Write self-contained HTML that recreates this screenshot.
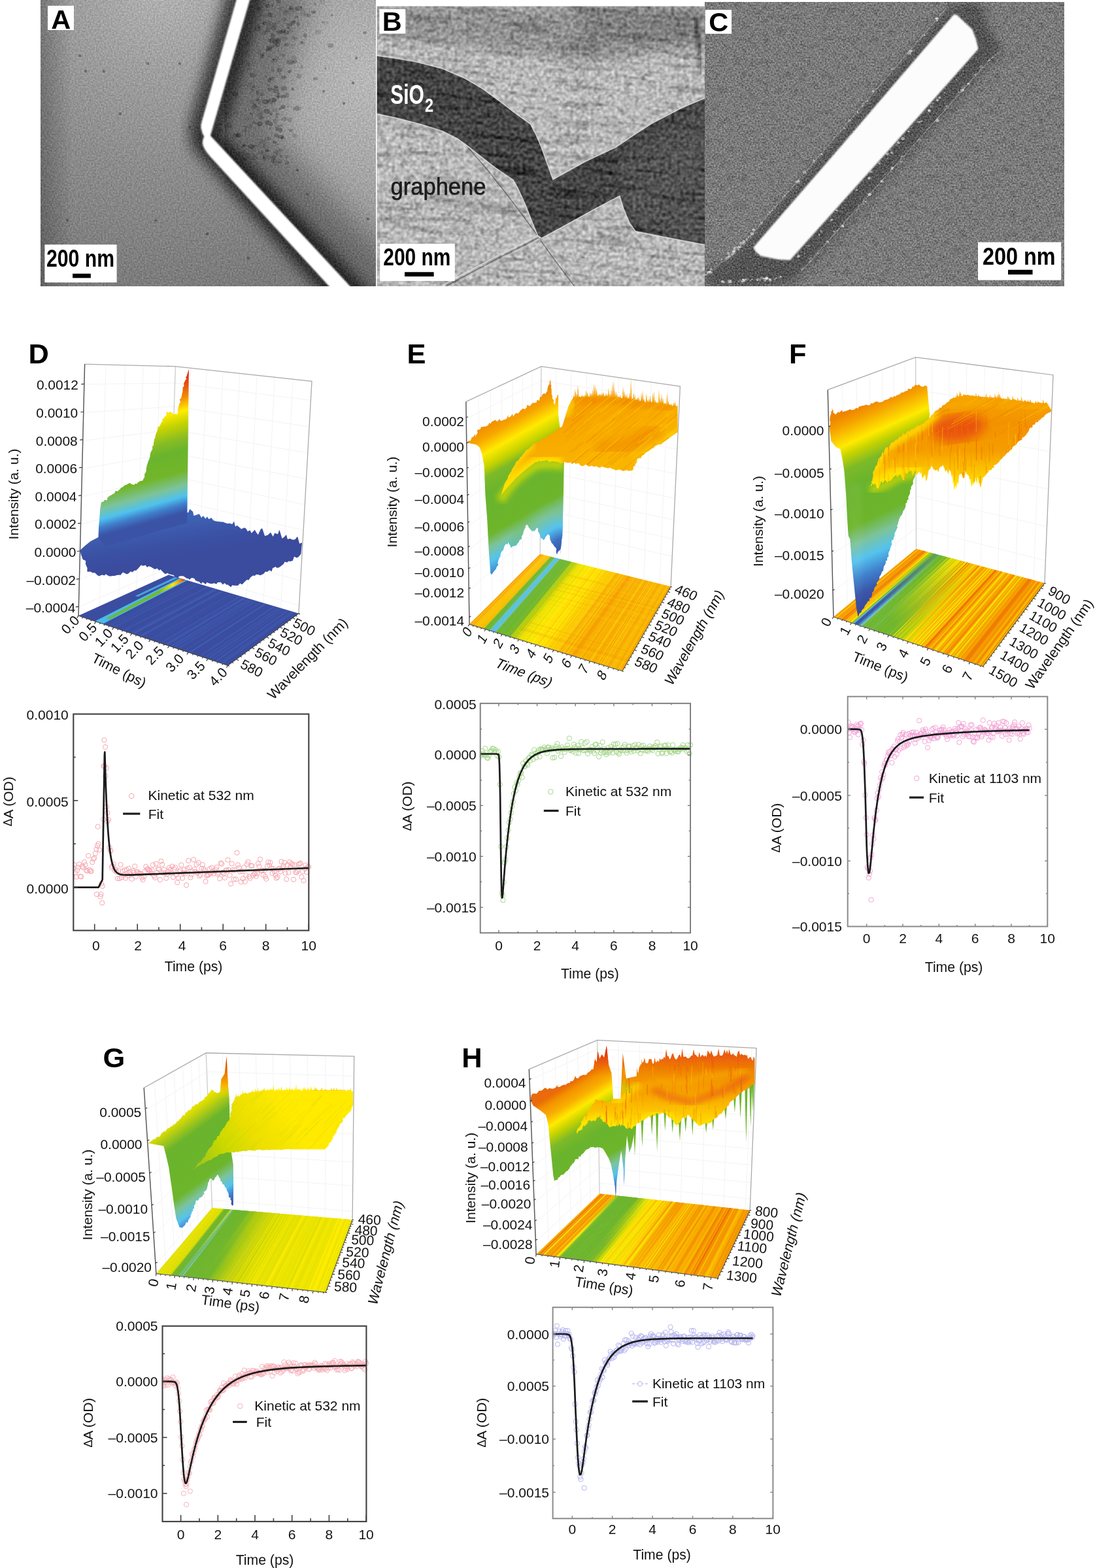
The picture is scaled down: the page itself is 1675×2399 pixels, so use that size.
<!DOCTYPE html>
<html><head><meta charset="utf-8"><title>Figure</title>
<style>
html,body{margin:0;padding:0;background:#fff;}
body{width:1675px;height:2399px;overflow:hidden;position:relative;}
svg{position:absolute;left:0;top:0;display:block;}
text{font-family:"Liberation Sans",sans-serif;}
</style></head><body>
<svg width="1675" height="2399" viewBox="0 0 1675 2399">
<defs>
<filter id="nzA" x="0" y="0" width="100%" height="100%" color-interpolation-filters="sRGB">
 <feTurbulence type="fractalNoise" baseFrequency="0.4" numOctaves="2" seed="3" result="n"/>
 <feColorMatrix in="n" type="matrix" values="1 0 0 0 0  1 0 0 0 0  1 0 0 0 0  0 0 0 0 1" result="g0"/><feGaussianBlur in="g0" stdDeviation="0.6" result="g"/>
 <feComposite in="SourceGraphic" in2="g" operator="arithmetic" k1="0" k2="1" k3="0.26" k4="-0.13"/>
</filter>
<filter id="nzB" x="0" y="0" width="100%" height="100%" color-interpolation-filters="sRGB">
 <feTurbulence type="fractalNoise" baseFrequency="0.22" numOctaves="3" seed="11" result="n"/>
 <feColorMatrix in="n" type="matrix" values="1 0 0 0 0  1 0 0 0 0  1 0 0 0 0  0 0 0 0 1" result="g0"/><feGaussianBlur in="g0" stdDeviation="0.9" result="g"/>
 <feComposite in="SourceGraphic" in2="g" operator="arithmetic" k1="0" k2="1" k3="0.62" k4="-0.31"/>
</filter>
<filter id="nzC" x="0" y="0" width="100%" height="100%" color-interpolation-filters="sRGB">
 <feTurbulence type="fractalNoise" baseFrequency="0.4" numOctaves="2" seed="7" result="n"/>
 <feColorMatrix in="n" type="matrix" values="1 0 0 0 0  1 0 0 0 0  1 0 0 0 0  0 0 0 0 1" result="g0"/><feGaussianBlur in="g0" stdDeviation="0.6" result="g"/>
 <feComposite in="SourceGraphic" in2="g" operator="arithmetic" k1="0" k2="1" k3="0.5" k4="-0.25"/>
</filter>
<filter id="b1"><feGaussianBlur stdDeviation="0.7"/></filter>
<filter id="b15"><feGaussianBlur stdDeviation="1.3"/></filter>
<filter id="b2"><feGaussianBlur stdDeviation="2"/></filter>
<filter id="b4"><feGaussianBlur stdDeviation="4"/></filter>
<filter id="b8"><feGaussianBlur stdDeviation="8"/></filter>
<filter id="b12"><feGaussianBlur stdDeviation="11"/></filter>
<filter id="b14"><feGaussianBlur stdDeviation="14"/></filter>
<filter id="b25"><feGaussianBlur stdDeviation="25"/></filter>
<clipPath id="cA"><rect x="62" y="0" width="513" height="437.6"/></clipPath>
<clipPath id="cB"><rect x="576.6" y="9.5" width="502" height="428.2"/></clipPath>
<clipPath id="cC"><rect x="1078.6" y="3" width="548.6" height="434.5"/></clipPath>
<radialGradient id="gA1" gradientUnits="userSpaceOnUse" cx="255" cy="-30" r="480">
 <stop offset="0" stop-color="#b4b4b4"/><stop offset="0.3" stop-color="#9e9e9e"/><stop offset="0.6" stop-color="#8c8c8c"/><stop offset="1" stop-color="#7a7a7a"/>
</radialGradient>
<radialGradient id="gA4" gradientUnits="userSpaceOnUse" cx="575" cy="120" r="260">
 <stop offset="0" stop-color="#fff" stop-opacity="0.33"/><stop offset="1" stop-color="#fff" stop-opacity="0"/>
</radialGradient>
<linearGradient id="gA2" gradientUnits="userSpaceOnUse" x1="62" y1="0" x2="110" y2="0">
 <stop offset="0" stop-color="#000" stop-opacity="0.22"/><stop offset="1" stop-color="#000" stop-opacity="0"/>
</linearGradient>
<linearGradient id="gA3" gradientUnits="userSpaceOnUse" x1="420" y1="0" x2="575" y2="0">
 <stop offset="0" stop-color="#fff" stop-opacity="0"/><stop offset="1" stop-color="#fff" stop-opacity="0.28"/>
</linearGradient>

<filter id="strk" x="0" y="0" width="100%" height="100%" color-interpolation-filters="sRGB">
 <feTurbulence type="fractalNoise" baseFrequency="0.012 0.11" numOctaves="2" seed="4" result="n"/>
 <feColorMatrix in="n" type="matrix" values="0 0 0 0 0  0 0 0 0 0  0 0 0 0 0  -5 0 0 0 2.35"/>
</filter>
<filter id="blot" x="0" y="0" width="100%" height="100%" color-interpolation-filters="sRGB">
 <feTurbulence type="fractalNoise" baseFrequency="0.09" numOctaves="2" seed="21" result="n"/>
 <feColorMatrix in="n" type="matrix" values="0 0 0 0 0  0 0 0 0 0  0 0 0 0 0  -4 0 0 0 2.0"/>
</filter>
<linearGradient id="gB1" gradientUnits="userSpaceOnUse" x1="0" y1="9" x2="0" y2="95">
 <stop offset="0" stop-color="#000" stop-opacity="0.30"/><stop offset="0.55" stop-color="#000" stop-opacity="0.20"/><stop offset="1" stop-color="#000" stop-opacity="0"/>
</linearGradient>
<clipPath id="cBand"><polygon points="576.0,85.0 607.4,89.5 634.9,94.1 677.0,105.0 712.5,120.5 738.4,135.8 766.5,156.3 785.2,170.8 811.7,190.0 819.8,205.6 828.1,225.0 837.0,250.0 845.9,274.6 894.4,247.5 942.2,225.0 968.0,207.5 996.5,189.0 1043.3,164.7 1080.0,149.2 1080.0,375.0 1015.2,362.6 972.2,354.1 962.8,341.0 953.5,318.6 947.9,299.9 912.3,318.6 874.9,339.2 828.5,364.6 822.5,360.5 813.3,338.0 803.5,313.0 792.0,288.0 785.2,275.5 757.2,256.5 734.7,239.0 716.0,224.0 699.7,212.3 677.0,200.8 644.9,190.5 607.4,180.9 576.0,174.0"/></clipPath>
<linearGradient id="gDs" gradientUnits="userSpaceOnUse" x1="149.9" y1="952.0" x2="284.3" y2="887.4"><stop offset="0.000" stop-color="#4fc1ee"/><stop offset="0.120" stop-color="#66b845"/><stop offset="0.700" stop-color="#74b92a"/><stop offset="0.860" stop-color="#ffe800"/><stop offset="0.940" stop-color="#f39200"/><stop offset="1.000" stop-color="#e2231a"/></linearGradient><linearGradient id="gDf" gradientUnits="userSpaceOnUse" x1="300.0" y1="790.0" x2="310.0" y2="850.0"><stop offset="0.000" stop-color="#3d62b4"/><stop offset="0.500" stop-color="#3b52a5"/><stop offset="1.000" stop-color="#3a4b9d"/></linearGradient><linearGradient id="gDw" gradientUnits="userSpaceOnUse" x1="286.8" y1="565.8" x2="343.8" y2="769.0"><stop offset="0.000" stop-color="#df2319"/><stop offset="0.100" stop-color="#e8500f"/><stop offset="0.190" stop-color="#f39200"/><stop offset="0.275" stop-color="#ffec00"/><stop offset="0.360" stop-color="#c8d400"/><stop offset="0.470" stop-color="#86bc25"/><stop offset="0.550" stop-color="#6ab42d"/><stop offset="0.700" stop-color="#72b62b"/><stop offset="0.800" stop-color="#7cc39a"/><stop offset="0.875" stop-color="#4fc1ee"/><stop offset="0.930" stop-color="#3f7fcb"/><stop offset="0.985" stop-color="#3b55a8"/><stop offset="1.000" stop-color="#3b52a5"/></linearGradient><linearGradient id="gEc" gradientUnits="userSpaceOnUse" x1="754.7" y1="641.8" x2="870.9" y2="846.9"><stop offset="0.000" stop-color="#f08c00"/><stop offset="0.074" stop-color="#f7a400"/><stop offset="0.167" stop-color="#ffea00"/><stop offset="0.247" stop-color="#c4d200"/><stop offset="0.304" stop-color="#7dba28"/><stop offset="0.400" stop-color="#6ab42d"/><stop offset="0.640" stop-color="#6db52c"/><stop offset="0.711" stop-color="#7cc39a"/><stop offset="0.790" stop-color="#55c3ee"/><stop offset="0.870" stop-color="#3f86cf"/><stop offset="0.940" stop-color="#3a55a8"/><stop offset="1.000" stop-color="#37479a"/></linearGradient><clipPath id="cEc"><polygon points="714.5,677.1 716.5,674.6 718.6,674.4 719.7,674.3 722.1,668.5 723.6,669.1 726.8,664.3 727.5,669.3 728.1,665.2 728.7,665.3 730.6,662.6 729.9,659.1 731.0,657.5 734.3,657.1 736.2,653.0 737.4,653.2 739.3,652.7 742.4,652.6 743.5,652.4 746.9,650.3 748.6,646.5 750.3,648.8 751.9,645.5 754.9,643.9 757.3,642.4 760.7,645.1 764.0,641.1 766.0,644.1 768.7,643.3 770.9,641.9 772.1,642.1 775.1,640.5 777.1,635.3 777.8,639.1 780.7,637.4 783.9,633.4 785.2,637.4 787.5,633.5 790.3,631.8 792.0,632.8 794.7,630.2 795.7,628.4 799.2,625.5 800.8,624.8 802.2,626.5 805.7,623.5 806.1,619.4 810.0,621.1 811.5,620.5 813.1,618.0 815.6,616.1 817.1,616.8 820.7,615.5 821.5,611.7 825.0,613.0 825.6,609.1 827.0,606.3 828.7,607.3 829.3,603.9 832.0,602.0 834.5,602.4 835.9,600.0 837.2,598.5 837.5,594.2 839.5,587.3 838.8,589.7 840.5,587.9 840.7,584.5 841.5,580.8 842.7,585.8 842.2,587.5 843.6,590.2 842.9,591.4 843.7,596.3 843.7,598.6 843.9,602.0 843.5,602.4 845.3,606.4 844.6,608.0 845.7,610.8 847.1,612.3 846.8,616.5 848.4,619.0 849.9,614.4 849.8,611.8 850.0,609.5 851.5,608.7 852.8,604.9 852.7,603.2 854.1,605.1 854.1,634.8 862.8,704.7 861.9,757.1 860.2,820.0 859.3,824.8 856.7,851.0 857.7,838.8 855.7,842.4 856.1,841.8 853.0,844.4 852.2,848.0 851.3,846.3 850.7,844.0 851.3,840.5 850.5,838.3 848.1,836.0 847.4,834.7 844.9,831.3 843.9,831.1 843.4,829.1 842.1,826.8 841.4,823.7 841.2,820.0 840.0,817.9 838.8,817.5 837.8,817.1 835.1,820.8 834.4,821.0 833.8,823.1 831.6,826.6 830.1,824.0 827.6,823.2 826.5,819.2 825.4,816.6 824.1,814.8 823.2,812.8 823.1,808.6 820.9,806.9 820.2,808.8 817.6,812.2 815.0,812.3 813.4,812.6 812.0,810.4 810.3,808.6 808.2,805.9 808.2,804.6 805.6,802.6 803.8,805.0 803.9,806.5 801.8,810.4 801.1,812.4 800.5,813.7 800.1,817.3 799.3,818.0 797.8,820.8 798.0,823.5 797.5,825.2 795.2,825.5 793.5,829.4 792.8,830.1 790.5,833.0 790.5,834.0 786.5,835.5 784.5,835.6 782.0,838.2 780.1,834.1 778.5,832.3 777.8,829.6 776.3,833.1 773.6,832.2 771.2,836.4 771.1,836.7 770.6,839.5 769.1,842.7 767.6,843.6 766.3,845.9 765.5,849.3 765.4,852.2 764.4,852.2 762.7,856.3 762.0,858.5 761.2,861.8 762.4,863.9 760.1,867.1 759.2,868.6 759.1,870.1 755.8,873.7 755.5,874.4 754.2,875.9 752.1,879.0 750.3,877.2 747.7,842.3 745.9,807.4 745.1,792.0 742.4,757.1 740.7,713.4 737.2,694.2 733.7,684.6 728.5,680.2 719.7,678.5"/></clipPath><radialGradient id="gEr" gradientUnits="userSpaceOnUse" cx="866" cy="850" r="92"><stop offset="0" stop-color="#37479a"/><stop offset="0.3" stop-color="#3d6fc0"/><stop offset="0.5" stop-color="#55c3ee"/><stop offset="0.72" stop-color="#7cc39a" stop-opacity="0.8"/><stop offset="1" stop-color="#6db52c" stop-opacity="0"/></radialGradient><clipPath id="cEf"><polygon points="865.4,634.8 870.0,620.8 876.9,607.9 877.6,603.9 879.0,609.0 879.7,594.6 881.1,608.6 881.8,600.5 883.2,608.1 883.9,588.5 885.3,608.0 886.0,605.5 887.4,607.3 888.1,608.0 889.5,606.4 890.2,604.2 891.6,607.3 892.3,605.8 893.7,607.2 894.4,604.3 895.7,606.4 896.4,596.7 897.8,607.3 898.5,598.9 899.8,607.2 900.5,605.6 901.8,607.4 902.5,600.4 903.8,606.8 904.5,600.8 905.9,606.0 906.6,595.1 907.9,606.0 908.6,586.2 909.9,606.3 910.6,588.1 911.9,605.5 912.6,594.3 914.0,607.1 914.7,604.2 916.0,605.3 916.7,602.2 918.0,606.1 918.7,602.2 920.1,606.3 920.8,601.0 922.1,606.1 922.8,599.3 924.1,605.1 924.8,605.7 926.1,606.1 926.8,601.0 928.1,606.6 928.8,602.5 930.1,607.0 930.8,593.0 932.1,606.2 932.8,602.5 934.1,606.9 934.8,595.3 936.1,607.5 936.8,583.9 938.1,608.3 938.8,580.7 940.1,607.8 940.8,597.5 942.1,608.0 942.8,599.0 944.1,608.2 944.8,604.4 946.1,608.8 946.8,606.4 948.1,608.2 948.8,603.9 950.2,609.7 950.9,608.8 952.2,609.5 952.9,590.1 954.2,609.6 954.9,596.6 956.2,609.4 956.9,603.3 958.3,609.8 959.0,602.8 960.3,611.0 961.0,607.5 962.3,611.2 963.0,599.3 964.3,610.6 965.0,578.6 966.4,612.2 967.1,609.2 968.4,611.1 969.1,600.9 970.4,612.0 971.1,603.5 972.5,612.8 973.2,610.6 974.5,611.8 975.2,606.9 976.5,613.2 977.2,606.4 978.4,614.0 979.1,613.2 980.3,613.2 981.0,600.2 982.3,614.4 983.0,596.6 984.2,614.6 984.9,609.1 986.1,615.0 986.8,615.1 988.0,614.2 988.7,601.5 990.0,614.3 990.7,612.3 991.9,615.9 992.6,609.2 993.8,615.5 994.5,605.0 995.7,615.6 996.4,614.7 997.6,615.5 998.3,599.5 999.6,615.5 1000.3,597.2 1001.5,617.2 1002.2,611.5 1003.4,616.2 1004.1,615.4 1005.3,617.0 1006.0,614.2 1007.2,618.1 1007.9,595.3 1009.3,617.8 1010.0,609.0 1011.3,617.6 1012.0,601.8 1013.4,617.4 1014.1,609.1 1015.4,618.7 1016.1,616.2 1017.5,618.0 1018.2,616.1 1019.5,620.0 1020.2,600.8 1021.6,620.3 1022.3,612.1 1023.6,619.4 1024.3,618.4 1025.7,620.5 1026.4,616.8 1027.7,621.2 1028.4,620.3 1029.8,620.7 1030.5,615.1 1031.8,620.8 1032.5,614.0 1033.8,620.9 1034.5,620.4 1035.9,622.2 1036.6,617.7 1036.6,622.6 1036.6,661.0 1012.1,678.5 1010.6,680.2 1008.8,679.6 1005.9,680.8 1003.9,681.5 1001.6,682.8 999.6,685.7 997.6,685.9 993.9,688.8 993.7,688.8 990.7,691.1 989.9,691.3 987.6,692.2 984.5,696.2 982.9,696.2 981.1,698.5 980.3,701.2 978.3,700.9 974.8,701.7 974.3,705.2 973.8,708.0 971.5,710.5 971.9,712.4 970.2,712.7 968.6,715.2 968.8,718.6 965.6,720.6 965.1,719.5 962.0,720.8 960.0,719.6 957.5,719.4 954.5,720.4 952.1,720.6 950.4,719.3 946.6,718.3 944.6,719.1 941.8,719.8 938.9,717.7 936.9,717.5 935.3,717.0 933.3,715.2 930.4,716.8 927.5,715.8 924.6,714.9 921.9,714.0 919.5,714.0 917.9,715.7 913.9,714.6 912.4,713.1 909.7,714.3 908.1,713.8 904.6,712.4 902.0,713.7 899.6,713.4 897.3,710.9 895.4,710.8 892.4,713.0 889.3,712.9 886.8,711.0 885.8,709.3 883.6,708.8 880.7,709.9 878.8,707.8 874.8,709.7 872.5,707.3 870.0,707.9 868.4,708.3 865.6,707.5 863.6,706.9 861.3,707.3 860.0,708.9 856.8,708.8 854.2,707.2 853.4,706.5 850.7,706.5 847.7,705.8 844.6,705.4 842.7,706.5 839.4,706.6 836.6,703.9 835.9,704.0 832.4,705.4 830.5,704.9 826.8,706.3 824.3,704.5 823.0,707.2 820.0,706.4 807.1,716.0 789.6,730.9 775.6,746.6 766.9,757.1 772.1,739.6 774.1,737.1 773.8,736.1 775.7,733.9 777.4,729.8 777.2,728.1 778.9,726.3 780.2,723.4 780.9,722.9 782.4,720.9 782.7,718.9 784.6,715.8 786.8,713.2 786.3,712.5 788.2,710.4 788.9,707.4 790.3,706.1 792.7,704.4 795.0,701.4 795.2,699.3 796.8,699.2 799.0,696.3 800.5,694.4 802.0,692.7 804.2,689.6 804.7,688.4 808.3,687.0 809.6,685.8 811.2,683.7 813.5,682.2 815.1,679.2 818.4,677.9 820.7,678.5 821.7,675.6 824.3,676.1 826.9,672.9 829.0,672.6 830.7,670.9 833.2,669.7 835.4,668.9 838.6,666.8 840.3,664.9 842.6,664.3 844.1,663.6 845.5,662.0 848.5,659.3 849.2,658.5 852.2,658.5 854.0,655.2 856.7,654.2 858.9,653.1 860.0,652.3"/></clipPath><linearGradient id="gEf" gradientUnits="userSpaceOnUse" x1="905.0" y1="600.0" x2="935.0" y2="700.0"><stop offset="0.000" stop-color="#f49a00"/><stop offset="0.500" stop-color="#f8aa00"/><stop offset="1.000" stop-color="#f9b400"/></linearGradient><linearGradient id="mFg" gradientUnits="userSpaceOnUse" x1="1383.3" y1="979.7" x2="1495.5" y2="864.9"><stop offset="0.05" stop-color="#000"/><stop offset="0.95" stop-color="#fff"/></linearGradient><mask id="mF" maskUnits="userSpaceOnUse" x="1270" y="835" width="333" height="190"><rect x="1270" y="835" width="333" height="190" fill="url(#mFg)"/></mask><linearGradient id="gFc" gradientUnits="userSpaceOnUse" x1="1287.2" y1="634.8" x2="1407.5" y2="899.2"><stop offset="0.000" stop-color="#ee8500"/><stop offset="0.055" stop-color="#f6a200"/><stop offset="0.154" stop-color="#ffea00"/><stop offset="0.206" stop-color="#c4d200"/><stop offset="0.274" stop-color="#7dba28"/><stop offset="0.360" stop-color="#6ab42d"/><stop offset="0.560" stop-color="#6db52c"/><stop offset="0.647" stop-color="#7cc39a"/><stop offset="0.733" stop-color="#55c3ee"/><stop offset="0.820" stop-color="#3f80cc"/><stop offset="0.900" stop-color="#3a55a8"/><stop offset="1.000" stop-color="#37479a"/></linearGradient><clipPath id="cFc"><polygon points="1268.9,655.8 1268.4,652.8 1269.7,651.8 1270.0,648.1 1270.1,645.5 1269.3,643.7 1269.5,639.0 1269.5,637.9 1271.3,632.9 1271.5,631.8 1270.7,629.3 1272.9,629.5 1272.6,624.7 1274.7,628.6 1274.7,631.5 1277.3,633.1 1277.5,634.8 1280.7,631.5 1282.0,630.2 1284.2,631.1 1287.9,627.2 1288.9,630.2 1293.0,629.0 1294.9,628.5 1298.1,627.3 1300.1,626.3 1302.1,627.1 1304.1,627.5 1308.0,625.9 1309.4,624.0 1312.6,625.0 1313.7,622.2 1316.3,621.4 1319.0,620.8 1322.5,620.3 1324.8,618.9 1327.1,620.0 1330.3,620.0 1333.0,616.4 1334.9,617.5 1337.7,615.4 1339.8,614.3 1342.9,614.6 1343.9,615.8 1347.8,615.2 1349.8,614.7 1352.5,612.5 1354.8,611.8 1357.0,611.3 1360.1,609.7 1361.9,608.2 1363.0,606.9 1365.5,608.6 1367.4,605.7 1369.5,606.7 1371.4,604.9 1373.6,604.3 1376.5,603.1 1379.1,600.2 1381.2,600.7 1382.6,599.7 1386.1,597.9 1388.1,597.9 1389.0,594.5 1392.3,595.6 1394.7,594.2 1395.9,590.9 1397.6,592.1 1400.0,588.5 1403.2,589.7 1405.9,588.2 1408.3,590.8 1409.6,591.5 1412.4,591.6 1415.4,589.8 1418.2,591.1 1418.9,599.9 1422.2,634.8 1413.0,687.2 1402.5,715.2 1399.0,730.9 1397.0,734.1 1396.6,736.2 1396.8,740.2 1394.5,743.5 1393.5,745.2 1393.8,747.7 1392.2,750.1 1392.1,754.5 1391.3,756.4 1389.1,760.7 1389.9,763.6 1387.7,765.4 1387.0,769.6 1385.2,770.2 1385.3,774.7 1384.4,777.3 1383.8,779.3 1381.7,781.6 1380.6,785.3 1379.4,788.1 1376.9,790.4 1376.5,792.2 1375.4,794.7 1374.4,797.7 1373.6,801.9 1372.2,804.2 1373.0,806.8 1371.2,810.6 1370.4,812.4 1368.6,815.3 1368.2,820.2 1367.3,822.1 1366.5,825.7 1363.9,827.1 1363.7,830.1 1364.5,832.7 1362.2,837.2 1361.6,839.5 1360.9,843.0 1359.6,844.3 1358.9,847.9 1359.6,850.8 1357.2,853.2 1357.1,857.5 1354.8,858.0 1355.1,860.8 1353.4,865.1 1352.1,866.1 1351.3,871.1 1351.0,873.7 1349.5,874.1 1347.8,878.5 1346.9,880.2 1345.2,882.5 1345.3,886.0 1342.4,889.7 1341.0,891.5 1341.4,895.2 1339.7,896.4 1337.3,899.8 1337.0,902.9 1335.8,905.6 1334.1,906.4 1334.3,909.1 1332.9,913.9 1329.8,915.2 1330.2,919.2 1327.3,919.9 1326.3,922.5 1323.0,926.8 1322.3,928.7 1321.3,930.8 1318.0,933.8 1317.5,936.7 1314.7,938.5 1313.4,941.9 1312.5,943.6 1309.9,929.7 1306.4,894.7 1302.9,859.8 1300.3,824.8 1297.7,820.0 1295.9,792.0 1294.2,757.1 1291.6,722.1 1289.0,704.7 1285.5,687.2 1278.5,683.7 1271.5,675.0"/></clipPath><clipPath id="cFf"><polygon points="1332.6,744.8 1332.3,740.9 1334.0,739.7 1332.8,737.1 1334.9,734.6 1334.4,732.4 1335.6,728.7 1335.3,724.7 1335.7,725.5 1335.2,722.4 1337.8,718.5 1338.1,716.9 1339.2,714.0 1339.2,714.1 1341.8,710.9 1342.3,707.7 1343.5,704.8 1343.6,702.2 1345.8,700.2 1346.2,699.4 1348.0,698.1 1349.1,694.0 1349.5,692.2 1352.3,692.0 1352.9,688.4 1355.3,683.4 1356.7,684.5 1356.7,684.9 1359.9,682.8 1361.7,681.2 1362.1,678.7 1364.6,676.6 1366.3,676.5 1368.4,674.7 1370.0,672.4 1373.5,672.3 1374.0,670.2 1376.5,667.5 1378.8,668.6 1381.3,662.3 1384.0,664.5 1385.0,664.5 1387.0,660.8 1389.1,659.1 1391.9,659.6 1393.9,656.5 1396.7,655.9 1397.8,655.9 1400.6,653.3 1402.5,650.7 1405.5,650.6 1408.1,650.5 1409.9,648.2 1412.1,648.3 1414.5,646.3 1415.5,643.6 1418.8,643.1 1421.0,639.0 1423.0,638.9 1424.3,635.7 1425.5,635.5 1427.5,633.0 1429.3,630.8 1431.4,628.5 1434.0,627.4 1436.2,625.9 1437.3,623.5 1439.8,624.1 1442.3,619.4 1442.9,619.9 1446.0,618.7 1447.6,616.8 1449.2,615.5 1452.0,614.1 1453.7,610.6 1456.3,610.3 1455.6,609.6 1456.3,609.1 1457.5,609.9 1458.2,607.4 1459.4,608.5 1460.1,608.9 1461.3,608.6 1462.0,606.5 1463.2,607.9 1463.9,599.5 1465.1,607.9 1465.8,604.2 1467.0,607.5 1467.7,597.2 1468.9,606.2 1469.6,598.4 1470.8,605.9 1471.5,606.0 1472.7,606.0 1473.4,602.3 1474.6,605.0 1475.3,603.4 1476.5,604.5 1477.2,604.1 1478.5,605.1 1479.2,603.5 1480.4,604.9 1481.1,604.1 1482.4,604.9 1483.1,604.7 1484.3,605.2 1485.0,605.6 1486.3,605.2 1487.0,604.1 1488.2,606.2 1488.9,604.5 1490.1,605.9 1490.8,605.4 1492.1,606.6 1492.8,601.1 1494.0,606.1 1494.7,606.3 1496.0,606.5 1496.7,603.5 1497.9,606.7 1498.6,605.5 1499.8,606.7 1500.5,606.9 1501.8,607.4 1502.5,606.8 1503.7,607.0 1504.4,607.6 1505.7,607.6 1506.4,606.2 1507.6,607.9 1508.3,601.3 1509.5,608.3 1510.2,606.8 1511.5,608.0 1512.2,607.8 1513.4,608.7 1514.1,603.4 1515.4,608.7 1516.1,606.3 1517.3,609.0 1518.0,607.6 1519.2,609.3 1519.9,607.3 1521.2,609.4 1521.9,601.6 1523.1,609.3 1523.8,606.3 1525.1,609.5 1525.8,603.6 1527.0,609.5 1527.7,599.4 1529.0,609.5 1529.7,603.0 1530.9,610.1 1531.6,608.3 1532.8,610.1 1533.5,610.1 1534.8,610.8 1535.5,608.2 1536.7,611.0 1537.4,609.9 1538.7,610.7 1539.4,610.1 1540.6,610.9 1541.3,605.6 1542.5,611.2 1543.2,606.9 1544.5,611.2 1545.2,610.9 1546.4,612.0 1547.1,612.0 1548.4,611.6 1549.1,605.0 1550.3,611.8 1551.0,609.2 1552.2,612.7 1552.9,610.3 1554.2,612.5 1554.9,612.1 1556.1,613.4 1556.8,607.5 1558.1,613.4 1558.8,612.5 1560.0,613.3 1560.7,611.8 1561.9,614.2 1562.6,606.0 1563.9,614.3 1564.6,614.1 1565.8,615.0 1566.5,611.2 1567.8,614.4 1568.5,611.5 1569.7,614.9 1570.4,613.6 1571.6,615.6 1572.3,611.1 1573.6,615.9 1574.3,614.0 1575.5,615.9 1576.2,610.5 1577.5,616.1 1578.2,615.9 1579.4,616.2 1580.1,616.0 1581.4,616.9 1582.1,616.8 1583.3,617.1 1584.0,612.7 1585.2,617.0 1585.9,614.7 1587.1,617.3 1587.8,612.9 1589.0,616.6 1589.7,615.0 1591.0,617.0 1591.7,615.8 1592.9,616.9 1593.6,616.6 1594.8,616.8 1595.5,610.8 1596.7,616.6 1597.4,617.0 1598.6,616.9 1599.3,615.4 1600.6,616.5 1601.3,614.6 1601.7,618.2 1602.4,617.3 1602.9,620.7 1603.6,617.9 1604.1,622.4 1604.8,621.0 1605.2,623.8 1605.9,622.7 1606.4,625.4 1607.1,625.8 1607.6,627.8 1608.3,620.5 1608.3,627.8 1608.3,629.6 1605.8,630.8 1603.1,632.1 1599.9,633.8 1597.8,636.0 1596.9,637.8 1594.3,638.9 1592.3,640.9 1588.5,644.1 1587.3,646.1 1584.2,646.0 1583.1,649.3 1579.5,650.3 1579.3,654.1 1575.2,654.8 1573.8,658.7 1573.3,660.2 1570.8,663.3 1569.0,666.0 1566.9,668.2 1563.5,670.0 1563.4,672.9 1560.5,673.7 1558.0,675.1 1555.4,678.8 1554.5,680.4 1551.4,682.0 1549.0,684.0 1547.4,688.1 1545.8,688.3 1542.8,692.0 1540.1,693.2 1538.7,695.2 1537.3,697.0 1534.3,699.4 1531.5,702.7 1529.5,704.1 1528.8,706.3 1525.7,709.0 1523.6,711.1 1520.5,711.8 1520.5,715.8 1517.9,715.7 1516.6,719.3 1512.8,719.6 1511.8,722.5 1510.0,723.8 1507.4,727.4 1505.2,729.7 1503.4,730.9 1500.0,747.3 1499.3,743.6 1498.6,739.6 1498.0,739.2 1497.3,739.8 1496.7,736.1 1496.0,730.4 1495.4,730.2 1494.7,740.8 1493.6,736.5 1492.4,729.8 1491.2,739.0 1490.1,736.1 1488.9,742.8 1487.7,738.0 1486.6,745.4 1485.4,741.5 1484.2,733.0 1483.1,733.4 1481.9,728.2 1480.7,726.5 1479.6,725.9 1478.4,724.9 1477.2,721.0 1475.1,731.2 1472.9,731.5 1470.7,723.7 1468.5,726.5 1467.7,725.8 1466.9,727.9 1466.1,737.8 1465.3,741.2 1464.5,737.9 1463.8,739.7 1463.0,747.7 1462.2,745.0 1461.4,742.5 1460.6,746.2 1459.8,749.6 1459.5,748.6 1459.2,748.4 1458.9,741.3 1458.6,738.8 1458.3,737.1 1458.0,737.9 1457.7,743.4 1457.5,733.5 1457.2,727.0 1456.9,726.0 1456.6,727.2 1456.3,732.6 1454.3,721.9 1452.3,717.7 1450.3,725.5 1448.3,718.8 1446.3,721.7 1444.3,715.7 1442.3,711.5 1440.6,713.5 1438.8,714.3 1437.1,715.8 1435.3,722.7 1433.6,718.1 1431.8,720.6 1430.1,718.9 1428.3,718.4 1426.6,714.8 1424.8,712.6 1423.6,715.6 1422.4,719.6 1421.2,717.5 1420.0,722.4 1418.7,730.8 1417.5,735.3 1416.3,735.8 1415.1,725.9 1413.8,727.8 1412.6,730.3 1411.6,730.0 1410.7,733.0 1409.7,725.1 1408.7,722.1 1407.8,725.9 1406.8,721.1 1405.8,723.3 1404.9,721.7 1403.9,724.0 1401.9,726.8 1399.9,718.8 1397.9,723.9 1395.9,728.5 1393.9,719.6 1391.9,720.9 1389.9,721.8 1387.7,725.7 1385.5,722.8 1383.3,734.3 1381.1,734.5 1378.9,728.3 1376.7,725.4 1374.5,727.3 1372.6,730.3 1370.7,726.1 1368.7,729.0 1366.8,729.6 1364.8,733.0 1362.9,734.8 1361.0,736.0 1359.0,736.1 1357.1,738.6 1354.8,734.6 1352.5,735.6 1350.3,739.3 1348.0,735.8 1345.7,742.6 1343.4,747.6 1341.2,746.4 1338.9,739.1 1336.6,742.0 1334.4,739.5"/></clipPath><linearGradient id="gFf" gradientUnits="userSpaceOnUse" x1="1480.0" y1="605.0" x2="1480.0" y2="745.0"><stop offset="0.000" stop-color="#f7a600"/><stop offset="0.300" stop-color="#f39200"/><stop offset="0.600" stop-color="#f59d00"/><stop offset="0.820" stop-color="#fcc400"/><stop offset="1.000" stop-color="#ffe600"/></linearGradient><linearGradient id="mGg" gradientUnits="userSpaceOnUse" x1="364.5" y1="1962.6" x2="429.1" y2="1856.9"><stop offset="0.05" stop-color="#000"/><stop offset="0.95" stop-color="#fff"/></linearGradient><mask id="mG" maskUnits="userSpaceOnUse" x="234" y="1843" width="310" height="139"><rect x="234" y="1843" width="310" height="139" fill="url(#mGg)"/></mask><linearGradient id="gGc" gradientUnits="userSpaceOnUse" x1="274.7" y1="1701.1" x2="369.5" y2="1832.8"><stop offset="0.000" stop-color="#f2e600"/><stop offset="0.065" stop-color="#dcdc00"/><stop offset="0.145" stop-color="#a6c81a"/><stop offset="0.237" stop-color="#6ab42d"/><stop offset="0.645" stop-color="#6db52c"/><stop offset="0.742" stop-color="#7cc39a"/><stop offset="0.839" stop-color="#55c3ee"/><stop offset="0.914" stop-color="#3f80cc"/><stop offset="1.000" stop-color="#37479a"/></linearGradient><linearGradient id="gGs" gradientUnits="userSpaceOnUse" x1="346.0" y1="1616.0" x2="346.0" y2="1680.0"><stop offset="0.000" stop-color="#e2231a"/><stop offset="0.350" stop-color="#ee6a05"/><stop offset="0.650" stop-color="#f7a600"/><stop offset="1.000" stop-color="#f2e600" stop-opacity="0"/></linearGradient><clipPath id="cGf"><polygon points="295.6,1789.1 297.0,1787.0 299.1,1786.2 301.4,1782.2 302.0,1780.2 304.6,1778.3 306.3,1778.2 308.6,1774.7 309.3,1774.3 311.3,1770.8 313.1,1770.5 314.1,1768.3 315.2,1764.7 316.6,1763.2 317.1,1761.3 318.1,1760.3 320.0,1756.9 320.9,1756.4 323.9,1753.4 325.2,1751.5 325.6,1749.0 326.8,1746.9 327.7,1744.8 330.5,1744.3 331.5,1741.5 332.3,1738.3 335.0,1738.1 336.3,1734.9 336.3,1734.0 338.5,1730.6 340.3,1728.5 340.9,1726.3 342.9,1725.7 343.8,1723.5 345.9,1720.2 347.2,1717.4 348.5,1715.7 350.7,1713.9 351.0,1712.3 351.8,1710.0 352.8,1706.7 351.6,1705.1 352.7,1702.6 354.2,1699.1 354.6,1697.9 353.8,1695.1 354.7,1691.9 354.0,1690.2 355.2,1688.6 357.4,1684.5 358.7,1683.0 359.2,1680.8 358.5,1680.5 359.2,1679.4 360.3,1679.3 361.0,1671.8 362.0,1678.5 362.7,1676.4 363.8,1677.9 364.5,1674.1 365.5,1677.7 366.2,1677.5 367.2,1676.9 367.9,1673.9 369.0,1675.5 369.7,1672.3 370.7,1674.7 371.4,1668.1 372.5,1674.2 373.2,1671.8 374.2,1673.4 374.9,1670.2 376.2,1672.8 376.9,1671.9 378.1,1673.0 378.8,1673.2 380.1,1672.7 380.8,1670.4 382.0,1672.5 382.7,1670.8 383.9,1671.5 384.6,1669.5 385.9,1671.3 386.6,1666.5 387.8,1671.5 388.5,1669.9 389.8,1670.7 390.5,1664.7 391.7,1670.5 392.4,1668.8 393.6,1670.3 394.3,1664.1 395.6,1670.6 396.3,1669.7 397.5,1669.7 398.2,1668.1 399.5,1669.2 400.2,1667.5 401.4,1669.7 402.1,1665.3 403.3,1669.4 404.0,1664.0 405.3,1668.3 406.0,1667.9 407.2,1668.7 407.9,1666.9 409.2,1668.0 409.9,1665.7 411.2,1668.5 411.9,1667.2 413.3,1668.0 414.0,1664.4 415.3,1667.7 416.0,1666.1 417.4,1668.1 418.1,1659.8 419.4,1668.1 420.1,1668.5 421.5,1668.2 422.2,1665.7 423.6,1667.9 424.3,1666.5 425.6,1668.6 426.3,1663.9 427.7,1667.9 428.4,1667.0 429.7,1668.3 430.4,1661.5 431.8,1668.2 432.5,1667.7 433.8,1668.4 434.5,1665.9 435.9,1668.2 436.6,1665.9 437.9,1668.4 438.6,1662.5 440.0,1668.4 440.7,1666.2 442.0,1668.6 442.7,1662.4 444.1,1668.0 444.8,1665.5 446.2,1667.7 446.9,1664.8 448.2,1667.7 448.9,1667.8 450.3,1668.3 451.0,1662.9 452.3,1668.4 453.0,1658.8 454.4,1667.9 455.1,1665.9 456.4,1668.1 457.1,1664.3 458.5,1668.2 459.2,1666.5 460.5,1668.6 461.2,1668.2 462.6,1668.6 463.3,1663.8 464.7,1667.7 465.4,1662.1 466.7,1667.8 467.4,1664.9 468.8,1668.4 469.5,1665.8 470.8,1668.0 471.5,1662.8 472.9,1668.5 473.6,1667.1 474.9,1668.5 475.6,1660.9 477.0,1668.4 477.7,1667.3 479.0,1668.3 479.7,1667.1 481.1,1668.0 481.8,1661.5 483.1,1667.9 483.8,1664.1 485.2,1668.5 485.9,1666.8 487.3,1668.4 488.0,1668.1 489.3,1668.2 490.0,1666.9 491.4,1667.9 492.1,1663.0 493.4,1667.7 494.1,1668.2 495.5,1668.2 496.2,1666.7 497.5,1667.8 498.2,1665.8 499.6,1668.3 500.3,1667.2 501.6,1668.2 502.3,1667.9 503.7,1667.9 504.4,1667.5 505.8,1668.2 506.5,1664.0 507.8,1668.2 508.5,1666.9 509.9,1668.2 510.6,1663.2 511.9,1668.3 512.6,1667.2 514.0,1668.6 514.7,1663.2 515.9,1668.5 516.6,1666.8 517.9,1668.0 518.6,1667.4 519.8,1668.6 520.5,1666.1 521.8,1668.7 522.5,1667.1 523.7,1669.1 524.4,1665.9 525.7,1669.3 526.4,1665.9 527.6,1668.7 528.3,1668.5 529.6,1669.4 530.3,1668.1 531.5,1669.1 532.2,1666.8 533.5,1669.2 534.2,1667.1 535.4,1669.6 536.1,1664.3 537.4,1669.5 538.1,1669.5 539.3,1669.9 540.0,1667.9 540.0,1670.3 540.0,1691.3 538.2,1694.6 537.2,1699.1 535.5,1700.7 533.6,1702.6 530.2,1706.2 528.7,1707.8 527.5,1710.3 524.2,1711.2 524.5,1714.8 522.9,1718.0 520.3,1718.9 518.8,1722.4 518.7,1724.1 515.9,1727.6 515.2,1729.7 514.1,1732.9 513.3,1734.3 510.4,1737.9 509.5,1738.9 509.3,1741.6 507.9,1743.5 506.7,1746.4 503.3,1749.3 502.3,1752.9 500.3,1755.2 499.1,1755.7 497.2,1758.6 444.8,1758.6 441.6,1757.9 438.5,1758.3 436.4,1758.3 433.1,1758.9 429.4,1759.5 425.4,1758.8 422.2,1759.4 419.3,1758.8 417.0,1759.4 414.0,1759.1 412.0,1759.7 408.7,1759.0 405.2,1759.6 400.9,1760.0 398.5,1759.0 395.0,1759.1 393.4,1759.0 390.4,1760.5 386.4,1760.5 383.4,1760.0 379.8,1759.8 377.6,1760.8 375.1,1761.4 372.9,1760.8 369.1,1761.6 365.9,1761.8 364.4,1763.0 361.4,1762.1 358.2,1763.4 355.5,1762.9 351.5,1763.6 348.8,1763.1 345.3,1763.6 342.5,1765.0 339.7,1765.2 337.2,1765.5 334.0,1766.9 332.7,1769.1 330.2,1769.8 326.1,1771.7 325.1,1772.3 322.9,1774.8 318.5,1775.6 316.0,1777.0 313.6,1778.3 312.1,1779.9 309.6,1780.4"/></clipPath><linearGradient id="gGf" gradientUnits="userSpaceOnUse" x1="300.0" y1="1780.0" x2="440.0" y2="1700.0"><stop offset="0.000" stop-color="#9cc41c"/><stop offset="0.300" stop-color="#c8d800"/><stop offset="0.600" stop-color="#ecdf00"/><stop offset="1.000" stop-color="#ffea00"/></linearGradient><linearGradient id="mHg" gradientUnits="userSpaceOnUse" x1="954.9" y1="1936.8" x2="1029.4" y2="1838.7"><stop offset="0.05" stop-color="#000"/><stop offset="0.95" stop-color="#fff"/></linearGradient><mask id="mH" maskUnits="userSpaceOnUse" x="815" y="1821" width="337" height="139"><rect x="815" y="1821" width="337" height="139" fill="url(#mHg)"/></mask><linearGradient id="gHc" gradientUnits="userSpaceOnUse" x1="838.5" y1="1677.8" x2="951.8" y2="1860.6"><stop offset="0.000" stop-color="#ea6a08"/><stop offset="0.050" stop-color="#f39200"/><stop offset="0.120" stop-color="#f9b000"/><stop offset="0.185" stop-color="#ffea00"/><stop offset="0.250" stop-color="#c4d200"/><stop offset="0.320" stop-color="#7dba28"/><stop offset="0.400" stop-color="#6ab42d"/><stop offset="0.580" stop-color="#6db52c"/><stop offset="0.650" stop-color="#7cc39a"/><stop offset="0.720" stop-color="#55c3ee"/><stop offset="0.790" stop-color="#3f80cc"/><stop offset="0.870" stop-color="#37479a"/><stop offset="1.000" stop-color="#37479a"/></linearGradient><linearGradient id="gHs" gradientUnits="userSpaceOnUse" x1="930.0" y1="1600.0" x2="930.0" y2="1650.0"><stop offset="0.000" stop-color="#e2231a"/><stop offset="0.500" stop-color="#ea5b0c"/><stop offset="1.000" stop-color="#f39200" stop-opacity="0"/></linearGradient><clipPath id="cHf"><polygon points="882.1,1732.0 882.1,1730.9 883.5,1727.0 885.2,1725.3 886.4,1724.6 887.5,1722.4 889.0,1720.6 889.1,1716.0 891.6,1713.7 892.3,1711.1 894.1,1708.3 893.9,1708.2 896.6,1706.6 897.8,1703.6 899.1,1700.5 899.9,1698.5 902.6,1697.0 902.4,1696.4 903.5,1694.5 906.1,1689.3 906.6,1690.3 908.5,1687.0 910.4,1685.2 910.0,1682.6 912.6,1682.6 913.4,1682.6 917.5,1684.1 919.7,1683.0 921.1,1683.6 924.8,1684.8 926.2,1684.4 928.4,1686.9 931.6,1685.5 933.8,1685.2 935.2,1686.6 935.2,1681.3 949.2,1681.3 949.2,1681.3 952.7,1611.4 957.9,1649.9 973.7,1646.4 974.3,1632.6 974.9,1638.2 975.5,1640.0 976.2,1641.8 976.8,1639.0 977.4,1635.0 978.0,1633.0 978.7,1630.5 979.3,1630.9 979.9,1628.3 980.5,1627.4 981.2,1629.5 981.8,1619.3 982.4,1626.1 984.1,1625.0 985.9,1618.5 987.6,1626.2 989.4,1626.7 991.1,1626.6 992.9,1620.1 994.6,1620.6 996.4,1620.2 998.1,1626.9 999.9,1627.5 1001.5,1617.7 1003.0,1625.5 1004.6,1624.8 1006.2,1622.2 1007.8,1624.9 1009.4,1619.0 1011.0,1622.0 1012.6,1619.9 1014.2,1620.5 1015.7,1616.7 1017.3,1619.0 1019.1,1605.0 1020.8,1615.7 1022.6,1615.7 1024.3,1621.1 1026.1,1618.5 1027.8,1613.1 1029.6,1611.4 1031.3,1616.8 1033.1,1620.5 1034.8,1620.7 1036.6,1618.6 1038.3,1614.2 1040.0,1613.4 1041.8,1618.0 1043.5,1604.2 1045.3,1616.5 1047.0,1616.9 1048.8,1616.2 1050.5,1618.1 1052.3,1619.6 1054.0,1618.8 1055.8,1617.6 1057.5,1614.9 1059.3,1615.1 1061.0,1605.2 1062.8,1613.5 1064.5,1613.9 1066.2,1616.2 1068.0,1617.5 1069.7,1609.5 1071.6,1617.8 1073.4,1614.2 1075.3,1614.2 1077.1,1616.8 1078.9,1614.5 1080.8,1617.3 1082.6,1607.1 1084.4,1610.1 1086.3,1612.8 1088.1,1606.9 1090.0,1613.2 1091.8,1616.4 1093.6,1616.1 1095.5,1615.6 1097.3,1613.7 1099.2,1603.9 1101.0,1614.7 1102.8,1614.9 1104.7,1615.3 1106.5,1611.5 1108.3,1605.2 1110.2,1612.0 1112.0,1606.2 1113.9,1613.0 1115.7,1605.0 1117.5,1612.9 1119.4,1613.9 1121.2,1611.6 1123.1,1614.2 1124.9,1615.2 1126.7,1617.0 1128.6,1609.7 1130.4,1607.2 1132.3,1614.5 1134.1,1612.1 1135.9,1613.7 1137.8,1614.5 1139.6,1613.6 1141.1,1615.3 1142.6,1613.8 1144.1,1619.7 1145.5,1619.5 1147.0,1617.3 1148.5,1617.6 1150.0,1621.1 1151.5,1623.0 1153.0,1616.6 1154.5,1620.2 1154.5,1658.6 1152.3,1659.2 1150.5,1660.3 1146.9,1662.0 1145.5,1665.2 1142.5,1666.1 1140.4,1667.4 1137.6,1668.5 1134.5,1671.6 1130.9,1673.1 1129.5,1675.5 1127.0,1677.7 1125.1,1680.6 1121.5,1681.7 1121.3,1683.4 1117.4,1685.5 1115.5,1687.9 1114.8,1691.6 1113.5,1692.1 1110.1,1695.2 1107.7,1698.8 1106.4,1699.2 1104.3,1703.4 1101.4,1704.4 1099.3,1705.5 1097.9,1708.9 1093.8,1711.1 1091.4,1712.1 1089.3,1715.0 1088.0,1717.7 1083.9,1718.6 1082.0,1719.9 1079.6,1718.6 1076.7,1719.8 1072.1,1721.5 1069.7,1723.2 1052.3,1705.2 1050.5,1708.7 1048.8,1710.8 1047.0,1710.4 1045.3,1710.0 1043.5,1710.8 1041.8,1714.1 1040.0,1718.0 1038.3,1717.9 1036.6,1720.9 1034.8,1721.8 1033.2,1719.9 1031.6,1718.4 1030.0,1713.3 1028.5,1713.8 1026.9,1711.7 1025.3,1709.5 1023.7,1710.8 1022.1,1707.4 1020.5,1706.9 1018.9,1705.0 1017.3,1701.6 1015.2,1703.2 1013.0,1703.1 1010.8,1703.5 1008.6,1705.0 1006.4,1704.1 1004.2,1703.0 1002.1,1706.9 999.9,1707.3 997.9,1705.0 996.0,1707.8 994.0,1709.7 992.1,1706.9 990.2,1710.6 988.2,1710.8 986.3,1712.9 984.3,1712.8 982.4,1713.9 980.7,1715.5 978.9,1717.7 977.2,1718.0 975.4,1718.2 973.7,1719.3 971.9,1723.1 970.2,1722.6 968.4,1724.3 966.7,1727.6 964.9,1726.6 963.0,1724.4 961.1,1726.2 959.1,1726.7 957.2,1725.7 955.2,1722.3 953.3,1722.0 951.3,1720.1 949.4,1723.3 947.5,1718.7 945.3,1722.8 943.2,1721.4 941.0,1723.2 938.9,1722.8 936.7,1723.0 934.5,1724.2 932.8,1724.5 931.0,1722.9 929.3,1719.0 927.6,1720.3 925.8,1715.9 924.1,1716.5 922.3,1716.3 920.6,1712.2 918.8,1712.2 917.1,1707.9 915.1,1710.0 913.2,1709.6 911.3,1714.5 909.3,1715.1 907.4,1713.6 905.4,1715.9 903.5,1714.2 901.5,1714.1 899.6,1714.6 898.0,1719.4 896.4,1720.0 894.8,1723.6 893.3,1721.2 891.7,1723.2 890.1,1728.5 888.5,1728.8 886.9,1729.9 885.3,1729.7 883.7,1732.7 882.1,1734.6"/></clipPath><linearGradient id="gHf" gradientUnits="userSpaceOnUse" x1="1000.0" y1="1615.0" x2="1000.0" y2="1725.0"><stop offset="0.000" stop-color="#ea5b0c"/><stop offset="0.250" stop-color="#f18a00"/><stop offset="0.550" stop-color="#f7a600"/><stop offset="0.800" stop-color="#fdc800"/><stop offset="1.000" stop-color="#ffe600"/></linearGradient><filter id="b05"><feGaussianBlur stdDeviation="0.45"/></filter><clipPath id="cpD"><rect x="111.3" y="1091.5" width="366.0" height="333.1"/></clipPath><clipPath id="cpE"><rect x="733.7" y="1075.2" width="327.4" height="353.1"/></clipPath><clipPath id="cpF"><rect x="1295.7" y="1064.7" width="311.6" height="353.8"/></clipPath><clipPath id="cpG"><rect x="247.5" y="2027.8" width="317.9" height="301.1"/></clipPath><clipPath id="cpH"><rect x="844.6" y="1999.2" width="342.8" height="325.1"/></clipPath></defs>
<g clip-path="url(#cA)"><g filter="url(#nzA)"><rect x="62" y="0" width="513" height="438" fill="url(#gA1)"/><rect x="62" y="0" width="60" height="438" fill="url(#gA2)"/><polygon points="383,0 575,0 575,438 535,438 322,208" fill="#979797"/><polygon points="383,0 575,0 575,438 535,438 322,208" fill="url(#gA4)"/><g filter="url(#b25)"><polyline points="391.3,-30.0 382.6,0.0 321.9,207.6 535.2,437.6 563.0,467.6" fill="none" stroke="#000" stroke-opacity="0.33" stroke-width="80" transform="translate(46,4)"/></g><g filter="url(#b12)"><polyline points="391.3,-30.0 382.6,0.0 321.9,207.6 535.2,437.6 563.0,467.6" fill="none" stroke="#000" stroke-opacity="0.85" stroke-width="22" transform="translate(6,2)"/><polyline points="370.5,-30.0 362.1,0.0 307.3,194.9 309.6,219.0 505.2,437.6 533.0,467.6" fill="none" stroke="#000" stroke-opacity="0.75" stroke-width="22" transform="translate(-5,0)"/></g><g filter="url(#b1)" fill="#000"><ellipse cx="406.1" cy="155.7" rx="5.4" ry="3.9" opacity="0.26"/><ellipse cx="457.4" cy="116.4" rx="3.4" ry="3.8" opacity="0.17"/><ellipse cx="412.5" cy="61.6" rx="3.7" ry="2.9" opacity="0.08"/><ellipse cx="416.9" cy="54.2" rx="3.2" ry="3.4" opacity="0.23"/><ellipse cx="498.7" cy="34.7" rx="2.8" ry="3.1" opacity="0.08"/><ellipse cx="401.7" cy="217.9" rx="5.9" ry="4.0" opacity="0.13"/><ellipse cx="412.2" cy="240.4" rx="3.9" ry="2.9" opacity="0.12"/><ellipse cx="364.5" cy="235.2" rx="3.9" ry="3.7" opacity="0.15"/><ellipse cx="456.0" cy="36.4" rx="2.4" ry="3.0" opacity="0.21"/><ellipse cx="433.2" cy="84.5" rx="3.4" ry="2.3" opacity="0.17"/><ellipse cx="377.7" cy="78.9" rx="2.7" ry="1.7" opacity="0.08"/><ellipse cx="408.0" cy="187.4" rx="3.0" ry="3.6" opacity="0.23"/><ellipse cx="418.1" cy="91.5" rx="1.6" ry="1.7" opacity="0.26"/><ellipse cx="428.3" cy="49.1" rx="5.3" ry="3.4" opacity="0.26"/><ellipse cx="400.4" cy="86.1" rx="3.1" ry="3.5" opacity="0.22"/><ellipse cx="429.1" cy="199.3" rx="3.0" ry="3.7" opacity="0.26"/><ellipse cx="413.2" cy="22.8" rx="4.1" ry="3.8" opacity="0.26"/><ellipse cx="447.4" cy="136.3" rx="2.5" ry="2.3" opacity="0.11"/><ellipse cx="463.3" cy="19.5" rx="3.7" ry="4.0" opacity="0.09"/><ellipse cx="427.6" cy="246.7" rx="3.2" ry="2.9" opacity="0.13"/><ellipse cx="425.6" cy="148.5" rx="2.2" ry="2.6" opacity="0.25"/><ellipse cx="409.0" cy="8.2" rx="4.1" ry="2.8" opacity="0.10"/><ellipse cx="443.7" cy="182.9" rx="3.1" ry="3.5" opacity="0.16"/><ellipse cx="419.4" cy="37.3" rx="3.8" ry="3.6" opacity="0.17"/><ellipse cx="439.1" cy="249.8" rx="3.2" ry="2.7" opacity="0.22"/><ellipse cx="411.6" cy="72.8" rx="4.0" ry="2.5" opacity="0.26"/><ellipse cx="418.2" cy="156.7" rx="3.0" ry="2.8" opacity="0.10"/><ellipse cx="438.4" cy="68.1" rx="3.5" ry="2.5" opacity="0.23"/><ellipse cx="346.2" cy="173.6" rx="4.5" ry="3.2" opacity="0.15"/><ellipse cx="398.1" cy="176.1" rx="4.7" ry="3.4" opacity="0.14"/><ellipse cx="426.7" cy="236.4" rx="4.0" ry="3.2" opacity="0.08"/><ellipse cx="412.5" cy="136.7" rx="3.9" ry="2.7" opacity="0.20"/><ellipse cx="444.9" cy="199.4" rx="3.2" ry="2.4" opacity="0.22"/><ellipse cx="364.7" cy="207.0" rx="5.0" ry="3.7" opacity="0.27"/><ellipse cx="438.9" cy="239.1" rx="3.5" ry="2.8" opacity="0.11"/><ellipse cx="429.7" cy="209.2" rx="4.5" ry="3.3" opacity="0.22"/><ellipse cx="418.3" cy="43.0" rx="4.4" ry="3.5" opacity="0.21"/><ellipse cx="382.0" cy="105.2" rx="4.3" ry="3.1" opacity="0.09"/><ellipse cx="395.7" cy="40.0" rx="3.5" ry="2.7" opacity="0.12"/><ellipse cx="399.7" cy="171.5" rx="2.7" ry="2.7" opacity="0.09"/><ellipse cx="426.9" cy="33.4" rx="2.2" ry="2.4" opacity="0.12"/><ellipse cx="409.6" cy="8.9" rx="3.9" ry="3.1" opacity="0.13"/><ellipse cx="401.2" cy="225.8" rx="1.8" ry="1.6" opacity="0.13"/><ellipse cx="461.9" cy="102.5" rx="2.1" ry="2.5" opacity="0.20"/><ellipse cx="472.7" cy="23.7" rx="3.1" ry="2.9" opacity="0.19"/><ellipse cx="405.1" cy="239.6" rx="4.7" ry="3.6" opacity="0.15"/><ellipse cx="404.5" cy="35.5" rx="3.8" ry="3.0" opacity="0.26"/><ellipse cx="369.9" cy="242.0" rx="3.0" ry="3.7" opacity="0.10"/><ellipse cx="394.1" cy="141.5" rx="2.8" ry="3.1" opacity="0.20"/><ellipse cx="372.8" cy="222.8" rx="2.2" ry="2.1" opacity="0.26"/><ellipse cx="443.4" cy="94.9" rx="6.0" ry="3.9" opacity="0.19"/><ellipse cx="461.9" cy="65.0" rx="2.7" ry="2.6" opacity="0.27"/><ellipse cx="411.2" cy="122.9" rx="2.7" ry="2.3" opacity="0.10"/><ellipse cx="385.5" cy="155.4" rx="5.1" ry="3.5" opacity="0.08"/><ellipse cx="422.1" cy="133.1" rx="3.5" ry="2.3" opacity="0.23"/><ellipse cx="425.8" cy="61.4" rx="4.1" ry="4.0" opacity="0.20"/><ellipse cx="433.6" cy="118.7" rx="4.0" ry="3.1" opacity="0.22"/><ellipse cx="435.7" cy="29.5" rx="3.1" ry="2.9" opacity="0.14"/><ellipse cx="388.2" cy="132.5" rx="3.0" ry="2.7" opacity="0.22"/><ellipse cx="432.7" cy="147.7" rx="4.1" ry="2.7" opacity="0.25"/><ellipse cx="417.9" cy="136.4" rx="2.3" ry="1.6" opacity="0.16"/><ellipse cx="400.2" cy="143.9" rx="4.2" ry="2.8" opacity="0.15"/><ellipse cx="379.4" cy="98.0" rx="3.5" ry="3.6" opacity="0.14"/><ellipse cx="450.7" cy="207.5" rx="3.7" ry="3.3" opacity="0.13"/><ellipse cx="424.0" cy="195.2" rx="3.5" ry="3.8" opacity="0.17"/><ellipse cx="385.7" cy="137.3" rx="2.5" ry="2.0" opacity="0.23"/><ellipse cx="437.0" cy="17.1" rx="3.1" ry="2.2" opacity="0.23"/><ellipse cx="454.2" cy="165.9" rx="6.3" ry="3.9" opacity="0.21"/><ellipse cx="445.2" cy="12.2" rx="3.5" ry="3.6" opacity="0.20"/><ellipse cx="388.6" cy="238.1" rx="3.5" ry="2.3" opacity="0.11"/><ellipse cx="393.8" cy="152.7" rx="2.4" ry="2.6" opacity="0.20"/><ellipse cx="460.6" cy="10.9" rx="1.5" ry="1.8" opacity="0.19"/><ellipse cx="421.3" cy="185.6" rx="3.4" ry="3.7" opacity="0.16"/><ellipse cx="396.2" cy="78.6" rx="4.2" ry="3.9" opacity="0.09"/><ellipse cx="384.6" cy="174.3" rx="2.6" ry="2.0" opacity="0.18"/><ellipse cx="355.2" cy="227.6" rx="2.8" ry="2.2" opacity="0.13"/><ellipse cx="388.3" cy="187.6" rx="2.6" ry="2.8" opacity="0.12"/><ellipse cx="419.9" cy="92.8" rx="4.4" ry="3.3" opacity="0.10"/><ellipse cx="387.8" cy="167.0" rx="1.6" ry="1.8" opacity="0.19"/><ellipse cx="452.6" cy="59.6" rx="3.4" ry="2.4" opacity="0.09"/><ellipse cx="379.8" cy="181.3" rx="1.6" ry="1.7" opacity="0.26"/><ellipse cx="408.5" cy="170.3" rx="5.2" ry="3.9" opacity="0.24"/><ellipse cx="447.7" cy="34.9" rx="3.4" ry="3.1" opacity="0.12"/><ellipse cx="402.4" cy="83.3" rx="2.3" ry="2.5" opacity="0.24"/><ellipse cx="389.4" cy="162.0" rx="4.0" ry="3.5" opacity="0.24"/><ellipse cx="381.4" cy="129.4" rx="3.8" ry="3.4" opacity="0.10"/><ellipse cx="416.8" cy="8.3" rx="1.7" ry="2.1" opacity="0.25"/><ellipse cx="416.0" cy="120.2" rx="4.1" ry="2.7" opacity="0.20"/><ellipse cx="417.7" cy="107.2" rx="2.4" ry="2.7" opacity="0.11"/><ellipse cx="411.2" cy="39.8" rx="3.4" ry="3.7" opacity="0.13"/><ellipse cx="447.1" cy="69.4" rx="2.0" ry="2.0" opacity="0.12"/><ellipse cx="482.7" cy="120.5" rx="3.9" ry="2.5" opacity="0.21"/><ellipse cx="420.0" cy="168.5" rx="4.3" ry="2.7" opacity="0.10"/><ellipse cx="395.1" cy="167.1" rx="3.1" ry="3.4" opacity="0.12"/><ellipse cx="482.2" cy="6.2" rx="1.9" ry="2.2" opacity="0.16"/><ellipse cx="374.3" cy="243.4" rx="2.8" ry="2.7" opacity="0.22"/><ellipse cx="423.6" cy="179.5" rx="2.0" ry="2.0" opacity="0.21"/><ellipse cx="373.6" cy="235.1" rx="3.2" ry="3.9" opacity="0.09"/><ellipse cx="375.8" cy="194.8" rx="2.2" ry="2.6" opacity="0.18"/><ellipse cx="362.9" cy="247.4" rx="1.6" ry="1.8" opacity="0.25"/><ellipse cx="412.1" cy="122.8" rx="3.2" ry="3.8" opacity="0.13"/><ellipse cx="429.0" cy="12.6" rx="2.5" ry="2.2" opacity="0.14"/><ellipse cx="443.8" cy="12.8" rx="2.7" ry="1.7" opacity="0.11"/><ellipse cx="384.4" cy="127.2" rx="1.9" ry="1.8" opacity="0.10"/><ellipse cx="434.2" cy="135.5" rx="4.9" ry="3.8" opacity="0.24"/><ellipse cx="466.4" cy="53.6" rx="3.5" ry="2.8" opacity="0.15"/><ellipse cx="412.8" cy="156.3" rx="5.1" ry="3.3" opacity="0.14"/><ellipse cx="427.4" cy="112.3" rx="2.0" ry="1.9" opacity="0.10"/><ellipse cx="382.4" cy="193.1" rx="3.7" ry="3.6" opacity="0.10"/><ellipse cx="436.3" cy="20.5" rx="3.3" ry="2.6" opacity="0.13"/><ellipse cx="449.5" cy="15.4" rx="2.8" ry="3.3" opacity="0.12"/><ellipse cx="416.1" cy="71.5" rx="2.7" ry="2.6" opacity="0.22"/><ellipse cx="421.9" cy="139.0" rx="5.0" ry="3.8" opacity="0.22"/><ellipse cx="359.6" cy="143.7" rx="5.0" ry="3.2" opacity="0.22"/><ellipse cx="424.6" cy="175.3" rx="3.3" ry="2.2" opacity="0.15"/><ellipse cx="450.2" cy="32.6" rx="3.0" ry="2.2" opacity="0.13"/><ellipse cx="444.2" cy="15.9" rx="4.3" ry="3.4" opacity="0.09"/><ellipse cx="456.8" cy="12.7" rx="5.7" ry="3.7" opacity="0.20"/><ellipse cx="449.0" cy="57.8" rx="2.9" ry="2.6" opacity="0.14"/><ellipse cx="375.2" cy="181.7" rx="2.2" ry="1.8" opacity="0.11"/><ellipse cx="423.8" cy="198.7" rx="2.0" ry="1.9" opacity="0.25"/><ellipse cx="387.3" cy="115.2" rx="5.3" ry="3.4" opacity="0.18"/><ellipse cx="404.5" cy="242.4" rx="2.7" ry="3.0" opacity="0.23"/><ellipse cx="497.5" cy="104.9" rx="2.1" ry="1.7" opacity="0.17"/><ellipse cx="422.7" cy="220.4" rx="2.5" ry="2.5" opacity="0.13"/><ellipse cx="403.9" cy="50.3" rx="3.4" ry="3.4" opacity="0.15"/><ellipse cx="416.8" cy="62.1" rx="5.8" ry="4.0" opacity="0.24"/><ellipse cx="395.6" cy="154.5" rx="4.3" ry="3.6" opacity="0.09"/><ellipse cx="441.2" cy="42.4" rx="2.5" ry="1.8" opacity="0.25"/><ellipse cx="437.8" cy="49.8" rx="4.8" ry="3.2" opacity="0.20"/><ellipse cx="374.6" cy="200.1" rx="2.0" ry="2.5" opacity="0.18"/><ellipse cx="422.5" cy="146.7" rx="1.9" ry="2.4" opacity="0.14"/><ellipse cx="448.2" cy="95.7" rx="3.7" ry="2.7" opacity="0.16"/><ellipse cx="418.1" cy="245.6" rx="4.4" ry="3.3" opacity="0.18"/><ellipse cx="337.7" cy="199.7" rx="3.1" ry="2.5" opacity="0.21"/><ellipse cx="411.3" cy="130.6" rx="2.0" ry="1.8" opacity="0.19"/><ellipse cx="413.8" cy="189.9" rx="3.5" ry="3.3" opacity="0.26"/><ellipse cx="423.8" cy="68.6" rx="4.6" ry="3.4" opacity="0.26"/><ellipse cx="383.8" cy="224.3" rx="4.8" ry="3.3" opacity="0.22"/><ellipse cx="418.7" cy="152.7" rx="3.7" ry="3.8" opacity="0.27"/><ellipse cx="447.8" cy="136.0" rx="2.0" ry="2.5" opacity="0.15"/><ellipse cx="394.3" cy="44.5" rx="4.9" ry="3.8" opacity="0.15"/><ellipse cx="360.7" cy="172.2" rx="3.8" ry="2.5" opacity="0.12"/><ellipse cx="409.1" cy="76.4" rx="2.9" ry="2.2" opacity="0.25"/><ellipse cx="397.3" cy="41.9" rx="1.8" ry="2.1" opacity="0.19"/><ellipse cx="360.6" cy="207.6" rx="5.1" ry="3.7" opacity="0.16"/><ellipse cx="413.2" cy="75.6" rx="2.9" ry="2.3" opacity="0.26"/><ellipse cx="445.2" cy="46.8" rx="3.8" ry="3.0" opacity="0.11"/><ellipse cx="433.3" cy="47.6" rx="4.0" ry="3.0" opacity="0.21"/><ellipse cx="435.6" cy="182.2" rx="5.6" ry="3.6" opacity="0.14"/><ellipse cx="410.5" cy="212.6" rx="4.9" ry="3.1" opacity="0.12"/><ellipse cx="423.6" cy="174.2" rx="1.8" ry="1.8" opacity="0.11"/><ellipse cx="406.6" cy="23.2" rx="2.5" ry="2.0" opacity="0.10"/><ellipse cx="397.3" cy="189.5" rx="4.8" ry="3.5" opacity="0.26"/><ellipse cx="337.1" cy="239.2" rx="4.9" ry="3.1" opacity="0.10"/><ellipse cx="453.6" cy="25.7" rx="2.9" ry="2.5" opacity="0.21"/><ellipse cx="410.9" cy="185.7" rx="2.0" ry="1.8" opacity="0.18"/><ellipse cx="451.2" cy="93.8" rx="3.4" ry="2.5" opacity="0.17"/><ellipse cx="419.1" cy="240.7" rx="3.3" ry="3.9" opacity="0.22"/><ellipse cx="399.7" cy="180.3" rx="3.0" ry="2.7" opacity="0.22"/><ellipse cx="408.4" cy="229.6" rx="2.6" ry="2.5" opacity="0.17"/><ellipse cx="414.7" cy="174.2" rx="2.5" ry="2.3" opacity="0.24"/><ellipse cx="375.9" cy="129.8" rx="2.0" ry="1.7" opacity="0.13"/><ellipse cx="428.1" cy="166.5" rx="2.2" ry="1.8" opacity="0.27"/><ellipse cx="423.5" cy="135.3" rx="3.9" ry="2.5" opacity="0.10"/><ellipse cx="423.3" cy="88.9" rx="3.7" ry="3.4" opacity="0.08"/><ellipse cx="424.6" cy="62.7" rx="3.0" ry="2.7" opacity="0.18"/><ellipse cx="453.3" cy="13.3" rx="3.1" ry="2.7" opacity="0.10"/><ellipse cx="505.6" cy="69.8" rx="5.3" ry="3.9" opacity="0.18"/><ellipse cx="396.7" cy="13.2" rx="3.4" ry="2.6" opacity="0.25"/><ellipse cx="440.3" cy="161.3" rx="2.6" ry="3.1" opacity="0.08"/><ellipse cx="349.3" cy="192.4" rx="5.5" ry="3.6" opacity="0.15"/><ellipse cx="421.7" cy="249.8" rx="5.2" ry="3.4" opacity="0.11"/><ellipse cx="428.0" cy="248.5" rx="2.4" ry="2.1" opacity="0.13"/><ellipse cx="406.4" cy="117.5" rx="1.8" ry="1.9" opacity="0.17"/><ellipse cx="479.6" cy="18.5" rx="3.8" ry="2.5" opacity="0.25"/><ellipse cx="486.1" cy="49.1" rx="5.0" ry="3.9" opacity="0.11"/><ellipse cx="434.7" cy="59.1" rx="5.9" ry="3.8" opacity="0.09"/><ellipse cx="409.4" cy="46.2" rx="3.7" ry="3.4" opacity="0.23"/><ellipse cx="442.6" cy="38.0" rx="4.5" ry="2.8" opacity="0.21"/><ellipse cx="468.5" cy="22.5" rx="2.7" ry="2.5" opacity="0.17"/><ellipse cx="438.6" cy="145.4" rx="3.9" ry="3.9" opacity="0.19"/><ellipse cx="380.2" cy="65.8" rx="2.3" ry="1.9" opacity="0.21"/><ellipse cx="425.9" cy="2.0" rx="3.9" ry="3.5" opacity="0.18"/><ellipse cx="412.2" cy="152.6" rx="2.3" ry="2.8" opacity="0.15"/><ellipse cx="412.9" cy="86.4" rx="1.7" ry="1.7" opacity="0.17"/><ellipse cx="433.0" cy="163.7" rx="3.9" ry="2.9" opacity="0.26"/><ellipse cx="379.4" cy="237.4" rx="4.1" ry="4.0" opacity="0.11"/><ellipse cx="422.4" cy="233.0" rx="4.1" ry="3.4" opacity="0.15"/><ellipse cx="409.1" cy="231.1" rx="2.9" ry="2.3" opacity="0.24"/><ellipse cx="412.3" cy="34.5" rx="2.9" ry="3.0" opacity="0.17"/><ellipse cx="465.2" cy="15.0" rx="1.9" ry="1.8" opacity="0.11"/><ellipse cx="389.6" cy="241.9" rx="4.8" ry="3.5" opacity="0.13"/><ellipse cx="422.6" cy="207.3" rx="3.4" ry="3.1" opacity="0.20"/><ellipse cx="422.6" cy="61.4" rx="4.0" ry="2.7" opacity="0.11"/><ellipse cx="494.3" cy="34.3" rx="2.4" ry="1.7" opacity="0.19"/><ellipse cx="493.4" cy="2.4" rx="4.2" ry="2.8" opacity="0.09"/><ellipse cx="425.6" cy="147.2" rx="2.6" ry="1.9" opacity="0.20"/><ellipse cx="422.4" cy="153.0" rx="1.6" ry="1.9" opacity="0.21"/><ellipse cx="507.4" cy="23.2" rx="2.1" ry="1.8" opacity="0.20"/><ellipse cx="393.3" cy="223.0" rx="4.6" ry="3.1" opacity="0.10"/><ellipse cx="391.1" cy="188.6" rx="2.3" ry="2.2" opacity="0.08"/><ellipse cx="337.7" cy="189.6" rx="2.5" ry="2.7" opacity="0.12"/><ellipse cx="420.4" cy="65.8" rx="3.7" ry="3.9" opacity="0.10"/><ellipse cx="450.1" cy="88.2" rx="4.1" ry="3.1" opacity="0.11"/><ellipse cx="448.1" cy="34.7" rx="3.8" ry="2.8" opacity="0.16"/><ellipse cx="425.6" cy="143.3" rx="2.7" ry="2.2" opacity="0.18"/><ellipse cx="386.2" cy="225.0" rx="3.9" ry="2.9" opacity="0.16"/><ellipse cx="413.6" cy="196.1" rx="1.9" ry="1.9" opacity="0.15"/><ellipse cx="374.1" cy="222.4" rx="2.9" ry="2.2" opacity="0.20"/><ellipse cx="430.4" cy="239.1" rx="2.1" ry="2.4" opacity="0.20"/><ellipse cx="432.1" cy="211.1" rx="2.5" ry="3.0" opacity="0.26"/><ellipse cx="389.3" cy="96.0" rx="2.5" ry="2.2" opacity="0.14"/><ellipse cx="398.8" cy="24.0" rx="2.4" ry="1.8" opacity="0.16"/><ellipse cx="420.0" cy="217.4" rx="3.2" ry="2.0" opacity="0.23"/><ellipse cx="404.9" cy="224.1" rx="2.5" ry="2.8" opacity="0.16"/><ellipse cx="466.8" cy="56.5" rx="2.0" ry="2.3" opacity="0.18"/><ellipse cx="399.8" cy="233.3" rx="4.5" ry="3.9" opacity="0.10"/><ellipse cx="429.5" cy="192.2" rx="2.9" ry="1.8" opacity="0.18"/><ellipse cx="442.7" cy="109.4" rx="2.8" ry="2.3" opacity="0.26"/><ellipse cx="427.7" cy="107.0" rx="4.2" ry="3.8" opacity="0.20"/><ellipse cx="429.0" cy="229.7" rx="3.5" ry="2.4" opacity="0.18"/><circle cx="122.0" cy="85.0" r="2.2" opacity="0.3"/><circle cx="131.0" cy="109.0" r="2.2" opacity="0.3"/><circle cx="159.0" cy="109.0" r="2.2" opacity="0.3"/><circle cx="226.0" cy="97.0" r="2.2" opacity="0.3"/><circle cx="275.0" cy="97.0" r="2.2" opacity="0.3"/><circle cx="184.0" cy="174.0" r="2.2" opacity="0.3"/><circle cx="290.0" cy="195.0" r="2.2" opacity="0.3"/><circle cx="545.0" cy="89.0" r="2.2" opacity="0.3"/><circle cx="558.0" cy="50.0" r="2.2" opacity="0.3"/><circle cx="495.0" cy="140.0" r="2.2" opacity="0.3"/><circle cx="540.0" cy="127.0" r="2.2" opacity="0.3"/><circle cx="526.0" cy="158.0" r="2.2" opacity="0.3"/><circle cx="380.0" cy="395.0" r="2.2" opacity="0.3"/><circle cx="317.0" cy="358.0" r="2.2" opacity="0.3"/><circle cx="103.0" cy="337.0" r="2.2" opacity="0.3"/><circle cx="455.0" cy="260.0" r="2.2" opacity="0.3"/><circle cx="470.0" cy="297.0" r="2.2" opacity="0.3"/><circle cx="563.0" cy="335.0" r="2.2" opacity="0.3"/><circle cx="238.0" cy="337.0" r="2.2" opacity="0.3"/></g></g><path d="M362.1,-2 L382.6,-2 L321.9,207.6 L535.2,437.6 L536,440 L505.2,440 L321.9,240 Q311,228 309.6,219 Q309.6,213 312.2,209.1 Q308.5,203 307.3,194.9 Q307,190 308.6,186 Z" fill="#fff" filter="url(#b15)"/></g><rect x="73.0" y="8.8" width="40.0" height="37.2" fill="#fff"/><text x="78.3" y="44.3" font-size="41.5" font-weight="bold" fill="#000">A</text><g filter="url(#b1)"><rect x="68.4" y="374.2" width="110.2" height="58.0" fill="#fff"/><text x="71.0" y="408.4" font-size="36.0" font-weight="bold" fill="#000" textLength="104.0" lengthAdjust="spacingAndGlyphs">200 nm</text><rect x="111.1" y="418.7" width="27.7" height="6.6" fill="#000"/></g><g clip-path="url(#cB)"><g filter="url(#nzB)"><rect x="576" y="9" width="504" height="430" fill="#bebebe"/><polygon points="576,9 1080,9 1080,75 900,95 700,70 576,55" fill="#000" opacity="0.2" filter="url(#b8)"/><polygon points="880,9 1080,9 1080,60 900,70" fill="#000" opacity="0.12" filter="url(#b8)"/><g transform="rotate(6 800 220)" opacity="0.17"><rect x="520" y="-60" width="640" height="560" fill="#000" filter="url(#strk)"/></g><rect x="576" y="9" width="504" height="430" fill="#000" opacity="0.16" filter="url(#blot)"/><polyline points="1062,25 1068,60 1072,115" fill="none" stroke="#000" stroke-opacity="0.3" stroke-width="9" filter="url(#b2)"/><polyline points="655,300 700,309 760,318 790,321" fill="none" stroke="#000" stroke-opacity="0.22" stroke-width="9" filter="url(#b4)"/><polyline points="735,352 760,360" fill="none" stroke="#000" stroke-opacity="0.18" stroke-width="8" filter="url(#b4)"/><polygon points="576.0,85.0 607.4,89.5 634.9,94.1 677.0,105.0 712.5,120.5 738.4,135.8 766.5,156.3 785.2,170.8 811.7,190.0 819.8,205.6 828.1,225.0 837.0,250.0 845.9,274.6 894.4,247.5 942.2,225.0 968.0,207.5 996.5,189.0 1043.3,164.7 1080.0,149.2 1080.0,375.0 1015.2,362.6 972.2,354.1 962.8,341.0 953.5,318.6 947.9,299.9 912.3,318.6 874.9,339.2 828.5,364.6 822.5,360.5 813.3,338.0 803.5,313.0 792.0,288.0 785.2,275.5 757.2,256.5 734.7,239.0 716.0,224.0 699.7,212.3 677.0,200.8 644.9,190.5 607.4,180.9 576.0,174.0" fill="#474747" filter="url(#b1)"/><g clip-path="url(#cBand)"><g transform="rotate(6 800 220)" opacity="0.35"><rect x="520" y="-60" width="640" height="560" fill="#000" filter="url(#strk)"/></g><polygon points="940,250 1080,160 1080,375 1000,360 955,320" fill="#fff" opacity="0.07" filter="url(#b8)"/></g></g><g fill="none" stroke="#e2e2e2" stroke-width="1.7" stroke-opacity="0.8" filter="url(#b1)"><polyline points="576.0,85.0 607.4,89.5 634.9,94.1 677.0,105.0 712.5,120.5 738.4,135.8 766.5,156.3 785.2,170.8 811.7,190.0 819.8,205.6 828.1,225.0 837.0,250.0 845.9,274.6 894.4,247.5 942.2,225.0 968.0,207.5 996.5,189.0 1043.3,164.7 1080.0,149.2"/><polyline points="1080.0,375.0 1015.2,362.6 972.2,354.1 962.8,341.0 953.5,318.6 947.9,299.9 912.3,318.6 874.9,339.2 828.5,364.6 822.5,360.5 813.3,338.0 803.5,313.0 792.0,288.0 785.2,275.5 757.2,256.5 734.7,239.0 716.0,224.0 699.7,212.3 677.0,200.8 644.9,190.5 607.4,180.9 576.0,174.0"/><polyline points="822,361 760,392 700,424 675,438" stroke-opacity="0.75"/><polyline points="826,366 764,398 704,430 688,438" stroke-opacity="0.55" stroke-width="1.3"/><polyline points="660,68 690,105" stroke-opacity="0.25" stroke-width="1"/></g><g fill="none" stroke="#3a3a3a" stroke-width="1.6" stroke-opacity="0.55" filter="url(#b1)"><polyline points="824,363.5 762,395 702,427 682,438"/><polyline points="716,226 745,259 775,297 800,330 821,359"/><polyline points="827,368 850,400 878.6,438"/></g></g><g filter="url(#b1)"><text x="597.2" y="159" font-size="42" font-weight="bold" fill="#fff" textLength="51.5" lengthAdjust="spacingAndGlyphs">SiO</text><text x="650" y="171.2" font-size="30" font-weight="bold" fill="#fff" textLength="13" lengthAdjust="spacingAndGlyphs">2</text><text x="597.5" y="298" font-size="37" fill="#1c1c1c" stroke="#1c1c1c" stroke-width="0.7" textLength="146" lengthAdjust="spacingAndGlyphs">graphene</text></g><rect x="580.3" y="14.0" width="40.0" height="37.5" fill="#fff"/><text x="584.8" y="47.4" font-size="41.5" font-weight="bold" fill="#000">B</text><g filter="url(#b1)"><rect x="581.2" y="372.9" width="114.6" height="57.0" fill="#fff"/><text x="586.3" y="406.2" font-size="36.0" font-weight="bold" fill="#000" textLength="103.0" lengthAdjust="spacingAndGlyphs">200 nm</text><rect x="619.0" y="416.3" width="44.6" height="6.7" fill="#000"/></g><g clip-path="url(#cC)"><g filter="url(#nzC)"><rect x="1078" y="3" width="550" height="436" fill="#7c7c7c"/><rect x="1078" y="3" width="550" height="436" fill="#000" opacity="0.10" filter="url(#blot)"/><polygon points="1447.7,12.2 1468.0,3.0 1496.0,3.0 1513.0,48.0 1532.0,77.0 1514.4,90.9 1226.4,414.1 1205.0,432.0 1160.0,438.0 1079.0,438.0 1079.0,412.0 1110.0,395.0 1141.0,368.7" fill="#3c3c3c" opacity="0.28" filter="url(#b8)" transform="translate(8,6)"/><polygon points="1447.7,12.2 1468.0,3.0 1496.0,3.0 1513.0,48.0 1532.0,77.0 1514.4,90.9 1226.4,414.1 1205.0,432.0 1160.0,438.0 1079.0,438.0 1079.0,412.0 1110.0,395.0 1141.0,368.7" fill="#3c3c3c" opacity="0.45" filter="url(#b4)"/><g fill="none" stroke="#bbb" stroke-width="1.5" stroke-opacity="0.45" filter="url(#b1)"><polyline points="1079,420 1110,397 1141,368.7 1447.7,12.2"/><polyline points="1226.4,414.1 1514.4,90.9 1532,77"/></g><g fill="#e0e0e0" filter="url(#b1)"><ellipse cx="1221.2" cy="277.1" rx="2.3" ry="1.9" opacity="0.67"/><ellipse cx="1196.8" cy="301.4" rx="1.3" ry="1.1" opacity="0.36"/><ellipse cx="1364.6" cy="105.5" rx="2.0" ry="1.7" opacity="0.36"/><ellipse cx="1231.1" cy="263.4" rx="2.6" ry="2.2" opacity="0.55"/><ellipse cx="1144.5" cy="362.6" rx="1.3" ry="1.1" opacity="0.69"/><ellipse cx="1390.6" cy="81.3" rx="2.6" ry="2.1" opacity="0.62"/><ellipse cx="1433.4" cy="31.5" rx="1.5" ry="1.3" opacity="0.67"/><ellipse cx="1291.4" cy="196.2" rx="2.1" ry="1.7" opacity="0.46"/><ellipse cx="1252.4" cy="238.6" rx="1.6" ry="1.4" opacity="0.31"/><ellipse cx="1393.6" cy="77.7" rx="2.9" ry="2.4" opacity="0.60"/><ellipse cx="1312.0" cy="172.2" rx="1.3" ry="1.1" opacity="0.59"/><ellipse cx="1275.6" cy="209.3" rx="1.4" ry="1.2" opacity="0.51"/><ellipse cx="1218.5" cy="278.2" rx="2.2" ry="1.8" opacity="0.45"/><ellipse cx="1181.1" cy="322.0" rx="1.5" ry="1.3" opacity="0.37"/><ellipse cx="1200.1" cy="298.8" rx="1.2" ry="1.0" opacity="0.58"/><ellipse cx="1433.0" cy="28.3" rx="2.4" ry="2.0" opacity="0.72"/><ellipse cx="1152.7" cy="351.8" rx="2.5" ry="2.1" opacity="0.67"/><ellipse cx="1335.6" cy="139.4" rx="1.8" ry="1.5" opacity="0.68"/><ellipse cx="1414.1" cy="54.0" rx="1.4" ry="1.2" opacity="0.68"/><ellipse cx="1256.8" cy="236.0" rx="1.3" ry="1.1" opacity="0.74"/><ellipse cx="1327.0" cy="154.5" rx="1.5" ry="1.2" opacity="0.56"/><ellipse cx="1319.5" cy="162.0" rx="1.7" ry="1.4" opacity="0.61"/><ellipse cx="1244.8" cy="246.2" rx="1.4" ry="1.1" opacity="0.59"/><ellipse cx="1174.3" cy="327.5" rx="1.2" ry="1.0" opacity="0.57"/><ellipse cx="1311.8" cy="170.6" rx="1.1" ry="1.0" opacity="0.47"/><ellipse cx="1244.5" cy="244.7" rx="1.1" ry="0.9" opacity="0.75"/><ellipse cx="1177.4" cy="324.5" rx="1.6" ry="1.3" opacity="0.55"/><ellipse cx="1164.6" cy="341.0" rx="1.7" ry="1.5" opacity="0.67"/><ellipse cx="1142.1" cy="366.0" rx="2.0" ry="1.6" opacity="0.73"/><ellipse cx="1299.4" cy="184.4" rx="2.3" ry="1.9" opacity="0.40"/><ellipse cx="1150.7" cy="357.4" rx="2.7" ry="2.3" opacity="0.62"/><ellipse cx="1221.0" cy="277.4" rx="2.6" ry="2.2" opacity="0.38"/><ellipse cx="1320.7" cy="158.5" rx="1.5" ry="1.3" opacity="0.39"/><ellipse cx="1202.9" cy="295.4" rx="1.1" ry="1.0" opacity="0.45"/><ellipse cx="1252.5" cy="387.1" rx="2.2" ry="1.8" opacity="0.25"/><ellipse cx="1448.0" cy="162.7" rx="1.9" ry="1.6" opacity="0.53"/><ellipse cx="1321.4" cy="305.6" rx="1.9" ry="1.6" opacity="0.32"/><ellipse cx="1473.5" cy="133.4" rx="2.6" ry="2.1" opacity="0.36"/><ellipse cx="1313.3" cy="315.6" rx="1.1" ry="1.0" opacity="0.31"/><ellipse cx="1330.1" cy="297.2" rx="2.7" ry="2.2" opacity="0.74"/><ellipse cx="1239.1" cy="400.2" rx="1.3" ry="1.1" opacity="0.65"/><ellipse cx="1321.0" cy="311.4" rx="2.1" ry="1.7" opacity="0.31"/><ellipse cx="1226.8" cy="411.4" rx="2.6" ry="2.2" opacity="0.32"/><ellipse cx="1363.8" cy="258.8" rx="1.7" ry="1.4" opacity="0.65"/><ellipse cx="1288.9" cy="345.9" rx="2.3" ry="1.9" opacity="0.72"/><ellipse cx="1377.9" cy="247.8" rx="1.9" ry="1.6" opacity="0.54"/><ellipse cx="1406.6" cy="214.9" rx="2.7" ry="2.2" opacity="0.31"/><ellipse cx="1266.0" cy="369.9" rx="2.5" ry="2.1" opacity="0.52"/><ellipse cx="1314.6" cy="319.2" rx="1.6" ry="1.3" opacity="0.29"/><ellipse cx="1239.4" cy="395.3" rx="2.4" ry="2.0" opacity="0.30"/><ellipse cx="1434.2" cy="184.2" rx="2.9" ry="2.4" opacity="0.65"/><ellipse cx="1349.1" cy="277.5" rx="2.6" ry="2.1" opacity="0.61"/><ellipse cx="1311.1" cy="321.3" rx="1.3" ry="1.1" opacity="0.40"/><ellipse cx="1513.2" cy="92.0" rx="1.6" ry="1.3" opacity="0.64"/><ellipse cx="1354.0" cy="266.5" rx="1.1" ry="0.9" opacity="0.38"/><ellipse cx="1323.8" cy="308.6" rx="1.5" ry="1.3" opacity="0.68"/><ellipse cx="1471.9" cy="137.9" rx="2.9" ry="2.4" opacity="0.63"/><ellipse cx="1364.8" cy="256.7" rx="1.9" ry="1.6" opacity="0.70"/><ellipse cx="1379.7" cy="239.4" rx="1.8" ry="1.5" opacity="0.49"/><ellipse cx="1281.6" cy="352.8" rx="1.1" ry="1.0" opacity="0.66"/><ellipse cx="1276.2" cy="354.7" rx="2.1" ry="1.8" opacity="0.40"/><ellipse cx="1481.3" cy="128.0" rx="2.0" ry="1.7" opacity="0.67"/><ellipse cx="1289.1" cy="345.9" rx="2.2" ry="1.9" opacity="0.46"/><ellipse cx="1500.7" cy="102.0" rx="2.6" ry="2.2" opacity="0.32"/><ellipse cx="1466.8" cy="141.2" rx="1.2" ry="1.0" opacity="0.50"/><ellipse cx="1492.0" cy="113.8" rx="2.0" ry="1.6" opacity="0.55"/><ellipse cx="1296.7" cy="335.5" rx="1.1" ry="0.9" opacity="0.47"/><ellipse cx="1444.5" cy="167.9" rx="1.5" ry="1.2" opacity="0.28"/><ellipse cx="1122.1" cy="383.8" rx="2.7" ry="2.3" opacity="0.62"/><ellipse cx="1087.0" cy="416.6" rx="2.8" ry="2.3" opacity="0.66"/><ellipse cx="1131.3" cy="378.1" rx="2.4" ry="2.0" opacity="0.58"/><ellipse cx="1114.6" cy="388.7" rx="1.3" ry="1.1" opacity="0.61"/><ellipse cx="1114.1" cy="387.5" rx="2.2" ry="1.9" opacity="0.56"/><ellipse cx="1111.9" cy="394.9" rx="2.7" ry="2.2" opacity="0.44"/><ellipse cx="1129.5" cy="378.2" rx="2.1" ry="1.8" opacity="0.46"/><ellipse cx="1136.6" cy="371.9" rx="2.8" ry="2.3" opacity="0.42"/><ellipse cx="1122.4" cy="387.2" rx="2.3" ry="1.9" opacity="0.44"/><ellipse cx="1083.7" cy="415.9" rx="1.8" ry="1.5" opacity="0.66"/><ellipse cx="1129.7" cy="381.8" rx="1.9" ry="1.6" opacity="0.46"/><ellipse cx="1115.0" cy="392.1" rx="1.2" ry="1.0" opacity="0.36"/><ellipse cx="1087.3" cy="411.8" rx="1.6" ry="1.3" opacity="0.73"/><ellipse cx="1093.7" cy="411.2" rx="1.6" ry="1.3" opacity="0.35"/><ellipse cx="1137.7" cy="368.3" rx="1.3" ry="1.1" opacity="0.31"/><ellipse cx="1082.7" cy="416.1" rx="1.5" ry="1.2" opacity="0.33"/><ellipse cx="1080.8" cy="420.0" rx="1.2" ry="1.0" opacity="0.37"/><ellipse cx="1115.7" cy="392.6" rx="2.3" ry="1.9" opacity="0.60"/><ellipse cx="1123.7" cy="385.3" rx="2.6" ry="2.2" opacity="0.33"/><ellipse cx="1082.9" cy="417.7" rx="2.0" ry="1.7" opacity="0.51"/><ellipse cx="1126.1" cy="378.5" rx="2.4" ry="2.0" opacity="0.46"/><ellipse cx="1104.1" cy="397.3" rx="1.6" ry="1.3" opacity="0.54"/><ellipse cx="1115.1" cy="393.3" rx="1.6" ry="1.3" opacity="0.61"/><ellipse cx="1085.7" cy="415.7" rx="1.4" ry="1.1" opacity="0.68"/><ellipse cx="1137.8" cy="369.5" rx="2.5" ry="2.1" opacity="0.36"/><ellipse cx="1096.3" cy="402.7" rx="1.9" ry="1.6" opacity="0.30"/><ellipse cx="1123.0" cy="384.2" rx="1.8" ry="1.5" opacity="0.60"/><ellipse cx="1092.8" cy="407.3" rx="1.7" ry="1.4" opacity="0.25"/><ellipse cx="1132.3" cy="372.8" rx="1.3" ry="1.1" opacity="0.65"/><ellipse cx="1129.5" cy="377.8" rx="1.8" ry="1.5" opacity="0.32"/><ellipse cx="1079.2" cy="420.0" rx="1.5" ry="1.3" opacity="0.33"/><ellipse cx="1133.1" cy="371.5" rx="1.7" ry="1.4" opacity="0.63"/><ellipse cx="1123.6" cy="380.0" rx="2.4" ry="2.0" opacity="0.53"/><ellipse cx="1119.9" cy="389.5" rx="2.5" ry="2.1" opacity="0.55"/><ellipse cx="1433.9" cy="153.6" rx="2.1" ry="1.7" opacity="0.66"/><ellipse cx="1390.3" cy="201.3" rx="1.1" ry="0.9" opacity="0.64"/><ellipse cx="1310.3" cy="290.8" rx="1.6" ry="1.3" opacity="0.53"/><ellipse cx="1329.5" cy="273.1" rx="2.1" ry="1.8" opacity="0.53"/><ellipse cx="1437.5" cy="149.2" rx="2.0" ry="1.7" opacity="0.63"/><ellipse cx="1421.4" cy="169.8" rx="2.7" ry="2.2" opacity="0.53"/><ellipse cx="1371.0" cy="221.0" rx="1.5" ry="1.3" opacity="0.47"/><ellipse cx="1357.8" cy="242.1" rx="1.2" ry="1.0" opacity="0.42"/><ellipse cx="1425.2" cy="163.0" rx="2.6" ry="2.2" opacity="0.33"/><ellipse cx="1434.0" cy="153.0" rx="2.1" ry="1.8" opacity="0.28"/><ellipse cx="1329.9" cy="272.4" rx="2.4" ry="2.0" opacity="0.53"/><ellipse cx="1332.4" cy="262.7" rx="2.3" ry="1.9" opacity="0.47"/><ellipse cx="1421.3" cy="168.8" rx="1.8" ry="1.5" opacity="0.69"/><ellipse cx="1252.9" cy="359.6" rx="1.2" ry="1.0" opacity="0.73"/><ellipse cx="1381.2" cy="212.0" rx="2.8" ry="2.3" opacity="0.51"/><ellipse cx="1357.1" cy="235.5" rx="2.5" ry="2.1" opacity="0.57"/><ellipse cx="1280.1" cy="321.7" rx="1.8" ry="1.5" opacity="0.72"/><ellipse cx="1462.7" cy="121.3" rx="1.1" ry="1.0" opacity="0.66"/><ellipse cx="1272.0" cy="336.3" rx="2.0" ry="1.6" opacity="0.73"/><ellipse cx="1256.6" cy="354.0" rx="2.4" ry="2.0" opacity="0.26"/><ellipse cx="1374.4" cy="218.2" rx="2.3" ry="1.9" opacity="0.73"/><ellipse cx="1404.2" cy="186.8" rx="2.2" ry="1.8" opacity="0.37"/><ellipse cx="1345.6" cy="248.7" rx="2.4" ry="2.0" opacity="0.28"/><ellipse cx="1362.9" cy="230.0" rx="2.1" ry="1.7" opacity="0.28"/><ellipse cx="1221.4" cy="391.7" rx="2.4" ry="2.0" opacity="0.69"/><ellipse cx="1409.5" cy="185.4" rx="1.3" ry="1.1" opacity="0.56"/><ellipse cx="1394.3" cy="195.0" rx="1.3" ry="1.1" opacity="0.37"/><ellipse cx="1364.4" cy="233.7" rx="2.4" ry="2.0" opacity="0.54"/><ellipse cx="1236.2" cy="376.1" rx="2.0" ry="1.7" opacity="0.33"/><ellipse cx="1389.4" cy="201.1" rx="1.6" ry="1.4" opacity="0.48"/><ellipse cx="1427.0" cy="157.9" rx="1.9" ry="1.6" opacity="0.37"/><ellipse cx="1406.9" cy="186.6" rx="1.6" ry="1.3" opacity="0.61"/><ellipse cx="1345.0" cy="250.3" rx="1.6" ry="1.3" opacity="0.52"/><ellipse cx="1445.0" cy="142.3" rx="1.1" ry="0.9" opacity="0.64"/><ellipse cx="1157.7" cy="427.6" rx="1.5" ry="1.3" opacity="0.47"/><ellipse cx="1168.2" cy="426.2" rx="1.3" ry="1.1" opacity="0.69"/><ellipse cx="1142.4" cy="427.1" rx="2.7" ry="2.2" opacity="0.30"/><ellipse cx="1137.0" cy="429.9" rx="2.3" ry="1.9" opacity="0.70"/><ellipse cx="1117.9" cy="431.1" rx="2.7" ry="2.2" opacity="0.48"/><ellipse cx="1171.3" cy="426.9" rx="2.4" ry="2.0" opacity="0.73"/><ellipse cx="1135.0" cy="430.6" rx="1.7" ry="1.4" opacity="0.69"/><ellipse cx="1177.9" cy="428.2" rx="2.7" ry="2.2" opacity="0.55"/><ellipse cx="1193.6" cy="423.9" rx="2.1" ry="1.8" opacity="0.29"/><ellipse cx="1159.1" cy="428.7" rx="1.6" ry="1.3" opacity="0.66"/><ellipse cx="1140.5" cy="427.8" rx="1.4" ry="1.2" opacity="0.54"/><ellipse cx="1136.5" cy="427.4" rx="1.6" ry="1.4" opacity="0.74"/><ellipse cx="1148.0" cy="429.5" rx="1.8" ry="1.5" opacity="0.29"/><ellipse cx="1160.0" cy="426.5" rx="1.3" ry="1.1" opacity="0.56"/><ellipse cx="1165.5" cy="425.2" rx="2.8" ry="2.3" opacity="0.26"/><ellipse cx="1115.9" cy="430.1" rx="2.5" ry="2.1" opacity="0.62"/><ellipse cx="1174.0" cy="426.5" rx="2.7" ry="2.3" opacity="0.32"/><ellipse cx="1194.2" cy="423.4" rx="1.4" ry="1.1" opacity="0.63"/><ellipse cx="1177.7" cy="427.3" rx="1.5" ry="1.3" opacity="0.68"/><ellipse cx="1150.3" cy="427.2" rx="1.3" ry="1.0" opacity="0.74"/><ellipse cx="1104.4" cy="430.4" rx="1.7" ry="1.4" opacity="0.70"/><ellipse cx="1184.5" cy="427.6" rx="2.2" ry="1.8" opacity="0.26"/><ellipse cx="1172.5" cy="425.5" rx="2.8" ry="2.3" opacity="0.74"/><ellipse cx="1107.6" cy="432.5" rx="1.5" ry="1.3" opacity="0.30"/><ellipse cx="1187.2" cy="425.6" rx="1.6" ry="1.3" opacity="0.53"/><ellipse cx="1106.1" cy="431.2" rx="2.2" ry="1.9" opacity="0.68"/><ellipse cx="1113.9" cy="432.8" rx="1.3" ry="1.1" opacity="0.35"/><ellipse cx="1132.0" cy="428.3" rx="1.2" ry="1.0" opacity="0.58"/><ellipse cx="1138.6" cy="427.9" rx="2.0" ry="1.7" opacity="0.31"/><ellipse cx="1170.1" cy="429.2" rx="1.9" ry="1.6" opacity="0.46"/><ellipse cx="1139.3" cy="428.6" rx="1.8" ry="1.5" opacity="0.34"/><ellipse cx="1130.4" cy="430.7" rx="1.9" ry="1.6" opacity="0.28"/><ellipse cx="1116.0" cy="432.4" rx="1.7" ry="1.4" opacity="0.67"/><ellipse cx="1162.2" cy="428.2" rx="1.7" ry="1.4" opacity="0.54"/></g></g><polygon points="1459.1,22.0 1464.0,23.0 1487.2,44.9 1493.0,60.0 1496.5,74.9 1363.7,225.0 1208.5,398.1 1190.0,397.0 1163.6,391.6 1156.0,385.0 1152.4,378.5 1285.2,225.0" fill="#fcfcfc" filter="url(#b15)"/></g><rect x="1078.7" y="15.0" width="40.4" height="36.7" fill="#fff"/><text x="1084.2" y="47.6" font-size="41.5" font-weight="bold" fill="#000">C</text><g filter="url(#b1)"><rect x="1496.0" y="370.5" width="127.3" height="58.1" fill="#fff"/><text x="1503.0" y="405.0" font-size="37.0" font-weight="bold" fill="#000" textLength="111.5" lengthAdjust="spacingAndGlyphs">200 nm</text><rect x="1542.0" y="412.8" width="37.5" height="7.2" fill="#000"/></g><g fill="none" stroke="#f3f3f3" stroke-width="1"><polyline points="128.8,588.0 267.6,586.1 475.4,612.4"/><polyline points="127.7,631.3 266.4,621.9 473.1,652.9"/><polyline points="126.7,674.3 265.2,657.5 470.8,693.0"/><polyline points="125.6,717.2 264.1,693.0 468.5,732.8"/><polyline points="124.5,759.9 262.9,728.3 466.3,772.2"/><polyline points="123.5,802.3 261.8,763.6 464.1,811.2"/><polyline points="122.4,844.6 260.6,798.6 461.9,849.9"/><polyline points="121.4,886.6 259.5,833.6 459.7,888.3"/><polyline points="120.3,928.5 258.4,868.4 457.6,926.3"/><polyline points="152.0,927.5 161.9,557.9"/><polyline points="181.5,914.2 191.6,558.7"/><polyline points="208.9,901.8 219.1,559.4"/><polyline points="234.3,890.3 244.6,560.0"/><polyline points="280.6,886.3 292.0,563.2"/><polyline points="303.7,893.1 316.2,565.8"/><polyline points="327.5,900.2 341.1,568.5"/><polyline points="352.0,907.4 366.7,571.3"/><polyline points="377.1,914.9 393.1,574.2"/><polyline points="403.0,922.5 420.2,577.1"/><polyline points="429.5,930.4 448.2,580.2"/></g><g fill="none" stroke="#aaaaaa" stroke-width="1.3"><polyline points="129.6,557.1 268.4,560.6 477.0,583.3 456.9,938.5"/><polyline points="268.4,560.6 258.0,879.6" stroke-opacity="0.6"/></g><polyline points="129.6,557.1 120.0,942.0" fill="none" stroke="#5a5a5a" stroke-width="1.5"/><g filter="url(#b1)"><polygon points="120.0,942.0 348.6,1018.0 456.9,938.5 258.0,879.6" fill="#3a4ea1"/><line x1="204.0" y1="969.9" x2="331.7" y2="901.4" stroke="#4a6fc0" stroke-width="1.5" stroke-opacity="0.21"/><line x1="269.5" y1="991.7" x2="388.6" y2="918.3" stroke="#4a6fc0" stroke-width="1.6" stroke-opacity="0.12"/><line x1="165.2" y1="957.0" x2="297.7" y2="891.4" stroke="#4a6fc0" stroke-width="1.8" stroke-opacity="0.18"/><line x1="203.4" y1="969.7" x2="331.1" y2="901.3" stroke="#4a6fc0" stroke-width="2.0" stroke-opacity="0.24"/><line x1="312.6" y1="1006.0" x2="425.9" y2="929.3" stroke="#4a6fc0" stroke-width="1.4" stroke-opacity="0.29"/><line x1="188.8" y1="964.9" x2="318.4" y2="897.5" stroke="#4a6fc0" stroke-width="1.6" stroke-opacity="0.36"/><line x1="254.8" y1="986.8" x2="375.9" y2="914.5" stroke="#4a6fc0" stroke-width="1.7" stroke-opacity="0.30"/><line x1="173.9" y1="959.9" x2="305.3" y2="893.6" stroke="#4a6fc0" stroke-width="1.7" stroke-opacity="0.28"/><line x1="215.1" y1="973.6" x2="341.4" y2="904.3" stroke="#4a6fc0" stroke-width="0.8" stroke-opacity="0.36"/><line x1="245.7" y1="983.8" x2="368.0" y2="912.2" stroke="#4a6fc0" stroke-width="1.7" stroke-opacity="0.36"/><line x1="289.7" y1="998.4" x2="406.2" y2="923.5" stroke="#4a6fc0" stroke-width="1.9" stroke-opacity="0.22"/><line x1="305.9" y1="1003.8" x2="420.1" y2="927.6" stroke="#4a6fc0" stroke-width="1.3" stroke-opacity="0.38"/><line x1="320.6" y1="1008.7" x2="432.8" y2="931.4" stroke="#4a6fc0" stroke-width="0.9" stroke-opacity="0.14"/><line x1="200.3" y1="968.7" x2="328.5" y2="900.5" stroke="#4a6fc0" stroke-width="2.0" stroke-opacity="0.23"/><line x1="273.6" y1="993.1" x2="392.2" y2="919.3" stroke="#4a6fc0" stroke-width="1.2" stroke-opacity="0.25"/><line x1="230.1" y1="978.6" x2="354.4" y2="908.2" stroke="#4a6fc0" stroke-width="1.2" stroke-opacity="0.28"/><line x1="265.9" y1="990.5" x2="385.5" y2="917.4" stroke="#4a6fc0" stroke-width="1.9" stroke-opacity="0.30"/><line x1="330.1" y1="1011.8" x2="441.0" y2="933.8" stroke="#4a6fc0" stroke-width="1.8" stroke-opacity="0.40"/><line x1="281.8" y1="995.8" x2="399.3" y2="921.4" stroke="#4a6fc0" stroke-width="1.0" stroke-opacity="0.36"/><line x1="336.9" y1="1014.1" x2="446.8" y2="935.5" stroke="#4a6fc0" stroke-width="1.9" stroke-opacity="0.27"/><line x1="289.7" y1="998.4" x2="406.1" y2="923.5" stroke="#4a6fc0" stroke-width="1.1" stroke-opacity="0.35"/><line x1="263.9" y1="989.8" x2="383.8" y2="916.9" stroke="#4a6fc0" stroke-width="1.1" stroke-opacity="0.12"/><line x1="315.9" y1="1007.1" x2="428.7" y2="930.2" stroke="#4a6fc0" stroke-width="2.0" stroke-opacity="0.13"/><line x1="305.8" y1="1003.8" x2="420.1" y2="927.6" stroke="#4a6fc0" stroke-width="1.3" stroke-opacity="0.15"/><line x1="213.8" y1="973.2" x2="340.2" y2="904.0" stroke="#4a6fc0" stroke-width="1.7" stroke-opacity="0.36"/><line x1="170.5" y1="958.8" x2="302.4" y2="892.7" stroke="#4a6fc0" stroke-width="1.5" stroke-opacity="0.11"/><line x1="290.5" y1="998.7" x2="406.9" y2="923.7" stroke="#4a6fc0" stroke-width="1.2" stroke-opacity="0.36"/><line x1="340.0" y1="1015.1" x2="449.5" y2="936.3" stroke="#4a6fc0" stroke-width="1.4" stroke-opacity="0.40"/><line x1="216.6" y1="974.1" x2="342.7" y2="904.7" stroke="#4a6fc0" stroke-width="0.9" stroke-opacity="0.28"/><line x1="168.3" y1="958.1" x2="300.5" y2="892.2" stroke="#4a6fc0" stroke-width="1.0" stroke-opacity="0.22"/><line x1="270.6" y1="992.1" x2="389.6" y2="918.6" stroke="#4a6fc0" stroke-width="1.0" stroke-opacity="0.11"/><line x1="318.5" y1="1008.0" x2="431.0" y2="930.8" stroke="#4a6fc0" stroke-width="1.2" stroke-opacity="0.39"/><line x1="324.0" y1="1009.8" x2="435.7" y2="932.2" stroke="#4a6fc0" stroke-width="1.3" stroke-opacity="0.24"/><line x1="254.2" y1="986.6" x2="375.4" y2="914.4" stroke="#4a6fc0" stroke-width="1.6" stroke-opacity="0.28"/><line x1="261.3" y1="989.0" x2="381.5" y2="916.2" stroke="#4a6fc0" stroke-width="1.5" stroke-opacity="0.38"/><line x1="251.8" y1="985.8" x2="373.3" y2="913.8" stroke="#4a6fc0" stroke-width="1.3" stroke-opacity="0.32"/><line x1="203.9" y1="969.9" x2="331.6" y2="901.4" stroke="#4a6fc0" stroke-width="1.2" stroke-opacity="0.39"/><line x1="254.4" y1="986.7" x2="375.5" y2="914.4" stroke="#4a6fc0" stroke-width="1.5" stroke-opacity="0.10"/><line x1="235.3" y1="980.3" x2="359.0" y2="909.5" stroke="#4a6fc0" stroke-width="1.5" stroke-opacity="0.11"/><line x1="271.6" y1="992.4" x2="390.5" y2="918.8" stroke="#4a6fc0" stroke-width="1.6" stroke-opacity="0.12"/><polygon points="145.2,950.4 157.5,954.5 286.2,888.0 274.9,884.6" fill="#4bb9ea"/><polygon points="162.6,945.9 167.9,947.7 284.0,887.3 276.8,885.2" fill="url(#gDs)"/><polygon points="206.9,911.8 210.9,913.1 273.0,884.0 268.3,882.6" fill="#4bb9ea" opacity="0.8"/></g><polygon points="122.3,842.0 130.0,835.0 138.0,828.4 150.2,822.0 200.0,800.0 288.2,784.0 290.3,778.7 295.2,783.0 296.3,789.1 299.2,788.3 304.8,786.2 308.2,792.3 310.7,788.9 314.4,793.7 316.8,790.2 319.3,794.2 323.3,792.3 326.6,796.3 329.6,797.3 332.2,797.7 334.6,797.9 338.6,798.4 341.4,798.5 343.8,799.7 348.1,801.0 351.6,800.8 355.2,801.9 358.0,797.4 360.0,805.8 362.5,803.7 368.0,808.2 368.8,809.5 373.9,807.3 376.7,809.1 378.8,812.9 382.5,811.2 384.7,815.8 389.8,810.4 391.3,813.5 394.7,818.3 399.1,808.9 401.2,808.6 405.1,819.9 409.4,818.8 411.1,817.2 413.9,814.6 417.7,821.0 420.2,815.5 425.0,817.2 427.4,810.5 431.5,823.8 434.4,822.1 438.0,817.9 439.9,825.1 443.9,824.0 447.2,825.8 451.2,825.6 454.6,821.2 455.3,821.3 458.1,831.7 462.1,830.2 460.4,847.6 458.5,849.8 456.4,852.2 453.8,853.5 450.0,851.5 447.9,857.7 444.0,859.0 441.4,858.5 439.3,860.5 435.4,859.5 434.2,862.5 429.3,866.6 426.3,868.4 423.1,868.8 421.8,867.0 417.0,869.3 415.5,874.5 412.5,872.3 408.6,874.9 406.1,874.5 403.1,878.1 398.3,880.3 394.9,878.9 391.6,879.0 389.9,880.9 387.0,880.6 383.0,883.5 380.6,887.6 377.8,886.9 373.9,890.6 370.9,893.7 370.2,894.3 367.2,892.4 363.8,895.9 359.6,895.8 359.0,896.0 355.5,895.3 353.0,898.2 348.5,894.6 346.6,894.7 343.5,891.9 340.8,894.6 337.8,890.8 332.9,891.1 331.1,893.7 327.9,892.3 323.0,893.3 319.4,892.2 316.1,891.0 315.0,894.0 309.6,890.4 308.0,893.6 304.3,889.7 302.9,889.7 298.9,888.0 297.3,885.0 293.3,883.9 289.5,887.0 288.7,885.5 285.0,884.5 280.8,881.5 278.6,881.3 274.4,881.6 272.2,884.2 268.0,883.2 265.5,879.9 261.2,879.0 257.6,877.7 256.6,876.7 252.5,878.2 248.6,874.5 245.3,871.0 243.7,873.1 240.3,869.6 237.1,870.9 234.3,869.6 231.1,867.4 227.6,866.2 225.1,867.9 222.7,864.8 218.8,865.8 215.9,864.4 213.5,867.3 211.1,870.1 208.2,872.8 205.1,873.0 202.6,875.6 199.7,874.2 196.4,877.4 194.2,878.5 190.2,876.8 188.1,875.6 184.2,880.1 181.9,879.4 177.6,880.2 175.7,881.0 172.4,881.0 170.4,881.4 166.8,881.5 161.9,878.4 159.6,880.5 156.3,879.4 151.1,881.5 148.4,879.5 145.0,876.2 141.9,876.4 138.3,874.6 136.0,874.8 133.3,874.4 133.5,869.0 131.5,864.4 130.8,862.3 131.2,858.0 127.7,856.6 126.3,855.2 125.4,852.3 124.3,849.4" fill="url(#gDf)" filter="url(#b1)"/><polygon points="288.9,566.0 288.5,565.8 285.4,575.8 284.0,577.3 285.2,579.7 283.3,582.1 281.9,585.3 280.8,587.3 281.8,589.5 281.4,590.4 279.5,593.2 279.5,597.8 279.3,599.9 278.7,601.4 278.1,605.1 277.4,607.8 276.9,609.3 274.8,611.3 276.0,615.5 273.9,618.4 274.0,618.8 273.4,621.2 272.3,625.8 271.7,626.3 272.3,630.2 270.8,634.3 269.4,632.9 265.4,633.8 263.7,631.8 261.8,630.8 260.4,630.1 257.1,632.0 255.0,629.6 254.0,636.4 251.1,638.0 250.6,639.7 248.0,641.8 248.7,645.5 247.4,645.1 245.1,650.3 243.4,652.6 242.8,653.8 241.3,652.4 241.1,657.0 239.7,661.3 238.6,662.7 239.0,662.9 237.7,666.5 237.5,669.3 235.5,673.2 235.7,675.0 235.2,676.6 234.7,681.7 233.1,682.5 233.2,687.3 231.8,689.4 230.4,692.2 230.0,694.1 229.3,696.8 229.8,697.0 229.0,700.6 227.7,703.4 227.4,704.4 225.8,708.2 225.8,710.3 224.8,710.8 224.6,713.8 223.7,716.2 223.8,718.9 223.1,722.6 221.5,724.5 220.9,727.6 221.4,729.6 219.2,733.1 218.7,734.7 217.7,735.4 215.0,735.8 210.7,738.3 209.6,740.4 207.7,739.8 204.3,742.1 201.4,740.7 198.5,738.9 195.7,740.3 192.9,742.0 190.9,742.2 189.5,743.5 187.3,745.6 185.5,746.0 183.7,748.3 179.9,751.7 177.8,751.3 176.5,751.2 175.0,754.8 172.8,756.0 169.7,757.7 168.0,758.4 166.2,760.0 164.5,761.1 163.7,765.6 160.2,764.8 157.8,767.8 154.9,768.4 153.1,779.8 152.3,792.0 151.0,806.0 150.5,820.0 150.5,822.0 160.0,836.0 286.6,800.0 286.4,787.0" fill="url(#gDw)" filter="url(#b1)"/><g stroke="#333" stroke-width="1.2"><line x1="124.3" y1="587.9" x2="128.8" y2="587.4"/><line x1="123.3" y1="630.5" x2="127.8" y2="630.0"/><line x1="122.2" y1="673.1" x2="126.7" y2="672.6"/><line x1="121.2" y1="715.7" x2="125.7" y2="715.2"/><line x1="120.1" y1="758.3" x2="124.6" y2="757.8"/><line x1="119.0" y1="800.9" x2="123.5" y2="800.4"/><line x1="118.0" y1="843.5" x2="122.5" y2="843.0"/><line x1="116.9" y1="886.1" x2="121.4" y2="885.6"/><line x1="115.8" y1="928.7" x2="120.3" y2="928.2"/><line x1="120.0" y1="942.0" x2="117.8" y2="945.4"/><line x1="126.6" y1="944.2" x2="125.4" y2="946.1"/><line x1="133.3" y1="946.4" x2="132.1" y2="948.3"/><line x1="140.0" y1="948.6" x2="138.8" y2="950.5"/><line x1="146.7" y1="950.9" x2="144.5" y2="954.3"/><line x1="153.4" y1="953.1" x2="152.2" y2="955.0"/><line x1="160.2" y1="955.4" x2="159.0" y2="957.2"/><line x1="167.1" y1="957.6" x2="165.8" y2="959.5"/><line x1="173.9" y1="959.9" x2="171.7" y2="963.3"/><line x1="180.8" y1="962.2" x2="179.6" y2="964.1"/><line x1="187.7" y1="964.5" x2="186.5" y2="966.4"/><line x1="194.6" y1="966.8" x2="193.4" y2="968.7"/><line x1="201.6" y1="969.1" x2="199.4" y2="972.5"/><line x1="208.6" y1="971.5" x2="207.4" y2="973.3"/><line x1="215.7" y1="973.8" x2="214.5" y2="975.7"/><line x1="222.8" y1="976.2" x2="221.6" y2="978.0"/><line x1="229.9" y1="978.5" x2="227.7" y2="981.9"/><line x1="237.0" y1="980.9" x2="235.8" y2="982.8"/><line x1="244.2" y1="983.3" x2="243.0" y2="985.2"/><line x1="251.4" y1="985.7" x2="250.2" y2="987.6"/><line x1="258.7" y1="988.1" x2="256.5" y2="991.5"/><line x1="266.0" y1="990.5" x2="264.8" y2="992.4"/><line x1="273.3" y1="993.0" x2="272.1" y2="994.8"/><line x1="280.7" y1="995.4" x2="279.5" y2="997.3"/><line x1="288.1" y1="997.9" x2="285.9" y2="1001.3"/><line x1="295.5" y1="1000.3" x2="294.3" y2="1002.2"/><line x1="303.0" y1="1002.8" x2="301.8" y2="1004.7"/><line x1="310.5" y1="1005.3" x2="309.3" y2="1007.2"/><line x1="318.0" y1="1007.8" x2="315.8" y2="1011.2"/><line x1="325.6" y1="1010.4" x2="324.4" y2="1012.2"/><line x1="333.2" y1="1012.9" x2="332.0" y2="1014.8"/><line x1="340.9" y1="1015.4" x2="339.7" y2="1017.3"/><line x1="348.6" y1="1018.0" x2="346.4" y2="1021.4"/><line x1="348.6" y1="1018.0" x2="350.6" y2="1019.1"/><line x1="355.1" y1="1013.3" x2="357.0" y2="1014.4"/><line x1="361.4" y1="1008.6" x2="365.0" y2="1010.6"/><line x1="367.6" y1="1004.1" x2="369.6" y2="1005.2"/><line x1="373.7" y1="999.6" x2="375.7" y2="1000.7"/><line x1="379.6" y1="995.2" x2="381.6" y2="996.3"/><line x1="385.5" y1="990.9" x2="389.1" y2="992.9"/><line x1="391.2" y1="986.7" x2="393.2" y2="987.8"/><line x1="396.8" y1="982.6" x2="398.8" y2="983.7"/><line x1="402.4" y1="978.5" x2="404.3" y2="979.6"/><line x1="407.8" y1="974.6" x2="411.4" y2="976.6"/><line x1="413.1" y1="970.6" x2="415.1" y2="971.7"/><line x1="418.3" y1="966.8" x2="420.3" y2="967.9"/><line x1="423.5" y1="963.1" x2="425.4" y2="964.2"/><line x1="428.5" y1="959.4" x2="432.1" y2="961.4"/><line x1="433.4" y1="955.7" x2="435.4" y2="956.8"/><line x1="438.3" y1="952.2" x2="440.3" y2="953.3"/><line x1="443.1" y1="948.7" x2="445.0" y2="949.8"/><line x1="447.8" y1="945.2" x2="451.4" y2="947.2"/><line x1="452.4" y1="941.8" x2="454.3" y2="942.9"/><line x1="456.9" y1="938.5" x2="458.9" y2="939.6"/></g><polyline points="120.0,942.0 348.6,1018.0 456.9,938.5" fill="none" stroke="#444" stroke-width="1.3"/><text x="119.8" y="588.8" font-size="20.9" text-anchor="end" dominant-baseline="central" fill="#111">0.0012</text><text x="119.2" y="631.4" font-size="20.9" text-anchor="end" dominant-baseline="central" fill="#111">0.0010</text><text x="118.7" y="674.0" font-size="20.9" text-anchor="end" dominant-baseline="central" fill="#111">0.0008</text><text x="118.1" y="716.6" font-size="20.9" text-anchor="end" dominant-baseline="central" fill="#111">0.0006</text><text x="117.5" y="759.2" font-size="20.9" text-anchor="end" dominant-baseline="central" fill="#111">0.0004</text><text x="117.0" y="801.8" font-size="20.9" text-anchor="end" dominant-baseline="central" fill="#111">0.0002</text><text x="116.4" y="844.4" font-size="20.9" text-anchor="end" dominant-baseline="central" fill="#111">0.0000</text><text x="115.9" y="887.0" font-size="20.9" text-anchor="end" dominant-baseline="central" fill="#111">–0.0002</text><text x="115.3" y="929.6" font-size="20.9" text-anchor="end" dominant-baseline="central" fill="#111">–0.0004</text><text transform="translate(20.5 756.0) rotate(-90.0)" font-size="21.0" text-anchor="middle" dominant-baseline="central" fill="#111" >Intensity (a. u.)</text><text transform="translate(107.3 955.7) rotate(-46.0)" font-size="21.0" text-anchor="middle" dominant-baseline="central" fill="#111" >0.0</text><text transform="translate(134.1 967.0) rotate(-46.0)" font-size="21.0" text-anchor="middle" dominant-baseline="central" fill="#111" >0.5</text><text transform="translate(158.4 975.2) rotate(-46.0)" font-size="21.0" text-anchor="middle" dominant-baseline="central" fill="#111" >1.0</text><text transform="translate(182.7 984.1) rotate(-46.0)" font-size="21.0" text-anchor="middle" dominant-baseline="central" fill="#111" >1.5</text><text transform="translate(205.4 993.8) rotate(-46.0)" font-size="21.0" text-anchor="middle" dominant-baseline="central" fill="#111" >2.0</text><text transform="translate(236.3 1002.7) rotate(-46.0)" font-size="21.0" text-anchor="middle" dominant-baseline="central" fill="#111" >2.5</text><text transform="translate(267.1 1014.1) rotate(-46.0)" font-size="21.0" text-anchor="middle" dominant-baseline="central" fill="#111" >3.0</text><text transform="translate(299.5 1025.4) rotate(-46.0)" font-size="21.0" text-anchor="middle" dominant-baseline="central" fill="#111" >3.5</text><text transform="translate(333.6 1035.2) rotate(-46.0)" font-size="21.0" text-anchor="middle" dominant-baseline="central" fill="#111" >4.0</text><text transform="translate(182.0 1026.0) rotate(27.0)" font-size="21.5" text-anchor="middle" dominant-baseline="central" fill="#111" >Time (ps)</text><text transform="translate(385.2 1022.2) rotate(27.0)" font-size="21.0" text-anchor="middle" dominant-baseline="central" fill="#111" >580</text><text transform="translate(407.0 1004.3) rotate(27.0)" font-size="21.0" text-anchor="middle" dominant-baseline="central" fill="#111" >560</text><text transform="translate(427.3 989.7) rotate(27.0)" font-size="21.0" text-anchor="middle" dominant-baseline="central" fill="#111" >540</text><text transform="translate(446.0 973.5) rotate(27.0)" font-size="21.0" text-anchor="middle" dominant-baseline="central" fill="#111" >520</text><text transform="translate(465.4 958.9) rotate(27.0)" font-size="21.0" text-anchor="middle" dominant-baseline="central" fill="#111" >500</text><text transform="translate(470.3 1007.6) rotate(-45.5)" font-size="21.7" text-anchor="middle" dominant-baseline="central" fill="#111" >Wavelength (nm)</text><text x="43.5" y="556.1" font-size="43.4" font-weight="bold" fill="#000">D</text><g fill="none" stroke="#f3f3f3" stroke-width="1"><polyline points="713.2,640.9 827.8,582.5 1039.3,614.6"/><polyline points="713.8,682.1 827.6,617.0 1037.6,651.6"/><polyline points="714.4,721.8 827.4,650.2 1035.9,687.2"/><polyline points="715.1,763.6 827.2,685.4 1034.2,724.8"/><polyline points="715.7,805.5 827.0,720.7 1032.4,762.4"/><polyline points="716.3,842.3 826.8,751.8 1030.9,795.6"/><polyline points="716.8,874.7 826.6,779.2 1029.5,824.8"/><polyline points="717.2,904.1 826.5,804.2 1028.3,851.3"/><polyline points="736.0,937.2 732.1,605.6"/><polyline points="753.1,920.3 750.4,597.0"/><polyline points="769.2,904.2 767.6,588.9"/><polyline points="784.5,889.0 783.9,581.3"/><polyline points="799.1,874.5 799.3,574.0"/><polyline points="813.0,860.7 814.0,567.1"/><polyline points="847.8,853.0 850.7,563.9"/><polyline points="869.7,858.4 874.0,567.2"/><polyline points="892.0,864.0 897.6,570.6"/><polyline points="914.6,869.6 921.6,574.1"/><polyline points="937.6,875.4 946.1,577.6"/><polyline points="961.0,881.2 971.0,581.1"/><polyline points="984.8,887.1 996.3,584.8"/><polyline points="1008.9,893.1 1022.1,588.5"/></g><g fill="none" stroke="#aaaaaa" stroke-width="1.3"><polyline points="712.8,614.7 827.9,560.6 1040.4,591.1 1026.1,897.4"/><polyline points="827.9,560.6 826.2,847.6" stroke-opacity="0.6"/></g><polyline points="712.8,614.7 718.0,955.1" fill="none" stroke="#5a5a5a" stroke-width="1.5"/><g filter="url(#b1)"><polygon points="718.0,955.1 719.8,955.7 827.6,847.9 826.2,847.6" fill="#f49202"/><polygon points="719.4,955.5 721.3,956.1 828.6,848.2 827.2,847.9" fill="#f9bb00"/><polygon points="720.8,956.0 722.7,956.5 829.7,848.5 828.3,848.1" fill="#f8ad00"/><polygon points="722.3,956.4 724.1,957.0 830.7,848.7 829.3,848.4" fill="#f8b100"/><polygon points="723.7,956.8 725.5,957.4 831.8,849.0 830.4,848.6" fill="#f7a800"/><polygon points="725.1,957.3 727.0,957.8 832.8,849.2 831.4,848.9" fill="#fbc800"/><polygon points="726.5,957.7 728.4,958.3 833.9,849.5 832.5,849.2" fill="#f9bb00"/><polygon points="728.0,958.2 729.8,958.7 834.9,849.8 833.6,849.4" fill="#fac000"/><polygon points="729.4,958.6 731.3,959.2 836.0,850.0 834.6,849.7" fill="#fac500"/><polygon points="730.8,959.0 732.7,959.6 837.1,850.3 835.7,850.0" fill="#fac200"/><polygon points="732.3,959.5 734.1,960.0 838.1,850.6 836.7,850.2" fill="#fabe00"/><polygon points="733.7,959.9 735.6,960.5 839.2,850.8 837.8,850.5" fill="#f9bc00"/><polygon points="735.1,960.3 737.0,960.9 840.3,851.1 838.9,850.8" fill="#fac500"/><polygon points="736.6,960.8 738.5,961.4 841.4,851.4 840.0,851.0" fill="#f8b300"/><polygon points="738.0,961.2 739.9,961.8 842.4,851.6 841.0,851.3" fill="#fac100"/><polygon points="739.5,961.7 741.4,962.2 843.5,851.9 842.1,851.6" fill="#9ac419"/><polygon points="740.9,962.1 742.8,962.7 844.6,852.2 843.2,851.8" fill="#6fb62b"/><polygon points="742.4,962.6 744.3,963.1 845.7,852.5 844.3,852.1" fill="#6ab42e"/><polygon points="743.8,963.0 745.7,963.6 846.8,852.7 845.4,852.4" fill="#6bb536"/><polygon points="745.3,963.4 747.2,964.0 847.9,853.0 846.5,852.7" fill="#6ab430"/><polygon points="746.7,963.9 748.6,964.5 849.0,853.3 847.6,852.9" fill="#6cb63e"/><polygon points="748.2,964.3 750.1,964.9 850.2,853.6 848.7,853.2" fill="#74bf84"/><polygon points="749.6,964.8 751.5,965.4 851.3,853.8 849.8,853.5" fill="#57c2e0"/><polygon points="751.1,965.2 753.0,965.8 852.4,854.1 850.9,853.8" fill="#5ac2dc"/><polygon points="752.5,965.7 754.4,966.3 853.5,854.4 852.1,854.0" fill="#4dbdee"/><polygon points="754.0,966.1 755.9,966.7 854.7,854.7 853.2,854.3" fill="#65c3ca"/><polygon points="755.5,966.6 757.4,967.2 855.8,855.0 854.3,854.6" fill="#4ec1f0"/><polygon points="756.9,967.0 758.8,967.6 857.0,855.3 855.5,854.9" fill="#77c3a3"/><polygon points="758.4,967.5 760.3,968.1 858.1,855.6 856.6,855.2" fill="#6ab42e"/><polygon points="759.9,967.9 761.8,968.5 859.3,855.8 857.8,855.5" fill="#6bb42e"/><polygon points="761.3,968.4 763.3,969.0 860.4,856.1 858.9,855.8" fill="#6bb42d"/><polygon points="762.8,968.8 764.7,969.4 861.6,856.4 860.1,856.0" fill="#6cb52d"/><polygon points="764.3,969.3 766.2,969.9 862.8,856.7 861.3,856.3" fill="#6cb743"/><polygon points="765.8,969.7 767.7,970.3 864.0,857.0 862.4,856.6" fill="#6cb52d"/><polygon points="767.2,970.2 769.2,970.8 865.2,857.3 863.6,856.9" fill="#6cb52c"/><polygon points="768.7,970.6 770.6,971.2 866.4,857.6 864.8,857.2" fill="#6db52c"/><polygon points="770.2,971.1 772.1,971.7 867.6,857.9 866.0,857.5" fill="#6eb52b"/><polygon points="771.7,971.5 773.6,972.1 868.8,858.2 867.2,857.8" fill="#6db52c"/><polygon points="773.2,972.0 775.1,972.6 870.0,858.5 868.5,858.1" fill="#6fb62b"/><polygon points="774.7,972.4 776.6,973.0 871.3,858.8 869.7,858.4" fill="#6eb52b"/><polygon points="776.1,972.9 778.1,973.5 872.5,859.1 870.9,858.7" fill="#75b828"/><polygon points="777.6,973.4 779.6,973.9 873.8,859.4 872.1,859.0" fill="#70b62a"/><polygon points="779.1,973.8 781.1,974.4 875.0,859.8 873.4,859.4" fill="#79b926"/><polygon points="780.6,974.3 782.6,974.9 876.3,860.1 874.6,859.7" fill="#b8ce0c"/><polygon points="782.1,974.7 784.1,975.3 877.6,860.4 875.9,860.0" fill="#b1cc0f"/><polygon points="783.6,975.2 785.6,975.8 878.8,860.7 877.2,860.3" fill="#b2cc0f"/><polygon points="785.1,975.6 787.1,976.2 880.1,861.0 878.4,860.6" fill="#bdd00b"/><polygon points="786.6,976.1 788.6,976.7 881.4,861.4 879.7,860.9" fill="#b1cc0f"/><polygon points="788.1,976.6 790.1,977.2 882.7,861.7 881.0,861.3" fill="#bed00a"/><polygon points="789.6,977.0 791.6,977.6 884.0,862.0 882.3,861.6" fill="#dede05"/><polygon points="791.1,977.5 793.1,978.1 885.3,862.3 883.6,861.9" fill="#c2d209"/><polygon points="792.6,977.9 794.6,978.6 886.7,862.7 884.9,862.2" fill="#efe602"/><polygon points="794.2,978.4 796.1,979.0 888.0,863.0 886.3,862.6" fill="#dadc06"/><polygon points="795.7,978.9 797.6,979.5 889.3,863.3 887.6,862.9" fill="#f7e901"/><polygon points="797.2,979.3 799.2,979.9 890.7,863.7 888.9,863.2" fill="#e6e204"/><polygon points="798.7,979.8 800.7,980.4 892.0,864.0 890.3,863.6" fill="#fddb00"/><polygon points="800.2,980.3 802.2,980.9 893.4,864.3 891.6,863.9" fill="#fee500"/><polygon points="801.7,980.7 803.7,981.3 894.8,864.7 893.0,864.2" fill="#f2e702"/><polygon points="803.3,981.2 805.2,981.8 896.2,865.0 894.4,864.6" fill="#dfdf05"/><polygon points="804.8,981.7 806.8,982.3 897.5,865.4 895.7,864.9" fill="#f1e702"/><polygon points="806.3,982.1 808.3,982.7 898.9,865.7 897.1,865.3" fill="#fdec00"/><polygon points="807.8,982.6 809.8,983.2 900.3,866.1 898.5,865.6" fill="#f0e602"/><polygon points="809.4,983.1 811.4,983.7 901.8,866.4 899.9,866.0" fill="#fee800"/><polygon points="810.9,983.5 812.9,984.1 903.2,866.8 901.3,866.3" fill="#fddd00"/><polygon points="812.4,984.0 814.4,984.6 904.6,867.1 902.7,866.7" fill="#ffea00"/><polygon points="814.0,984.5 816.0,985.1 906.0,867.5 904.2,867.0" fill="#fdec00"/><polygon points="815.5,984.9 817.5,985.6 907.5,867.8 905.6,867.4" fill="#fddc00"/><polygon points="817.0,985.4 819.0,986.0 908.9,868.2 907.0,867.7" fill="#ffea00"/><polygon points="818.6,985.9 820.6,986.5 910.4,868.6 908.5,868.1" fill="#fdd800"/><polygon points="820.1,986.4 822.1,987.0 911.8,868.9 909.9,868.5" fill="#fee700"/><polygon points="821.7,986.8 823.7,987.5 913.3,869.3 911.4,868.8" fill="#fbca00"/><polygon points="823.2,987.3 825.2,987.9 914.7,869.7 912.8,869.2" fill="#fee300"/><polygon points="824.8,987.8 826.8,988.4 916.2,870.0 914.3,869.5" fill="#ffec00"/><polygon points="826.3,988.3 828.3,988.9 917.7,870.4 915.8,869.9" fill="#fdda00"/><polygon points="827.9,988.7 829.9,989.4 919.2,870.8 917.3,870.3" fill="#fee300"/><polygon points="829.4,989.2 831.5,989.8 920.7,871.1 918.7,870.7" fill="#fee500"/><polygon points="831.0,989.7 833.0,990.3 922.2,871.5 920.2,871.0" fill="#fdd800"/><polygon points="832.5,990.2 834.6,990.8 923.7,871.9 921.7,871.4" fill="#fbca00"/><polygon points="834.1,990.6 836.1,991.3 925.2,872.3 923.2,871.8" fill="#faeb01"/><polygon points="835.7,991.1 837.7,991.7 926.7,872.6 924.7,872.1" fill="#fcd200"/><polygon points="837.2,991.6 839.3,992.2 928.2,873.0 926.3,872.5" fill="#fcd200"/><polygon points="838.8,992.1 840.8,992.7 929.8,873.4 927.8,872.9" fill="#fcd000"/><polygon points="840.4,992.6 842.4,993.2 931.3,873.8 929.3,873.3" fill="#fac100"/><polygon points="841.9,993.0 844.0,993.7 932.8,874.2 930.8,873.7" fill="#fdde00"/><polygon points="843.5,993.5 845.6,994.1 934.3,874.5 932.4,874.0" fill="#fac100"/><polygon points="845.1,994.0 847.1,994.6 935.9,874.9 933.9,874.4" fill="#fbcd00"/><polygon points="846.7,994.5 848.7,995.1 937.4,875.3 935.4,874.8" fill="#fbc700"/><polygon points="848.2,995.0 850.3,995.6 939.0,875.7 937.0,875.2" fill="#fbcb00"/><polygon points="849.8,995.5 851.9,996.1 940.5,876.1 938.5,875.6" fill="#fbcb00"/><polygon points="851.4,995.9 853.5,996.6 942.1,876.5 940.1,876.0" fill="#fbcd00"/><polygon points="853.0,996.4 855.1,997.1 943.6,876.9 941.6,876.4" fill="#fabf00"/><polygon points="854.6,996.9 856.6,997.5 945.2,877.2 943.2,876.7" fill="#f7a600"/><polygon points="856.2,997.4 858.2,998.0 946.8,877.6 944.7,877.1" fill="#f8b400"/><polygon points="857.8,997.9 859.8,998.5 948.2,878.0 946.3,877.5" fill="#f9b600"/><polygon points="859.3,998.4 861.4,999.0 949.6,878.3 947.8,877.9" fill="#f9b900"/><polygon points="860.9,998.9 863.0,999.5 950.9,878.7 949.2,878.2" fill="#fac600"/><polygon points="862.5,999.3 864.6,1000.0 952.3,879.0 950.5,878.6" fill="#f9b600"/><polygon points="864.1,999.8 866.2,1000.5 953.6,879.3 951.9,878.9" fill="#f6a100"/><polygon points="865.7,1000.3 867.8,1001.0 955.0,879.7 953.2,879.2" fill="#fbcf00"/><polygon points="867.3,1000.8 869.4,1001.5 956.4,880.0 954.6,879.6" fill="#f8b000"/><polygon points="868.9,1001.3 871.0,1001.9 957.7,880.4 956.0,879.9" fill="#f7ad00"/><polygon points="870.6,1001.8 872.6,1002.4 959.1,880.7 957.3,880.3" fill="#f9b600"/><polygon points="872.2,1002.3 874.3,1002.9 960.5,881.1 958.7,880.6" fill="#f8ae00"/><polygon points="873.8,1002.8 875.9,1003.4 961.8,881.4 960.1,880.9" fill="#f7a500"/><polygon points="875.4,1003.3 877.5,1003.9 963.2,881.7 961.4,881.3" fill="#f59801"/><polygon points="877.0,1003.8 879.1,1004.4 964.6,882.1 962.8,881.6" fill="#f7a400"/><polygon points="878.6,1004.3 880.7,1004.9 966.0,882.4 964.2,882.0" fill="#f69f00"/><polygon points="880.2,1004.8 882.3,1005.4 967.3,882.8 965.6,882.3" fill="#f8b200"/><polygon points="881.9,1005.3 884.0,1005.9 968.7,883.1 966.9,882.7" fill="#f7ab00"/><polygon points="883.5,1005.8 885.6,1006.4 970.1,883.5 968.3,883.0" fill="#f8b400"/><polygon points="885.1,1006.3 887.2,1006.9 971.5,883.8 969.7,883.3" fill="#f8b200"/><polygon points="886.7,1006.8 888.9,1007.4 972.9,884.1 971.1,883.7" fill="#f9bc00"/><polygon points="888.4,1007.3 890.5,1007.9 974.3,884.5 972.5,884.0" fill="#f7ac00"/><polygon points="890.0,1007.8 892.1,1008.4 975.6,884.8 973.8,884.4" fill="#f6a100"/><polygon points="891.6,1008.3 893.8,1008.9 977.0,885.2 975.2,884.7" fill="#f9b800"/><polygon points="893.3,1008.8 895.4,1009.4 978.4,885.5 976.6,885.1" fill="#f8b200"/><polygon points="894.9,1009.3 897.0,1009.9 979.8,885.9 978.0,885.4" fill="#f7ac00"/><polygon points="896.5,1009.8 898.7,1010.4 981.2,886.2 979.4,885.8" fill="#f8b500"/><polygon points="898.2,1010.3 900.3,1010.9 982.6,886.6 980.8,886.1" fill="#f7a800"/><polygon points="899.8,1010.8 902.0,1011.4 984.0,886.9 982.2,886.5" fill="#f8b100"/><polygon points="901.5,1011.3 903.6,1011.9 985.4,887.3 983.6,886.8" fill="#fac500"/><polygon points="903.1,1011.8 905.3,1012.4 986.8,887.6 985.0,887.2" fill="#fac300"/><polygon points="904.8,1012.3 906.9,1012.9 988.2,888.0 986.4,887.5" fill="#f7aa00"/><polygon points="906.4,1012.8 908.6,1013.4 989.6,888.3 987.8,887.8" fill="#f7ac00"/><polygon points="908.1,1013.3 910.2,1013.9 991.0,888.7 989.2,888.2" fill="#f7a500"/><polygon points="909.7,1013.8 911.9,1014.5 992.4,889.0 990.6,888.5" fill="#f8b100"/><polygon points="911.4,1014.3 913.6,1015.0 993.8,889.4 992.0,888.9" fill="#f8b100"/><polygon points="913.1,1014.8 915.2,1015.5 995.2,889.7 993.4,889.2" fill="#fbca00"/><polygon points="914.7,1015.3 916.9,1016.0 996.6,890.1 994.8,889.6" fill="#f6a000"/><polygon points="916.4,1015.8 918.6,1016.5 998.0,890.4 996.2,889.9" fill="#fac000"/><polygon points="918.1,1016.3 920.2,1017.0 999.4,890.8 997.6,890.3" fill="#f7a500"/><polygon points="919.7,1016.9 921.9,1017.5 1000.8,891.1 999.0,890.7" fill="#fac300"/><polygon points="921.4,1017.4 923.6,1018.0 1002.3,891.5 1000.4,891.0" fill="#f9bc00"/><polygon points="923.1,1017.9 925.3,1018.5 1003.7,891.8 1001.8,891.4" fill="#f8b100"/><polygon points="924.8,1018.4 926.9,1019.1 1005.1,892.2 1003.2,891.7" fill="#f9b900"/><polygon points="926.4,1018.9 928.6,1019.6 1006.5,892.5 1004.7,892.1" fill="#f9bd00"/><polygon points="928.1,1019.4 930.3,1020.1 1007.9,892.9 1006.1,892.4" fill="#f7a600"/><polygon points="929.8,1019.9 932.0,1020.6 1009.4,893.2 1007.5,892.8" fill="#f7a900"/><polygon points="931.5,1020.5 933.7,1021.1 1010.8,893.6 1008.9,893.1" fill="#f8ad00"/><polygon points="933.2,1021.0 935.4,1021.6 1012.2,893.9 1010.3,893.5" fill="#f9b700"/><polygon points="934.9,1021.5 937.1,1022.2 1013.6,894.3 1011.8,893.8" fill="#f9be00"/><polygon points="936.6,1022.0 938.8,1022.7 1015.1,894.6 1013.2,894.2" fill="#f9b900"/><polygon points="938.3,1022.5 940.5,1023.2 1016.5,895.0 1014.6,894.5" fill="#f9b900"/><polygon points="940.0,1023.0 942.2,1023.7 1017.9,895.4 1016.1,894.9" fill="#f8b200"/><polygon points="941.7,1023.6 943.9,1024.2 1019.3,895.7 1017.5,895.3" fill="#f7a700"/><polygon points="943.4,1024.1 945.6,1024.8 1020.8,896.1 1018.9,895.6" fill="#f8b400"/><polygon points="945.1,1024.6 947.3,1025.3 1022.2,896.4 1020.3,896.0" fill="#f9bd00"/><polygon points="946.8,1025.1 949.0,1025.8 1023.7,896.8 1021.8,896.3" fill="#f9ba00"/><polygon points="948.5,1025.7 950.7,1026.3 1025.1,897.1 1023.2,896.7" fill="#f6a000"/><polygon points="950.2,1026.2 952.4,1026.9 1026.5,897.5 1024.7,897.0" fill="#f8af00"/><line x1="864.8" y1="882.5" x2="1012.7" y2="920.8" stroke="#ffcf00" stroke-width="1.4" stroke-opacity="0.10"/><line x1="876.5" y1="869.1" x2="1021.3" y2="905.8" stroke="#ffcf00" stroke-width="2.0" stroke-opacity="0.15"/><line x1="848.3" y1="901.3" x2="1000.4" y2="942.2" stroke="#f08a00" stroke-width="2.1" stroke-opacity="0.16"/><line x1="786.3" y1="972.1" x2="953.9" y2="1023.2" stroke="#ffcf00" stroke-width="1.1" stroke-opacity="0.19"/><line x1="805.1" y1="950.7" x2="968.1" y2="998.5" stroke="#f08a00" stroke-width="2.0" stroke-opacity="0.18"/><line x1="806.2" y1="949.4" x2="968.9" y2="997.1" stroke="#ffcf00" stroke-width="1.2" stroke-opacity="0.15"/><line x1="814.3" y1="940.1" x2="975.0" y2="986.4" stroke="#f29400" stroke-width="1.4" stroke-opacity="0.10"/><line x1="795.1" y1="962.1" x2="960.6" y2="1011.6" stroke="#f08a00" stroke-width="2.4" stroke-opacity="0.19"/><line x1="846.8" y1="903.0" x2="999.3" y2="944.0" stroke="#ffd800" stroke-width="1.2" stroke-opacity="0.18"/><line x1="856.9" y1="891.5" x2="1006.8" y2="931.0" stroke="#f08a00" stroke-width="2.5" stroke-opacity="0.18"/><line x1="796.7" y1="960.3" x2="961.7" y2="1009.5" stroke="#f29400" stroke-width="2.7" stroke-opacity="0.19"/><line x1="863.5" y1="883.9" x2="1011.7" y2="922.4" stroke="#ffd800" stroke-width="1.5" stroke-opacity="0.16"/><line x1="874.8" y1="871.0" x2="1020.1" y2="907.8" stroke="#ffd800" stroke-width="1.7" stroke-opacity="0.14"/><line x1="867.3" y1="879.7" x2="1014.5" y2="917.6" stroke="#f29400" stroke-width="2.5" stroke-opacity="0.19"/><line x1="840.9" y1="909.8" x2="994.9" y2="951.8" stroke="#f08a00" stroke-width="2.1" stroke-opacity="0.13"/><line x1="801.4" y1="954.9" x2="965.3" y2="1003.3" stroke="#f29400" stroke-width="1.0" stroke-opacity="0.20"/><line x1="791.9" y1="965.7" x2="958.2" y2="1015.8" stroke="#ffd800" stroke-width="2.5" stroke-opacity="0.17"/><line x1="831.6" y1="920.4" x2="987.9" y2="963.9" stroke="#ffcf00" stroke-width="3.0" stroke-opacity="0.19"/><line x1="855.2" y1="893.4" x2="1005.5" y2="933.2" stroke="#ffd800" stroke-width="2.3" stroke-opacity="0.18"/><line x1="852.2" y1="896.9" x2="1003.3" y2="937.1" stroke="#f08a00" stroke-width="1.6" stroke-opacity="0.09"/><line x1="868.5" y1="878.2" x2="1015.4" y2="916.0" stroke="#ffcf00" stroke-width="2.8" stroke-opacity="0.17"/><line x1="845.0" y1="905.0" x2="998.0" y2="946.4" stroke="#ffd800" stroke-width="2.6" stroke-opacity="0.10"/><line x1="867.3" y1="879.6" x2="1014.5" y2="917.6" stroke="#ffd800" stroke-width="2.4" stroke-opacity="0.11"/><line x1="853.3" y1="895.6" x2="1004.1" y2="935.7" stroke="#f29400" stroke-width="1.2" stroke-opacity="0.13"/><line x1="835.7" y1="915.7" x2="991.0" y2="958.5" stroke="#f08a00" stroke-width="1.5" stroke-opacity="0.11"/><line x1="868.0" y1="878.8" x2="1015.1" y2="916.6" stroke="#f08a00" stroke-width="1.3" stroke-opacity="0.08"/></g><polygon points="714.5,677.1 716.5,674.6 718.6,674.4 719.7,674.3 722.1,668.5 723.6,669.1 726.8,664.3 727.5,669.3 728.1,665.2 728.7,665.3 730.6,662.6 729.9,659.1 731.0,657.5 734.3,657.1 736.2,653.0 737.4,653.2 739.3,652.7 742.4,652.6 743.5,652.4 746.9,650.3 748.6,646.5 750.3,648.8 751.9,645.5 754.9,643.9 757.3,642.4 760.7,645.1 764.0,641.1 766.0,644.1 768.7,643.3 770.9,641.9 772.1,642.1 775.1,640.5 777.1,635.3 777.8,639.1 780.7,637.4 783.9,633.4 785.2,637.4 787.5,633.5 790.3,631.8 792.0,632.8 794.7,630.2 795.7,628.4 799.2,625.5 800.8,624.8 802.2,626.5 805.7,623.5 806.1,619.4 810.0,621.1 811.5,620.5 813.1,618.0 815.6,616.1 817.1,616.8 820.7,615.5 821.5,611.7 825.0,613.0 825.6,609.1 827.0,606.3 828.7,607.3 829.3,603.9 832.0,602.0 834.5,602.4 835.9,600.0 837.2,598.5 837.5,594.2 839.5,587.3 838.8,589.7 840.5,587.9 840.7,584.5 841.5,580.8 842.7,585.8 842.2,587.5 843.6,590.2 842.9,591.4 843.7,596.3 843.7,598.6 843.9,602.0 843.5,602.4 845.3,606.4 844.6,608.0 845.7,610.8 847.1,612.3 846.8,616.5 848.4,619.0 849.9,614.4 849.8,611.8 850.0,609.5 851.5,608.7 852.8,604.9 852.7,603.2 854.1,605.1 854.1,634.8 862.8,704.7 861.9,757.1 860.2,820.0 859.3,824.8 856.7,851.0 857.7,838.8 855.7,842.4 856.1,841.8 853.0,844.4 852.2,848.0 851.3,846.3 850.7,844.0 851.3,840.5 850.5,838.3 848.1,836.0 847.4,834.7 844.9,831.3 843.9,831.1 843.4,829.1 842.1,826.8 841.4,823.7 841.2,820.0 840.0,817.9 838.8,817.5 837.8,817.1 835.1,820.8 834.4,821.0 833.8,823.1 831.6,826.6 830.1,824.0 827.6,823.2 826.5,819.2 825.4,816.6 824.1,814.8 823.2,812.8 823.1,808.6 820.9,806.9 820.2,808.8 817.6,812.2 815.0,812.3 813.4,812.6 812.0,810.4 810.3,808.6 808.2,805.9 808.2,804.6 805.6,802.6 803.8,805.0 803.9,806.5 801.8,810.4 801.1,812.4 800.5,813.7 800.1,817.3 799.3,818.0 797.8,820.8 798.0,823.5 797.5,825.2 795.2,825.5 793.5,829.4 792.8,830.1 790.5,833.0 790.5,834.0 786.5,835.5 784.5,835.6 782.0,838.2 780.1,834.1 778.5,832.3 777.8,829.6 776.3,833.1 773.6,832.2 771.2,836.4 771.1,836.7 770.6,839.5 769.1,842.7 767.6,843.6 766.3,845.9 765.5,849.3 765.4,852.2 764.4,852.2 762.7,856.3 762.0,858.5 761.2,861.8 762.4,863.9 760.1,867.1 759.2,868.6 759.1,870.1 755.8,873.7 755.5,874.4 754.2,875.9 752.1,879.0 750.3,877.2 747.7,842.3 745.9,807.4 745.1,792.0 742.4,757.1 740.7,713.4 737.2,694.2 733.7,684.6 728.5,680.2 719.7,678.5" fill="url(#gEc)" filter="url(#b1)"/><g clip-path="url(#cEc)"><rect x="760" y="740" width="110" height="120" fill="url(#gEr)"/><polyline points="765.2,765.8 775.6,750.1 789.6,734.4 807.1,720.4 820.0,711.7 837.5,709.9 863.0,711.7" fill="none" stroke="#d8dc00" stroke-width="14" stroke-opacity="0.75" filter="url(#b4)"/></g><g filter="url(#b1)"><polygon points="865.4,634.8 870.0,620.8 876.9,607.9 877.6,603.9 879.0,609.0 879.7,594.6 881.1,608.6 881.8,600.5 883.2,608.1 883.9,588.5 885.3,608.0 886.0,605.5 887.4,607.3 888.1,608.0 889.5,606.4 890.2,604.2 891.6,607.3 892.3,605.8 893.7,607.2 894.4,604.3 895.7,606.4 896.4,596.7 897.8,607.3 898.5,598.9 899.8,607.2 900.5,605.6 901.8,607.4 902.5,600.4 903.8,606.8 904.5,600.8 905.9,606.0 906.6,595.1 907.9,606.0 908.6,586.2 909.9,606.3 910.6,588.1 911.9,605.5 912.6,594.3 914.0,607.1 914.7,604.2 916.0,605.3 916.7,602.2 918.0,606.1 918.7,602.2 920.1,606.3 920.8,601.0 922.1,606.1 922.8,599.3 924.1,605.1 924.8,605.7 926.1,606.1 926.8,601.0 928.1,606.6 928.8,602.5 930.1,607.0 930.8,593.0 932.1,606.2 932.8,602.5 934.1,606.9 934.8,595.3 936.1,607.5 936.8,583.9 938.1,608.3 938.8,580.7 940.1,607.8 940.8,597.5 942.1,608.0 942.8,599.0 944.1,608.2 944.8,604.4 946.1,608.8 946.8,606.4 948.1,608.2 948.8,603.9 950.2,609.7 950.9,608.8 952.2,609.5 952.9,590.1 954.2,609.6 954.9,596.6 956.2,609.4 956.9,603.3 958.3,609.8 959.0,602.8 960.3,611.0 961.0,607.5 962.3,611.2 963.0,599.3 964.3,610.6 965.0,578.6 966.4,612.2 967.1,609.2 968.4,611.1 969.1,600.9 970.4,612.0 971.1,603.5 972.5,612.8 973.2,610.6 974.5,611.8 975.2,606.9 976.5,613.2 977.2,606.4 978.4,614.0 979.1,613.2 980.3,613.2 981.0,600.2 982.3,614.4 983.0,596.6 984.2,614.6 984.9,609.1 986.1,615.0 986.8,615.1 988.0,614.2 988.7,601.5 990.0,614.3 990.7,612.3 991.9,615.9 992.6,609.2 993.8,615.5 994.5,605.0 995.7,615.6 996.4,614.7 997.6,615.5 998.3,599.5 999.6,615.5 1000.3,597.2 1001.5,617.2 1002.2,611.5 1003.4,616.2 1004.1,615.4 1005.3,617.0 1006.0,614.2 1007.2,618.1 1007.9,595.3 1009.3,617.8 1010.0,609.0 1011.3,617.6 1012.0,601.8 1013.4,617.4 1014.1,609.1 1015.4,618.7 1016.1,616.2 1017.5,618.0 1018.2,616.1 1019.5,620.0 1020.2,600.8 1021.6,620.3 1022.3,612.1 1023.6,619.4 1024.3,618.4 1025.7,620.5 1026.4,616.8 1027.7,621.2 1028.4,620.3 1029.8,620.7 1030.5,615.1 1031.8,620.8 1032.5,614.0 1033.8,620.9 1034.5,620.4 1035.9,622.2 1036.6,617.7 1036.6,622.6 1036.6,661.0 1012.1,678.5 1010.6,680.2 1008.8,679.6 1005.9,680.8 1003.9,681.5 1001.6,682.8 999.6,685.7 997.6,685.9 993.9,688.8 993.7,688.8 990.7,691.1 989.9,691.3 987.6,692.2 984.5,696.2 982.9,696.2 981.1,698.5 980.3,701.2 978.3,700.9 974.8,701.7 974.3,705.2 973.8,708.0 971.5,710.5 971.9,712.4 970.2,712.7 968.6,715.2 968.8,718.6 965.6,720.6 965.1,719.5 962.0,720.8 960.0,719.6 957.5,719.4 954.5,720.4 952.1,720.6 950.4,719.3 946.6,718.3 944.6,719.1 941.8,719.8 938.9,717.7 936.9,717.5 935.3,717.0 933.3,715.2 930.4,716.8 927.5,715.8 924.6,714.9 921.9,714.0 919.5,714.0 917.9,715.7 913.9,714.6 912.4,713.1 909.7,714.3 908.1,713.8 904.6,712.4 902.0,713.7 899.6,713.4 897.3,710.9 895.4,710.8 892.4,713.0 889.3,712.9 886.8,711.0 885.8,709.3 883.6,708.8 880.7,709.9 878.8,707.8 874.8,709.7 872.5,707.3 870.0,707.9 868.4,708.3 865.6,707.5 863.6,706.9 861.3,707.3 860.0,708.9 856.8,708.8 854.2,707.2 853.4,706.5 850.7,706.5 847.7,705.8 844.6,705.4 842.7,706.5 839.4,706.6 836.6,703.9 835.9,704.0 832.4,705.4 830.5,704.9 826.8,706.3 824.3,704.5 823.0,707.2 820.0,706.4 807.1,716.0 789.6,730.9 775.6,746.6 766.9,757.1 772.1,739.6 774.1,737.1 773.8,736.1 775.7,733.9 777.4,729.8 777.2,728.1 778.9,726.3 780.2,723.4 780.9,722.9 782.4,720.9 782.7,718.9 784.6,715.8 786.8,713.2 786.3,712.5 788.2,710.4 788.9,707.4 790.3,706.1 792.7,704.4 795.0,701.4 795.2,699.3 796.8,699.2 799.0,696.3 800.5,694.4 802.0,692.7 804.2,689.6 804.7,688.4 808.3,687.0 809.6,685.8 811.2,683.7 813.5,682.2 815.1,679.2 818.4,677.9 820.7,678.5 821.7,675.6 824.3,676.1 826.9,672.9 829.0,672.6 830.7,670.9 833.2,669.7 835.4,668.9 838.6,666.8 840.3,664.9 842.6,664.3 844.1,663.6 845.5,662.0 848.5,659.3 849.2,658.5 852.2,658.5 854.0,655.2 856.7,654.2 858.9,653.1 860.0,652.3" fill="url(#gEf)"/><g clip-path="url(#cEf)"><polyline points="761.7,762.3 775.6,746.6 789.6,730.9 807.1,716.0 820.0,707.3 837.5,705.5 859.5,707.3" fill="none" stroke="#ffe600" stroke-width="16" stroke-opacity="0.9" filter="url(#b4)"/><polyline points="766.9,755.3 780.9,721.3 789.6,707.3 803.6,689.8 815.8,679.3" fill="none" stroke="#ffe600" stroke-width="9" stroke-opacity="0.85" filter="url(#b4)"/><polyline points="865.4,636.6 870.0,620.8 877.6,613.8" fill="none" stroke="#ffe000" stroke-width="10" stroke-opacity="0.8" filter="url(#b4)"/><polyline points="1036.6,662.8 1012.1,680.2 994.7,689.0 973.7,706.4" fill="none" stroke="#ffe000" stroke-width="8" stroke-opacity="0.7" filter="url(#b4)"/><polyline points="911.9,687.2 946.8,683.7 981.7,669.7 1007.9,655.8" fill="none" stroke="#ee7d00" stroke-width="22" stroke-opacity="0.5" filter="url(#b8)"/><polyline points="885.7,612.1 929.3,610.3 981.7,617.3 1034.1,626.1" fill="none" stroke="#ee7d00" stroke-width="14" stroke-opacity="0.4" filter="url(#b4)"/></g><g clip-path="url(#cEf)"><line x1="983.3" y1="636.0" x2="1010.8" y2="612.6" stroke="#ffd000" stroke-width="1.6" stroke-opacity="0.19"/><line x1="1014.7" y1="671.7" x2="1048.7" y2="642.8" stroke="#ffd000" stroke-width="2.1" stroke-opacity="0.50"/><line x1="922.0" y1="716.2" x2="957.1" y2="686.4" stroke="#ee7d00" stroke-width="2.0" stroke-opacity="0.20"/><line x1="894.1" y1="668.8" x2="919.5" y2="647.2" stroke="#ffc400" stroke-width="2.0" stroke-opacity="0.16"/><line x1="1019.6" y1="648.0" x2="1049.7" y2="622.5" stroke="#ee7d00" stroke-width="1.7" stroke-opacity="0.31"/><line x1="961.3" y1="655.0" x2="1002.2" y2="620.2" stroke="#f29100" stroke-width="1.4" stroke-opacity="0.45"/><line x1="894.1" y1="714.2" x2="914.1" y2="697.2" stroke="#f29100" stroke-width="1.7" stroke-opacity="0.45"/><line x1="965.2" y1="625.6" x2="981.3" y2="611.9" stroke="#ee7d00" stroke-width="1.6" stroke-opacity="0.40"/><line x1="861.2" y1="662.7" x2="894.0" y2="634.9" stroke="#f29100" stroke-width="2.2" stroke-opacity="0.47"/><line x1="995.8" y1="655.7" x2="1034.6" y2="622.7" stroke="#ffc400" stroke-width="2.1" stroke-opacity="0.40"/><line x1="951.2" y1="619.9" x2="986.5" y2="589.8" stroke="#ee7d00" stroke-width="1.9" stroke-opacity="0.49"/><line x1="973.0" y1="643.7" x2="997.8" y2="622.6" stroke="#ffc400" stroke-width="1.5" stroke-opacity="0.29"/><line x1="860.3" y1="618.2" x2="890.7" y2="592.4" stroke="#ee7d00" stroke-width="2.2" stroke-opacity="0.37"/><line x1="989.3" y1="674.1" x2="1029.1" y2="640.3" stroke="#ffd000" stroke-width="0.8" stroke-opacity="0.16"/><line x1="933.6" y1="643.1" x2="952.5" y2="627.0" stroke="#ffc400" stroke-width="1.2" stroke-opacity="0.46"/><line x1="861.0" y1="721.5" x2="901.7" y2="686.9" stroke="#ee7d00" stroke-width="2.1" stroke-opacity="0.34"/><line x1="989.7" y1="647.9" x2="1024.2" y2="618.6" stroke="#f29100" stroke-width="1.6" stroke-opacity="0.29"/><line x1="876.4" y1="725.0" x2="897.8" y2="706.8" stroke="#ffc400" stroke-width="1.1" stroke-opacity="0.44"/><line x1="937.0" y1="661.7" x2="973.1" y2="631.0" stroke="#f29100" stroke-width="1.5" stroke-opacity="0.38"/><line x1="987.3" y1="717.6" x2="1001.7" y2="705.2" stroke="#ee7d00" stroke-width="1.4" stroke-opacity="0.26"/><line x1="893.7" y1="647.7" x2="914.4" y2="630.1" stroke="#ffc400" stroke-width="1.5" stroke-opacity="0.15"/><line x1="1018.1" y1="691.9" x2="1032.6" y2="679.6" stroke="#ee7d00" stroke-width="1.1" stroke-opacity="0.18"/><line x1="944.8" y1="632.8" x2="984.0" y2="599.5" stroke="#ffd000" stroke-width="2.1" stroke-opacity="0.49"/><line x1="865.5" y1="669.6" x2="892.6" y2="646.6" stroke="#ee7d00" stroke-width="1.8" stroke-opacity="0.27"/><line x1="898.2" y1="675.1" x2="920.3" y2="656.3" stroke="#f29100" stroke-width="1.1" stroke-opacity="0.33"/><line x1="987.0" y1="705.5" x2="1031.6" y2="667.5" stroke="#f29100" stroke-width="1.9" stroke-opacity="0.43"/><line x1="1004.0" y1="651.6" x2="1043.0" y2="618.5" stroke="#ffc400" stroke-width="2.0" stroke-opacity="0.29"/><line x1="1010.5" y1="702.0" x2="1030.2" y2="685.3" stroke="#f29100" stroke-width="1.2" stroke-opacity="0.49"/><line x1="948.6" y1="675.8" x2="984.6" y2="645.2" stroke="#ffc400" stroke-width="0.8" stroke-opacity="0.40"/><line x1="979.5" y1="673.3" x2="1019.8" y2="639.0" stroke="#ee7d00" stroke-width="1.9" stroke-opacity="0.33"/><line x1="1003.5" y1="711.6" x2="1021.5" y2="696.3" stroke="#ee7d00" stroke-width="1.8" stroke-opacity="0.48"/><line x1="875.5" y1="691.5" x2="893.0" y2="676.6" stroke="#f29100" stroke-width="1.4" stroke-opacity="0.48"/><line x1="968.6" y1="632.1" x2="990.4" y2="613.6" stroke="#ffc400" stroke-width="1.6" stroke-opacity="0.41"/><line x1="965.2" y1="669.9" x2="990.7" y2="648.2" stroke="#ee7d00" stroke-width="1.5" stroke-opacity="0.24"/><line x1="965.8" y1="654.5" x2="1009.1" y2="617.7" stroke="#ffd000" stroke-width="1.7" stroke-opacity="0.27"/><line x1="876.9" y1="673.5" x2="909.4" y2="645.9" stroke="#ee7d00" stroke-width="1.7" stroke-opacity="0.19"/><line x1="933.2" y1="642.7" x2="970.8" y2="610.8" stroke="#ffc400" stroke-width="1.5" stroke-opacity="0.21"/><line x1="897.8" y1="688.2" x2="936.2" y2="655.6" stroke="#ffd000" stroke-width="0.9" stroke-opacity="0.42"/><line x1="970.0" y1="676.7" x2="989.4" y2="660.2" stroke="#ee7d00" stroke-width="1.3" stroke-opacity="0.29"/><line x1="1009.9" y1="660.3" x2="1032.4" y2="641.2" stroke="#ffd000" stroke-width="1.8" stroke-opacity="0.48"/><line x1="964.6" y1="720.6" x2="987.8" y2="700.8" stroke="#ffc400" stroke-width="1.7" stroke-opacity="0.17"/><line x1="1015.6" y1="679.1" x2="1059.6" y2="641.7" stroke="#ee7d00" stroke-width="1.0" stroke-opacity="0.38"/><line x1="1016.2" y1="688.0" x2="1046.2" y2="662.5" stroke="#ffc400" stroke-width="1.6" stroke-opacity="0.45"/><line x1="974.2" y1="682.9" x2="1009.5" y2="652.9" stroke="#ee7d00" stroke-width="2.2" stroke-opacity="0.42"/><line x1="978.1" y1="700.0" x2="1003.4" y2="678.5" stroke="#ee7d00" stroke-width="1.8" stroke-opacity="0.27"/><line x1="910.7" y1="689.3" x2="954.0" y2="652.5" stroke="#ee7d00" stroke-width="1.6" stroke-opacity="0.27"/><line x1="953.9" y1="699.4" x2="975.1" y2="681.4" stroke="#ee7d00" stroke-width="1.8" stroke-opacity="0.36"/><line x1="934.0" y1="710.8" x2="973.7" y2="677.1" stroke="#ee7d00" stroke-width="1.9" stroke-opacity="0.29"/><line x1="864.3" y1="649.6" x2="893.8" y2="624.5" stroke="#f29100" stroke-width="1.4" stroke-opacity="0.22"/><line x1="937.6" y1="627.1" x2="956.0" y2="611.4" stroke="#ffd000" stroke-width="1.0" stroke-opacity="0.48"/><line x1="857.2" y1="656.8" x2="890.8" y2="628.2" stroke="#ffc400" stroke-width="1.0" stroke-opacity="0.27"/><line x1="988.8" y1="713.8" x2="1018.1" y2="688.9" stroke="#ffc400" stroke-width="1.2" stroke-opacity="0.30"/><line x1="929.0" y1="722.5" x2="951.9" y2="703.1" stroke="#ffc400" stroke-width="1.7" stroke-opacity="0.43"/><line x1="939.7" y1="729.8" x2="982.9" y2="693.1" stroke="#f29100" stroke-width="1.5" stroke-opacity="0.39"/><line x1="971.5" y1="682.1" x2="998.0" y2="659.6" stroke="#f29100" stroke-width="1.6" stroke-opacity="0.43"/><line x1="886.6" y1="691.3" x2="915.6" y2="666.6" stroke="#ffd000" stroke-width="1.1" stroke-opacity="0.18"/><line x1="917.5" y1="630.9" x2="946.7" y2="606.2" stroke="#ffd000" stroke-width="1.9" stroke-opacity="0.49"/><line x1="974.2" y1="643.4" x2="1004.3" y2="617.7" stroke="#ffd000" stroke-width="1.4" stroke-opacity="0.21"/><line x1="997.1" y1="691.1" x2="1022.9" y2="669.1" stroke="#ee7d00" stroke-width="2.1" stroke-opacity="0.44"/><line x1="870.0" y1="693.5" x2="889.7" y2="676.7" stroke="#f29100" stroke-width="1.3" stroke-opacity="0.36"/><line x1="856.9" y1="627.8" x2="899.6" y2="591.5" stroke="#f29100" stroke-width="1.6" stroke-opacity="0.18"/><line x1="948.1" y1="639.3" x2="965.7" y2="624.4" stroke="#f29100" stroke-width="1.9" stroke-opacity="0.31"/><line x1="900.8" y1="654.0" x2="942.8" y2="618.3" stroke="#ffc400" stroke-width="1.2" stroke-opacity="0.38"/><line x1="905.6" y1="646.6" x2="938.3" y2="618.8" stroke="#ffc400" stroke-width="1.7" stroke-opacity="0.19"/><line x1="873.0" y1="651.2" x2="889.6" y2="637.0" stroke="#ee7d00" stroke-width="0.9" stroke-opacity="0.47"/><line x1="981.5" y1="641.8" x2="1013.6" y2="614.6" stroke="#ee7d00" stroke-width="0.9" stroke-opacity="0.29"/><line x1="983.5" y1="674.2" x2="1012.9" y2="649.1" stroke="#ffd000" stroke-width="1.5" stroke-opacity="0.43"/><line x1="897.5" y1="687.5" x2="940.0" y2="651.4" stroke="#ffd000" stroke-width="0.8" stroke-opacity="0.19"/><line x1="903.4" y1="631.6" x2="936.4" y2="603.6" stroke="#ffd000" stroke-width="1.3" stroke-opacity="0.50"/><line x1="850.5" y1="644.3" x2="894.9" y2="606.6" stroke="#ffd000" stroke-width="1.5" stroke-opacity="0.39"/><line x1="934.3" y1="726.0" x2="954.4" y2="708.9" stroke="#ffd000" stroke-width="1.1" stroke-opacity="0.25"/><line x1="864.4" y1="675.6" x2="899.7" y2="645.6" stroke="#ee7d00" stroke-width="1.0" stroke-opacity="0.35"/><line x1="1024.6" y1="695.0" x2="1044.2" y2="678.3" stroke="#f29100" stroke-width="1.6" stroke-opacity="0.44"/><line x1="856.1" y1="730.8" x2="888.4" y2="703.3" stroke="#ffc400" stroke-width="1.0" stroke-opacity="0.36"/><line x1="948.9" y1="611.5" x2="972.9" y2="591.1" stroke="#ee7d00" stroke-width="1.4" stroke-opacity="0.26"/><line x1="885.4" y1="631.4" x2="927.3" y2="595.8" stroke="#f29100" stroke-width="1.5" stroke-opacity="0.35"/><line x1="903.2" y1="607.7" x2="918.5" y2="594.7" stroke="#ffd000" stroke-width="1.8" stroke-opacity="0.33"/><line x1="923.0" y1="659.5" x2="941.0" y2="644.2" stroke="#ffd000" stroke-width="1.6" stroke-opacity="0.39"/><line x1="954.2" y1="702.9" x2="987.6" y2="674.4" stroke="#f29100" stroke-width="0.9" stroke-opacity="0.20"/><line x1="1006.1" y1="735.5" x2="1049.3" y2="698.7" stroke="#ffc400" stroke-width="1.3" stroke-opacity="0.22"/><line x1="880.4" y1="657.8" x2="919.5" y2="624.5" stroke="#ffd000" stroke-width="1.5" stroke-opacity="0.33"/><line x1="921.0" y1="692.0" x2="943.6" y2="672.9" stroke="#ffc400" stroke-width="2.0" stroke-opacity="0.18"/><line x1="856.6" y1="647.3" x2="887.7" y2="620.9" stroke="#ffd000" stroke-width="1.9" stroke-opacity="0.17"/><line x1="911.9" y1="663.7" x2="935.9" y2="643.3" stroke="#ffd000" stroke-width="1.9" stroke-opacity="0.36"/><line x1="896.6" y1="677.6" x2="940.9" y2="639.9" stroke="#ee7d00" stroke-width="1.3" stroke-opacity="0.47"/><line x1="913.5" y1="703.1" x2="954.0" y2="668.7" stroke="#ee7d00" stroke-width="1.2" stroke-opacity="0.35"/><line x1="916.8" y1="652.6" x2="954.3" y2="620.7" stroke="#ffc400" stroke-width="1.1" stroke-opacity="0.50"/><line x1="943.7" y1="613.0" x2="972.9" y2="588.1" stroke="#ffd000" stroke-width="1.8" stroke-opacity="0.38"/><line x1="958.7" y1="692.1" x2="974.5" y2="678.7" stroke="#f29100" stroke-width="2.1" stroke-opacity="0.37"/><line x1="875.3" y1="613.6" x2="900.2" y2="592.5" stroke="#ee7d00" stroke-width="1.3" stroke-opacity="0.35"/><line x1="951.7" y1="690.0" x2="978.7" y2="667.1" stroke="#ee7d00" stroke-width="2.0" stroke-opacity="0.32"/><line x1="906.0" y1="676.5" x2="950.6" y2="638.6" stroke="#f29100" stroke-width="1.4" stroke-opacity="0.20"/><line x1="1020.8" y1="669.7" x2="1056.3" y2="639.5" stroke="#ffd000" stroke-width="1.6" stroke-opacity="0.41"/><line x1="982.9" y1="666.3" x2="1002.9" y2="649.2" stroke="#ee7d00" stroke-width="2.1" stroke-opacity="0.18"/><line x1="878.5" y1="639.2" x2="905.4" y2="616.4" stroke="#ffc400" stroke-width="1.5" stroke-opacity="0.27"/><line x1="991.9" y1="669.8" x2="1013.2" y2="651.7" stroke="#ffc400" stroke-width="1.8" stroke-opacity="0.34"/><line x1="950.4" y1="625.0" x2="969.2" y2="609.1" stroke="#ee7d00" stroke-width="1.6" stroke-opacity="0.17"/><line x1="976.7" y1="678.0" x2="996.2" y2="661.4" stroke="#ffc400" stroke-width="1.4" stroke-opacity="0.49"/><line x1="881.4" y1="635.5" x2="905.6" y2="614.9" stroke="#ffc400" stroke-width="2.2" stroke-opacity="0.37"/><line x1="990.7" y1="640.1" x2="1008.1" y2="625.3" stroke="#f29100" stroke-width="1.8" stroke-opacity="0.34"/><line x1="898.7" y1="662.6" x2="919.0" y2="645.3" stroke="#ffc400" stroke-width="2.1" stroke-opacity="0.33"/><line x1="875.2" y1="644.1" x2="911.7" y2="613.1" stroke="#ee7d00" stroke-width="1.9" stroke-opacity="0.44"/><line x1="930.3" y1="701.8" x2="946.7" y2="687.9" stroke="#ee7d00" stroke-width="1.3" stroke-opacity="0.36"/><line x1="914.2" y1="609.5" x2="933.1" y2="593.4" stroke="#ffc400" stroke-width="2.2" stroke-opacity="0.27"/><line x1="858.2" y1="688.9" x2="885.7" y2="665.5" stroke="#ffc400" stroke-width="1.2" stroke-opacity="0.25"/><line x1="997.9" y1="642.1" x2="1026.3" y2="618.0" stroke="#f29100" stroke-width="2.2" stroke-opacity="0.26"/><line x1="998.1" y1="673.8" x2="1018.4" y2="656.5" stroke="#f29100" stroke-width="1.4" stroke-opacity="0.31"/><line x1="958.1" y1="640.2" x2="978.2" y2="623.1" stroke="#ffc400" stroke-width="1.3" stroke-opacity="0.44"/><line x1="979.3" y1="726.5" x2="1007.7" y2="702.3" stroke="#ee7d00" stroke-width="1.7" stroke-opacity="0.35"/><line x1="924.7" y1="689.6" x2="949.4" y2="668.6" stroke="#ffc400" stroke-width="1.9" stroke-opacity="0.45"/><line x1="907.0" y1="663.2" x2="947.3" y2="629.0" stroke="#ffc400" stroke-width="1.7" stroke-opacity="0.47"/><line x1="892.0" y1="713.4" x2="918.6" y2="690.7" stroke="#ffd000" stroke-width="0.9" stroke-opacity="0.48"/><line x1="960.9" y1="634.9" x2="988.8" y2="611.2" stroke="#f29100" stroke-width="1.7" stroke-opacity="0.31"/><line x1="899.1" y1="614.6" x2="931.9" y2="586.8" stroke="#ffc400" stroke-width="2.0" stroke-opacity="0.16"/><line x1="957.3" y1="658.6" x2="985.7" y2="634.5" stroke="#ee7d00" stroke-width="0.9" stroke-opacity="0.44"/><line x1="871.8" y1="724.4" x2="909.1" y2="692.8" stroke="#ffc400" stroke-width="2.0" stroke-opacity="0.30"/><line x1="871.6" y1="708.9" x2="899.6" y2="685.0" stroke="#ffd000" stroke-width="1.7" stroke-opacity="0.28"/><line x1="926.4" y1="630.0" x2="942.3" y2="616.4" stroke="#f29100" stroke-width="1.0" stroke-opacity="0.50"/><line x1="1008.7" y1="694.7" x2="1024.3" y2="681.5" stroke="#f29100" stroke-width="1.6" stroke-opacity="0.47"/><line x1="963.5" y1="697.6" x2="998.4" y2="667.9" stroke="#ffd000" stroke-width="1.9" stroke-opacity="0.43"/><line x1="1009.9" y1="679.7" x2="1042.1" y2="652.3" stroke="#ffd000" stroke-width="1.2" stroke-opacity="0.43"/><line x1="891.0" y1="716.6" x2="924.4" y2="688.3" stroke="#ee7d00" stroke-width="1.9" stroke-opacity="0.42"/><line x1="870.6" y1="617.5" x2="901.6" y2="591.1" stroke="#ffd000" stroke-width="1.4" stroke-opacity="0.44"/><line x1="1016.8" y1="633.8" x2="1037.2" y2="616.4" stroke="#ffd000" stroke-width="1.9" stroke-opacity="0.16"/><line x1="964.3" y1="653.4" x2="1006.9" y2="617.2" stroke="#ffc400" stroke-width="2.0" stroke-opacity="0.16"/><line x1="892.0" y1="649.7" x2="930.7" y2="616.8" stroke="#ffd000" stroke-width="1.7" stroke-opacity="0.15"/><line x1="915.2" y1="651.2" x2="934.1" y2="635.2" stroke="#ffc400" stroke-width="1.0" stroke-opacity="0.26"/><line x1="953.5" y1="654.7" x2="976.6" y2="635.1" stroke="#f29100" stroke-width="0.9" stroke-opacity="0.16"/><line x1="882.7" y1="728.5" x2="911.6" y2="703.9" stroke="#ffc400" stroke-width="1.1" stroke-opacity="0.19"/><line x1="987.9" y1="644.2" x2="1018.3" y2="618.4" stroke="#ffc400" stroke-width="1.9" stroke-opacity="0.19"/></g></g><g stroke="#333" stroke-width="1.1"><line x1="712.8" y1="638.9" x2="715.8" y2="637.4"/><line x1="713.4" y1="678.2" x2="716.4" y2="676.7"/><line x1="713.9" y1="716.6" x2="716.9" y2="715.1"/><line x1="714.6" y1="757.7" x2="717.6" y2="756.2"/><line x1="715.2" y1="799.5" x2="718.2" y2="798.0"/><line x1="715.8" y1="836.9" x2="718.8" y2="835.4"/><line x1="716.3" y1="870.1" x2="719.3" y2="868.6"/><line x1="716.8" y1="900.7" x2="719.8" y2="899.2"/><line x1="717.4" y1="944.3" x2="720.4" y2="942.8"/><line x1="718.0" y1="955.1" x2="716.2" y2="958.2"/><line x1="724.1" y1="957.0" x2="723.1" y2="958.7"/><line x1="730.3" y1="958.9" x2="729.3" y2="960.6"/><line x1="736.5" y1="960.8" x2="735.5" y2="962.5"/><line x1="742.7" y1="962.7" x2="740.9" y2="965.7"/><line x1="749.0" y1="964.6" x2="748.0" y2="966.3"/><line x1="755.3" y1="966.5" x2="754.3" y2="968.2"/><line x1="761.6" y1="968.4" x2="760.6" y2="970.1"/><line x1="768.0" y1="970.4" x2="766.2" y2="973.5"/><line x1="774.3" y1="972.3" x2="773.3" y2="974.0"/><line x1="780.8" y1="974.3" x2="779.8" y2="976.0"/><line x1="787.2" y1="976.3" x2="786.2" y2="978.0"/><line x1="793.7" y1="978.3" x2="791.9" y2="981.3"/><line x1="800.3" y1="980.3" x2="799.3" y2="982.0"/><line x1="806.8" y1="982.3" x2="805.8" y2="984.0"/><line x1="813.4" y1="984.3" x2="812.4" y2="986.0"/><line x1="820.1" y1="986.3" x2="818.3" y2="989.4"/><line x1="826.7" y1="988.4" x2="825.7" y2="990.1"/><line x1="833.5" y1="990.4" x2="832.5" y2="992.1"/><line x1="840.2" y1="992.5" x2="839.2" y2="994.2"/><line x1="847.0" y1="994.6" x2="845.2" y2="997.6"/><line x1="853.8" y1="996.7" x2="852.8" y2="998.4"/><line x1="860.7" y1="998.8" x2="859.7" y2="1000.5"/><line x1="867.6" y1="1000.9" x2="866.6" y2="1002.6"/><line x1="874.5" y1="1003.0" x2="872.7" y2="1006.1"/><line x1="881.5" y1="1005.1" x2="880.5" y2="1006.8"/><line x1="888.5" y1="1007.3" x2="887.5" y2="1009.0"/><line x1="895.5" y1="1009.4" x2="894.5" y2="1011.1"/><line x1="902.6" y1="1011.6" x2="900.8" y2="1014.7"/><line x1="909.7" y1="1013.8" x2="908.7" y2="1015.5"/><line x1="916.9" y1="1016.0" x2="915.9" y2="1017.7"/><line x1="924.1" y1="1018.2" x2="923.1" y2="1019.9"/><line x1="931.4" y1="1020.4" x2="929.6" y2="1023.5"/><line x1="938.7" y1="1022.7" x2="937.7" y2="1024.4"/><line x1="946.0" y1="1024.9" x2="945.0" y2="1026.6"/><line x1="951.9" y1="1026.7" x2="953.7" y2="1027.5"/><line x1="955.1" y1="1021.1" x2="956.9" y2="1021.9"/><line x1="958.3" y1="1015.6" x2="961.5" y2="1017.0"/><line x1="961.4" y1="1010.1" x2="963.2" y2="1010.9"/><line x1="964.5" y1="1004.8" x2="966.3" y2="1005.6"/><line x1="967.5" y1="999.5" x2="969.3" y2="1000.3"/><line x1="970.5" y1="994.3" x2="973.7" y2="995.8"/><line x1="973.4" y1="989.2" x2="975.2" y2="990.0"/><line x1="976.3" y1="984.2" x2="978.1" y2="985.0"/><line x1="979.1" y1="979.3" x2="980.9" y2="980.1"/><line x1="981.9" y1="974.4" x2="985.2" y2="975.8"/><line x1="984.7" y1="969.6" x2="986.5" y2="970.4"/><line x1="987.4" y1="964.8" x2="989.2" y2="965.6"/><line x1="990.1" y1="960.1" x2="991.9" y2="960.9"/><line x1="992.7" y1="955.5" x2="996.0" y2="957.0"/><line x1="995.3" y1="951.0" x2="997.1" y2="951.8"/><line x1="997.9" y1="946.5" x2="999.7" y2="947.3"/><line x1="1000.4" y1="942.1" x2="1002.2" y2="942.9"/><line x1="1002.9" y1="937.8" x2="1006.2" y2="939.2"/><line x1="1005.4" y1="933.5" x2="1007.2" y2="934.3"/><line x1="1007.8" y1="929.3" x2="1009.6" y2="930.1"/><line x1="1010.2" y1="925.1" x2="1012.0" y2="925.9"/><line x1="1012.6" y1="921.0" x2="1015.8" y2="922.4"/><line x1="1014.9" y1="916.9" x2="1016.7" y2="917.7"/><line x1="1017.2" y1="912.9" x2="1019.0" y2="913.7"/><line x1="1019.5" y1="908.9" x2="1021.3" y2="909.7"/><line x1="1021.7" y1="905.0" x2="1025.0" y2="906.5"/><line x1="1023.9" y1="901.2" x2="1025.7" y2="902.0"/><line x1="1026.1" y1="897.4" x2="1027.9" y2="898.2"/></g><polyline points="718.0,955.1 951.9,1026.7 1026.1,897.4" fill="none" stroke="#555" stroke-width="1.1"/><text x="710.0" y="644.4" font-size="20.9" text-anchor="end" dominant-baseline="central" fill="#111">0.0002</text><text x="710.0" y="683.7" font-size="20.9" text-anchor="end" dominant-baseline="central" fill="#111">0.0000</text><text x="710.0" y="722.1" font-size="20.9" text-anchor="end" dominant-baseline="central" fill="#111">–0.0002</text><text x="710.0" y="763.2" font-size="20.9" text-anchor="end" dominant-baseline="central" fill="#111">–0.0004</text><text x="710.0" y="805.0" font-size="20.9" text-anchor="end" dominant-baseline="central" fill="#111">–0.0006</text><text x="710.0" y="842.4" font-size="20.9" text-anchor="end" dominant-baseline="central" fill="#111">–0.0008</text><text x="710.0" y="875.6" font-size="20.9" text-anchor="end" dominant-baseline="central" fill="#111">–0.0010</text><text x="710.0" y="906.2" font-size="20.9" text-anchor="end" dominant-baseline="central" fill="#111">–0.0012</text><text x="710.0" y="949.8" font-size="20.9" text-anchor="end" dominant-baseline="central" fill="#111">–0.0014</text><text transform="translate(599.5 768.0) rotate(-90.0)" font-size="21.0" text-anchor="middle" dominant-baseline="central" fill="#111" >Intensity (a. u.)</text><text transform="translate(714.5 966.4) rotate(-62.0) skewX(-12.0)" font-size="21.0" text-anchor="middle" dominant-baseline="central" fill="#111" >0</text><text transform="translate(737.2 976.9) rotate(-62.0) skewX(-12.0)" font-size="21.0" text-anchor="middle" dominant-baseline="central" fill="#111" >1</text><text transform="translate(761.7 983.9) rotate(-62.0) skewX(-12.0)" font-size="21.0" text-anchor="middle" dominant-baseline="central" fill="#111" >2</text><text transform="translate(787.0 992.6) rotate(-62.0) skewX(-12.0)" font-size="21.0" text-anchor="middle" dominant-baseline="central" fill="#111" >3</text><text transform="translate(812.3 999.6) rotate(-62.0) skewX(-12.0)" font-size="21.0" text-anchor="middle" dominant-baseline="central" fill="#111" >4</text><text transform="translate(838.4 1007.0) rotate(-62.0) skewX(-12.0)" font-size="21.0" text-anchor="middle" dominant-baseline="central" fill="#111" >5</text><text transform="translate(866.3 1014.5) rotate(-62.0) skewX(-12.0)" font-size="21.0" text-anchor="middle" dominant-baseline="central" fill="#111" >6</text><text transform="translate(892.5 1023.2) rotate(-62.0) skewX(-12.0)" font-size="21.0" text-anchor="middle" dominant-baseline="central" fill="#111" >7</text><text transform="translate(920.4 1032.8) rotate(-62.0) skewX(-12.0)" font-size="21.0" text-anchor="middle" dominant-baseline="central" fill="#111" >8</text><text transform="translate(801.8 1029.3) rotate(20.5) skewX(-14.0)" font-size="21.5" text-anchor="middle" dominant-baseline="central" fill="#111" >Time (ps)</text><text transform="translate(988.6 1017.1) rotate(22.0) skewX(-4.0)" font-size="21.0" text-anchor="middle" dominant-baseline="central" fill="#111" >580</text><text transform="translate(998.2 997.9) rotate(22.0) skewX(-4.0)" font-size="21.0" text-anchor="middle" dominant-baseline="central" fill="#111" >560</text><text transform="translate(1009.5 978.6) rotate(22.0) skewX(-4.0)" font-size="21.0" text-anchor="middle" dominant-baseline="central" fill="#111" >540</text><text transform="translate(1019.1 961.2) rotate(22.0) skewX(-4.0)" font-size="21.0" text-anchor="middle" dominant-baseline="central" fill="#111" >520</text><text transform="translate(1029.6 943.7) rotate(22.0) skewX(-4.0)" font-size="21.0" text-anchor="middle" dominant-baseline="central" fill="#111" >500</text><text transform="translate(1038.3 926.2) rotate(22.0) skewX(-4.0)" font-size="21.0" text-anchor="middle" dominant-baseline="central" fill="#111" >480</text><text transform="translate(1049.7 906.2) rotate(22.0) skewX(-4.0)" font-size="21.0" text-anchor="middle" dominant-baseline="central" fill="#111" >460</text><text transform="translate(1061.9 975.2) rotate(-60.5) skewX(-10.0)" font-size="21.5" text-anchor="middle" dominant-baseline="central" fill="#111" >Wavelength (nm)</text><text x="622.5" y="556.3" font-size="43.4" font-weight="bold" fill="#000">E</text><g fill="none" stroke="#f3f3f3" stroke-width="1"><polyline points="1267.7,656.3 1400.8,596.7 1608.7,629.1"/><polyline points="1269.4,723.6 1400.9,653.3 1606.2,691.1"/><polyline points="1271.0,786.0 1401.1,706.0 1603.8,748.4"/><polyline points="1272.6,848.5 1401.3,758.9 1601.5,805.6"/><polyline points="1274.0,905.8 1401.4,807.6 1599.3,857.8"/><polyline points="1296.0,926.5 1288.7,588.1"/><polyline points="1315.9,910.1 1309.9,580.2"/><polyline points="1334.8,894.6 1330.0,572.7"/><polyline points="1352.7,879.9 1349.1,565.7"/><polyline points="1369.8,865.9 1367.1,559.0"/><polyline points="1386.0,852.5 1384.3,552.6"/><polyline points="1425.4,846.2 1426.1,549.9"/><polyline points="1449.9,852.7 1452.2,553.2"/><polyline points="1474.9,859.4 1479.0,556.7"/><polyline points="1500.5,866.2 1506.4,560.2"/><polyline points="1526.7,873.2 1534.5,563.8"/><polyline points="1553.6,880.4 1563.3,567.6"/><polyline points="1581.1,887.7 1592.9,571.4"/></g><g fill="none" stroke="#aaaaaa" stroke-width="1.3"><polyline points="1266.2,596.4 1400.6,546.6 1611.0,573.7 1597.9,892.2"/><polyline points="1400.6,546.6 1401.5,839.8" stroke-opacity="0.6"/></g><polyline points="1266.2,596.4 1275.0,943.7" fill="none" stroke="#5a5a5a" stroke-width="1.5"/><g filter="url(#b1)"><polygon points="1275.0,943.7 1277.1,944.4 1403.4,840.3 1401.5,839.8" fill="#f59a01"/><polygon points="1276.7,944.3 1278.9,945.0 1404.9,840.7 1403.0,840.2" fill="#f7a700"/><polygon points="1278.4,944.8 1280.6,945.6 1406.4,841.1 1404.5,840.6" fill="#fbcc00"/><polygon points="1280.2,945.4 1282.3,946.1 1407.9,841.5 1406.0,841.0" fill="#f38d03"/><polygon points="1281.9,946.0 1284.0,946.7 1409.4,841.9 1407.5,841.4" fill="#f69f00"/><polygon points="1283.6,946.6 1285.8,947.3 1410.9,842.3 1409.0,841.8" fill="#f69d00"/><polygon points="1285.4,947.1 1287.5,947.9 1412.4,842.7 1410.6,842.2" fill="#f6a300"/><polygon points="1287.1,947.7 1289.2,948.4 1414.0,843.1 1412.1,842.6" fill="#ef7806"/><polygon points="1288.8,948.3 1291.0,949.0 1415.5,843.5 1413.6,843.0" fill="#f28c03"/><polygon points="1290.6,948.9 1292.7,949.6 1417.0,843.9 1415.1,843.4" fill="#f18204"/><polygon points="1292.3,949.5 1294.5,950.2 1418.5,844.3 1416.6,843.8" fill="#f8b100"/><polygon points="1294.1,950.0 1296.2,950.8 1420.1,844.8 1418.2,844.2" fill="#f9b600"/><polygon points="1295.8,950.6 1298.0,951.3 1421.6,845.2 1419.7,844.7" fill="#fbc800"/><polygon points="1297.6,951.2 1299.7,951.9 1423.1,845.6 1421.2,845.1" fill="#f8b000"/><polygon points="1299.3,951.8 1301.5,952.5 1424.7,846.0 1422.8,845.5" fill="#ece503"/><polygon points="1301.1,952.4 1303.3,953.1 1426.2,846.4 1424.3,845.9" fill="#fccf00"/><polygon points="1302.8,953.0 1305.0,953.7 1427.7,846.8 1425.8,846.3" fill="#6fb62b"/><polygon points="1304.6,953.5 1306.8,954.3 1429.3,847.2 1427.4,846.7" fill="#63c3cd"/><polygon points="1306.4,954.1 1308.6,954.9 1430.8,847.6 1428.9,847.1" fill="#3c64b6"/><polygon points="1308.1,954.7 1310.3,955.5 1432.4,848.0 1430.4,847.5" fill="#3a51a3"/><polygon points="1309.9,955.3 1312.1,956.0 1433.9,848.4 1432.0,847.9" fill="#3a52a5"/><polygon points="1311.7,955.9 1313.9,956.6 1435.5,848.9 1433.5,848.3" fill="#3e75c6"/><polygon points="1313.5,956.5 1315.7,957.2 1437.0,849.3 1435.1,848.8" fill="#4390d5"/><polygon points="1315.2,957.1 1317.5,957.8 1438.6,849.7 1436.6,849.2" fill="#78c4a9"/><polygon points="1317.0,957.7 1319.2,958.4 1440.1,850.1 1438.2,849.6" fill="#75c08d"/><polygon points="1318.8,958.3 1321.0,959.0 1441.7,850.5 1439.7,850.0" fill="#6cb52d"/><polygon points="1320.6,958.9 1322.8,959.6 1443.2,850.9 1441.3,850.4" fill="#6cb63e"/><polygon points="1322.4,959.5 1324.6,960.2 1444.8,851.3 1442.9,850.8" fill="#6ab42e"/><polygon points="1324.2,960.1 1326.4,960.8 1446.4,851.8 1444.4,851.2" fill="#6eb52b"/><polygon points="1326.0,960.7 1328.2,961.4 1447.9,852.2 1446.0,851.7" fill="#6bb42e"/><polygon points="1327.8,961.3 1330.0,962.0 1449.5,852.6 1447.5,852.1" fill="#6bb42d"/><polygon points="1329.6,961.9 1331.8,962.6 1451.1,853.0 1449.1,852.5" fill="#6db52c"/><polygon points="1331.4,962.5 1333.7,963.2 1452.6,853.4 1450.7,852.9" fill="#6eb52b"/><polygon points="1333.2,963.1 1335.5,963.8 1454.2,853.9 1452.3,853.3" fill="#6fba5d"/><polygon points="1335.0,963.7 1337.3,964.4 1455.8,854.3 1453.8,853.8" fill="#6fb62b"/><polygon points="1336.9,964.3 1339.1,965.0 1457.4,854.7 1455.4,854.2" fill="#6db52c"/><polygon points="1338.7,964.9 1340.9,965.6 1458.9,855.1 1457.0,854.6" fill="#6eb52b"/><polygon points="1340.5,965.5 1342.8,966.2 1460.5,855.5 1458.6,855.0" fill="#6bb42d"/><polygon points="1342.3,966.1 1344.6,966.9 1462.1,856.0 1460.1,855.4" fill="#6eb52c"/><polygon points="1344.2,966.7 1346.4,967.5 1463.7,856.4 1461.7,855.9" fill="#70b62a"/><polygon points="1346.0,967.3 1348.3,968.1 1465.3,856.8 1463.3,856.3" fill="#6db52c"/><polygon points="1347.8,967.9 1350.1,968.7 1466.9,857.2 1464.9,856.7" fill="#6db52c"/><polygon points="1349.7,968.5 1352.0,969.3 1468.5,857.7 1466.5,857.1" fill="#6db52c"/><polygon points="1351.5,969.1 1353.8,969.9 1470.1,858.1 1468.1,857.6" fill="#6db52c"/><polygon points="1353.4,969.8 1355.7,970.5 1471.7,858.5 1469.7,858.0" fill="#70b62a"/><polygon points="1355.2,970.4 1357.5,971.1 1473.3,858.9 1471.3,858.4" fill="#6fb62a"/><polygon points="1357.1,971.0 1359.4,971.8 1474.9,859.4 1472.9,858.8" fill="#6fb62b"/><polygon points="1358.9,971.6 1361.2,972.4 1476.5,859.8 1474.5,859.3" fill="#88be20"/><polygon points="1360.8,972.2 1363.1,973.0 1478.1,860.2 1476.1,859.7" fill="#6fb62b"/><polygon points="1362.6,972.8 1365.0,973.6 1479.7,860.7 1477.7,860.1" fill="#6fb62b"/><polygon points="1364.5,973.5 1366.8,974.2 1481.3,861.1 1479.3,860.6" fill="#d7db06"/><polygon points="1366.4,974.1 1368.7,974.9 1482.9,861.5 1480.9,861.0" fill="#82bc23"/><polygon points="1368.2,974.7 1370.6,975.5 1484.5,862.0 1482.5,861.4" fill="#cfd807"/><polygon points="1370.1,975.3 1372.4,976.1 1486.2,862.4 1484.2,861.9" fill="#a3c715"/><polygon points="1372.0,976.0 1374.3,976.7 1487.8,862.8 1485.8,862.3" fill="#a8c913"/><polygon points="1373.9,976.6 1376.2,977.4 1489.4,863.3 1487.4,862.7" fill="#c9d508"/><polygon points="1375.8,977.2 1378.1,978.0 1491.0,863.7 1489.0,863.2" fill="#a7c813"/><polygon points="1377.7,977.8 1380.0,978.6 1492.7,864.1 1490.6,863.6" fill="#aecb11"/><polygon points="1379.5,978.5 1381.9,979.3 1494.3,864.6 1492.3,864.0" fill="#c9d508"/><polygon points="1381.4,979.1 1383.8,979.9 1495.9,865.0 1493.9,864.5" fill="#cad508"/><polygon points="1383.3,979.7 1385.7,980.5 1497.6,865.4 1495.5,864.9" fill="#f8ea01"/><polygon points="1385.2,980.4 1387.6,981.1 1499.2,865.9 1497.2,865.3" fill="#fac500"/><polygon points="1387.1,981.0 1389.5,981.8 1500.8,866.3 1498.8,865.8" fill="#c6d409"/><polygon points="1389.0,981.6 1391.4,982.4 1502.5,866.7 1500.4,866.2" fill="#d8dc06"/><polygon points="1391.0,982.3 1393.3,983.1 1504.1,867.2 1502.1,866.6" fill="#fcd500"/><polygon points="1392.9,982.9 1395.2,983.7 1505.8,867.6 1503.7,867.1" fill="#fcd600"/><polygon points="1394.8,983.5 1397.2,984.3 1507.4,868.1 1505.4,867.5" fill="#f9bc00"/><polygon points="1396.7,984.2 1399.1,985.0 1509.1,868.5 1507.0,868.0" fill="#faeb01"/><polygon points="1398.6,984.8 1401.0,985.6 1510.7,868.9 1508.7,868.4" fill="#fac100"/><polygon points="1400.6,985.5 1403.0,986.3 1512.4,869.4 1510.3,868.8" fill="#fccf00"/><polygon points="1402.5,986.1 1404.9,986.9 1514.0,869.8 1512.0,869.3" fill="#efe602"/><polygon points="1404.4,986.7 1406.8,987.5 1515.7,870.3 1513.6,869.7" fill="#f8b300"/><polygon points="1406.4,987.4 1408.8,988.2 1517.4,870.7 1515.3,870.2" fill="#feed00"/><polygon points="1408.3,988.0 1410.7,988.8 1519.0,871.2 1517.0,870.6" fill="#f6a400"/><polygon points="1410.2,988.7 1412.7,989.5 1520.7,871.6 1518.6,871.1" fill="#fabf00"/><polygon points="1412.2,989.3 1414.6,990.1 1522.4,872.1 1520.3,871.5" fill="#f9b600"/><polygon points="1414.1,990.0 1416.6,990.8 1524.1,872.5 1522.0,871.9" fill="#ed6c07"/><polygon points="1416.1,990.6 1418.5,991.4 1525.7,872.9 1523.6,872.4" fill="#f07f05"/><polygon points="1418.1,991.3 1420.5,992.1 1527.4,873.4 1525.3,872.8" fill="#f6a100"/><polygon points="1420.0,991.9 1422.5,992.7 1529.1,873.8 1527.0,873.3" fill="#f6a200"/><polygon points="1422.0,992.6 1424.4,993.4 1530.8,874.3 1528.7,873.7" fill="#fbc700"/><polygon points="1423.9,993.2 1426.4,994.1 1532.5,874.7 1530.4,874.2" fill="#f28704"/><polygon points="1425.9,993.9 1428.4,994.7 1534.1,875.2 1532.0,874.6" fill="#f59a01"/><polygon points="1427.9,994.6 1430.4,995.4 1535.8,875.6 1533.7,875.1" fill="#fbc900"/><polygon points="1429.9,995.2 1432.3,996.0 1537.5,876.1 1535.4,875.5" fill="#fee200"/><polygon points="1431.9,995.9 1434.3,996.7 1539.2,876.5 1537.1,876.0" fill="#f7ac00"/><polygon points="1433.8,996.5 1436.3,997.4 1540.9,877.0 1538.8,876.4" fill="#f8b200"/><polygon points="1435.8,997.2 1438.3,998.0 1542.6,877.4 1540.5,876.9" fill="#f39002"/><polygon points="1437.8,997.9 1440.3,998.7 1544.3,877.9 1542.2,877.3" fill="#fbcc00"/><polygon points="1439.8,998.5 1442.3,999.3 1546.0,878.4 1543.9,877.8" fill="#fbc700"/><polygon points="1441.8,999.2 1444.3,1000.0 1547.7,878.8 1545.6,878.2" fill="#f59d00"/><polygon points="1443.8,999.9 1446.3,1000.7 1549.4,879.3 1547.3,878.7" fill="#f7a700"/><polygon points="1445.8,1000.5 1448.3,1001.3 1551.1,879.7 1549.0,879.2" fill="#f38c03"/><polygon points="1447.8,1001.2 1450.3,1002.0 1552.9,880.2 1550.7,879.6" fill="#f28604"/><polygon points="1449.9,1001.9 1452.4,1002.7 1554.6,880.6 1552.5,880.1" fill="#fac600"/><polygon points="1451.9,1002.5 1454.4,1003.4 1556.3,881.1 1554.2,880.5" fill="#f7e901"/><polygon points="1453.9,1003.2 1456.4,1004.0 1558.0,881.6 1555.9,881.0" fill="#f7a600"/><polygon points="1455.9,1003.9 1458.4,1004.7 1559.7,882.0 1557.6,881.4" fill="#fabf00"/><polygon points="1457.9,1004.5 1460.5,1005.4 1561.5,882.5 1559.3,881.9" fill="#f6a000"/><polygon points="1460.0,1005.2 1462.5,1006.1 1563.2,882.9 1561.1,882.4" fill="#ede503"/><polygon points="1462.0,1005.9 1464.5,1006.7 1564.9,883.4 1562.8,882.8" fill="#f7aa00"/><polygon points="1464.1,1006.6 1466.6,1007.4 1566.7,883.9 1564.5,883.3" fill="#f6a300"/><polygon points="1466.1,1007.3 1468.6,1008.1 1568.4,884.3 1566.3,883.8" fill="#f9b800"/><polygon points="1468.1,1007.9 1470.7,1008.8 1570.1,884.8 1568.0,884.2" fill="#f49501"/><polygon points="1470.2,1008.6 1472.7,1009.5 1571.9,885.3 1569.7,884.7" fill="#f6a200"/><polygon points="1472.2,1009.3 1474.8,1010.2 1573.6,885.7 1571.5,885.1" fill="#f69d00"/><polygon points="1474.3,1010.0 1476.9,1010.8 1575.4,886.2 1573.2,885.6" fill="#f07c05"/><polygon points="1476.4,1010.7 1478.9,1011.5 1577.1,886.7 1575.0,886.1" fill="#f07b05"/><polygon points="1478.4,1011.4 1481.0,1012.2 1578.9,887.1 1576.7,886.5" fill="#f07e05"/><polygon points="1480.5,1012.0 1483.1,1012.9 1580.6,887.6 1578.5,887.0" fill="#f59701"/><polygon points="1482.6,1012.7 1485.1,1013.6 1582.4,888.1 1580.2,887.5" fill="#f69e00"/><polygon points="1484.6,1013.4 1487.2,1014.3 1584.2,888.5 1582.0,888.0" fill="#f39102"/><polygon points="1486.7,1014.1 1489.3,1015.0 1585.9,889.0 1583.7,888.4" fill="#f59801"/><polygon points="1488.8,1014.8 1491.4,1015.7 1587.7,889.5 1585.5,888.9" fill="#f9b900"/><polygon points="1490.9,1015.5 1493.5,1016.4 1589.4,889.9 1587.3,889.4" fill="#f49502"/><polygon points="1493.0,1016.2 1495.6,1017.1 1591.2,890.4 1589.0,889.8" fill="#f18404"/><polygon points="1495.1,1016.9 1497.7,1017.8 1593.0,890.9 1590.8,890.3" fill="#f8ae00"/><polygon points="1497.2,1017.6 1499.8,1018.5 1594.8,891.4 1592.6,890.8" fill="#fac300"/><polygon points="1499.3,1018.3 1501.9,1019.2 1596.5,891.8 1594.3,891.3" fill="#f38e03"/><polygon points="1501.4,1019.0 1504.0,1019.9 1598.3,892.3 1596.1,891.7" fill="#f9b800"/><g mask="url(#mF)"><polygon points="1275.0,943.7 1277.1,944.4 1403.4,840.3 1401.5,839.8" fill="#f49202"/><polygon points="1276.7,944.3 1278.9,945.0 1404.9,840.7 1403.0,840.2" fill="#f6a000"/><polygon points="1278.4,944.8 1280.6,945.6 1406.4,841.1 1404.5,840.6" fill="#fac500"/><polygon points="1280.2,945.4 1282.3,946.1 1407.9,841.5 1406.0,841.0" fill="#f28703"/><polygon points="1281.9,946.0 1284.0,946.7 1409.4,841.9 1407.5,841.4" fill="#f59a01"/><polygon points="1283.6,946.6 1285.8,947.3 1410.9,842.3 1409.0,841.8" fill="#f59901"/><polygon points="1285.4,947.1 1287.5,947.9 1412.4,842.7 1410.6,842.2" fill="#f69f00"/><polygon points="1287.1,947.7 1289.2,948.4 1414.0,843.1 1412.1,842.6" fill="#ef7506"/><polygon points="1288.8,948.3 1291.0,949.0 1415.5,843.5 1413.6,843.0" fill="#f28903"/><polygon points="1290.6,948.9 1292.7,949.6 1417.0,843.9 1415.1,843.4" fill="#f18104"/><polygon points="1292.3,949.5 1294.5,950.2 1418.5,844.3 1416.6,843.8" fill="#f8b000"/><polygon points="1294.1,950.0 1296.2,950.8 1420.1,844.8 1418.2,844.2" fill="#f9b600"/><polygon points="1295.8,950.6 1298.0,951.3 1421.6,845.2 1419.7,844.7" fill="#ffed00"/><polygon points="1297.6,951.2 1299.7,951.9 1423.1,845.6 1421.2,845.1" fill="#d9dc06"/><polygon points="1299.3,951.8 1301.5,952.5 1424.7,846.0 1422.8,845.5" fill="#6fb62b"/><polygon points="1301.1,952.4 1303.3,953.1 1426.2,846.4 1424.3,845.9" fill="#9fc617"/><polygon points="1302.8,953.0 1305.0,953.7 1427.7,846.8 1425.8,846.3" fill="#6fb62b"/><polygon points="1304.6,953.5 1306.8,954.3 1429.3,847.2 1427.4,846.7" fill="#6eb52b"/><polygon points="1306.4,954.1 1308.6,954.9 1430.8,847.6 1428.9,847.1" fill="#6eb52b"/><polygon points="1308.1,954.7 1310.3,955.5 1432.4,848.0 1430.4,847.5" fill="#6bb42d"/><polygon points="1309.9,955.3 1312.1,956.0 1433.9,848.4 1432.0,847.9" fill="#6db52c"/><polygon points="1311.7,955.9 1313.9,956.6 1435.5,848.9 1433.5,848.3" fill="#6eb52c"/><polygon points="1313.5,956.5 1315.7,957.2 1437.0,849.3 1435.1,848.8" fill="#6ab42e"/><polygon points="1315.2,957.1 1317.5,957.8 1438.6,849.7 1436.6,849.2" fill="#70b62a"/><polygon points="1317.0,957.7 1319.2,958.4 1440.1,850.1 1438.2,849.6" fill="#6eb52c"/><polygon points="1318.8,958.3 1321.0,959.0 1441.7,850.5 1439.7,850.0" fill="#6fb62b"/><polygon points="1320.6,958.9 1322.8,959.6 1443.2,850.9 1441.3,850.4" fill="#6cb52c"/><polygon points="1322.4,959.5 1324.6,960.2 1444.8,851.3 1442.9,850.8" fill="#6eb52b"/><polygon points="1324.2,960.1 1326.4,960.8 1446.4,851.8 1444.4,851.2" fill="#9fc617"/><polygon points="1326.0,960.7 1328.2,961.4 1447.9,852.2 1446.0,851.7" fill="#70b62a"/><polygon points="1327.8,961.3 1330.0,962.0 1449.5,852.6 1447.5,852.1" fill="#82bc23"/><polygon points="1329.6,961.9 1331.8,962.6 1451.1,853.0 1449.1,852.5" fill="#acca11"/><polygon points="1331.4,962.5 1333.7,963.2 1452.6,853.4 1450.7,852.9" fill="#ddde05"/><polygon points="1333.2,963.1 1335.5,963.8 1454.2,853.9 1452.3,853.3" fill="#78b927"/><polygon points="1335.0,963.7 1337.3,964.4 1455.8,854.3 1453.8,853.8" fill="#fee700"/><polygon points="1336.9,964.3 1339.1,965.0 1457.4,854.7 1455.4,854.2" fill="#efe602"/><polygon points="1338.7,964.9 1340.9,965.6 1458.9,855.1 1457.0,854.6" fill="#fddd00"/><polygon points="1340.5,965.5 1342.8,966.2 1460.5,855.5 1458.6,855.0" fill="#d4da07"/><polygon points="1342.3,966.1 1344.6,966.9 1462.1,856.0 1460.1,855.4" fill="#fee500"/><polygon points="1344.2,966.7 1346.4,967.5 1463.7,856.4 1461.7,855.9" fill="#f8b500"/><polygon points="1346.0,967.3 1348.3,968.1 1465.3,856.8 1463.3,856.3" fill="#fee600"/><polygon points="1347.8,967.9 1350.1,968.7 1466.9,857.2 1464.9,856.7" fill="#faeb01"/><polygon points="1349.7,968.5 1352.0,969.3 1468.5,857.7 1466.5,857.1" fill="#fee600"/><polygon points="1351.5,969.1 1353.8,969.9 1470.1,858.1 1468.1,857.6" fill="#fee300"/><polygon points="1353.4,969.8 1355.7,970.5 1471.7,858.5 1469.7,858.0" fill="#f8b300"/><polygon points="1355.2,970.4 1357.5,971.1 1473.3,858.9 1471.3,858.4" fill="#fac000"/><polygon points="1357.1,971.0 1359.4,971.8 1474.9,859.4 1472.9,858.8" fill="#fcd100"/><polygon points="1358.9,971.6 1361.2,972.4 1476.5,859.8 1474.5,859.3" fill="#f6a200"/><polygon points="1360.8,972.2 1363.1,973.0 1478.1,860.2 1476.1,859.7" fill="#fddc00"/><polygon points="1362.6,972.8 1365.0,973.6 1479.7,860.7 1477.7,860.1" fill="#fee600"/><polygon points="1364.5,973.5 1366.8,974.2 1481.3,861.1 1479.3,860.6" fill="#ed6b07"/><polygon points="1366.4,974.1 1368.7,974.9 1482.9,861.5 1480.9,861.0" fill="#fbcc00"/><polygon points="1368.2,974.7 1370.6,975.5 1484.5,862.0 1482.5,861.4" fill="#f18404"/><polygon points="1370.1,975.3 1372.4,976.1 1486.2,862.4 1484.2,861.9" fill="#f9ba00"/><polygon points="1372.0,976.0 1374.3,976.7 1487.8,862.8 1485.8,862.3" fill="#f9be00"/><polygon points="1373.9,976.6 1376.2,977.4 1489.4,863.3 1487.4,862.7" fill="#f7a500"/><polygon points="1375.8,977.2 1378.1,978.0 1491.0,863.7 1489.0,863.2" fill="#fcd100"/><polygon points="1377.7,977.8 1380.0,978.6 1492.7,864.1 1490.6,863.6" fill="#fcd100"/><polygon points="1379.5,978.5 1381.9,979.3 1494.3,864.6 1492.3,864.0" fill="#f9bc00"/><polygon points="1381.4,979.1 1383.8,979.9 1495.9,865.0 1493.9,864.5" fill="#fac100"/><polygon points="1383.3,979.7 1385.7,980.5 1497.6,865.4 1495.5,864.9" fill="#f69e00"/><polygon points="1385.2,980.4 1387.6,981.1 1499.2,865.9 1497.2,865.3" fill="#ef7706"/><polygon points="1387.1,981.0 1389.5,981.8 1500.8,866.3 1498.8,865.8" fill="#fdda00"/><polygon points="1389.0,981.6 1391.4,982.4 1502.5,866.7 1500.4,866.2" fill="#fcd000"/><polygon points="1391.0,982.3 1393.3,983.1 1504.1,867.2 1502.1,866.6" fill="#f59b01"/><polygon points="1392.9,982.9 1395.2,983.7 1505.8,867.6 1503.7,867.1" fill="#f6a200"/><polygon points="1394.8,983.5 1397.2,984.3 1507.4,868.1 1505.4,867.5" fill="#f38f02"/><polygon points="1396.7,984.2 1399.1,985.0 1509.1,868.5 1507.0,868.0" fill="#fbca00"/><polygon points="1398.6,984.8 1401.0,985.6 1510.7,868.9 1508.7,868.4" fill="#f69f00"/><polygon points="1400.6,985.5 1403.0,986.3 1512.4,869.4 1510.3,868.8" fill="#f8b300"/><polygon points="1402.5,986.1 1404.9,986.9 1514.0,869.8 1512.0,869.3" fill="#fee500"/><polygon points="1404.4,986.7 1406.8,987.5 1515.7,870.3 1513.6,869.7" fill="#f6a200"/><polygon points="1406.4,987.4 1408.8,988.2 1517.4,870.7 1515.3,870.2" fill="#fee300"/><polygon points="1408.3,988.0 1410.7,988.8 1519.0,871.2 1517.0,870.6" fill="#f69f00"/><polygon points="1410.2,988.7 1412.7,989.5 1520.7,871.6 1518.6,871.1" fill="#fabe00"/><polygon points="1412.2,989.3 1414.6,990.1 1522.4,872.1 1520.3,871.5" fill="#f9b500"/><polygon points="1414.1,990.0 1416.6,990.8 1524.1,872.5 1522.0,871.9" fill="#ed6c07"/><polygon points="1416.1,990.6 1418.5,991.4 1525.7,872.9 1523.6,872.4" fill="#f07e05"/><polygon points="1418.1,991.3 1420.5,992.1 1527.4,873.4 1525.3,872.8" fill="#f6a000"/><polygon points="1420.0,991.9 1422.5,992.7 1529.1,873.8 1527.0,873.3" fill="#f6a100"/><polygon points="1422.0,992.6 1424.4,993.4 1530.8,874.3 1528.7,873.7" fill="#fac600"/><polygon points="1423.9,993.2 1426.4,994.1 1532.5,874.7 1530.4,874.2" fill="#f18604"/><polygon points="1425.9,993.9 1428.4,994.7 1534.1,875.2 1532.0,874.6" fill="#f59901"/><polygon points="1427.9,994.6 1430.4,995.4 1535.8,875.6 1533.7,875.1" fill="#fbc800"/><polygon points="1429.9,995.2 1432.3,996.0 1537.5,876.1 1535.4,875.5" fill="#fee100"/><polygon points="1431.9,995.9 1434.3,996.7 1539.2,876.5 1537.1,876.0" fill="#f7ac00"/><polygon points="1433.8,996.5 1436.3,997.4 1540.9,877.0 1538.8,876.4" fill="#f8b100"/><polygon points="1435.8,997.2 1438.3,998.0 1542.6,877.4 1540.5,876.9" fill="#f39002"/><polygon points="1437.8,997.9 1440.3,998.7 1544.3,877.9 1542.2,877.3" fill="#fbcc00"/><polygon points="1439.8,998.5 1442.3,999.3 1546.0,878.4 1543.9,877.8" fill="#fbc700"/><polygon points="1441.8,999.2 1444.3,1000.0 1547.7,878.8 1545.6,878.2" fill="#f59c00"/><polygon points="1443.8,999.9 1446.3,1000.7 1549.4,879.3 1547.3,878.7" fill="#f7a700"/><polygon points="1445.8,1000.5 1448.3,1001.3 1551.1,879.7 1549.0,879.2" fill="#f28b03"/><polygon points="1447.8,1001.2 1450.3,1002.0 1552.9,880.2 1550.7,879.6" fill="#f18604"/><polygon points="1449.9,1001.9 1452.4,1002.7 1554.6,880.6 1552.5,880.1" fill="#fac500"/><polygon points="1451.9,1002.5 1454.4,1003.4 1556.3,881.1 1554.2,880.5" fill="#f7ea01"/><polygon points="1453.9,1003.2 1456.4,1004.0 1558.0,881.6 1555.9,881.0" fill="#f7a600"/><polygon points="1455.9,1003.9 1458.4,1004.7 1559.7,882.0 1557.6,881.4" fill="#fabf00"/><polygon points="1457.9,1004.5 1460.5,1005.4 1561.5,882.5 1559.3,881.9" fill="#f69f00"/><polygon points="1460.0,1005.2 1462.5,1006.1 1563.2,882.9 1561.1,882.4" fill="#ede503"/><polygon points="1462.0,1005.9 1464.5,1006.7 1564.9,883.4 1562.8,882.8" fill="#f7aa00"/><polygon points="1464.1,1006.6 1466.6,1007.4 1566.7,883.9 1564.5,883.3" fill="#f6a300"/><polygon points="1466.1,1007.3 1468.6,1008.1 1568.4,884.3 1566.3,883.8" fill="#f9b700"/><polygon points="1468.1,1007.9 1470.7,1008.8 1570.1,884.8 1568.0,884.2" fill="#f49502"/><polygon points="1470.2,1008.6 1472.7,1009.5 1571.9,885.3 1569.7,884.7" fill="#f6a100"/><polygon points="1472.2,1009.3 1474.8,1010.2 1573.6,885.7 1571.5,885.1" fill="#f59d00"/><polygon points="1474.3,1010.0 1476.9,1010.8 1575.4,886.2 1573.2,885.6" fill="#f07c05"/><polygon points="1476.4,1010.7 1478.9,1011.5 1577.1,886.7 1575.0,886.1" fill="#f07b05"/><polygon points="1478.4,1011.4 1481.0,1012.2 1578.9,887.1 1576.7,886.5" fill="#f07e05"/><polygon points="1480.5,1012.0 1483.1,1012.9 1580.6,887.6 1578.5,887.0" fill="#f49701"/><polygon points="1482.6,1012.7 1485.1,1013.6 1582.4,888.1 1580.2,887.5" fill="#f69e00"/><polygon points="1484.6,1013.4 1487.2,1014.3 1584.2,888.5 1582.0,888.0" fill="#f39102"/><polygon points="1486.7,1014.1 1489.3,1015.0 1585.9,889.0 1583.7,888.4" fill="#f59801"/><polygon points="1488.8,1014.8 1491.4,1015.7 1587.7,889.5 1585.5,888.9" fill="#f9b900"/><polygon points="1490.9,1015.5 1493.5,1016.4 1589.4,889.9 1587.3,889.4" fill="#f49502"/><polygon points="1493.0,1016.2 1495.6,1017.1 1591.2,890.4 1589.0,889.8" fill="#f18404"/><polygon points="1495.1,1016.9 1497.7,1017.8 1593.0,890.9 1590.8,890.3" fill="#f8ae00"/><polygon points="1497.2,1017.6 1499.8,1018.5 1594.8,891.4 1592.6,890.8" fill="#fac300"/><polygon points="1499.3,1018.3 1501.9,1019.2 1596.5,891.8 1594.3,891.3" fill="#f38e03"/><polygon points="1501.4,1019.0 1504.0,1019.9 1598.3,892.3 1596.1,891.7" fill="#f9b800"/></g></g><polygon points="1268.9,655.8 1268.4,652.8 1269.7,651.8 1270.0,648.1 1270.1,645.5 1269.3,643.7 1269.5,639.0 1269.5,637.9 1271.3,632.9 1271.5,631.8 1270.7,629.3 1272.9,629.5 1272.6,624.7 1274.7,628.6 1274.7,631.5 1277.3,633.1 1277.5,634.8 1280.7,631.5 1282.0,630.2 1284.2,631.1 1287.9,627.2 1288.9,630.2 1293.0,629.0 1294.9,628.5 1298.1,627.3 1300.1,626.3 1302.1,627.1 1304.1,627.5 1308.0,625.9 1309.4,624.0 1312.6,625.0 1313.7,622.2 1316.3,621.4 1319.0,620.8 1322.5,620.3 1324.8,618.9 1327.1,620.0 1330.3,620.0 1333.0,616.4 1334.9,617.5 1337.7,615.4 1339.8,614.3 1342.9,614.6 1343.9,615.8 1347.8,615.2 1349.8,614.7 1352.5,612.5 1354.8,611.8 1357.0,611.3 1360.1,609.7 1361.9,608.2 1363.0,606.9 1365.5,608.6 1367.4,605.7 1369.5,606.7 1371.4,604.9 1373.6,604.3 1376.5,603.1 1379.1,600.2 1381.2,600.7 1382.6,599.7 1386.1,597.9 1388.1,597.9 1389.0,594.5 1392.3,595.6 1394.7,594.2 1395.9,590.9 1397.6,592.1 1400.0,588.5 1403.2,589.7 1405.9,588.2 1408.3,590.8 1409.6,591.5 1412.4,591.6 1415.4,589.8 1418.2,591.1 1418.9,599.9 1422.2,634.8 1413.0,687.2 1402.5,715.2 1399.0,730.9 1397.0,734.1 1396.6,736.2 1396.8,740.2 1394.5,743.5 1393.5,745.2 1393.8,747.7 1392.2,750.1 1392.1,754.5 1391.3,756.4 1389.1,760.7 1389.9,763.6 1387.7,765.4 1387.0,769.6 1385.2,770.2 1385.3,774.7 1384.4,777.3 1383.8,779.3 1381.7,781.6 1380.6,785.3 1379.4,788.1 1376.9,790.4 1376.5,792.2 1375.4,794.7 1374.4,797.7 1373.6,801.9 1372.2,804.2 1373.0,806.8 1371.2,810.6 1370.4,812.4 1368.6,815.3 1368.2,820.2 1367.3,822.1 1366.5,825.7 1363.9,827.1 1363.7,830.1 1364.5,832.7 1362.2,837.2 1361.6,839.5 1360.9,843.0 1359.6,844.3 1358.9,847.9 1359.6,850.8 1357.2,853.2 1357.1,857.5 1354.8,858.0 1355.1,860.8 1353.4,865.1 1352.1,866.1 1351.3,871.1 1351.0,873.7 1349.5,874.1 1347.8,878.5 1346.9,880.2 1345.2,882.5 1345.3,886.0 1342.4,889.7 1341.0,891.5 1341.4,895.2 1339.7,896.4 1337.3,899.8 1337.0,902.9 1335.8,905.6 1334.1,906.4 1334.3,909.1 1332.9,913.9 1329.8,915.2 1330.2,919.2 1327.3,919.9 1326.3,922.5 1323.0,926.8 1322.3,928.7 1321.3,930.8 1318.0,933.8 1317.5,936.7 1314.7,938.5 1313.4,941.9 1312.5,943.6 1309.9,929.7 1306.4,894.7 1302.9,859.8 1300.3,824.8 1297.7,820.0 1295.9,792.0 1294.2,757.1 1291.6,722.1 1289.0,704.7 1285.5,687.2 1278.5,683.7 1271.5,675.0" fill="url(#gFc)" filter="url(#b1)"/><g clip-path="url(#cFc)"><polygon points="1294.2,739.6 1317.8,739.6 1319.5,861.9 1313.4,942.2 1304.7,879.3" fill="#fff" opacity="0.05" filter="url(#b4)"/><polyline points="1330.9,750.1 1357.1,741.4 1374.5,730.9 1392.0,727.4 1402.5,718.6" fill="none" stroke="#d8dc00" stroke-width="12" stroke-opacity="0.7" filter="url(#b4)"/></g><g filter="url(#b1)"><polygon points="1332.6,744.8 1332.3,740.9 1334.0,739.7 1332.8,737.1 1334.9,734.6 1334.4,732.4 1335.6,728.7 1335.3,724.7 1335.7,725.5 1335.2,722.4 1337.8,718.5 1338.1,716.9 1339.2,714.0 1339.2,714.1 1341.8,710.9 1342.3,707.7 1343.5,704.8 1343.6,702.2 1345.8,700.2 1346.2,699.4 1348.0,698.1 1349.1,694.0 1349.5,692.2 1352.3,692.0 1352.9,688.4 1355.3,683.4 1356.7,684.5 1356.7,684.9 1359.9,682.8 1361.7,681.2 1362.1,678.7 1364.6,676.6 1366.3,676.5 1368.4,674.7 1370.0,672.4 1373.5,672.3 1374.0,670.2 1376.5,667.5 1378.8,668.6 1381.3,662.3 1384.0,664.5 1385.0,664.5 1387.0,660.8 1389.1,659.1 1391.9,659.6 1393.9,656.5 1396.7,655.9 1397.8,655.9 1400.6,653.3 1402.5,650.7 1405.5,650.6 1408.1,650.5 1409.9,648.2 1412.1,648.3 1414.5,646.3 1415.5,643.6 1418.8,643.1 1421.0,639.0 1423.0,638.9 1424.3,635.7 1425.5,635.5 1427.5,633.0 1429.3,630.8 1431.4,628.5 1434.0,627.4 1436.2,625.9 1437.3,623.5 1439.8,624.1 1442.3,619.4 1442.9,619.9 1446.0,618.7 1447.6,616.8 1449.2,615.5 1452.0,614.1 1453.7,610.6 1456.3,610.3 1455.6,609.6 1456.3,609.1 1457.5,609.9 1458.2,607.4 1459.4,608.5 1460.1,608.9 1461.3,608.6 1462.0,606.5 1463.2,607.9 1463.9,599.5 1465.1,607.9 1465.8,604.2 1467.0,607.5 1467.7,597.2 1468.9,606.2 1469.6,598.4 1470.8,605.9 1471.5,606.0 1472.7,606.0 1473.4,602.3 1474.6,605.0 1475.3,603.4 1476.5,604.5 1477.2,604.1 1478.5,605.1 1479.2,603.5 1480.4,604.9 1481.1,604.1 1482.4,604.9 1483.1,604.7 1484.3,605.2 1485.0,605.6 1486.3,605.2 1487.0,604.1 1488.2,606.2 1488.9,604.5 1490.1,605.9 1490.8,605.4 1492.1,606.6 1492.8,601.1 1494.0,606.1 1494.7,606.3 1496.0,606.5 1496.7,603.5 1497.9,606.7 1498.6,605.5 1499.8,606.7 1500.5,606.9 1501.8,607.4 1502.5,606.8 1503.7,607.0 1504.4,607.6 1505.7,607.6 1506.4,606.2 1507.6,607.9 1508.3,601.3 1509.5,608.3 1510.2,606.8 1511.5,608.0 1512.2,607.8 1513.4,608.7 1514.1,603.4 1515.4,608.7 1516.1,606.3 1517.3,609.0 1518.0,607.6 1519.2,609.3 1519.9,607.3 1521.2,609.4 1521.9,601.6 1523.1,609.3 1523.8,606.3 1525.1,609.5 1525.8,603.6 1527.0,609.5 1527.7,599.4 1529.0,609.5 1529.7,603.0 1530.9,610.1 1531.6,608.3 1532.8,610.1 1533.5,610.1 1534.8,610.8 1535.5,608.2 1536.7,611.0 1537.4,609.9 1538.7,610.7 1539.4,610.1 1540.6,610.9 1541.3,605.6 1542.5,611.2 1543.2,606.9 1544.5,611.2 1545.2,610.9 1546.4,612.0 1547.1,612.0 1548.4,611.6 1549.1,605.0 1550.3,611.8 1551.0,609.2 1552.2,612.7 1552.9,610.3 1554.2,612.5 1554.9,612.1 1556.1,613.4 1556.8,607.5 1558.1,613.4 1558.8,612.5 1560.0,613.3 1560.7,611.8 1561.9,614.2 1562.6,606.0 1563.9,614.3 1564.6,614.1 1565.8,615.0 1566.5,611.2 1567.8,614.4 1568.5,611.5 1569.7,614.9 1570.4,613.6 1571.6,615.6 1572.3,611.1 1573.6,615.9 1574.3,614.0 1575.5,615.9 1576.2,610.5 1577.5,616.1 1578.2,615.9 1579.4,616.2 1580.1,616.0 1581.4,616.9 1582.1,616.8 1583.3,617.1 1584.0,612.7 1585.2,617.0 1585.9,614.7 1587.1,617.3 1587.8,612.9 1589.0,616.6 1589.7,615.0 1591.0,617.0 1591.7,615.8 1592.9,616.9 1593.6,616.6 1594.8,616.8 1595.5,610.8 1596.7,616.6 1597.4,617.0 1598.6,616.9 1599.3,615.4 1600.6,616.5 1601.3,614.6 1601.7,618.2 1602.4,617.3 1602.9,620.7 1603.6,617.9 1604.1,622.4 1604.8,621.0 1605.2,623.8 1605.9,622.7 1606.4,625.4 1607.1,625.8 1607.6,627.8 1608.3,620.5 1608.3,627.8 1608.3,629.6 1605.8,630.8 1603.1,632.1 1599.9,633.8 1597.8,636.0 1596.9,637.8 1594.3,638.9 1592.3,640.9 1588.5,644.1 1587.3,646.1 1584.2,646.0 1583.1,649.3 1579.5,650.3 1579.3,654.1 1575.2,654.8 1573.8,658.7 1573.3,660.2 1570.8,663.3 1569.0,666.0 1566.9,668.2 1563.5,670.0 1563.4,672.9 1560.5,673.7 1558.0,675.1 1555.4,678.8 1554.5,680.4 1551.4,682.0 1549.0,684.0 1547.4,688.1 1545.8,688.3 1542.8,692.0 1540.1,693.2 1538.7,695.2 1537.3,697.0 1534.3,699.4 1531.5,702.7 1529.5,704.1 1528.8,706.3 1525.7,709.0 1523.6,711.1 1520.5,711.8 1520.5,715.8 1517.9,715.7 1516.6,719.3 1512.8,719.6 1511.8,722.5 1510.0,723.8 1507.4,727.4 1505.2,729.7 1503.4,730.9 1500.0,747.3 1499.3,743.6 1498.6,739.6 1498.0,739.2 1497.3,739.8 1496.7,736.1 1496.0,730.4 1495.4,730.2 1494.7,740.8 1493.6,736.5 1492.4,729.8 1491.2,739.0 1490.1,736.1 1488.9,742.8 1487.7,738.0 1486.6,745.4 1485.4,741.5 1484.2,733.0 1483.1,733.4 1481.9,728.2 1480.7,726.5 1479.6,725.9 1478.4,724.9 1477.2,721.0 1475.1,731.2 1472.9,731.5 1470.7,723.7 1468.5,726.5 1467.7,725.8 1466.9,727.9 1466.1,737.8 1465.3,741.2 1464.5,737.9 1463.8,739.7 1463.0,747.7 1462.2,745.0 1461.4,742.5 1460.6,746.2 1459.8,749.6 1459.5,748.6 1459.2,748.4 1458.9,741.3 1458.6,738.8 1458.3,737.1 1458.0,737.9 1457.7,743.4 1457.5,733.5 1457.2,727.0 1456.9,726.0 1456.6,727.2 1456.3,732.6 1454.3,721.9 1452.3,717.7 1450.3,725.5 1448.3,718.8 1446.3,721.7 1444.3,715.7 1442.3,711.5 1440.6,713.5 1438.8,714.3 1437.1,715.8 1435.3,722.7 1433.6,718.1 1431.8,720.6 1430.1,718.9 1428.3,718.4 1426.6,714.8 1424.8,712.6 1423.6,715.6 1422.4,719.6 1421.2,717.5 1420.0,722.4 1418.7,730.8 1417.5,735.3 1416.3,735.8 1415.1,725.9 1413.8,727.8 1412.6,730.3 1411.6,730.0 1410.7,733.0 1409.7,725.1 1408.7,722.1 1407.8,725.9 1406.8,721.1 1405.8,723.3 1404.9,721.7 1403.9,724.0 1401.9,726.8 1399.9,718.8 1397.9,723.9 1395.9,728.5 1393.9,719.6 1391.9,720.9 1389.9,721.8 1387.7,725.7 1385.5,722.8 1383.3,734.3 1381.1,734.5 1378.9,728.3 1376.7,725.4 1374.5,727.3 1372.6,730.3 1370.7,726.1 1368.7,729.0 1366.8,729.6 1364.8,733.0 1362.9,734.8 1361.0,736.0 1359.0,736.1 1357.1,738.6 1354.8,734.6 1352.5,735.6 1350.3,739.3 1348.0,735.8 1345.7,742.6 1343.4,747.6 1341.2,746.4 1338.9,739.1 1336.6,742.0 1334.4,739.5" fill="url(#gFf)"/><g clip-path="url(#cFf)"><ellipse cx="1465.0" cy="655.0" rx="42" ry="20" fill="#e8470e" opacity="0.85" filter="url(#b8)" transform="rotate(-8 1465 655)"/><polyline points="1330.9,746.6 1357.1,730.9 1374.5,722.1 1392.0,718.6 1409.5,718.6" fill="none" stroke="#ffe600" stroke-width="14" stroke-opacity="0.9" filter="url(#b4)"/><polyline points="1336.1,720.4 1344.8,702.1 1357.1,685.5 1374.5,672.4 1392.0,662.8 1410.0,652.3 1422.2,641.8 1433.9,631.3" fill="none" stroke="#ffe600" stroke-width="12" stroke-opacity="0.85" filter="url(#b4)"/><polyline points="1444.4,622.6 1477.2,613.8 1512.2,615.6 1547.1,619.1 1582.1,624.3 1605.1,624.3" fill="none" stroke="#f7a600" stroke-width="16" stroke-opacity="0.9" filter="url(#b4)"/></g><g clip-path="url(#cFf)"><line x1="1424.7" y1="671.2" x2="1424.4" y2="694.8" stroke="#ee7203" stroke-width="1.1" stroke-opacity="0.21"/><line x1="1441.7" y1="635.8" x2="1441.3" y2="648.9" stroke="#ee7203" stroke-width="1.5" stroke-opacity="0.20"/><line x1="1543.0" y1="660.1" x2="1542.5" y2="683.0" stroke="#ffd500" stroke-width="1.2" stroke-opacity="0.28"/><line x1="1478.0" y1="701.4" x2="1477.7" y2="722.0" stroke="#f39200" stroke-width="1.0" stroke-opacity="0.49"/><line x1="1568.3" y1="633.5" x2="1568.0" y2="653.5" stroke="#ee7203" stroke-width="1.3" stroke-opacity="0.48"/><line x1="1359.8" y1="718.8" x2="1360.2" y2="735.6" stroke="#ffd500" stroke-width="0.9" stroke-opacity="0.46"/><line x1="1532.1" y1="685.3" x2="1531.7" y2="715.6" stroke="#f39200" stroke-width="1.6" stroke-opacity="0.52"/><line x1="1426.0" y1="684.3" x2="1426.1" y2="708.8" stroke="#ee7203" stroke-width="1.0" stroke-opacity="0.46"/><line x1="1538.9" y1="686.2" x2="1538.3" y2="715.0" stroke="#ee7203" stroke-width="1.0" stroke-opacity="0.41"/><line x1="1571.1" y1="649.7" x2="1570.4" y2="660.1" stroke="#ea5b0c" stroke-width="0.8" stroke-opacity="0.38"/><line x1="1493.7" y1="670.6" x2="1493.5" y2="704.7" stroke="#ea5b0c" stroke-width="1.4" stroke-opacity="0.51"/><line x1="1490.2" y1="715.7" x2="1491.0" y2="753.0" stroke="#ffd500" stroke-width="1.6" stroke-opacity="0.40"/><line x1="1388.9" y1="663.4" x2="1389.6" y2="702.9" stroke="#f39200" stroke-width="0.9" stroke-opacity="0.52"/><line x1="1367.6" y1="636.9" x2="1367.3" y2="670.4" stroke="#ee7203" stroke-width="0.8" stroke-opacity="0.36"/><line x1="1501.4" y1="670.9" x2="1500.9" y2="691.9" stroke="#f39200" stroke-width="0.9" stroke-opacity="0.38"/><line x1="1460.2" y1="701.1" x2="1460.3" y2="735.5" stroke="#ea5b0c" stroke-width="1.5" stroke-opacity="0.26"/><line x1="1373.4" y1="679.8" x2="1372.5" y2="708.9" stroke="#f39200" stroke-width="1.5" stroke-opacity="0.33"/><line x1="1340.7" y1="652.1" x2="1340.3" y2="688.5" stroke="#f39200" stroke-width="1.3" stroke-opacity="0.47"/><line x1="1492.8" y1="732.8" x2="1492.8" y2="745.2" stroke="#ea5b0c" stroke-width="1.7" stroke-opacity="0.34"/><line x1="1425.2" y1="652.6" x2="1425.2" y2="687.9" stroke="#f39200" stroke-width="0.8" stroke-opacity="0.38"/><line x1="1565.3" y1="693.5" x2="1564.4" y2="717.1" stroke="#ea5b0c" stroke-width="1.6" stroke-opacity="0.30"/><line x1="1514.7" y1="673.9" x2="1514.4" y2="706.6" stroke="#ffd500" stroke-width="0.9" stroke-opacity="0.21"/><line x1="1360.0" y1="674.0" x2="1359.6" y2="697.9" stroke="#ea5b0c" stroke-width="1.8" stroke-opacity="0.27"/><line x1="1508.3" y1="635.1" x2="1508.3" y2="653.0" stroke="#ea5b0c" stroke-width="1.5" stroke-opacity="0.24"/><line x1="1467.8" y1="686.8" x2="1468.3" y2="711.2" stroke="#ffd500" stroke-width="1.3" stroke-opacity="0.34"/><line x1="1509.1" y1="713.8" x2="1508.3" y2="745.8" stroke="#ea5b0c" stroke-width="1.3" stroke-opacity="0.31"/><line x1="1578.1" y1="683.5" x2="1577.3" y2="704.3" stroke="#ea5b0c" stroke-width="1.6" stroke-opacity="0.46"/><line x1="1426.9" y1="657.0" x2="1427.8" y2="693.0" stroke="#ffd500" stroke-width="1.0" stroke-opacity="0.30"/><line x1="1453.6" y1="688.9" x2="1453.2" y2="723.4" stroke="#ee7203" stroke-width="1.0" stroke-opacity="0.44"/><line x1="1374.6" y1="682.6" x2="1375.3" y2="693.4" stroke="#ee7203" stroke-width="1.4" stroke-opacity="0.50"/><line x1="1410.0" y1="651.3" x2="1409.8" y2="689.3" stroke="#ee7203" stroke-width="1.2" stroke-opacity="0.28"/><line x1="1480.4" y1="653.0" x2="1481.3" y2="679.6" stroke="#ee7203" stroke-width="1.6" stroke-opacity="0.52"/><line x1="1485.3" y1="685.1" x2="1485.2" y2="713.8" stroke="#f39200" stroke-width="1.5" stroke-opacity="0.33"/><line x1="1345.9" y1="693.6" x2="1345.1" y2="709.0" stroke="#ee7203" stroke-width="0.8" stroke-opacity="0.36"/><line x1="1572.3" y1="665.4" x2="1572.8" y2="694.2" stroke="#ee7203" stroke-width="0.7" stroke-opacity="0.37"/><line x1="1451.1" y1="670.5" x2="1450.9" y2="684.2" stroke="#ea5b0c" stroke-width="1.6" stroke-opacity="0.34"/><line x1="1562.0" y1="636.2" x2="1562.8" y2="664.7" stroke="#ee7203" stroke-width="1.2" stroke-opacity="0.41"/><line x1="1358.9" y1="682.5" x2="1359.4" y2="702.4" stroke="#f39200" stroke-width="1.0" stroke-opacity="0.50"/><line x1="1368.8" y1="699.0" x2="1369.1" y2="723.6" stroke="#ea5b0c" stroke-width="1.0" stroke-opacity="0.48"/><line x1="1358.6" y1="726.1" x2="1359.6" y2="747.9" stroke="#f39200" stroke-width="1.3" stroke-opacity="0.27"/><line x1="1400.7" y1="706.3" x2="1400.7" y2="745.3" stroke="#ea5b0c" stroke-width="1.7" stroke-opacity="0.22"/><line x1="1518.5" y1="680.2" x2="1518.7" y2="697.4" stroke="#ea5b0c" stroke-width="1.3" stroke-opacity="0.34"/><line x1="1395.0" y1="725.4" x2="1395.6" y2="746.6" stroke="#ffd500" stroke-width="0.8" stroke-opacity="0.41"/><line x1="1395.9" y1="720.3" x2="1396.0" y2="732.7" stroke="#f39200" stroke-width="0.8" stroke-opacity="0.24"/><line x1="1435.4" y1="655.4" x2="1435.0" y2="694.3" stroke="#f39200" stroke-width="1.4" stroke-opacity="0.32"/><line x1="1358.0" y1="665.9" x2="1358.6" y2="677.0" stroke="#f39200" stroke-width="1.8" stroke-opacity="0.53"/><line x1="1358.2" y1="656.2" x2="1359.1" y2="687.7" stroke="#ee7203" stroke-width="1.3" stroke-opacity="0.40"/><line x1="1531.3" y1="713.1" x2="1531.3" y2="747.0" stroke="#ee7203" stroke-width="1.2" stroke-opacity="0.34"/><line x1="1460.1" y1="649.6" x2="1460.3" y2="669.4" stroke="#ee7203" stroke-width="1.7" stroke-opacity="0.35"/><line x1="1483.6" y1="639.6" x2="1484.1" y2="659.6" stroke="#ea5b0c" stroke-width="1.1" stroke-opacity="0.48"/><line x1="1382.8" y1="710.2" x2="1383.3" y2="732.5" stroke="#ee7203" stroke-width="1.5" stroke-opacity="0.24"/><line x1="1570.2" y1="654.5" x2="1570.2" y2="665.3" stroke="#f39200" stroke-width="1.4" stroke-opacity="0.47"/><line x1="1353.5" y1="696.1" x2="1353.1" y2="733.2" stroke="#ea5b0c" stroke-width="1.0" stroke-opacity="0.52"/><line x1="1476.7" y1="666.4" x2="1476.1" y2="687.5" stroke="#ee7203" stroke-width="1.4" stroke-opacity="0.48"/><line x1="1542.5" y1="655.1" x2="1542.4" y2="685.2" stroke="#ee7203" stroke-width="1.6" stroke-opacity="0.32"/><line x1="1461.9" y1="649.8" x2="1462.4" y2="681.5" stroke="#ee7203" stroke-width="1.0" stroke-opacity="0.34"/><line x1="1557.5" y1="662.8" x2="1557.3" y2="695.8" stroke="#ea5b0c" stroke-width="1.1" stroke-opacity="0.54"/><line x1="1556.2" y1="725.5" x2="1556.1" y2="754.3" stroke="#ea5b0c" stroke-width="1.8" stroke-opacity="0.22"/><line x1="1455.7" y1="639.0" x2="1455.1" y2="653.9" stroke="#ee7203" stroke-width="1.2" stroke-opacity="0.27"/><line x1="1336.5" y1="683.2" x2="1336.0" y2="717.7" stroke="#f39200" stroke-width="1.3" stroke-opacity="0.36"/><line x1="1580.6" y1="654.6" x2="1581.0" y2="691.9" stroke="#ee7203" stroke-width="1.1" stroke-opacity="0.48"/><line x1="1472.1" y1="722.9" x2="1471.7" y2="736.2" stroke="#ea5b0c" stroke-width="1.4" stroke-opacity="0.49"/><line x1="1550.3" y1="721.4" x2="1551.1" y2="731.5" stroke="#ea5b0c" stroke-width="1.1" stroke-opacity="0.47"/><line x1="1383.7" y1="717.5" x2="1384.6" y2="755.8" stroke="#ee7203" stroke-width="1.3" stroke-opacity="0.21"/><line x1="1351.6" y1="690.5" x2="1351.9" y2="709.8" stroke="#ee7203" stroke-width="1.2" stroke-opacity="0.45"/><line x1="1419.8" y1="631.2" x2="1420.7" y2="666.8" stroke="#ffd500" stroke-width="1.7" stroke-opacity="0.45"/><line x1="1431.3" y1="664.1" x2="1432.2" y2="675.0" stroke="#f39200" stroke-width="0.8" stroke-opacity="0.28"/><line x1="1336.9" y1="667.2" x2="1337.1" y2="698.4" stroke="#f39200" stroke-width="0.9" stroke-opacity="0.45"/><line x1="1577.4" y1="712.1" x2="1578.2" y2="738.3" stroke="#ee7203" stroke-width="1.0" stroke-opacity="0.49"/><line x1="1372.6" y1="635.3" x2="1373.1" y2="652.6" stroke="#f39200" stroke-width="0.8" stroke-opacity="0.21"/><line x1="1366.3" y1="703.8" x2="1367.1" y2="732.2" stroke="#ffd500" stroke-width="1.3" stroke-opacity="0.51"/><line x1="1474.6" y1="722.2" x2="1474.7" y2="750.6" stroke="#ea5b0c" stroke-width="0.9" stroke-opacity="0.48"/><line x1="1473.2" y1="706.5" x2="1474.1" y2="738.2" stroke="#ea5b0c" stroke-width="0.9" stroke-opacity="0.52"/><line x1="1492.3" y1="715.0" x2="1492.2" y2="744.5" stroke="#ffd500" stroke-width="1.2" stroke-opacity="0.52"/><line x1="1449.7" y1="646.9" x2="1450.3" y2="669.8" stroke="#ee7203" stroke-width="1.2" stroke-opacity="0.34"/><line x1="1430.6" y1="651.7" x2="1430.4" y2="688.6" stroke="#ee7203" stroke-width="0.7" stroke-opacity="0.47"/><line x1="1403.5" y1="680.2" x2="1404.3" y2="693.3" stroke="#ea5b0c" stroke-width="1.4" stroke-opacity="0.33"/><line x1="1497.8" y1="714.1" x2="1498.0" y2="744.0" stroke="#f39200" stroke-width="0.7" stroke-opacity="0.32"/><line x1="1493.3" y1="626.9" x2="1493.3" y2="661.1" stroke="#ffd500" stroke-width="0.9" stroke-opacity="0.53"/><line x1="1419.3" y1="697.6" x2="1420.3" y2="713.8" stroke="#f39200" stroke-width="1.4" stroke-opacity="0.28"/><line x1="1406.9" y1="727.6" x2="1407.5" y2="751.5" stroke="#ffd500" stroke-width="1.7" stroke-opacity="0.53"/><line x1="1427.0" y1="710.9" x2="1427.2" y2="748.5" stroke="#f39200" stroke-width="1.3" stroke-opacity="0.40"/><line x1="1469.5" y1="703.0" x2="1469.8" y2="732.2" stroke="#f39200" stroke-width="1.6" stroke-opacity="0.29"/><line x1="1345.4" y1="715.3" x2="1344.7" y2="752.2" stroke="#f39200" stroke-width="1.7" stroke-opacity="0.27"/><line x1="1540.2" y1="694.9" x2="1540.3" y2="719.0" stroke="#ea5b0c" stroke-width="1.0" stroke-opacity="0.25"/><line x1="1505.6" y1="675.3" x2="1505.9" y2="707.8" stroke="#f39200" stroke-width="1.0" stroke-opacity="0.34"/><line x1="1363.3" y1="688.5" x2="1363.0" y2="702.1" stroke="#f39200" stroke-width="1.0" stroke-opacity="0.54"/><line x1="1507.6" y1="691.5" x2="1508.1" y2="718.6" stroke="#f39200" stroke-width="1.0" stroke-opacity="0.47"/><line x1="1557.5" y1="708.2" x2="1556.9" y2="722.6" stroke="#ffd500" stroke-width="1.1" stroke-opacity="0.23"/><line x1="1388.0" y1="707.5" x2="1389.0" y2="725.6" stroke="#f39200" stroke-width="0.9" stroke-opacity="0.37"/><line x1="1354.7" y1="690.1" x2="1355.6" y2="719.7" stroke="#f39200" stroke-width="0.8" stroke-opacity="0.35"/><line x1="1570.8" y1="709.0" x2="1569.9" y2="741.6" stroke="#f39200" stroke-width="1.3" stroke-opacity="0.39"/><line x1="1441.9" y1="652.9" x2="1441.1" y2="690.2" stroke="#ffd500" stroke-width="1.2" stroke-opacity="0.47"/><line x1="1501.6" y1="683.5" x2="1501.7" y2="703.7" stroke="#ee7203" stroke-width="1.6" stroke-opacity="0.54"/><line x1="1416.3" y1="703.1" x2="1416.9" y2="735.2" stroke="#ffd500" stroke-width="1.5" stroke-opacity="0.22"/><line x1="1400.3" y1="677.7" x2="1400.3" y2="703.1" stroke="#ffd500" stroke-width="1.2" stroke-opacity="0.55"/><line x1="1490.5" y1="710.6" x2="1490.2" y2="739.8" stroke="#f39200" stroke-width="1.7" stroke-opacity="0.49"/><line x1="1383.3" y1="709.9" x2="1383.5" y2="720.8" stroke="#ffd500" stroke-width="1.5" stroke-opacity="0.30"/><line x1="1385.6" y1="656.4" x2="1385.9" y2="692.3" stroke="#ffd500" stroke-width="1.3" stroke-opacity="0.46"/><line x1="1551.3" y1="669.9" x2="1551.8" y2="684.6" stroke="#ea5b0c" stroke-width="0.7" stroke-opacity="0.54"/><line x1="1572.1" y1="670.7" x2="1572.7" y2="699.3" stroke="#ee7203" stroke-width="1.6" stroke-opacity="0.50"/><line x1="1404.0" y1="660.0" x2="1404.6" y2="676.5" stroke="#ee7203" stroke-width="0.8" stroke-opacity="0.41"/><line x1="1417.5" y1="660.6" x2="1417.2" y2="677.8" stroke="#ffd500" stroke-width="0.7" stroke-opacity="0.44"/><line x1="1455.8" y1="661.1" x2="1455.3" y2="690.0" stroke="#ee7203" stroke-width="1.5" stroke-opacity="0.52"/><line x1="1450.8" y1="626.6" x2="1451.2" y2="664.0" stroke="#ee7203" stroke-width="1.2" stroke-opacity="0.29"/><line x1="1437.4" y1="672.4" x2="1437.6" y2="698.1" stroke="#ee7203" stroke-width="1.3" stroke-opacity="0.49"/><line x1="1376.1" y1="639.0" x2="1377.0" y2="672.7" stroke="#ffd500" stroke-width="1.4" stroke-opacity="0.27"/><line x1="1580.8" y1="712.6" x2="1581.3" y2="737.8" stroke="#ee7203" stroke-width="1.0" stroke-opacity="0.38"/><line x1="1579.7" y1="707.3" x2="1580.6" y2="724.9" stroke="#ea5b0c" stroke-width="1.6" stroke-opacity="0.29"/><line x1="1522.9" y1="713.5" x2="1523.4" y2="751.6" stroke="#ea5b0c" stroke-width="1.1" stroke-opacity="0.39"/><line x1="1499.8" y1="728.1" x2="1499.4" y2="744.6" stroke="#ea5b0c" stroke-width="1.6" stroke-opacity="0.38"/><line x1="1405.9" y1="723.6" x2="1405.0" y2="756.0" stroke="#f39200" stroke-width="1.6" stroke-opacity="0.50"/><line x1="1464.8" y1="681.6" x2="1465.5" y2="719.1" stroke="#ea5b0c" stroke-width="1.0" stroke-opacity="0.48"/><line x1="1382.3" y1="678.5" x2="1381.7" y2="691.4" stroke="#ee7203" stroke-width="1.4" stroke-opacity="0.45"/><line x1="1531.7" y1="717.8" x2="1531.8" y2="735.1" stroke="#f39200" stroke-width="1.4" stroke-opacity="0.29"/><line x1="1523.5" y1="719.4" x2="1523.2" y2="753.7" stroke="#f39200" stroke-width="1.5" stroke-opacity="0.21"/><line x1="1379.4" y1="715.7" x2="1379.3" y2="740.3" stroke="#ffd500" stroke-width="1.4" stroke-opacity="0.34"/><line x1="1380.7" y1="711.0" x2="1380.9" y2="726.3" stroke="#f39200" stroke-width="1.0" stroke-opacity="0.34"/><line x1="1411.5" y1="660.4" x2="1410.9" y2="673.2" stroke="#ea5b0c" stroke-width="1.3" stroke-opacity="0.53"/><line x1="1542.9" y1="646.1" x2="1542.2" y2="681.1" stroke="#ffd500" stroke-width="1.6" stroke-opacity="0.30"/><line x1="1491.0" y1="635.6" x2="1490.1" y2="654.8" stroke="#ea5b0c" stroke-width="1.4" stroke-opacity="0.34"/><line x1="1464.1" y1="643.9" x2="1464.2" y2="665.4" stroke="#ee7203" stroke-width="1.5" stroke-opacity="0.39"/><line x1="1560.9" y1="655.4" x2="1560.6" y2="675.1" stroke="#ea5b0c" stroke-width="1.1" stroke-opacity="0.25"/><line x1="1522.3" y1="659.9" x2="1522.4" y2="670.0" stroke="#ea5b0c" stroke-width="1.6" stroke-opacity="0.34"/><line x1="1470.5" y1="730.1" x2="1471.5" y2="746.1" stroke="#ea5b0c" stroke-width="1.0" stroke-opacity="0.41"/><line x1="1423.3" y1="699.5" x2="1423.8" y2="717.4" stroke="#ffd500" stroke-width="0.9" stroke-opacity="0.22"/><line x1="1545.2" y1="673.8" x2="1545.3" y2="703.7" stroke="#ffd500" stroke-width="0.9" stroke-opacity="0.30"/><line x1="1485.9" y1="698.4" x2="1486.4" y2="724.2" stroke="#f39200" stroke-width="1.1" stroke-opacity="0.30"/><line x1="1360.2" y1="702.1" x2="1360.5" y2="716.7" stroke="#f39200" stroke-width="1.6" stroke-opacity="0.48"/><line x1="1357.0" y1="661.8" x2="1357.6" y2="676.2" stroke="#ffd500" stroke-width="0.7" stroke-opacity="0.24"/><line x1="1508.3" y1="728.1" x2="1507.7" y2="744.3" stroke="#ee7203" stroke-width="1.0" stroke-opacity="0.29"/><line x1="1553.4" y1="664.7" x2="1552.6" y2="687.3" stroke="#ffd500" stroke-width="1.7" stroke-opacity="0.54"/><line x1="1547.8" y1="682.3" x2="1548.6" y2="713.9" stroke="#f39200" stroke-width="1.4" stroke-opacity="0.48"/><line x1="1475.5" y1="686.6" x2="1476.0" y2="719.8" stroke="#ea5b0c" stroke-width="1.3" stroke-opacity="0.50"/><line x1="1393.0" y1="668.2" x2="1393.0" y2="685.1" stroke="#f39200" stroke-width="1.6" stroke-opacity="0.55"/><line x1="1382.5" y1="679.9" x2="1381.6" y2="719.2" stroke="#ee7203" stroke-width="1.2" stroke-opacity="0.28"/><line x1="1568.0" y1="627.5" x2="1568.9" y2="656.1" stroke="#ee7203" stroke-width="0.9" stroke-opacity="0.27"/><line x1="1335.5" y1="684.0" x2="1335.6" y2="694.4" stroke="#ffd500" stroke-width="1.2" stroke-opacity="0.31"/><line x1="1513.5" y1="676.5" x2="1513.7" y2="707.3" stroke="#ee7203" stroke-width="1.4" stroke-opacity="0.44"/><line x1="1390.5" y1="702.4" x2="1390.5" y2="730.0" stroke="#ee7203" stroke-width="1.3" stroke-opacity="0.25"/><line x1="1426.1" y1="699.5" x2="1426.6" y2="719.7" stroke="#ffd500" stroke-width="1.6" stroke-opacity="0.50"/><line x1="1401.8" y1="637.0" x2="1401.2" y2="673.6" stroke="#ffd500" stroke-width="1.5" stroke-opacity="0.26"/><line x1="1560.6" y1="663.8" x2="1561.5" y2="690.9" stroke="#f39200" stroke-width="1.0" stroke-opacity="0.51"/><line x1="1426.7" y1="629.1" x2="1426.0" y2="661.1" stroke="#ffd500" stroke-width="1.3" stroke-opacity="0.42"/><line x1="1470.7" y1="636.9" x2="1471.7" y2="673.9" stroke="#ee7203" stroke-width="1.6" stroke-opacity="0.46"/><line x1="1402.0" y1="666.2" x2="1402.2" y2="683.9" stroke="#ffd500" stroke-width="1.3" stroke-opacity="0.36"/><line x1="1491.4" y1="717.5" x2="1491.7" y2="738.4" stroke="#f39200" stroke-width="0.7" stroke-opacity="0.22"/><line x1="1460.9" y1="692.8" x2="1461.1" y2="718.6" stroke="#ffd500" stroke-width="0.8" stroke-opacity="0.46"/><line x1="1559.1" y1="644.2" x2="1559.1" y2="683.4" stroke="#ea5b0c" stroke-width="1.5" stroke-opacity="0.44"/><line x1="1557.2" y1="709.0" x2="1557.4" y2="726.0" stroke="#f39200" stroke-width="1.1" stroke-opacity="0.36"/></g><g clip-path="url(#cFf)"><line x1="1518.0" y1="618.0" x2="1559.3" y2="595.2" stroke="#f29100" stroke-width="1.8" stroke-opacity="0.30"/><line x1="1538.6" y1="638.3" x2="1598.4" y2="605.3" stroke="#ee7d00" stroke-width="1.8" stroke-opacity="0.18"/><line x1="1535.7" y1="622.5" x2="1578.0" y2="599.3" stroke="#f29100" stroke-width="1.4" stroke-opacity="0.29"/><line x1="1425.1" y1="632.1" x2="1464.9" y2="610.2" stroke="#ee7d00" stroke-width="1.0" stroke-opacity="0.19"/><line x1="1541.5" y1="627.9" x2="1589.9" y2="601.3" stroke="#ffc400" stroke-width="0.9" stroke-opacity="0.22"/><line x1="1459.2" y1="616.4" x2="1516.2" y2="585.1" stroke="#f29100" stroke-width="1.6" stroke-opacity="0.26"/><line x1="1503.6" y1="618.3" x2="1533.9" y2="601.7" stroke="#f29100" stroke-width="1.2" stroke-opacity="0.24"/><line x1="1466.5" y1="639.1" x2="1518.4" y2="610.6" stroke="#ee7d00" stroke-width="1.1" stroke-opacity="0.45"/><line x1="1513.3" y1="639.5" x2="1536.5" y2="626.8" stroke="#ffc400" stroke-width="0.8" stroke-opacity="0.26"/><line x1="1486.7" y1="631.7" x2="1544.4" y2="600.0" stroke="#f29100" stroke-width="1.6" stroke-opacity="0.29"/><line x1="1535.5" y1="615.1" x2="1562.2" y2="600.4" stroke="#ffc400" stroke-width="1.5" stroke-opacity="0.36"/><line x1="1575.2" y1="654.1" x2="1603.2" y2="638.7" stroke="#ee7d00" stroke-width="1.0" stroke-opacity="0.43"/><line x1="1539.0" y1="650.7" x2="1576.1" y2="630.4" stroke="#f29100" stroke-width="1.4" stroke-opacity="0.44"/><line x1="1485.9" y1="635.0" x2="1535.1" y2="608.0" stroke="#f29100" stroke-width="0.8" stroke-opacity="0.29"/><line x1="1483.0" y1="637.2" x2="1502.5" y2="626.4" stroke="#ee7d00" stroke-width="0.8" stroke-opacity="0.34"/><line x1="1487.4" y1="614.9" x2="1525.0" y2="594.2" stroke="#f29100" stroke-width="1.8" stroke-opacity="0.28"/><line x1="1587.4" y1="656.4" x2="1626.5" y2="634.9" stroke="#ee7d00" stroke-width="1.1" stroke-opacity="0.38"/><line x1="1569.9" y1="663.2" x2="1618.7" y2="636.3" stroke="#f29100" stroke-width="1.8" stroke-opacity="0.26"/><line x1="1496.0" y1="635.2" x2="1526.1" y2="618.6" stroke="#ee7d00" stroke-width="0.8" stroke-opacity="0.24"/><line x1="1591.1" y1="646.5" x2="1639.3" y2="620.1" stroke="#ee7d00" stroke-width="1.9" stroke-opacity="0.29"/><line x1="1584.8" y1="612.1" x2="1606.2" y2="600.3" stroke="#ee7d00" stroke-width="1.8" stroke-opacity="0.40"/><line x1="1592.2" y1="613.5" x2="1621.9" y2="597.1" stroke="#ee7d00" stroke-width="1.0" stroke-opacity="0.19"/><line x1="1544.0" y1="627.0" x2="1565.6" y2="615.2" stroke="#ee7d00" stroke-width="1.5" stroke-opacity="0.18"/><line x1="1565.1" y1="613.0" x2="1610.5" y2="588.1" stroke="#ffc400" stroke-width="1.0" stroke-opacity="0.43"/><line x1="1442.1" y1="616.0" x2="1483.6" y2="593.2" stroke="#ffc400" stroke-width="1.4" stroke-opacity="0.32"/><line x1="1473.2" y1="634.4" x2="1525.5" y2="605.6" stroke="#ffc400" stroke-width="1.4" stroke-opacity="0.21"/><line x1="1421.0" y1="634.8" x2="1464.4" y2="610.9" stroke="#ee7d00" stroke-width="0.9" stroke-opacity="0.16"/><line x1="1502.5" y1="610.3" x2="1522.5" y2="599.2" stroke="#ffc400" stroke-width="1.4" stroke-opacity="0.42"/><line x1="1534.4" y1="619.9" x2="1567.4" y2="601.7" stroke="#f29100" stroke-width="1.0" stroke-opacity="0.38"/><line x1="1464.4" y1="651.9" x2="1484.8" y2="640.7" stroke="#ee7d00" stroke-width="2.0" stroke-opacity="0.34"/><line x1="1497.7" y1="610.6" x2="1516.9" y2="600.0" stroke="#ee7d00" stroke-width="0.9" stroke-opacity="0.19"/><line x1="1485.0" y1="615.6" x2="1534.2" y2="588.5" stroke="#ffc400" stroke-width="1.0" stroke-opacity="0.40"/><line x1="1590.7" y1="646.5" x2="1637.2" y2="620.9" stroke="#ee7d00" stroke-width="1.5" stroke-opacity="0.22"/><line x1="1475.0" y1="651.7" x2="1496.5" y2="639.8" stroke="#f29100" stroke-width="1.8" stroke-opacity="0.23"/><line x1="1581.8" y1="645.5" x2="1617.5" y2="625.8" stroke="#ffc400" stroke-width="1.5" stroke-opacity="0.37"/><line x1="1476.6" y1="632.5" x2="1532.1" y2="602.0" stroke="#ee7d00" stroke-width="1.0" stroke-opacity="0.30"/><line x1="1433.3" y1="623.5" x2="1477.5" y2="599.2" stroke="#f29100" stroke-width="1.8" stroke-opacity="0.36"/><line x1="1547.1" y1="629.2" x2="1575.9" y2="613.4" stroke="#ee7d00" stroke-width="1.1" stroke-opacity="0.45"/><line x1="1499.7" y1="646.4" x2="1552.6" y2="617.3" stroke="#f29100" stroke-width="1.1" stroke-opacity="0.17"/><line x1="1502.5" y1="620.9" x2="1523.6" y2="609.3" stroke="#ffc400" stroke-width="1.8" stroke-opacity="0.37"/><line x1="1556.6" y1="624.5" x2="1613.6" y2="593.2" stroke="#f29100" stroke-width="1.8" stroke-opacity="0.35"/><line x1="1530.5" y1="654.5" x2="1585.2" y2="624.4" stroke="#ffc400" stroke-width="0.9" stroke-opacity="0.17"/><line x1="1508.9" y1="616.3" x2="1567.9" y2="583.9" stroke="#f29100" stroke-width="1.2" stroke-opacity="0.41"/><line x1="1449.7" y1="656.8" x2="1485.9" y2="636.9" stroke="#ffc400" stroke-width="1.1" stroke-opacity="0.38"/><line x1="1486.2" y1="629.3" x2="1506.5" y2="618.2" stroke="#ffc400" stroke-width="1.1" stroke-opacity="0.35"/><line x1="1502.2" y1="629.3" x2="1546.4" y2="605.0" stroke="#f29100" stroke-width="1.9" stroke-opacity="0.34"/><line x1="1553.6" y1="643.6" x2="1578.9" y2="629.6" stroke="#ffc400" stroke-width="0.9" stroke-opacity="0.28"/><line x1="1534.4" y1="617.8" x2="1556.8" y2="605.5" stroke="#ffc400" stroke-width="1.4" stroke-opacity="0.19"/><line x1="1566.6" y1="620.7" x2="1601.4" y2="601.6" stroke="#ee7d00" stroke-width="1.8" stroke-opacity="0.17"/><line x1="1501.9" y1="652.3" x2="1557.6" y2="621.7" stroke="#ee7d00" stroke-width="1.2" stroke-opacity="0.17"/><line x1="1440.2" y1="654.4" x2="1500.6" y2="621.2" stroke="#ee7d00" stroke-width="0.8" stroke-opacity="0.26"/><line x1="1530.2" y1="635.2" x2="1568.9" y2="613.9" stroke="#ee7d00" stroke-width="0.9" stroke-opacity="0.39"/><line x1="1506.0" y1="660.0" x2="1556.6" y2="632.2" stroke="#f29100" stroke-width="1.2" stroke-opacity="0.30"/><line x1="1538.0" y1="660.7" x2="1597.7" y2="627.8" stroke="#ffc400" stroke-width="1.0" stroke-opacity="0.37"/><line x1="1458.5" y1="644.3" x2="1477.2" y2="634.0" stroke="#ffc400" stroke-width="1.3" stroke-opacity="0.38"/><line x1="1527.9" y1="664.8" x2="1586.8" y2="632.5" stroke="#ee7d00" stroke-width="1.1" stroke-opacity="0.33"/><line x1="1573.2" y1="652.7" x2="1629.4" y2="621.8" stroke="#ee7d00" stroke-width="1.1" stroke-opacity="0.23"/><line x1="1590.9" y1="657.0" x2="1624.5" y2="638.5" stroke="#f29100" stroke-width="1.9" stroke-opacity="0.44"/><line x1="1429.5" y1="637.4" x2="1452.9" y2="624.5" stroke="#ee7d00" stroke-width="1.9" stroke-opacity="0.41"/><line x1="1561.3" y1="644.2" x2="1609.0" y2="618.0" stroke="#ffc400" stroke-width="1.9" stroke-opacity="0.43"/><line x1="1424.0" y1="617.1" x2="1473.6" y2="589.8" stroke="#ffc400" stroke-width="2.0" stroke-opacity="0.43"/><line x1="1492.2" y1="656.7" x2="1542.5" y2="629.0" stroke="#ee7d00" stroke-width="0.9" stroke-opacity="0.32"/><line x1="1589.9" y1="641.9" x2="1609.6" y2="631.0" stroke="#ee7d00" stroke-width="1.9" stroke-opacity="0.18"/><line x1="1551.9" y1="644.1" x2="1604.6" y2="615.2" stroke="#f29100" stroke-width="1.3" stroke-opacity="0.38"/><line x1="1481.7" y1="648.5" x2="1529.9" y2="621.9" stroke="#f29100" stroke-width="1.0" stroke-opacity="0.27"/><line x1="1482.4" y1="643.6" x2="1527.6" y2="618.7" stroke="#ee7d00" stroke-width="1.5" stroke-opacity="0.43"/><line x1="1430.1" y1="664.3" x2="1482.7" y2="635.4" stroke="#f29100" stroke-width="1.2" stroke-opacity="0.34"/><line x1="1536.2" y1="636.6" x2="1567.7" y2="619.3" stroke="#ffc400" stroke-width="1.6" stroke-opacity="0.41"/><line x1="1474.9" y1="620.4" x2="1493.9" y2="610.0" stroke="#ffc400" stroke-width="1.3" stroke-opacity="0.44"/><line x1="1455.4" y1="649.1" x2="1490.4" y2="629.9" stroke="#ffc400" stroke-width="1.7" stroke-opacity="0.36"/></g></g><g stroke="#333" stroke-width="1.1"><line x1="1267.3" y1="652.9" x2="1270.3" y2="651.4"/><line x1="1268.9" y1="718.4" x2="1271.9" y2="716.9"/><line x1="1270.5" y1="780.4" x2="1273.5" y2="778.9"/><line x1="1272.1" y1="843.9" x2="1275.1" y2="842.4"/><line x1="1273.6" y1="903.3" x2="1276.6" y2="901.8"/><line x1="1275.0" y1="943.7" x2="1273.2" y2="946.8"/><line x1="1281.8" y1="946.0" x2="1280.8" y2="947.7"/><line x1="1288.6" y1="948.2" x2="1287.6" y2="949.9"/><line x1="1295.5" y1="950.5" x2="1294.5" y2="952.2"/><line x1="1302.5" y1="952.8" x2="1300.7" y2="955.9"/><line x1="1309.4" y1="955.2" x2="1308.4" y2="956.9"/><line x1="1316.5" y1="957.5" x2="1315.5" y2="959.2"/><line x1="1323.5" y1="959.8" x2="1322.5" y2="961.5"/><line x1="1330.7" y1="962.2" x2="1328.9" y2="965.3"/><line x1="1337.8" y1="964.6" x2="1336.8" y2="966.3"/><line x1="1345.0" y1="967.0" x2="1344.0" y2="968.7"/><line x1="1352.3" y1="969.4" x2="1351.3" y2="971.1"/><line x1="1359.6" y1="971.8" x2="1357.8" y2="974.9"/><line x1="1367.0" y1="974.3" x2="1366.0" y2="976.0"/><line x1="1374.4" y1="976.8" x2="1373.4" y2="978.5"/><line x1="1381.8" y1="979.2" x2="1380.8" y2="980.9"/><line x1="1389.3" y1="981.7" x2="1387.5" y2="984.8"/><line x1="1396.9" y1="984.2" x2="1395.9" y2="985.9"/><line x1="1404.5" y1="986.8" x2="1403.5" y2="988.5"/><line x1="1412.2" y1="989.3" x2="1411.2" y2="991.0"/><line x1="1419.9" y1="991.9" x2="1418.1" y2="995.0"/><line x1="1427.7" y1="994.5" x2="1426.7" y2="996.2"/><line x1="1435.5" y1="997.1" x2="1434.5" y2="998.8"/><line x1="1443.4" y1="999.7" x2="1442.4" y2="1001.4"/><line x1="1451.3" y1="1002.4" x2="1449.5" y2="1005.4"/><line x1="1459.3" y1="1005.0" x2="1458.3" y2="1006.7"/><line x1="1467.4" y1="1007.7" x2="1466.4" y2="1009.4"/><line x1="1475.5" y1="1010.4" x2="1474.5" y2="1012.1"/><line x1="1483.7" y1="1013.1" x2="1481.9" y2="1016.2"/><line x1="1491.9" y1="1015.8" x2="1490.9" y2="1017.5"/><line x1="1500.2" y1="1018.6" x2="1499.2" y2="1020.3"/><line x1="1503.5" y1="1019.7" x2="1505.3" y2="1020.5"/><line x1="1507.6" y1="1014.1" x2="1509.4" y2="1014.9"/><line x1="1511.7" y1="1008.6" x2="1514.9" y2="1010.1"/><line x1="1515.7" y1="1003.3" x2="1517.5" y2="1004.1"/><line x1="1519.6" y1="998.0" x2="1521.4" y2="998.8"/><line x1="1523.5" y1="992.7" x2="1525.3" y2="993.5"/><line x1="1527.3" y1="987.6" x2="1530.5" y2="989.0"/><line x1="1531.0" y1="982.5" x2="1532.8" y2="983.3"/><line x1="1534.7" y1="977.6" x2="1536.5" y2="978.4"/><line x1="1538.3" y1="972.7" x2="1540.1" y2="973.5"/><line x1="1541.9" y1="967.8" x2="1545.1" y2="969.3"/><line x1="1545.4" y1="963.1" x2="1547.2" y2="963.9"/><line x1="1548.9" y1="958.4" x2="1550.7" y2="959.2"/><line x1="1552.3" y1="953.8" x2="1554.1" y2="954.6"/><line x1="1555.6" y1="949.3" x2="1558.9" y2="950.7"/><line x1="1558.9" y1="944.8" x2="1560.7" y2="945.6"/><line x1="1562.2" y1="940.4" x2="1564.0" y2="941.2"/><line x1="1565.4" y1="936.1" x2="1567.2" y2="936.9"/><line x1="1568.6" y1="931.8" x2="1571.8" y2="933.2"/><line x1="1571.7" y1="927.6" x2="1573.5" y2="928.4"/><line x1="1574.8" y1="923.4" x2="1576.6" y2="924.2"/><line x1="1577.8" y1="919.3" x2="1579.6" y2="920.1"/><line x1="1580.8" y1="915.3" x2="1584.1" y2="916.7"/><line x1="1583.8" y1="911.3" x2="1585.6" y2="912.1"/><line x1="1586.7" y1="907.4" x2="1588.5" y2="908.2"/><line x1="1589.5" y1="903.5" x2="1591.3" y2="904.3"/><line x1="1592.4" y1="899.7" x2="1595.6" y2="901.1"/><line x1="1595.1" y1="895.9" x2="1596.9" y2="896.7"/><line x1="1597.9" y1="892.2" x2="1599.7" y2="893.0"/></g><polyline points="1275.0,943.7 1503.5,1019.7 1597.9,892.2" fill="none" stroke="#555" stroke-width="1.1"/><text x="1260.5" y="658.4" font-size="20.9" text-anchor="end" dominant-baseline="central" fill="#111">0.0000</text><text x="1260.5" y="723.9" font-size="20.9" text-anchor="end" dominant-baseline="central" fill="#111">–0.0005</text><text x="1260.5" y="785.9" font-size="20.9" text-anchor="end" dominant-baseline="central" fill="#111">–0.0010</text><text x="1260.5" y="849.4" font-size="20.9" text-anchor="end" dominant-baseline="central" fill="#111">–0.0015</text><text x="1260.5" y="908.8" font-size="20.9" text-anchor="end" dominant-baseline="central" fill="#111">–0.0020</text><text transform="translate(1159.5 797.5) rotate(-90.0)" font-size="21.0" text-anchor="middle" dominant-baseline="central" fill="#111" >Intensity (a. u.)</text><text transform="translate(1263.6 951.6) rotate(-62.0)" font-size="21.0" text-anchor="middle" dominant-baseline="central" fill="#111" >0</text><text transform="translate(1292.4 964.7) rotate(-62.0)" font-size="21.0" text-anchor="middle" dominant-baseline="central" fill="#111" >1</text><text transform="translate(1318.6 977.8) rotate(-62.0)" font-size="21.0" text-anchor="middle" dominant-baseline="central" fill="#111" >2</text><text transform="translate(1348.3 989.1) rotate(-62.0)" font-size="21.0" text-anchor="middle" dominant-baseline="central" fill="#111" >3</text><text transform="translate(1381.5 999.6) rotate(-62.0)" font-size="21.0" text-anchor="middle" dominant-baseline="central" fill="#111" >4</text><text transform="translate(1415.3 1011.8) rotate(-62.0)" font-size="21.0" text-anchor="middle" dominant-baseline="central" fill="#111" >5</text><text transform="translate(1448.5 1023.2) rotate(-62.0)" font-size="21.0" text-anchor="middle" dominant-baseline="central" fill="#111" >6</text><text transform="translate(1480.0 1034.5) rotate(-62.0)" font-size="21.0" text-anchor="middle" dominant-baseline="central" fill="#111" >7</text><text transform="translate(1346.6 1020.6) rotate(22.0)" font-size="21.5" text-anchor="middle" dominant-baseline="central" fill="#111" >Time (ps)</text><text transform="translate(1535.0 1034.5) rotate(30.0)" font-size="21.0" text-anchor="middle" dominant-baseline="central" fill="#111" >1500</text><text transform="translate(1552.4 1011.8) rotate(30.0)" font-size="21.0" text-anchor="middle" dominant-baseline="central" fill="#111" >1400</text><text transform="translate(1566.4 990.9) rotate(30.0)" font-size="21.0" text-anchor="middle" dominant-baseline="central" fill="#111" >1300</text><text transform="translate(1582.1 969.9) rotate(30.0)" font-size="21.0" text-anchor="middle" dominant-baseline="central" fill="#111" >1200</text><text transform="translate(1596.1 950.7) rotate(30.0)" font-size="21.0" text-anchor="middle" dominant-baseline="central" fill="#111" >1100</text><text transform="translate(1609.2 931.5) rotate(30.0)" font-size="21.0" text-anchor="middle" dominant-baseline="central" fill="#111" >1000</text><text transform="translate(1620.6 910.5) rotate(30.0)" font-size="21.0" text-anchor="middle" dominant-baseline="central" fill="#111" >900</text><text transform="translate(1620.6 985.6) rotate(-55.0)" font-size="21.5" text-anchor="middle" dominant-baseline="central" fill="#111" >Wavelength (nm)</text><text x="1207" y="555.9" font-size="43.4" font-weight="bold" fill="#000">F</text><g fill="none" stroke="#f3f3f3" stroke-width="1"><polyline points="222.5,1699.2 316.3,1639.8 541.4,1646.3"/><polyline points="225.9,1750.5 318.0,1682.2 540.9,1690.8"/><polyline points="229.2,1801.0 319.6,1724.2 540.5,1735.0"/><polyline points="232.4,1849.9 321.2,1765.0 540.0,1778.0"/><polyline points="235.1,1890.6 322.6,1799.2 539.6,1814.2"/><polyline points="238.0,1934.2 324.0,1836.0 539.2,1853.3"/><polyline points="253.3,1931.7 236.4,1655.1"/><polyline points="266.9,1915.7 251.6,1646.6"/><polyline points="279.7,1900.6 265.9,1638.6"/><polyline points="291.9,1886.4 279.3,1631.1"/><polyline points="303.3,1873.0 292.0,1624.0"/><polyline points="314.2,1860.2 303.9,1617.3"/><polyline points="348.3,1850.1 340.2,1611.6"/><polyline points="372.4,1852.1 365.6,1612.2"/><polyline points="396.7,1854.2 391.3,1612.7"/><polyline points="421.4,1856.3 417.3,1613.3"/><polyline points="446.4,1858.4 443.7,1614.0"/><polyline points="471.7,1860.5 470.5,1614.6"/><polyline points="497.4,1862.7 497.6,1615.2"/><polyline points="523.4,1864.9 525.0,1615.8"/></g><g fill="none" stroke="#aaaaaa" stroke-width="1.3"><polyline points="220.2,1664.2 315.2,1611.0 541.7,1616.2 539.1,1866.2"/><polyline points="315.2,1611.0 324.5,1848.1" stroke-opacity="0.6"/></g><polyline points="220.2,1664.2 238.9,1948.6" fill="none" stroke="#5a5a5a" stroke-width="1.5"/><g filter="url(#b1)"><polygon points="238.9,1948.6 241.4,1948.9 326.6,1848.3 324.5,1848.1" fill="#dfdf05"/><polygon points="240.9,1948.8 243.5,1949.1 328.3,1848.4 326.2,1848.2" fill="#e7e204"/><polygon points="243.0,1949.1 245.5,1949.3 330.0,1848.6 327.9,1848.4" fill="#e5e104"/><polygon points="245.0,1949.3 247.5,1949.6 331.7,1848.7 329.6,1848.5" fill="#e9e303"/><polygon points="247.0,1949.5 249.6,1949.8 333.4,1848.9 331.3,1848.7" fill="#dede05"/><polygon points="249.1,1949.7 251.6,1950.0 335.1,1849.0 333.0,1848.8" fill="#e5e204"/><polygon points="251.1,1950.0 253.6,1950.2 336.8,1849.1 334.7,1849.0" fill="#e2e004"/><polygon points="253.2,1950.2 255.7,1950.5 338.6,1849.3 336.4,1849.1" fill="#d8dc06"/><polygon points="255.2,1950.4 257.7,1950.7 340.3,1849.4 338.1,1849.3" fill="#e7e204"/><polygon points="257.2,1950.6 259.8,1950.9 342.0,1849.6 339.9,1849.4" fill="#d8dc06"/><polygon points="259.3,1950.9 261.8,1951.1 343.7,1849.7 341.6,1849.5" fill="#d0d807"/><polygon points="261.3,1951.1 263.9,1951.4 345.4,1849.9 343.3,1849.7" fill="#83bc22"/><polygon points="263.4,1951.3 265.9,1951.6 347.1,1850.0 345.0,1849.8" fill="#6eb52b"/><polygon points="265.5,1951.6 268.0,1951.8 348.8,1850.2 346.7,1850.0" fill="#6eb52c"/><polygon points="267.5,1951.8 270.1,1952.1 350.6,1850.3 348.4,1850.1" fill="#6db52c"/><polygon points="269.6,1952.0 272.1,1952.3 352.3,1850.4 350.2,1850.3" fill="#6cb52d"/><polygon points="271.6,1952.2 274.2,1952.5 354.0,1850.6 351.9,1850.4" fill="#6fba59"/><polygon points="273.7,1952.5 276.3,1952.8 355.7,1850.7 353.6,1850.6" fill="#72bd72"/><polygon points="275.8,1952.7 278.3,1953.0 357.5,1850.9 355.3,1850.7" fill="#6fb957"/><polygon points="277.8,1952.9 280.4,1953.2 359.2,1851.0 357.0,1850.8" fill="#78c4aa"/><polygon points="279.9,1953.2 282.5,1953.4 360.9,1851.2 358.8,1851.0" fill="#6bb42d"/><polygon points="282.0,1953.4 284.5,1953.7 362.6,1851.3 360.5,1851.1" fill="#6cb52d"/><polygon points="284.0,1953.6 286.6,1953.9 364.4,1851.5 362.2,1851.3" fill="#6cb52d"/><polygon points="286.1,1953.8 288.7,1954.1 366.1,1851.6 364.0,1851.4" fill="#6cb52c"/><polygon points="288.2,1954.1 290.8,1954.4 367.9,1851.8 365.7,1851.6" fill="#6cb52d"/><polygon points="290.3,1954.3 292.9,1954.6 369.6,1851.9 367.4,1851.7" fill="#6db52c"/><polygon points="292.4,1954.5 294.9,1954.8 371.3,1852.0 369.2,1851.9" fill="#6db52c"/><polygon points="294.4,1954.8 297.0,1955.1 373.1,1852.2 370.9,1852.0" fill="#6cb52d"/><polygon points="296.5,1955.0 299.1,1955.3 374.8,1852.3 372.6,1852.2" fill="#6db52c"/><polygon points="298.6,1955.2 301.2,1955.5 376.5,1852.5 374.4,1852.3" fill="#6db52c"/><polygon points="300.7,1955.5 303.3,1955.8 378.3,1852.6 376.1,1852.5" fill="#6db52c"/><polygon points="302.8,1955.7 305.4,1956.0 380.0,1852.8 377.9,1852.6" fill="#6eb52b"/><polygon points="304.9,1955.9 307.5,1956.2 381.8,1852.9 379.6,1852.7" fill="#6db52c"/><polygon points="307.0,1956.2 309.6,1956.5 383.5,1853.1 381.4,1852.9" fill="#6fb62b"/><polygon points="309.1,1956.4 311.7,1956.7 385.3,1853.2 383.1,1853.0" fill="#70b62a"/><polygon points="311.2,1956.6 313.8,1956.9 387.0,1853.4 384.9,1853.2" fill="#6fb62b"/><polygon points="313.3,1956.9 315.9,1957.2 388.8,1853.5 386.6,1853.3" fill="#70b62a"/><polygon points="315.4,1957.1 318.0,1957.4 390.5,1853.7 388.4,1853.5" fill="#70b62a"/><polygon points="317.5,1957.3 320.1,1957.6 392.3,1853.8 390.1,1853.6" fill="#75b828"/><polygon points="319.6,1957.6 322.3,1957.9 394.0,1854.0 391.9,1853.8" fill="#7ebb24"/><polygon points="321.7,1957.8 324.4,1958.1 395.8,1854.1 393.6,1853.9" fill="#8cbf1e"/><polygon points="323.9,1958.0 326.5,1958.3 397.6,1854.3 395.4,1854.1" fill="#8bbf1f"/><polygon points="326.0,1958.3 328.6,1958.6 399.3,1854.4 397.1,1854.2" fill="#98c31a"/><polygon points="328.1,1958.5 330.7,1958.8 401.1,1854.6 398.9,1854.4" fill="#98c31a"/><polygon points="330.2,1958.7 332.8,1959.0 402.9,1854.7 400.7,1854.5" fill="#99c419"/><polygon points="332.3,1959.0 335.0,1959.3 404.6,1854.9 402.4,1854.7" fill="#a5c814"/><polygon points="334.5,1959.2 337.1,1959.5 406.4,1855.0 404.2,1854.8" fill="#abca12"/><polygon points="336.6,1959.5 339.2,1959.7 408.2,1855.2 406.0,1855.0" fill="#adca11"/><polygon points="338.7,1959.7 341.4,1960.0 409.9,1855.3 407.7,1855.1" fill="#bacf0c"/><polygon points="340.9,1959.9 343.5,1960.2 411.7,1855.5 409.5,1855.3" fill="#b5cd0e"/><polygon points="343.0,1960.2 345.6,1960.5 413.5,1855.6 411.3,1855.4" fill="#c2d209"/><polygon points="345.1,1960.4 347.8,1960.7 415.2,1855.8 413.0,1855.6" fill="#c8d409"/><polygon points="347.3,1960.6 349.9,1960.9 417.0,1855.9 414.8,1855.7" fill="#c0d10a"/><polygon points="349.4,1960.9 352.1,1961.2 418.8,1856.1 416.6,1855.9" fill="#c8d408"/><polygon points="351.5,1961.1 354.2,1961.4 420.6,1856.2 418.4,1856.0" fill="#cad508"/><polygon points="353.7,1961.4 356.4,1961.7 422.4,1856.4 420.2,1856.2" fill="#c1d10a"/><polygon points="355.8,1961.6 358.5,1961.9 424.1,1856.5 421.9,1856.3" fill="#ddde05"/><polygon points="358.0,1961.8 360.7,1962.1 425.9,1856.7 423.7,1856.5" fill="#d0d807"/><polygon points="360.1,1962.1 362.8,1962.4 427.7,1856.8 425.5,1856.6" fill="#dadc06"/><polygon points="362.3,1962.3 365.0,1962.6 429.5,1857.0 427.3,1856.8" fill="#bed00a"/><polygon points="364.5,1962.6 367.1,1962.8 431.3,1857.1 429.1,1856.9" fill="#e3e104"/><polygon points="366.6,1962.8 369.3,1963.1 433.1,1857.3 430.9,1857.1" fill="#d8db06"/><polygon points="368.8,1963.0 371.5,1963.3 434.9,1857.4 432.6,1857.2" fill="#d6db06"/><polygon points="370.9,1963.3 373.6,1963.6 436.7,1857.6 434.4,1857.4" fill="#dfdf05"/><polygon points="373.1,1963.5 375.8,1963.8 438.5,1857.7 436.2,1857.5" fill="#ebe403"/><polygon points="375.3,1963.8 378.0,1964.1 440.3,1857.9 438.0,1857.7" fill="#d7db06"/><polygon points="377.4,1964.0 380.1,1964.3 442.0,1858.0 439.8,1857.8" fill="#efe602"/><polygon points="379.6,1964.2 382.3,1964.5 443.8,1858.2 441.6,1858.0" fill="#dcdd05"/><polygon points="381.8,1964.5 384.5,1964.8 445.6,1858.3 443.4,1858.1" fill="#f0e602"/><polygon points="384.0,1964.7 386.7,1965.0 447.5,1858.5 445.2,1858.3" fill="#eae403"/><polygon points="386.1,1965.0 388.9,1965.3 449.3,1858.6 447.0,1858.4" fill="#f1e702"/><polygon points="388.3,1965.2 391.0,1965.5 451.1,1858.8 448.8,1858.6" fill="#eee503"/><polygon points="390.5,1965.4 393.2,1965.7 452.9,1858.9 450.6,1858.7" fill="#e1e005"/><polygon points="392.7,1965.7 395.4,1966.0 454.7,1859.1 452.4,1858.9" fill="#e5e104"/><polygon points="394.9,1965.9 397.6,1966.2 456.5,1859.2 454.2,1859.0" fill="#ede503"/><polygon points="397.1,1966.2 399.8,1966.5 458.3,1859.4 456.0,1859.2" fill="#e6e204"/><polygon points="399.3,1966.4 402.0,1966.7 460.1,1859.5 457.9,1859.3" fill="#e9e303"/><polygon points="401.5,1966.7 404.2,1967.0 461.9,1859.7 459.7,1859.5" fill="#e1df05"/><polygon points="403.7,1966.9 406.4,1967.2 463.7,1859.8 461.5,1859.7" fill="#efe602"/><polygon points="405.9,1967.2 408.6,1967.5 465.6,1860.0 463.3,1859.8" fill="#ffed00"/><polygon points="408.1,1967.4 410.8,1967.7 467.4,1860.2 465.1,1860.0" fill="#f3e802"/><polygon points="410.3,1967.6 413.0,1967.9 469.2,1860.3 466.9,1860.1" fill="#eee503"/><polygon points="412.5,1967.9 415.2,1968.2 471.0,1860.5 468.8,1860.3" fill="#e2e004"/><polygon points="414.7,1968.1 417.4,1968.4 472.8,1860.6 470.6,1860.4" fill="#eae303"/><polygon points="416.9,1968.4 419.6,1968.7 474.7,1860.8 472.4,1860.6" fill="#f5e901"/><polygon points="419.1,1968.6 421.9,1968.9 476.5,1860.9 474.2,1860.7" fill="#ebe403"/><polygon points="421.3,1968.9 424.1,1969.2 478.3,1861.1 476.1,1860.9" fill="#f1e702"/><polygon points="423.5,1969.1 426.3,1969.4 480.2,1861.2 477.9,1861.0" fill="#e9e303"/><polygon points="425.8,1969.4 428.5,1969.7 482.0,1861.4 479.7,1861.2" fill="#e9e303"/><polygon points="428.0,1969.6 430.8,1969.9 483.8,1861.5 481.5,1861.3" fill="#eee503"/><polygon points="430.2,1969.9 433.0,1970.2 485.7,1861.7 483.4,1861.5" fill="#e8e303"/><polygon points="432.4,1970.1 435.2,1970.4 487.5,1861.8 485.2,1861.7" fill="#e8e304"/><polygon points="434.7,1970.4 437.4,1970.7 489.3,1862.0 487.0,1861.8" fill="#efe603"/><polygon points="436.9,1970.6 439.7,1970.9 491.2,1862.2 488.9,1862.0" fill="#eae403"/><polygon points="439.1,1970.8 441.9,1971.2 493.0,1862.3 490.7,1862.1" fill="#dcdd05"/><polygon points="441.4,1971.1 444.2,1971.4 494.8,1862.5 492.6,1862.3" fill="#f3e702"/><polygon points="443.6,1971.3 446.4,1971.7 496.7,1862.6 494.4,1862.4" fill="#faeb01"/><polygon points="445.9,1971.6 448.6,1971.9 498.5,1862.8 496.2,1862.6" fill="#f0e602"/><polygon points="448.1,1971.8 450.9,1972.2 500.4,1862.9 498.1,1862.7" fill="#eae403"/><polygon points="450.4,1972.1 453.1,1972.4 502.2,1863.1 499.9,1862.9" fill="#e5e104"/><polygon points="452.6,1972.3 455.4,1972.7 504.1,1863.2 501.8,1863.1" fill="#e7e204"/><polygon points="454.9,1972.6 457.7,1972.9 505.9,1863.4 503.6,1863.2" fill="#ede503"/><polygon points="457.1,1972.8 459.9,1973.2 507.8,1863.6 505.5,1863.4" fill="#f6e901"/><polygon points="459.4,1973.1 462.2,1973.4 509.6,1863.7 507.3,1863.5" fill="#efe603"/><polygon points="461.6,1973.3 464.4,1973.7 511.5,1863.9 509.2,1863.7" fill="#ede503"/><polygon points="463.9,1973.6 466.7,1973.9 513.4,1864.0 511.1,1863.8" fill="#e6e204"/><polygon points="466.2,1973.9 469.0,1974.2 515.2,1864.2 512.9,1864.0" fill="#f0e602"/><polygon points="468.4,1974.1 471.2,1974.4 517.1,1864.3 514.8,1864.1" fill="#e9e303"/><polygon points="470.7,1974.4 473.5,1974.7 518.9,1864.5 516.6,1864.3" fill="#feed00"/><polygon points="473.0,1974.6 475.8,1974.9 520.8,1864.7 518.5,1864.5" fill="#f3e802"/><polygon points="475.2,1974.9 478.1,1975.2 522.7,1864.8 520.4,1864.6" fill="#efe602"/><polygon points="477.5,1975.1 480.3,1975.4 524.5,1865.0 522.2,1864.8" fill="#ffed00"/><polygon points="479.8,1975.4 482.6,1975.7 526.4,1865.1 524.1,1864.9" fill="#ffed00"/><polygon points="482.1,1975.6 484.9,1975.9 528.3,1865.3 526.0,1865.1" fill="#f1e702"/><polygon points="484.3,1975.9 487.2,1976.2 530.2,1865.4 527.8,1865.3" fill="#e7e204"/><polygon points="486.6,1976.1 489.5,1976.4 532.0,1865.6 529.7,1865.4" fill="#fbeb01"/><polygon points="488.9,1976.4 491.8,1976.7 533.9,1865.8 531.6,1865.6" fill="#eee503"/><polygon points="491.2,1976.6 494.1,1977.0 535.8,1865.9 533.5,1865.7" fill="#f8ea01"/><polygon points="493.5,1976.9 496.4,1977.2 537.7,1866.1 535.3,1865.9" fill="#eae403"/><polygon points="495.8,1977.1 498.7,1977.5 539.6,1866.2 537.2,1866.0" fill="#efe602"/><g mask="url(#mG)"><polygon points="238.9,1948.6 241.4,1948.9 326.6,1848.3 324.5,1848.1" fill="#e3e004"/><polygon points="240.9,1948.8 243.5,1949.1 328.3,1848.4 326.2,1848.2" fill="#eae403"/><polygon points="243.0,1949.1 245.5,1949.3 330.0,1848.6 327.9,1848.4" fill="#e8e304"/><polygon points="245.0,1949.3 247.5,1949.6 331.7,1848.7 329.6,1848.5" fill="#ebe403"/><polygon points="247.0,1949.5 249.6,1949.8 333.4,1848.9 331.3,1848.7" fill="#e0df05"/><polygon points="249.1,1949.7 251.6,1950.0 335.1,1849.0 333.0,1848.8" fill="#e7e204"/><polygon points="251.1,1950.0 253.6,1950.2 336.8,1849.1 334.7,1849.0" fill="#e3e104"/><polygon points="253.2,1950.2 255.7,1950.5 338.6,1849.3 336.4,1849.1" fill="#d8dc06"/><polygon points="255.2,1950.4 257.7,1950.7 340.3,1849.4 338.1,1849.3" fill="#e7e204"/><polygon points="257.2,1950.6 259.8,1950.9 342.0,1849.6 339.9,1849.4" fill="#d6db06"/><polygon points="259.3,1950.9 261.8,1951.1 343.7,1849.7 341.6,1849.5" fill="#91c11c"/><polygon points="261.3,1951.1 263.9,1951.4 345.4,1849.9 343.3,1849.7" fill="#6fb62b"/><polygon points="263.4,1951.3 265.9,1951.6 347.1,1850.0 345.0,1849.8" fill="#6db52c"/><polygon points="265.5,1951.6 268.0,1951.8 348.8,1850.2 346.7,1850.0" fill="#6db52c"/><polygon points="267.5,1951.8 270.1,1952.1 350.6,1850.3 348.4,1850.1" fill="#6db52c"/><polygon points="269.6,1952.0 272.1,1952.3 352.3,1850.4 350.2,1850.3" fill="#6cb52d"/><polygon points="271.6,1952.2 274.2,1952.5 354.0,1850.6 351.9,1850.4" fill="#cbd608"/><polygon points="273.7,1952.5 276.3,1952.8 355.7,1850.7 353.6,1850.6" fill="#eae403"/><polygon points="275.8,1952.7 278.3,1953.0 357.5,1850.9 355.3,1850.7" fill="#5dc2d6"/><polygon points="277.8,1952.9 280.4,1953.2 359.2,1851.0 357.0,1850.8" fill="#6ab42e"/><polygon points="279.9,1953.2 282.5,1953.4 360.9,1851.2 358.8,1851.0" fill="#6bb42d"/><polygon points="282.0,1953.4 284.5,1953.7 362.6,1851.3 360.5,1851.1" fill="#6cb52c"/><polygon points="284.0,1953.6 286.6,1953.9 364.4,1851.5 362.2,1851.3" fill="#6db52c"/><polygon points="286.1,1953.8 288.7,1954.1 366.1,1851.6 364.0,1851.4" fill="#6eb52c"/><polygon points="288.2,1954.1 290.8,1954.4 367.9,1851.8 365.7,1851.6" fill="#6db52c"/><polygon points="290.3,1954.3 292.9,1954.6 369.6,1851.9 367.4,1851.7" fill="#6eb52b"/><polygon points="292.4,1954.5 294.9,1954.8 371.3,1852.0 369.2,1851.9" fill="#6fb62b"/><polygon points="294.4,1954.8 297.0,1955.1 373.1,1852.2 370.9,1852.0" fill="#6eb52b"/><polygon points="296.5,1955.0 299.1,1955.3 374.8,1852.3 372.6,1852.2" fill="#6fb62a"/><polygon points="298.6,1955.2 301.2,1955.5 376.5,1852.5 374.4,1852.3" fill="#70b62a"/><polygon points="300.7,1955.5 303.3,1955.8 378.3,1852.6 376.1,1852.5" fill="#6fb62a"/><polygon points="302.8,1955.7 305.4,1956.0 380.0,1852.8 377.9,1852.6" fill="#79b926"/><polygon points="304.9,1955.9 307.5,1956.2 381.8,1852.9 379.6,1852.7" fill="#70b62a"/><polygon points="307.0,1956.2 309.6,1956.5 383.5,1853.1 381.4,1852.9" fill="#86bd21"/><polygon points="309.1,1956.4 311.7,1956.7 385.3,1853.2 383.1,1853.0" fill="#96c31a"/><polygon points="311.2,1956.6 313.8,1956.9 387.0,1853.4 384.9,1853.2" fill="#91c11d"/><polygon points="313.3,1956.9 315.9,1957.2 388.8,1853.5 386.6,1853.3" fill="#9ec517"/><polygon points="315.4,1957.1 318.0,1957.4 390.5,1853.7 388.4,1853.5" fill="#96c31a"/><polygon points="317.5,1957.3 320.1,1957.6 392.3,1853.8 390.1,1853.6" fill="#a4c715"/><polygon points="319.6,1957.6 322.3,1957.9 394.0,1854.0 391.9,1853.8" fill="#acca11"/><polygon points="321.7,1957.8 324.4,1958.1 395.8,1854.1 393.6,1853.9" fill="#b8ce0d"/><polygon points="323.9,1958.0 326.5,1958.3 397.6,1854.3 395.4,1854.1" fill="#b2cc0f"/><polygon points="326.0,1958.3 328.6,1958.6 399.3,1854.4 397.1,1854.2" fill="#bccf0b"/><polygon points="328.1,1958.5 330.7,1958.8 401.1,1854.6 398.9,1854.4" fill="#b8ce0c"/><polygon points="330.2,1958.7 332.8,1959.0 402.9,1854.7 400.7,1854.5" fill="#b6cd0d"/><polygon points="332.3,1959.0 335.0,1959.3 404.6,1854.9 402.4,1854.7" fill="#bed00a"/><polygon points="334.5,1959.2 337.1,1959.5 406.4,1855.0 404.2,1854.8" fill="#c2d209"/><polygon points="336.6,1959.5 339.2,1959.7 408.2,1855.2 406.0,1855.0" fill="#c0d10a"/><polygon points="338.7,1959.7 341.4,1960.0 409.9,1855.3 407.7,1855.1" fill="#ccd608"/><polygon points="340.9,1959.9 343.5,1960.2 411.7,1855.5 409.5,1855.3" fill="#c1d209"/><polygon points="343.0,1960.2 345.6,1960.5 413.5,1855.6 411.3,1855.4" fill="#cdd608"/><polygon points="345.1,1960.4 347.8,1960.7 415.2,1855.8 413.0,1855.6" fill="#d3d907"/><polygon points="347.3,1960.6 349.9,1960.9 417.0,1855.9 414.8,1855.7" fill="#cbd608"/><polygon points="349.4,1960.9 352.1,1961.2 418.8,1856.1 416.6,1855.9" fill="#d3d907"/><polygon points="351.5,1961.1 354.2,1961.4 420.6,1856.2 418.4,1856.0" fill="#d5da06"/><polygon points="353.7,1961.4 356.4,1961.7 422.4,1856.4 420.2,1856.2" fill="#ccd608"/><polygon points="355.8,1961.6 358.5,1961.9 424.1,1856.5 421.9,1856.3" fill="#e8e304"/><polygon points="358.0,1961.8 360.7,1962.1 425.9,1856.7 423.7,1856.5" fill="#dbdd06"/><polygon points="360.1,1962.1 362.8,1962.4 427.7,1856.8 425.5,1856.6" fill="#e5e104"/><polygon points="362.3,1962.3 365.0,1962.6 429.5,1857.0 427.3,1856.8" fill="#c9d508"/><polygon points="364.5,1962.6 367.1,1962.8 431.3,1857.1 429.1,1856.9" fill="#ede503"/><polygon points="366.6,1962.8 369.3,1963.1 433.1,1857.3 430.9,1857.1" fill="#dfdf05"/><polygon points="368.8,1963.0 371.5,1963.3 434.9,1857.4 432.6,1857.2" fill="#dbdd06"/><polygon points="370.9,1963.3 373.6,1963.6 436.7,1857.6 434.4,1857.4" fill="#e2e004"/><polygon points="373.1,1963.5 375.8,1963.8 438.5,1857.7 436.2,1857.5" fill="#ebe403"/><polygon points="375.3,1963.8 378.0,1964.1 440.3,1857.9 438.0,1857.7" fill="#d5da06"/><polygon points="377.4,1964.0 380.1,1964.3 442.0,1858.0 439.8,1857.8" fill="#ece503"/><polygon points="379.6,1964.2 382.3,1964.5 443.8,1858.2 441.6,1858.0" fill="#d9dc06"/><polygon points="381.8,1964.5 384.5,1964.8 445.6,1858.3 443.4,1858.1" fill="#ede503"/><polygon points="384.0,1964.7 386.7,1965.0 447.5,1858.5 445.2,1858.3" fill="#e7e204"/><polygon points="386.1,1965.0 388.9,1965.3 449.3,1858.6 447.0,1858.4" fill="#efe602"/><polygon points="388.3,1965.2 391.0,1965.5 451.1,1858.8 448.8,1858.6" fill="#ece403"/><polygon points="390.5,1965.4 393.2,1965.7 452.9,1858.9 450.6,1858.7" fill="#dfdf05"/><polygon points="392.7,1965.7 395.4,1966.0 454.7,1859.1 452.4,1858.9" fill="#e3e004"/><polygon points="394.9,1965.9 397.6,1966.2 456.5,1859.2 454.2,1859.0" fill="#ebe403"/><polygon points="397.1,1966.2 399.8,1966.5 458.3,1859.4 456.0,1859.2" fill="#e4e104"/><polygon points="399.3,1966.4 402.0,1966.7 460.1,1859.5 457.9,1859.3" fill="#e7e204"/><polygon points="401.5,1966.7 404.2,1967.0 461.9,1859.7 459.7,1859.5" fill="#dfdf05"/><polygon points="403.7,1966.9 406.4,1967.2 463.7,1859.8 461.5,1859.7" fill="#eee503"/><polygon points="405.9,1967.2 408.6,1967.5 465.6,1860.0 463.3,1859.8" fill="#fdec00"/><polygon points="408.1,1967.4 410.8,1967.7 467.4,1860.2 465.1,1860.0" fill="#f1e702"/><polygon points="410.3,1967.6 413.0,1967.9 469.2,1860.3 466.9,1860.1" fill="#ede503"/><polygon points="412.5,1967.9 415.2,1968.2 471.0,1860.5 468.8,1860.3" fill="#e0df05"/><polygon points="414.7,1968.1 417.4,1968.4 472.8,1860.6 470.6,1860.4" fill="#e8e304"/><polygon points="416.9,1968.4 419.6,1968.7 474.7,1860.8 472.4,1860.6" fill="#f4e802"/><polygon points="419.1,1968.6 421.9,1968.9 476.5,1860.9 474.2,1860.7" fill="#eae403"/><polygon points="421.3,1968.9 424.1,1969.2 478.3,1861.1 476.1,1860.9" fill="#f0e602"/><polygon points="423.5,1969.1 426.3,1969.4 480.2,1861.2 477.9,1861.0" fill="#e8e304"/><polygon points="425.8,1969.4 428.5,1969.7 482.0,1861.4 479.7,1861.2" fill="#e8e304"/><polygon points="428.0,1969.6 430.8,1969.9 483.8,1861.5 481.5,1861.3" fill="#ede503"/><polygon points="430.2,1969.9 433.0,1970.2 485.7,1861.7 483.4,1861.5" fill="#e8e304"/><polygon points="432.4,1970.1 435.2,1970.4 487.5,1861.8 485.2,1861.7" fill="#e7e204"/><polygon points="434.7,1970.4 437.4,1970.7 489.3,1862.0 487.0,1861.8" fill="#eee503"/><polygon points="436.9,1970.6 439.7,1970.9 491.2,1862.2 488.9,1862.0" fill="#eae403"/><polygon points="439.1,1970.8 441.9,1971.2 493.0,1862.3 490.7,1862.1" fill="#dcdd05"/><polygon points="441.4,1971.1 444.2,1971.4 494.8,1862.5 492.6,1862.3" fill="#f2e702"/><polygon points="443.6,1971.3 446.4,1971.7 496.7,1862.6 494.4,1862.4" fill="#f9ea01"/><polygon points="445.9,1971.6 448.6,1971.9 498.5,1862.8 496.2,1862.6" fill="#f0e602"/><polygon points="448.1,1971.8 450.9,1972.2 500.4,1862.9 498.1,1862.7" fill="#eae403"/><polygon points="450.4,1972.1 453.1,1972.4 502.2,1863.1 499.9,1862.9" fill="#e5e104"/><polygon points="452.6,1972.3 455.4,1972.7 504.1,1863.2 501.8,1863.1" fill="#e8e304"/><polygon points="454.9,1972.6 457.7,1972.9 505.9,1863.4 503.6,1863.2" fill="#ede503"/><polygon points="457.1,1972.8 459.9,1973.2 507.8,1863.6 505.5,1863.4" fill="#f6e901"/><polygon points="459.4,1973.1 462.2,1973.4 509.6,1863.7 507.3,1863.5" fill="#efe602"/><polygon points="461.6,1973.3 464.4,1973.7 511.5,1863.9 509.2,1863.7" fill="#eee503"/><polygon points="463.9,1973.6 466.7,1973.9 513.4,1864.0 511.1,1863.8" fill="#e7e204"/><polygon points="466.2,1973.9 469.0,1974.2 515.2,1864.2 512.9,1864.0" fill="#f0e602"/><polygon points="468.4,1974.1 471.2,1974.4 517.1,1864.3 514.8,1864.1" fill="#e9e303"/><polygon points="470.7,1974.4 473.5,1974.7 518.9,1864.5 516.6,1864.3" fill="#ffed00"/><polygon points="473.0,1974.6 475.8,1974.9 520.8,1864.7 518.5,1864.5" fill="#f4e802"/><polygon points="475.2,1974.9 478.1,1975.2 522.7,1864.8 520.4,1864.6" fill="#f0e702"/><polygon points="477.5,1975.1 480.3,1975.4 524.5,1865.0 522.2,1864.8" fill="#ffec00"/><polygon points="479.8,1975.4 482.6,1975.7 526.4,1865.1 524.1,1864.9" fill="#ffec00"/><polygon points="482.1,1975.6 484.9,1975.9 528.3,1865.3 526.0,1865.1" fill="#f3e802"/><polygon points="484.3,1975.9 487.2,1976.2 530.2,1865.4 527.8,1865.3" fill="#e8e304"/><polygon points="486.6,1976.1 489.5,1976.4 532.0,1865.6 529.7,1865.4" fill="#fdec00"/><polygon points="488.9,1976.4 491.8,1976.7 533.9,1865.8 531.6,1865.6" fill="#f0e602"/><polygon points="491.2,1976.6 494.1,1977.0 535.8,1865.9 533.5,1865.7" fill="#f9ea01"/><polygon points="493.5,1976.9 496.4,1977.2 537.7,1866.1 535.3,1865.9" fill="#ece403"/><polygon points="495.8,1977.1 498.7,1977.5 539.6,1866.2 537.2,1866.0" fill="#f1e702"/></g></g><polygon points="226.6,1749.0 229.4,1747.5 231.4,1745.5 233.0,1744.5 235.6,1742.6 237.8,1742.9 239.0,1739.7 241.3,1739.5 244.6,1738.9 245.8,1736.5 247.0,1733.8 248.6,1733.1 252.1,1729.8 252.5,1732.2 255.5,1727.3 257.1,1726.3 258.9,1725.9 261.4,1723.3 263.9,1723.1 264.7,1720.6 267.4,1720.5 268.8,1718.8 271.2,1715.6 272.9,1714.9 274.1,1713.0 276.4,1711.5 278.0,1708.7 279.8,1705.9 282.6,1706.5 283.7,1702.3 286.3,1701.4 287.7,1698.8 290.4,1698.2 292.2,1697.4 294.1,1692.3 295.4,1693.0 298.2,1690.8 299.8,1689.0 302.6,1689.8 303.7,1687.3 306.4,1685.0 308.6,1684.6 310.0,1683.0 312.2,1682.1 313.1,1678.8 314.4,1678.2 316.9,1676.4 318.4,1673.4 320.7,1671.4 322.0,1670.2 322.9,1667.4 325.9,1667.6 327.5,1670.4 329.8,1671.1 332.0,1672.4 335.0,1671.6 336.7,1670.3 338.4,1651.1 343.7,1642.4 346.6,1616.2 348.9,1659.9 350.7,1680.8 351.5,1712.3 354.1,1764.7 356.8,1782.1 357.1,1817.1 356.8,1843.3 355.9,1844.7 354.4,1843.6 353.6,1841.4 354.1,1837.6 352.4,1834.9 352.5,1832.0 350.0,1832.2 349.7,1827.2 349.5,1826.1 348.2,1823.2 346.6,1820.5 346.4,1818.1 345.6,1817.3 344.2,1816.3 342.7,1812.3 340.7,1811.9 339.2,1807.8 337.1,1806.8 337.0,1803.2 335.6,1802.3 333.9,1798.5 333.1,1796.7 333.3,1797.0 331.0,1798.9 331.0,1800.2 329.0,1801.6 327.8,1804.8 326.8,1806.2 325.4,1806.0 322.6,1802.7 321.1,1803.2 320.2,1805.7 319.4,1807.7 318.0,1810.6 318.0,1812.3 317.6,1814.3 316.5,1818.7 315.5,1820.8 314.3,1821.9 311.7,1823.7 312.4,1827.5 310.4,1827.7 310.0,1829.9 308.1,1831.5 305.0,1832.8 303.0,1836.8 299.9,1836.6 299.0,1840.7 299.0,1841.9 296.8,1844.4 297.1,1848.4 294.8,1850.2 295.7,1852.1 293.4,1854.3 292.7,1857.8 291.5,1858.7 291.6,1861.9 290.4,1863.1 289.4,1864.7 287.7,1867.4 287.4,1870.2 284.4,1870.3 283.1,1874.6 282.1,1875.0 278.7,1878.4 276.4,1877.9 274.7,1877.9 269.4,1863.9 265.9,1841.2 262.4,1815.0 258.1,1785.6 253.7,1766.4 250.2,1753.3 239.7,1751.6" fill="url(#gGc)" filter="url(#b1)"/><polygon points="336.7,1673.8 338.4,1651.1 341.0,1647.6 343.7,1642.4 346.6,1616.2 348.9,1659.9 350.7,1687.8 344.5,1694.8 337.6,1687.8" fill="url(#gGs)" filter="url(#b1)"/><g filter="url(#b1)"><polygon points="295.6,1789.1 297.0,1787.0 299.1,1786.2 301.4,1782.2 302.0,1780.2 304.6,1778.3 306.3,1778.2 308.6,1774.7 309.3,1774.3 311.3,1770.8 313.1,1770.5 314.1,1768.3 315.2,1764.7 316.6,1763.2 317.1,1761.3 318.1,1760.3 320.0,1756.9 320.9,1756.4 323.9,1753.4 325.2,1751.5 325.6,1749.0 326.8,1746.9 327.7,1744.8 330.5,1744.3 331.5,1741.5 332.3,1738.3 335.0,1738.1 336.3,1734.9 336.3,1734.0 338.5,1730.6 340.3,1728.5 340.9,1726.3 342.9,1725.7 343.8,1723.5 345.9,1720.2 347.2,1717.4 348.5,1715.7 350.7,1713.9 351.0,1712.3 351.8,1710.0 352.8,1706.7 351.6,1705.1 352.7,1702.6 354.2,1699.1 354.6,1697.9 353.8,1695.1 354.7,1691.9 354.0,1690.2 355.2,1688.6 357.4,1684.5 358.7,1683.0 359.2,1680.8 358.5,1680.5 359.2,1679.4 360.3,1679.3 361.0,1671.8 362.0,1678.5 362.7,1676.4 363.8,1677.9 364.5,1674.1 365.5,1677.7 366.2,1677.5 367.2,1676.9 367.9,1673.9 369.0,1675.5 369.7,1672.3 370.7,1674.7 371.4,1668.1 372.5,1674.2 373.2,1671.8 374.2,1673.4 374.9,1670.2 376.2,1672.8 376.9,1671.9 378.1,1673.0 378.8,1673.2 380.1,1672.7 380.8,1670.4 382.0,1672.5 382.7,1670.8 383.9,1671.5 384.6,1669.5 385.9,1671.3 386.6,1666.5 387.8,1671.5 388.5,1669.9 389.8,1670.7 390.5,1664.7 391.7,1670.5 392.4,1668.8 393.6,1670.3 394.3,1664.1 395.6,1670.6 396.3,1669.7 397.5,1669.7 398.2,1668.1 399.5,1669.2 400.2,1667.5 401.4,1669.7 402.1,1665.3 403.3,1669.4 404.0,1664.0 405.3,1668.3 406.0,1667.9 407.2,1668.7 407.9,1666.9 409.2,1668.0 409.9,1665.7 411.2,1668.5 411.9,1667.2 413.3,1668.0 414.0,1664.4 415.3,1667.7 416.0,1666.1 417.4,1668.1 418.1,1659.8 419.4,1668.1 420.1,1668.5 421.5,1668.2 422.2,1665.7 423.6,1667.9 424.3,1666.5 425.6,1668.6 426.3,1663.9 427.7,1667.9 428.4,1667.0 429.7,1668.3 430.4,1661.5 431.8,1668.2 432.5,1667.7 433.8,1668.4 434.5,1665.9 435.9,1668.2 436.6,1665.9 437.9,1668.4 438.6,1662.5 440.0,1668.4 440.7,1666.2 442.0,1668.6 442.7,1662.4 444.1,1668.0 444.8,1665.5 446.2,1667.7 446.9,1664.8 448.2,1667.7 448.9,1667.8 450.3,1668.3 451.0,1662.9 452.3,1668.4 453.0,1658.8 454.4,1667.9 455.1,1665.9 456.4,1668.1 457.1,1664.3 458.5,1668.2 459.2,1666.5 460.5,1668.6 461.2,1668.2 462.6,1668.6 463.3,1663.8 464.7,1667.7 465.4,1662.1 466.7,1667.8 467.4,1664.9 468.8,1668.4 469.5,1665.8 470.8,1668.0 471.5,1662.8 472.9,1668.5 473.6,1667.1 474.9,1668.5 475.6,1660.9 477.0,1668.4 477.7,1667.3 479.0,1668.3 479.7,1667.1 481.1,1668.0 481.8,1661.5 483.1,1667.9 483.8,1664.1 485.2,1668.5 485.9,1666.8 487.3,1668.4 488.0,1668.1 489.3,1668.2 490.0,1666.9 491.4,1667.9 492.1,1663.0 493.4,1667.7 494.1,1668.2 495.5,1668.2 496.2,1666.7 497.5,1667.8 498.2,1665.8 499.6,1668.3 500.3,1667.2 501.6,1668.2 502.3,1667.9 503.7,1667.9 504.4,1667.5 505.8,1668.2 506.5,1664.0 507.8,1668.2 508.5,1666.9 509.9,1668.2 510.6,1663.2 511.9,1668.3 512.6,1667.2 514.0,1668.6 514.7,1663.2 515.9,1668.5 516.6,1666.8 517.9,1668.0 518.6,1667.4 519.8,1668.6 520.5,1666.1 521.8,1668.7 522.5,1667.1 523.7,1669.1 524.4,1665.9 525.7,1669.3 526.4,1665.9 527.6,1668.7 528.3,1668.5 529.6,1669.4 530.3,1668.1 531.5,1669.1 532.2,1666.8 533.5,1669.2 534.2,1667.1 535.4,1669.6 536.1,1664.3 537.4,1669.5 538.1,1669.5 539.3,1669.9 540.0,1667.9 540.0,1670.3 540.0,1691.3 538.2,1694.6 537.2,1699.1 535.5,1700.7 533.6,1702.6 530.2,1706.2 528.7,1707.8 527.5,1710.3 524.2,1711.2 524.5,1714.8 522.9,1718.0 520.3,1718.9 518.8,1722.4 518.7,1724.1 515.9,1727.6 515.2,1729.7 514.1,1732.9 513.3,1734.3 510.4,1737.9 509.5,1738.9 509.3,1741.6 507.9,1743.5 506.7,1746.4 503.3,1749.3 502.3,1752.9 500.3,1755.2 499.1,1755.7 497.2,1758.6 444.8,1758.6 441.6,1757.9 438.5,1758.3 436.4,1758.3 433.1,1758.9 429.4,1759.5 425.4,1758.8 422.2,1759.4 419.3,1758.8 417.0,1759.4 414.0,1759.1 412.0,1759.7 408.7,1759.0 405.2,1759.6 400.9,1760.0 398.5,1759.0 395.0,1759.1 393.4,1759.0 390.4,1760.5 386.4,1760.5 383.4,1760.0 379.8,1759.8 377.6,1760.8 375.1,1761.4 372.9,1760.8 369.1,1761.6 365.9,1761.8 364.4,1763.0 361.4,1762.1 358.2,1763.4 355.5,1762.9 351.5,1763.6 348.8,1763.1 345.3,1763.6 342.5,1765.0 339.7,1765.2 337.2,1765.5 334.0,1766.9 332.7,1769.1 330.2,1769.8 326.1,1771.7 325.1,1772.3 322.9,1774.8 318.5,1775.6 316.0,1777.0 313.6,1778.3 312.1,1779.9 309.6,1780.4" fill="url(#gGf)"/><g clip-path="url(#cGf)"><polyline points="475.5,1666.9 501.7,1666.0 540.0,1668.6" fill="none" stroke="#f9b000" stroke-width="5" stroke-opacity="0.6" filter="url(#b2)"/></g><g clip-path="url(#cGf)"><line x1="342.4" y1="1751.5" x2="367.5" y2="1726.4" stroke="#c8d400" stroke-width="1.9" stroke-opacity="0.26"/><line x1="448.4" y1="1768.7" x2="480.2" y2="1736.8" stroke="#fff000" stroke-width="1.6" stroke-opacity="0.22"/><line x1="357.9" y1="1700.0" x2="385.3" y2="1672.6" stroke="#d5db00" stroke-width="1.1" stroke-opacity="0.34"/><line x1="437.5" y1="1726.6" x2="479.1" y2="1685.0" stroke="#fff000" stroke-width="2.0" stroke-opacity="0.28"/><line x1="464.3" y1="1726.0" x2="496.4" y2="1694.0" stroke="#fff000" stroke-width="2.0" stroke-opacity="0.25"/><line x1="333.5" y1="1716.9" x2="362.9" y2="1687.5" stroke="#c8d400" stroke-width="1.9" stroke-opacity="0.30"/><line x1="413.1" y1="1706.6" x2="443.8" y2="1675.9" stroke="#fff000" stroke-width="1.8" stroke-opacity="0.30"/><line x1="467.0" y1="1729.6" x2="507.1" y2="1689.5" stroke="#c8d400" stroke-width="1.1" stroke-opacity="0.35"/><line x1="423.1" y1="1753.1" x2="456.4" y2="1719.8" stroke="#d5db00" stroke-width="1.9" stroke-opacity="0.26"/><line x1="438.8" y1="1743.5" x2="460.2" y2="1722.1" stroke="#d5db00" stroke-width="1.3" stroke-opacity="0.34"/><line x1="373.4" y1="1684.5" x2="401.0" y2="1656.9" stroke="#fff000" stroke-width="1.8" stroke-opacity="0.21"/><line x1="344.2" y1="1757.7" x2="374.4" y2="1727.6" stroke="#e6e000" stroke-width="1.7" stroke-opacity="0.32"/><line x1="494.4" y1="1748.3" x2="508.3" y2="1734.5" stroke="#e6e000" stroke-width="0.9" stroke-opacity="0.22"/><line x1="432.3" y1="1700.6" x2="449.1" y2="1683.8" stroke="#d5db00" stroke-width="1.1" stroke-opacity="0.34"/><line x1="457.8" y1="1733.7" x2="488.4" y2="1703.2" stroke="#c8d400" stroke-width="0.8" stroke-opacity="0.31"/><line x1="435.0" y1="1748.0" x2="449.5" y2="1733.6" stroke="#e6e000" stroke-width="1.6" stroke-opacity="0.21"/><line x1="349.7" y1="1758.8" x2="390.9" y2="1717.6" stroke="#c8d400" stroke-width="1.2" stroke-opacity="0.39"/><line x1="451.8" y1="1752.3" x2="492.8" y2="1711.2" stroke="#d5db00" stroke-width="1.2" stroke-opacity="0.32"/><line x1="332.8" y1="1744.4" x2="371.2" y2="1705.9" stroke="#fff000" stroke-width="0.9" stroke-opacity="0.27"/><line x1="496.7" y1="1769.9" x2="523.7" y2="1742.8" stroke="#d5db00" stroke-width="1.2" stroke-opacity="0.30"/><line x1="332.9" y1="1737.6" x2="359.0" y2="1711.5" stroke="#d5db00" stroke-width="1.6" stroke-opacity="0.36"/><line x1="462.3" y1="1768.6" x2="491.4" y2="1739.6" stroke="#e6e000" stroke-width="1.5" stroke-opacity="0.25"/><line x1="369.1" y1="1751.1" x2="381.9" y2="1738.4" stroke="#d5db00" stroke-width="1.0" stroke-opacity="0.28"/><line x1="394.6" y1="1732.6" x2="424.7" y2="1702.5" stroke="#d5db00" stroke-width="0.9" stroke-opacity="0.34"/><line x1="376.7" y1="1718.5" x2="401.9" y2="1693.3" stroke="#d5db00" stroke-width="1.3" stroke-opacity="0.23"/><line x1="415.0" y1="1738.7" x2="455.4" y2="1698.3" stroke="#e6e000" stroke-width="1.1" stroke-opacity="0.31"/><line x1="433.4" y1="1711.7" x2="456.2" y2="1688.9" stroke="#c8d400" stroke-width="1.0" stroke-opacity="0.23"/><line x1="490.2" y1="1765.8" x2="509.5" y2="1746.6" stroke="#fff000" stroke-width="2.0" stroke-opacity="0.19"/><line x1="428.0" y1="1736.9" x2="466.9" y2="1698.0" stroke="#c8d400" stroke-width="1.4" stroke-opacity="0.21"/><line x1="516.8" y1="1737.3" x2="546.4" y2="1707.7" stroke="#e6e000" stroke-width="1.8" stroke-opacity="0.22"/><line x1="494.1" y1="1712.0" x2="523.3" y2="1682.9" stroke="#e6e000" stroke-width="1.4" stroke-opacity="0.16"/><line x1="365.5" y1="1754.8" x2="396.4" y2="1723.9" stroke="#c8d400" stroke-width="0.9" stroke-opacity="0.24"/><line x1="383.5" y1="1688.0" x2="413.5" y2="1658.0" stroke="#c8d400" stroke-width="1.8" stroke-opacity="0.33"/><line x1="455.4" y1="1715.3" x2="484.0" y2="1686.7" stroke="#e6e000" stroke-width="1.5" stroke-opacity="0.25"/><line x1="458.6" y1="1770.7" x2="499.0" y2="1730.3" stroke="#c8d400" stroke-width="0.9" stroke-opacity="0.29"/><line x1="400.1" y1="1702.3" x2="426.7" y2="1675.8" stroke="#d5db00" stroke-width="1.3" stroke-opacity="0.16"/><line x1="474.3" y1="1709.3" x2="487.1" y2="1696.5" stroke="#fff000" stroke-width="1.8" stroke-opacity="0.22"/><line x1="350.3" y1="1682.0" x2="371.1" y2="1661.2" stroke="#e6e000" stroke-width="1.9" stroke-opacity="0.22"/><line x1="452.4" y1="1742.8" x2="468.7" y2="1726.5" stroke="#c8d400" stroke-width="1.2" stroke-opacity="0.39"/><line x1="427.4" y1="1712.5" x2="456.8" y2="1683.1" stroke="#fff000" stroke-width="1.0" stroke-opacity="0.27"/><line x1="341.6" y1="1740.5" x2="358.6" y2="1723.5" stroke="#e6e000" stroke-width="1.1" stroke-opacity="0.34"/><line x1="476.5" y1="1692.1" x2="492.4" y2="1676.2" stroke="#c8d400" stroke-width="2.0" stroke-opacity="0.35"/><line x1="524.7" y1="1721.2" x2="549.4" y2="1696.5" stroke="#fff000" stroke-width="1.9" stroke-opacity="0.15"/><line x1="422.0" y1="1740.2" x2="440.8" y2="1721.4" stroke="#d5db00" stroke-width="1.2" stroke-opacity="0.15"/><line x1="428.7" y1="1752.5" x2="461.6" y2="1719.6" stroke="#d5db00" stroke-width="1.9" stroke-opacity="0.30"/><line x1="350.8" y1="1749.7" x2="375.6" y2="1724.9" stroke="#d5db00" stroke-width="1.0" stroke-opacity="0.24"/><line x1="516.2" y1="1773.7" x2="545.6" y2="1744.4" stroke="#c8d400" stroke-width="1.4" stroke-opacity="0.20"/><line x1="401.4" y1="1712.3" x2="420.7" y2="1692.9" stroke="#c8d400" stroke-width="1.7" stroke-opacity="0.30"/><line x1="524.6" y1="1739.6" x2="545.7" y2="1718.6" stroke="#e6e000" stroke-width="1.1" stroke-opacity="0.26"/><line x1="494.7" y1="1706.5" x2="515.3" y2="1686.0" stroke="#e6e000" stroke-width="1.4" stroke-opacity="0.29"/><line x1="507.0" y1="1732.7" x2="539.6" y2="1700.1" stroke="#c8d400" stroke-width="1.6" stroke-opacity="0.16"/><line x1="446.6" y1="1727.5" x2="486.5" y2="1687.6" stroke="#e6e000" stroke-width="1.5" stroke-opacity="0.26"/><line x1="495.3" y1="1719.1" x2="529.7" y2="1684.8" stroke="#d5db00" stroke-width="1.8" stroke-opacity="0.25"/><line x1="380.9" y1="1687.1" x2="394.0" y2="1674.0" stroke="#c8d400" stroke-width="1.5" stroke-opacity="0.20"/><line x1="347.6" y1="1754.4" x2="384.9" y2="1717.1" stroke="#e6e000" stroke-width="1.0" stroke-opacity="0.32"/><line x1="371.8" y1="1711.2" x2="403.5" y2="1679.5" stroke="#fff000" stroke-width="1.0" stroke-opacity="0.15"/><line x1="371.4" y1="1767.5" x2="393.7" y2="1745.2" stroke="#d5db00" stroke-width="1.3" stroke-opacity="0.20"/><line x1="476.0" y1="1755.2" x2="492.3" y2="1738.9" stroke="#e6e000" stroke-width="1.9" stroke-opacity="0.16"/><line x1="354.5" y1="1710.6" x2="377.5" y2="1687.6" stroke="#e6e000" stroke-width="1.5" stroke-opacity="0.35"/><line x1="513.3" y1="1723.7" x2="531.0" y2="1706.1" stroke="#e6e000" stroke-width="1.3" stroke-opacity="0.31"/><line x1="377.3" y1="1762.4" x2="392.2" y2="1747.5" stroke="#c8d400" stroke-width="1.6" stroke-opacity="0.19"/><line x1="528.5" y1="1699.4" x2="541.7" y2="1686.2" stroke="#d5db00" stroke-width="1.9" stroke-opacity="0.26"/><line x1="345.3" y1="1769.0" x2="365.0" y2="1749.3" stroke="#e6e000" stroke-width="1.1" stroke-opacity="0.20"/><line x1="464.8" y1="1738.7" x2="486.9" y2="1716.6" stroke="#c8d400" stroke-width="1.3" stroke-opacity="0.30"/><line x1="414.0" y1="1710.4" x2="436.4" y2="1688.0" stroke="#e6e000" stroke-width="0.9" stroke-opacity="0.38"/><line x1="410.5" y1="1749.8" x2="438.1" y2="1722.2" stroke="#e6e000" stroke-width="1.2" stroke-opacity="0.17"/><line x1="327.7" y1="1726.6" x2="353.6" y2="1700.7" stroke="#d5db00" stroke-width="1.2" stroke-opacity="0.38"/><line x1="343.4" y1="1695.7" x2="370.5" y2="1668.7" stroke="#d5db00" stroke-width="1.2" stroke-opacity="0.23"/><line x1="379.6" y1="1735.3" x2="401.8" y2="1713.1" stroke="#e6e000" stroke-width="1.8" stroke-opacity="0.16"/><line x1="392.2" y1="1730.2" x2="420.9" y2="1701.5" stroke="#d5db00" stroke-width="1.8" stroke-opacity="0.29"/><line x1="406.6" y1="1762.2" x2="431.5" y2="1737.2" stroke="#fff000" stroke-width="1.9" stroke-opacity="0.22"/><line x1="399.8" y1="1703.8" x2="417.6" y2="1686.0" stroke="#c8d400" stroke-width="1.9" stroke-opacity="0.15"/><line x1="361.9" y1="1705.7" x2="398.7" y2="1668.8" stroke="#e6e000" stroke-width="1.6" stroke-opacity="0.33"/><line x1="495.3" y1="1726.1" x2="523.5" y2="1697.9" stroke="#e6e000" stroke-width="1.9" stroke-opacity="0.32"/><line x1="479.9" y1="1747.4" x2="520.0" y2="1707.3" stroke="#e6e000" stroke-width="1.2" stroke-opacity="0.34"/><line x1="332.1" y1="1701.0" x2="357.2" y2="1675.8" stroke="#e6e000" stroke-width="1.9" stroke-opacity="0.18"/><line x1="448.1" y1="1714.2" x2="470.9" y2="1691.4" stroke="#fff000" stroke-width="2.0" stroke-opacity="0.34"/><line x1="435.5" y1="1704.5" x2="463.2" y2="1676.7" stroke="#e6e000" stroke-width="0.9" stroke-opacity="0.40"/><line x1="444.9" y1="1765.0" x2="487.0" y2="1723.0" stroke="#fff000" stroke-width="1.5" stroke-opacity="0.27"/><line x1="450.8" y1="1767.6" x2="474.8" y2="1743.6" stroke="#c8d400" stroke-width="0.9" stroke-opacity="0.16"/><line x1="367.6" y1="1774.9" x2="402.5" y2="1740.1" stroke="#c8d400" stroke-width="1.8" stroke-opacity="0.29"/><line x1="479.4" y1="1751.7" x2="515.8" y2="1715.3" stroke="#fff000" stroke-width="1.2" stroke-opacity="0.36"/><line x1="423.5" y1="1692.1" x2="446.0" y2="1669.6" stroke="#d5db00" stroke-width="1.5" stroke-opacity="0.20"/><line x1="374.8" y1="1695.0" x2="407.6" y2="1662.1" stroke="#fff000" stroke-width="1.4" stroke-opacity="0.37"/><line x1="403.0" y1="1765.7" x2="441.6" y2="1727.1" stroke="#e6e000" stroke-width="2.0" stroke-opacity="0.38"/><line x1="448.2" y1="1729.0" x2="465.1" y2="1712.1" stroke="#e6e000" stroke-width="2.0" stroke-opacity="0.36"/><line x1="451.5" y1="1744.8" x2="478.8" y2="1717.6" stroke="#fff000" stroke-width="1.3" stroke-opacity="0.28"/><line x1="332.3" y1="1756.7" x2="351.2" y2="1737.8" stroke="#c8d400" stroke-width="0.9" stroke-opacity="0.22"/><line x1="517.3" y1="1772.1" x2="543.3" y2="1746.2" stroke="#d5db00" stroke-width="1.1" stroke-opacity="0.37"/><line x1="517.5" y1="1737.0" x2="537.4" y2="1717.1" stroke="#c8d400" stroke-width="1.4" stroke-opacity="0.33"/></g></g><g stroke="#333" stroke-width="1.1"><line x1="222.2" y1="1696.3" x2="225.2" y2="1694.8"/><line x1="225.4" y1="1745.2" x2="228.4" y2="1743.7"/><line x1="228.6" y1="1794.8" x2="231.6" y2="1793.3"/><line x1="231.9" y1="1844.1" x2="234.9" y2="1842.6"/><line x1="234.7" y1="1886.3" x2="237.7" y2="1884.8"/><line x1="237.7" y1="1932.6" x2="240.7" y2="1931.1"/><line x1="238.9" y1="1948.6" x2="238.4" y2="1952.2"/><line x1="246.0" y1="1949.4" x2="245.7" y2="1951.4"/><line x1="253.1" y1="1950.2" x2="252.8" y2="1952.2"/><line x1="260.2" y1="1951.0" x2="259.9" y2="1953.0"/><line x1="267.4" y1="1951.8" x2="266.9" y2="1955.4"/><line x1="274.6" y1="1952.6" x2="274.3" y2="1954.6"/><line x1="281.8" y1="1953.4" x2="281.5" y2="1955.4"/><line x1="289.1" y1="1954.2" x2="288.8" y2="1956.2"/><line x1="296.3" y1="1955.0" x2="295.8" y2="1958.6"/><line x1="303.6" y1="1955.8" x2="303.3" y2="1957.8"/><line x1="311.0" y1="1956.6" x2="310.7" y2="1958.6"/><line x1="318.3" y1="1957.4" x2="318.0" y2="1959.4"/><line x1="325.7" y1="1958.2" x2="325.1" y2="1961.8"/><line x1="333.1" y1="1959.1" x2="332.8" y2="1961.1"/><line x1="340.5" y1="1959.9" x2="340.2" y2="1961.9"/><line x1="348.0" y1="1960.7" x2="347.7" y2="1962.7"/><line x1="355.4" y1="1961.5" x2="354.9" y2="1965.1"/><line x1="363.0" y1="1962.4" x2="362.7" y2="1964.4"/><line x1="370.5" y1="1963.2" x2="370.2" y2="1965.2"/><line x1="378.1" y1="1964.1" x2="377.8" y2="1966.1"/><line x1="385.6" y1="1964.9" x2="385.1" y2="1968.5"/><line x1="393.3" y1="1965.8" x2="393.0" y2="1967.8"/><line x1="400.9" y1="1966.6" x2="400.6" y2="1968.6"/><line x1="408.6" y1="1967.5" x2="408.3" y2="1969.5"/><line x1="416.3" y1="1968.3" x2="415.7" y2="1971.9"/><line x1="424.0" y1="1969.2" x2="423.7" y2="1971.2"/><line x1="431.8" y1="1970.0" x2="431.5" y2="1972.0"/><line x1="439.6" y1="1970.9" x2="439.3" y2="1972.9"/><line x1="447.4" y1="1971.8" x2="446.8" y2="1975.4"/><line x1="455.2" y1="1972.6" x2="454.9" y2="1974.6"/><line x1="463.1" y1="1973.5" x2="462.8" y2="1975.5"/><line x1="471.0" y1="1974.4" x2="470.7" y2="1976.4"/><line x1="478.9" y1="1975.3" x2="478.4" y2="1978.9"/><line x1="486.9" y1="1976.2" x2="486.6" y2="1978.2"/><line x1="494.9" y1="1977.0" x2="494.6" y2="1979.0"/><line x1="498.1" y1="1977.4" x2="500.1" y2="1977.7"/><line x1="499.9" y1="1972.5" x2="501.9" y2="1972.8"/><line x1="501.7" y1="1967.8" x2="505.3" y2="1968.3"/><line x1="503.4" y1="1963.1" x2="505.4" y2="1963.4"/><line x1="505.1" y1="1958.4" x2="507.1" y2="1958.7"/><line x1="506.8" y1="1953.9" x2="508.8" y2="1954.2"/><line x1="508.4" y1="1949.4" x2="512.0" y2="1949.9"/><line x1="510.0" y1="1945.0" x2="512.0" y2="1945.3"/><line x1="511.6" y1="1940.7" x2="513.6" y2="1941.0"/><line x1="513.2" y1="1936.4" x2="515.2" y2="1936.7"/><line x1="514.8" y1="1932.2" x2="518.4" y2="1932.7"/><line x1="516.3" y1="1928.0" x2="518.3" y2="1928.3"/><line x1="517.8" y1="1924.0" x2="519.8" y2="1924.3"/><line x1="519.3" y1="1919.9" x2="521.3" y2="1920.2"/><line x1="520.7" y1="1916.0" x2="524.3" y2="1916.5"/><line x1="522.2" y1="1912.1" x2="524.2" y2="1912.4"/><line x1="523.6" y1="1908.2" x2="525.6" y2="1908.5"/><line x1="525.0" y1="1904.5" x2="527.0" y2="1904.8"/><line x1="526.4" y1="1900.7" x2="530.0" y2="1901.3"/><line x1="527.7" y1="1897.1" x2="529.7" y2="1897.4"/><line x1="529.1" y1="1893.4" x2="531.1" y2="1893.7"/><line x1="530.4" y1="1889.9" x2="532.4" y2="1890.2"/><line x1="531.7" y1="1886.3" x2="535.3" y2="1886.9"/><line x1="533.0" y1="1882.9" x2="535.0" y2="1883.2"/><line x1="534.2" y1="1879.4" x2="536.2" y2="1879.7"/><line x1="535.5" y1="1876.1" x2="537.5" y2="1876.4"/><line x1="536.7" y1="1872.7" x2="540.3" y2="1873.3"/><line x1="537.9" y1="1869.4" x2="539.9" y2="1869.7"/><line x1="539.1" y1="1866.2" x2="541.1" y2="1866.5"/></g><polyline points="238.9,1948.6 498.1,1977.4 539.1,1866.2" fill="none" stroke="#555" stroke-width="1.1"/><text x="216.2" y="1701.8" font-size="20.9" text-anchor="end" dominant-baseline="central" fill="#111">0.0005</text><text x="217.4" y="1750.7" font-size="20.9" text-anchor="end" dominant-baseline="central" fill="#111">0.0000</text><text x="222.8" y="1800.3" font-size="20.9" text-anchor="end" dominant-baseline="central" fill="#111">–0.0005</text><text x="226.0" y="1849.6" font-size="20.9" text-anchor="end" dominant-baseline="central" fill="#111">–0.0010</text><text x="229.6" y="1891.8" font-size="20.9" text-anchor="end" dominant-baseline="central" fill="#111">–0.0015</text><text x="231.9" y="1938.1" font-size="20.9" text-anchor="end" dominant-baseline="central" fill="#111">–0.0020</text><text transform="translate(133.0 1828.0) rotate(-90.0)" font-size="21.0" text-anchor="middle" dominant-baseline="central" fill="#111" >Intensity (a. u.)</text><text transform="translate(234.5 1962.5) rotate(-80.0)" font-size="21.0" text-anchor="middle" dominant-baseline="central" fill="#111" >0</text><text transform="translate(261.6 1967.8) rotate(-80.0)" font-size="21.0" text-anchor="middle" dominant-baseline="central" fill="#111" >1</text><text transform="translate(292.1 1970.4) rotate(-80.0)" font-size="21.0" text-anchor="middle" dominant-baseline="central" fill="#111" >2</text><text transform="translate(320.1 1973.9) rotate(-80.0)" font-size="21.0" text-anchor="middle" dominant-baseline="central" fill="#111" >3</text><text transform="translate(348.0 1975.6) rotate(-80.0)" font-size="21.0" text-anchor="middle" dominant-baseline="central" fill="#111" >4</text><text transform="translate(374.6 1978.7) rotate(-80.0)" font-size="21.0" text-anchor="middle" dominant-baseline="central" fill="#111" >5</text><text transform="translate(403.8 1981.7) rotate(-80.0)" font-size="21.0" text-anchor="middle" dominant-baseline="central" fill="#111" >6</text><text transform="translate(434.3 1984.4) rotate(-80.0)" font-size="21.0" text-anchor="middle" dominant-baseline="central" fill="#111" >7</text><text transform="translate(464.9 1987.9) rotate(-80.0)" font-size="21.0" text-anchor="middle" dominant-baseline="central" fill="#111" >8</text><text transform="translate(352.5 1994.5) rotate(7.5)" font-size="21.5" text-anchor="middle" dominant-baseline="central" fill="#111" >Time (ps)</text><text transform="translate(528.6 1968.6) rotate(3.0)" font-size="21.0" text-anchor="middle" dominant-baseline="central" fill="#111" >580</text><text transform="translate(533.9 1950.3) rotate(3.0)" font-size="21.0" text-anchor="middle" dominant-baseline="central" fill="#111" >560</text><text transform="translate(540.9 1932.0) rotate(3.0)" font-size="21.0" text-anchor="middle" dominant-baseline="central" fill="#111" >540</text><text transform="translate(547.0 1915.4) rotate(3.0)" font-size="21.0" text-anchor="middle" dominant-baseline="central" fill="#111" >520</text><text transform="translate(554.8 1897.0) rotate(3.0)" font-size="21.0" text-anchor="middle" dominant-baseline="central" fill="#111" >500</text><text transform="translate(560.1 1882.2) rotate(3.0)" font-size="21.0" text-anchor="middle" dominant-baseline="central" fill="#111" >480</text><text transform="translate(565.3 1865.6) rotate(3.0)" font-size="21.0" text-anchor="middle" dominant-baseline="central" fill="#111" >460</text><text transform="translate(589.8 1916.2) rotate(-75.5) skewX(-12.0)" font-size="21.5" text-anchor="middle" dominant-baseline="central" fill="#111" >Wavelength (nm)</text><text x="157.5" y="1633.3" font-size="43.4" font-weight="bold" fill="#000">G</text><g fill="none" stroke="#f3f3f3" stroke-width="1"><polyline points="809.9,1652.9 913.8,1605.4 1156.5,1618.4"/><polyline points="811.3,1687.7 914.2,1634.0 1155.3,1648.7"/><polyline points="812.6,1721.2 914.6,1661.6 1154.1,1678.0"/><polyline points="813.8,1754.1 915.1,1688.9 1153.0,1706.8"/><polyline points="815.0,1784.0 915.4,1713.6 1151.9,1733.0"/><polyline points="816.0,1812.1 915.8,1737.0 1151.0,1757.7"/><polyline points="817.1,1840.2 916.1,1760.4 1150.0,1782.4"/><polyline points="818.3,1871.0 916.5,1786.2 1148.9,1809.5"/><polyline points="819.4,1899.3 916.9,1809.9 1147.9,1834.4"/><polyline points="839.1,1900.8 829.9,1627.1"/><polyline points="856.8,1883.9 849.0,1618.9"/><polyline points="873.3,1868.1 866.9,1611.3"/><polyline points="888.8,1853.3 883.5,1604.3"/><polyline points="903.4,1839.4 899.0,1597.6"/><polyline points="947.5,1829.7 945.7,1593.0"/><polyline points="978.4,1833.1 978.3,1594.6"/><polyline points="1009.8,1836.5 1011.5,1596.3"/><polyline points="1041.7,1840.0 1045.2,1598.0"/><polyline points="1074.1,1843.6 1079.5,1599.7"/><polyline points="1107.0,1847.3 1114.4,1601.5"/><polyline points="1140.4,1851.0 1149.9,1603.2"/></g><g fill="none" stroke="#aaaaaa" stroke-width="1.3"><polyline points="809.3,1635.9 913.6,1591.4 1157.1,1603.6 1147.2,1851.7"/><polyline points="913.6,1591.4 917.1,1826.3" stroke-opacity="0.6"/></g><polyline points="809.3,1635.9 820.1,1918.9" fill="none" stroke="#5a5a5a" stroke-width="1.5"/><g filter="url(#b1)"><polygon points="820.1,1918.9 822.6,1919.2 919.2,1826.5 917.1,1826.3" fill="#f8b400"/><polygon points="822.1,1919.2 824.7,1919.5 920.9,1826.7 918.8,1826.5" fill="#f49202"/><polygon points="824.1,1919.4 826.7,1919.8 922.6,1826.9 920.5,1826.7" fill="#ee7406"/><polygon points="826.2,1919.7 828.7,1920.0 924.3,1827.1 922.2,1826.9" fill="#f7a600"/><polygon points="828.2,1920.0 830.7,1920.3 926.0,1827.3 923.9,1827.0" fill="#f28b03"/><polygon points="830.2,1920.2 832.7,1920.6 927.7,1827.5 925.6,1827.2" fill="#fee800"/><polygon points="832.2,1920.5 834.8,1920.8 929.4,1827.7 927.3,1827.4" fill="#f7aa00"/><polygon points="834.2,1920.8 836.8,1921.1 931.1,1827.8 928.9,1827.6" fill="#f59c01"/><polygon points="836.3,1921.0 838.8,1921.4 932.8,1828.0 930.6,1827.8" fill="#f59d00"/><polygon points="838.3,1921.3 840.9,1921.7 934.5,1828.2 932.3,1828.0" fill="#f7a400"/><polygon points="840.3,1921.6 842.9,1921.9 936.2,1828.4 934.0,1828.2" fill="#f38d03"/><polygon points="842.4,1921.9 844.9,1922.2 937.9,1828.6 935.7,1828.4" fill="#f6a400"/><polygon points="844.4,1922.1 847.0,1922.5 939.6,1828.8 937.4,1828.5" fill="#fac000"/><polygon points="846.4,1922.4 849.0,1922.7 941.3,1829.0 939.1,1828.7" fill="#f38f02"/><polygon points="848.5,1922.7 851.1,1923.0 943.0,1829.2 940.9,1828.9" fill="#f8b300"/><polygon points="850.5,1922.9 853.1,1923.3 944.7,1829.3 942.6,1829.1" fill="#fee900"/><polygon points="852.6,1923.2 855.1,1923.5 946.4,1829.5 944.3,1829.3" fill="#e1df05"/><polygon points="854.6,1923.5 857.2,1923.8 948.1,1829.7 946.0,1829.5" fill="#89be20"/><polygon points="856.7,1923.7 859.2,1924.1 949.8,1829.9 947.7,1829.7" fill="#6fb62b"/><polygon points="858.7,1924.0 861.3,1924.4 951.6,1830.1 949.4,1829.9" fill="#6db52c"/><polygon points="860.8,1924.3 863.3,1924.6 953.3,1830.3 951.1,1830.1" fill="#6cb52d"/><polygon points="862.8,1924.6 865.4,1924.9 955.0,1830.5 952.8,1830.2" fill="#6cb52c"/><polygon points="864.9,1924.8 867.5,1925.2 956.7,1830.7 954.5,1830.4" fill="#6db52c"/><polygon points="866.9,1925.1 869.5,1925.4 958.4,1830.9 956.3,1830.6" fill="#6bb42d"/><polygon points="869.0,1925.4 871.6,1925.7 960.1,1831.1 958.0,1830.8" fill="#6fb62b"/><polygon points="871.0,1925.7 873.6,1926.0 961.9,1831.2 959.7,1831.0" fill="#6bb42d"/><polygon points="873.1,1925.9 875.7,1926.3 963.6,1831.4 961.4,1831.2" fill="#6cb52d"/><polygon points="875.2,1926.2 877.8,1926.5 965.3,1831.6 963.1,1831.4" fill="#6cb52d"/><polygon points="877.2,1926.5 879.8,1926.8 967.0,1831.8 964.8,1831.6" fill="#6db52c"/><polygon points="879.3,1926.7 881.9,1927.1 968.7,1832.0 966.6,1831.8" fill="#6db52c"/><polygon points="881.4,1927.0 884.0,1927.4 970.5,1832.2 968.3,1832.0" fill="#6cb52c"/><polygon points="883.4,1927.3 886.0,1927.6 972.2,1832.4 970.0,1832.1" fill="#6bb42d"/><polygon points="885.5,1927.6 888.1,1927.9 973.9,1832.6 971.7,1832.3" fill="#6db52c"/><polygon points="887.6,1927.8 890.2,1928.2 975.7,1832.8 973.5,1832.5" fill="#6db52c"/><polygon points="889.6,1928.1 892.3,1928.5 977.4,1833.0 975.2,1832.7" fill="#6cb52c"/><polygon points="891.7,1928.4 894.3,1928.7 979.1,1833.1 976.9,1832.9" fill="#6eb52c"/><polygon points="893.8,1928.7 896.4,1929.0 980.8,1833.3 978.7,1833.1" fill="#6eb52b"/><polygon points="895.9,1928.9 898.5,1929.3 982.6,1833.5 980.4,1833.3" fill="#6eb52b"/><polygon points="898.0,1929.2 900.6,1929.6 984.3,1833.7 982.1,1833.5" fill="#6eb52b"/><polygon points="900.0,1929.5 902.7,1929.8 986.1,1833.9 983.9,1833.7" fill="#79b926"/><polygon points="902.1,1929.8 904.8,1930.1 987.8,1834.1 985.6,1833.9" fill="#6fb62b"/><polygon points="904.2,1930.1 906.9,1930.4 989.5,1834.3 987.3,1834.1" fill="#86bd21"/><polygon points="906.3,1930.3 908.9,1930.7 991.3,1834.5 989.1,1834.2" fill="#9cc518"/><polygon points="908.4,1930.6 911.0,1931.0 993.0,1834.7 990.8,1834.4" fill="#96c31a"/><polygon points="910.5,1930.9 913.1,1931.2 994.8,1834.9 992.6,1834.6" fill="#bccf0b"/><polygon points="912.6,1931.2 915.2,1931.5 996.5,1835.1 994.3,1834.8" fill="#c8d508"/><polygon points="914.7,1931.4 917.3,1931.8 998.3,1835.3 996.1,1835.0" fill="#d5da06"/><polygon points="916.8,1931.7 919.4,1932.1 1000.0,1835.5 997.8,1835.2" fill="#fbeb01"/><polygon points="918.9,1932.0 921.5,1932.3 1001.7,1835.6 999.5,1835.4" fill="#e0df05"/><polygon points="921.0,1932.3 923.6,1932.6 1003.5,1835.8 1001.3,1835.6" fill="#ffea00"/><polygon points="923.1,1932.6 925.7,1932.9 1005.2,1836.0 1003.0,1835.8" fill="#fcd100"/><polygon points="925.2,1932.8 927.9,1933.2 1007.0,1836.2 1004.8,1836.0" fill="#fdd800"/><polygon points="927.3,1933.1 930.0,1933.5 1008.8,1836.4 1006.5,1836.2" fill="#f0e702"/><polygon points="929.4,1933.4 932.1,1933.7 1010.5,1836.6 1008.3,1836.4" fill="#f2e702"/><polygon points="931.5,1933.7 934.2,1934.0 1012.3,1836.8 1010.1,1836.6" fill="#fdec00"/><polygon points="933.6,1934.0 936.3,1934.3 1014.0,1837.0 1011.8,1836.8" fill="#e4e104"/><polygon points="935.8,1934.2 938.4,1934.6 1015.8,1837.2 1013.6,1836.9" fill="#fcd500"/><polygon points="937.9,1934.5 940.5,1934.9 1017.5,1837.4 1015.3,1837.1" fill="#fddd00"/><polygon points="940.0,1934.8 942.7,1935.1 1019.3,1837.6 1017.1,1837.3" fill="#f0e602"/><polygon points="942.1,1935.1 944.8,1935.4 1021.1,1837.8 1018.8,1837.5" fill="#fcd700"/><polygon points="944.2,1935.4 946.9,1935.7 1022.8,1838.0 1020.6,1837.7" fill="#fbeb01"/><polygon points="946.4,1935.6 949.0,1936.0 1024.6,1838.2 1022.4,1837.9" fill="#fdd900"/><polygon points="948.5,1935.9 951.2,1936.3 1026.4,1838.4 1024.1,1838.1" fill="#fddc00"/><polygon points="950.6,1936.2 953.3,1936.6 1028.1,1838.6 1025.9,1838.3" fill="#fbc800"/><polygon points="952.8,1936.5 955.4,1936.8 1029.9,1838.8 1027.7,1838.5" fill="#f8ae00"/><polygon points="954.9,1936.8 957.6,1937.1 1031.7,1838.9 1029.4,1838.7" fill="#f3e802"/><polygon points="957.0,1937.1 959.7,1937.4 1033.4,1839.1 1031.2,1838.9" fill="#fee400"/><polygon points="959.2,1937.3 961.8,1937.7 1035.2,1839.3 1033.0,1839.1" fill="#fbcc00"/><polygon points="961.3,1937.6 964.0,1938.0 1037.0,1839.5 1034.7,1839.3" fill="#f9b800"/><polygon points="963.4,1937.9 966.1,1938.3 1038.8,1839.7 1036.5,1839.5" fill="#f8b500"/><polygon points="965.6,1938.2 968.3,1938.5 1040.5,1839.9 1038.3,1839.7" fill="#fabe00"/><polygon points="967.7,1938.5 970.4,1938.8 1042.3,1840.1 1040.1,1839.9" fill="#f7a800"/><polygon points="969.9,1938.8 972.6,1939.1 1044.1,1840.3 1041.8,1840.1" fill="#fac300"/><polygon points="972.0,1939.0 974.7,1939.4 1045.9,1840.5 1043.6,1840.3" fill="#f7a800"/><polygon points="974.2,1939.3 976.9,1939.7 1047.7,1840.7 1045.4,1840.5" fill="#f8af00"/><polygon points="976.3,1939.6 979.0,1940.0 1049.4,1840.9 1047.2,1840.7" fill="#fac400"/><polygon points="978.5,1939.9 981.2,1940.3 1051.2,1841.1 1049.0,1840.9" fill="#fac500"/><polygon points="980.6,1940.2 983.3,1940.5 1053.0,1841.3 1050.8,1841.1" fill="#f9b600"/><polygon points="982.8,1940.5 985.5,1940.8 1054.8,1841.5 1052.5,1841.3" fill="#fcd700"/><polygon points="984.9,1940.8 987.7,1941.1 1056.6,1841.7 1054.3,1841.4" fill="#f8ad00"/><polygon points="987.1,1941.0 989.8,1941.4 1058.4,1841.9 1056.1,1841.6" fill="#fee100"/><polygon points="989.3,1941.3 992.0,1941.7 1060.2,1842.1 1057.9,1841.8" fill="#f8ae00"/><polygon points="991.4,1941.6 994.2,1942.0 1062.0,1842.3 1059.7,1842.0" fill="#fac100"/><polygon points="993.6,1941.9 996.3,1942.3 1063.7,1842.5 1061.5,1842.2" fill="#f7a400"/><polygon points="995.8,1942.2 998.5,1942.6 1065.5,1842.7 1063.3,1842.4" fill="#f9bd00"/><polygon points="997.9,1942.5 1000.7,1942.8 1067.3,1842.9 1065.1,1842.6" fill="#fac100"/><polygon points="1000.1,1942.8 1002.9,1943.1 1069.1,1843.1 1066.9,1842.8" fill="#f9b600"/><polygon points="1002.3,1943.1 1005.0,1943.4 1070.9,1843.3 1068.7,1843.0" fill="#f9bc00"/><polygon points="1004.5,1943.3 1007.2,1943.7 1072.7,1843.5 1070.5,1843.2" fill="#f59b01"/><polygon points="1006.6,1943.6 1009.4,1944.0 1074.5,1843.7 1072.3,1843.4" fill="#f7ad00"/><polygon points="1008.8,1943.9 1011.6,1944.3 1076.3,1843.9 1074.1,1843.6" fill="#f6a100"/><polygon points="1011.0,1944.2 1013.8,1944.6 1078.1,1844.1 1075.9,1843.8" fill="#f7a800"/><polygon points="1013.2,1944.5 1015.9,1944.9 1079.9,1844.3 1077.7,1844.0" fill="#fac500"/><polygon points="1015.4,1944.8 1018.1,1945.2 1081.7,1844.5 1079.5,1844.2" fill="#f9be00"/><polygon points="1017.6,1945.1 1020.3,1945.4 1083.6,1844.7 1081.3,1844.4" fill="#f49501"/><polygon points="1019.8,1945.4 1022.5,1945.7 1085.4,1844.9 1083.1,1844.6" fill="#f9bc00"/><polygon points="1022.0,1945.7 1024.7,1946.0 1087.2,1845.1 1084.9,1844.8" fill="#f9bd00"/><polygon points="1024.1,1945.9 1026.9,1946.3 1089.0,1845.3 1086.7,1845.0" fill="#f8b200"/><polygon points="1026.3,1946.2 1029.1,1946.6 1090.8,1845.5 1088.5,1845.2" fill="#f9bb00"/><polygon points="1028.5,1946.5 1031.3,1946.9 1092.6,1845.7 1090.3,1845.4" fill="#f7aa00"/><polygon points="1030.7,1946.8 1033.5,1947.2 1094.4,1845.9 1092.1,1845.6" fill="#f59901"/><polygon points="1032.9,1947.1 1035.7,1947.5 1096.3,1846.1 1094.0,1845.8" fill="#f69d00"/><polygon points="1035.1,1947.4 1037.9,1947.8 1098.1,1846.3 1095.8,1846.0" fill="#f9b600"/><polygon points="1037.4,1947.7 1040.1,1948.1 1099.9,1846.5 1097.6,1846.2" fill="#f9b700"/><polygon points="1039.6,1948.0 1042.3,1948.4 1101.7,1846.7 1099.4,1846.4" fill="#f7ac00"/><polygon points="1041.8,1948.3 1044.6,1948.7 1103.5,1846.9 1101.2,1846.6" fill="#fac100"/><polygon points="1044.0,1948.6 1046.8,1948.9 1105.4,1847.1 1103.1,1846.8" fill="#f9b700"/><polygon points="1046.2,1948.9 1049.0,1949.2 1107.2,1847.3 1104.9,1847.0" fill="#f28803"/><polygon points="1048.4,1949.2 1051.2,1949.5 1109.0,1847.5 1106.7,1847.2" fill="#f59b01"/><polygon points="1050.6,1949.5 1053.4,1949.8 1110.8,1847.7 1108.5,1847.4" fill="#f7a700"/><polygon points="1052.9,1949.8 1055.7,1950.1 1112.7,1847.9 1110.4,1847.6" fill="#f8b500"/><polygon points="1055.1,1950.1 1057.9,1950.4 1114.5,1848.1 1112.2,1847.8" fill="#f39002"/><polygon points="1057.3,1950.3 1060.1,1950.7 1116.3,1848.3 1114.0,1848.0" fill="#f7a900"/><polygon points="1059.5,1950.6 1062.3,1951.0 1118.2,1848.5 1115.9,1848.2" fill="#ee7406"/><polygon points="1061.8,1950.9 1064.6,1951.3 1120.0,1848.7 1117.7,1848.4" fill="#f59801"/><polygon points="1064.0,1951.2 1066.8,1951.6 1121.8,1848.9 1119.5,1848.6" fill="#f59b01"/><polygon points="1066.2,1951.5 1069.0,1951.9 1123.7,1849.1 1121.4,1848.8" fill="#fac600"/><polygon points="1068.5,1951.8 1071.3,1952.2 1125.5,1849.3 1123.2,1849.0" fill="#f6a100"/><polygon points="1070.7,1952.1 1073.5,1952.5 1127.3,1849.5 1125.0,1849.3" fill="#f7a700"/><polygon points="1072.9,1952.4 1075.8,1952.8 1129.2,1849.7 1126.9,1849.5" fill="#f59c01"/><polygon points="1075.2,1952.7 1078.0,1953.1 1131.0,1849.9 1128.7,1849.7" fill="#f7a800"/><polygon points="1077.4,1953.0 1080.2,1953.4 1132.9,1850.1 1130.6,1849.9" fill="#fbc700"/><polygon points="1079.7,1953.3 1082.5,1953.7 1134.7,1850.3 1132.4,1850.1" fill="#fbca00"/><polygon points="1081.9,1953.6 1084.7,1954.0 1136.6,1850.5 1134.2,1850.3" fill="#f9b800"/><polygon points="1084.2,1953.9 1087.0,1954.3 1138.4,1850.7 1136.1,1850.5" fill="#f9b600"/><polygon points="1086.4,1954.2 1089.3,1954.6 1140.3,1850.9 1137.9,1850.7" fill="#f59901"/><polygon points="1088.7,1954.5 1091.5,1954.9 1142.1,1851.1 1139.8,1850.9" fill="#f8af00"/><polygon points="1090.9,1954.8 1093.8,1955.2 1144.0,1851.3 1141.6,1851.1" fill="#f7a500"/><polygon points="1093.2,1955.1 1096.0,1955.5 1145.8,1851.5 1143.5,1851.3" fill="#f6a100"/><polygon points="1095.4,1955.4 1098.3,1955.8 1147.7,1851.8 1145.3,1851.5" fill="#f7aa00"/><g mask="url(#mH)"><polygon points="820.1,1918.9 822.6,1919.2 919.2,1826.5 917.1,1826.3" fill="#f7ac00"/><polygon points="822.1,1919.2 824.7,1919.5 920.9,1826.7 918.8,1826.5" fill="#f28903"/><polygon points="824.1,1919.4 826.7,1919.8 922.6,1826.9 920.5,1826.7" fill="#ed6c07"/><polygon points="826.2,1919.7 828.7,1920.0 924.3,1827.1 922.2,1826.9" fill="#f69d00"/><polygon points="828.2,1920.0 830.7,1920.3 926.0,1827.3 923.9,1827.0" fill="#f18204"/><polygon points="830.2,1920.2 832.7,1920.6 927.7,1827.5 925.6,1827.2" fill="#fddf00"/><polygon points="832.2,1920.5 834.8,1920.8 929.4,1827.7 927.3,1827.4" fill="#f6a100"/><polygon points="834.2,1920.8 836.8,1921.1 931.1,1827.8 928.9,1827.6" fill="#f49402"/><polygon points="836.3,1921.0 838.8,1921.4 932.8,1828.0 930.6,1827.8" fill="#f49502"/><polygon points="838.3,1921.3 840.9,1921.7 934.5,1828.2 932.3,1828.0" fill="#f59c01"/><polygon points="840.3,1921.6 842.9,1921.9 936.2,1828.4 934.0,1828.2" fill="#f18404"/><polygon points="842.4,1921.9 844.9,1922.2 937.9,1828.6 935.7,1828.4" fill="#f59c01"/><polygon points="844.4,1922.1 847.0,1922.5 939.6,1828.8 937.4,1828.5" fill="#f9b700"/><polygon points="846.4,1922.4 849.0,1922.7 941.3,1829.0 939.1,1828.7" fill="#f9bc00"/><polygon points="848.5,1922.7 851.1,1923.0 943.0,1829.2 940.9,1828.9" fill="#bdd00b"/><polygon points="850.5,1922.9 853.1,1923.3 944.7,1829.3 942.6,1829.1" fill="#6fb62b"/><polygon points="852.6,1923.2 855.1,1923.5 946.4,1829.5 944.3,1829.3" fill="#6fb62b"/><polygon points="854.6,1923.5 857.2,1923.8 948.1,1829.7 946.0,1829.5" fill="#6db52c"/><polygon points="856.7,1923.7 859.2,1924.1 949.8,1829.9 947.7,1829.7" fill="#6cb52c"/><polygon points="858.7,1924.0 861.3,1924.4 951.6,1830.1 949.4,1829.9" fill="#6ab432"/><polygon points="860.8,1924.3 863.3,1924.6 953.3,1830.3 951.1,1830.1" fill="#6ab42e"/><polygon points="862.8,1924.6 865.4,1924.9 955.0,1830.5 952.8,1830.2" fill="#6bb42d"/><polygon points="864.9,1924.8 867.5,1925.2 956.7,1830.7 954.5,1830.4" fill="#6bb42d"/><polygon points="866.9,1925.1 869.5,1925.4 958.4,1830.9 956.3,1830.6" fill="#6ab42e"/><polygon points="869.0,1925.4 871.6,1925.7 960.1,1831.1 958.0,1830.8" fill="#6eb52b"/><polygon points="871.0,1925.7 873.6,1926.0 961.9,1831.2 959.7,1831.0" fill="#6bb42e"/><polygon points="873.1,1925.9 875.7,1926.3 963.6,1831.4 961.4,1831.2" fill="#6cb52d"/><polygon points="875.2,1926.2 877.8,1926.5 965.3,1831.6 963.1,1831.4" fill="#6cb52d"/><polygon points="877.2,1926.5 879.8,1926.8 967.0,1831.8 964.8,1831.6" fill="#6eb52c"/><polygon points="879.3,1926.7 881.9,1927.1 968.7,1832.0 966.6,1831.8" fill="#6eb52b"/><polygon points="881.4,1927.0 884.0,1927.4 970.5,1832.2 968.3,1832.0" fill="#6eb52b"/><polygon points="883.4,1927.3 886.0,1927.6 972.2,1832.4 970.0,1832.1" fill="#6eb52c"/><polygon points="885.5,1927.6 888.1,1927.9 973.9,1832.6 971.7,1832.3" fill="#6fb62a"/><polygon points="887.6,1927.8 890.2,1928.2 975.7,1832.8 973.5,1832.5" fill="#71b629"/><polygon points="889.6,1928.1 892.3,1928.5 977.4,1833.0 975.2,1832.7" fill="#72b729"/><polygon points="891.7,1928.4 894.3,1928.7 979.1,1833.1 976.9,1832.9" fill="#99c419"/><polygon points="893.8,1928.7 896.4,1929.0 980.8,1833.3 978.7,1833.1" fill="#a6c814"/><polygon points="895.9,1928.9 898.5,1929.3 982.6,1833.5 980.4,1833.3" fill="#afcb10"/><polygon points="898.0,1929.2 900.6,1929.6 984.3,1833.7 982.1,1833.5" fill="#b3cc0e"/><polygon points="900.0,1929.5 902.7,1929.8 986.1,1833.9 983.9,1833.7" fill="#dede05"/><polygon points="902.1,1929.8 904.8,1930.1 987.8,1834.1 985.6,1833.9" fill="#c1d10a"/><polygon points="904.2,1930.1 906.9,1930.4 989.5,1834.3 987.3,1834.1" fill="#eee503"/><polygon points="906.3,1930.3 908.9,1930.7 991.3,1834.5 989.1,1834.2" fill="#fbeb01"/><polygon points="908.4,1930.6 911.0,1931.0 993.0,1834.7 990.8,1834.4" fill="#e7e204"/><polygon points="910.5,1930.9 913.1,1931.2 994.8,1834.9 992.6,1834.6" fill="#fee500"/><polygon points="912.6,1931.2 915.2,1931.5 996.5,1835.1 994.3,1834.8" fill="#fee500"/><polygon points="914.7,1931.4 917.3,1931.8 998.3,1835.3 996.1,1835.0" fill="#fee500"/><polygon points="916.8,1931.7 919.4,1932.1 1000.0,1835.5 997.8,1835.2" fill="#fbce00"/><polygon points="918.9,1932.0 921.5,1932.3 1001.7,1835.6 999.5,1835.4" fill="#f9ea01"/><polygon points="921.0,1932.3 923.6,1932.6 1003.5,1835.8 1001.3,1835.6" fill="#fddc00"/><polygon points="923.1,1932.6 925.7,1932.9 1005.2,1836.0 1003.0,1835.8" fill="#fac000"/><polygon points="925.2,1932.8 927.9,1933.2 1007.0,1836.2 1004.8,1836.0" fill="#fac500"/><polygon points="927.3,1933.1 930.0,1933.5 1008.8,1836.4 1006.5,1836.2" fill="#fee500"/><polygon points="929.4,1933.4 932.1,1933.7 1010.5,1836.6 1008.3,1836.4" fill="#fee100"/><polygon points="931.5,1933.7 934.2,1934.0 1012.3,1836.8 1010.1,1836.6" fill="#fcd500"/><polygon points="933.6,1934.0 936.3,1934.3 1014.0,1837.0 1011.8,1836.8" fill="#ffec00"/><polygon points="935.8,1934.2 938.4,1934.6 1015.8,1837.2 1013.6,1836.9" fill="#f9bb00"/><polygon points="937.9,1934.5 940.5,1934.9 1017.5,1837.4 1015.3,1837.1" fill="#fac200"/><polygon points="940.0,1934.8 942.7,1935.1 1019.3,1837.6 1017.1,1837.3" fill="#fddf00"/><polygon points="942.1,1935.1 944.8,1935.4 1021.1,1837.8 1018.8,1837.5" fill="#f9bb00"/><polygon points="944.2,1935.4 946.9,1935.7 1022.8,1838.0 1020.6,1837.7" fill="#fcd500"/><polygon points="946.4,1935.6 949.0,1936.0 1024.6,1838.2 1022.4,1837.9" fill="#f9bd00"/><polygon points="948.5,1935.9 951.2,1936.3 1026.4,1838.4 1024.1,1838.1" fill="#fabf00"/><polygon points="950.6,1936.2 953.3,1936.6 1028.1,1838.6 1025.9,1838.3" fill="#f7ab00"/><polygon points="952.8,1936.5 955.4,1936.8 1029.9,1838.8 1027.7,1838.5" fill="#f39102"/><polygon points="954.9,1936.8 957.6,1937.1 1031.7,1838.9 1029.4,1838.7" fill="#fddb00"/><polygon points="957.0,1937.1 959.7,1937.4 1033.4,1839.1 1031.2,1838.9" fill="#fbc800"/><polygon points="959.2,1937.3 961.8,1937.7 1035.2,1839.3 1033.0,1839.1" fill="#f8b000"/><polygon points="961.3,1937.6 964.0,1938.0 1037.0,1839.5 1034.7,1839.3" fill="#f59d00"/><polygon points="963.4,1937.9 966.1,1938.3 1038.8,1839.7 1036.5,1839.5" fill="#f59a01"/><polygon points="965.6,1938.2 968.3,1938.5 1040.5,1839.9 1038.3,1839.7" fill="#f6a400"/><polygon points="967.7,1938.5 970.4,1938.8 1042.3,1840.1 1040.1,1839.9" fill="#f38f02"/><polygon points="969.9,1938.8 972.6,1939.1 1044.1,1840.3 1041.8,1840.1" fill="#f7ac00"/><polygon points="972.0,1939.0 974.7,1939.4 1045.9,1840.5 1043.6,1840.3" fill="#f49402"/><polygon points="974.2,1939.3 976.9,1939.7 1047.7,1840.7 1045.4,1840.5" fill="#f59d00"/><polygon points="976.3,1939.6 979.0,1940.0 1049.4,1840.9 1047.2,1840.7" fill="#f8b400"/><polygon points="978.5,1939.9 981.2,1940.3 1051.2,1841.1 1049.0,1840.9" fill="#f9b700"/><polygon points="980.6,1940.2 983.3,1940.5 1053.0,1841.3 1050.8,1841.1" fill="#f7aa00"/><polygon points="982.8,1940.5 985.5,1940.8 1054.8,1841.5 1052.5,1841.3" fill="#fbcc00"/><polygon points="984.9,1940.8 987.7,1941.1 1056.6,1841.7 1054.3,1841.4" fill="#f6a300"/><polygon points="987.1,1941.0 989.8,1941.4 1058.4,1841.9 1056.1,1841.6" fill="#fcd600"/><polygon points="989.3,1941.3 992.0,1941.7 1060.2,1842.1 1057.9,1841.8" fill="#f6a300"/><polygon points="991.4,1941.6 994.2,1942.0 1062.0,1842.3 1059.7,1842.0" fill="#f9b700"/><polygon points="993.6,1941.9 996.3,1942.3 1063.7,1842.5 1061.5,1842.2" fill="#f59a01"/><polygon points="995.8,1942.2 998.5,1942.6 1065.5,1842.7 1063.3,1842.4" fill="#f8b200"/><polygon points="997.9,1942.5 1000.7,1942.8 1067.3,1842.9 1065.1,1842.6" fill="#f9b600"/><polygon points="1000.1,1942.8 1002.9,1943.1 1069.1,1843.1 1066.9,1842.8" fill="#f7ab00"/><polygon points="1002.3,1943.1 1005.0,1943.4 1070.9,1843.3 1068.7,1843.0" fill="#f8b200"/><polygon points="1004.5,1943.3 1007.2,1943.7 1072.7,1843.5 1070.5,1843.2" fill="#f39002"/><polygon points="1006.6,1943.6 1009.4,1944.0 1074.5,1843.7 1072.3,1843.4" fill="#f6a200"/><polygon points="1008.8,1943.9 1011.6,1944.3 1076.3,1843.9 1074.1,1843.6" fill="#f49601"/><polygon points="1011.0,1944.2 1013.8,1944.6 1078.1,1844.1 1075.9,1843.8" fill="#f69d00"/><polygon points="1013.2,1944.5 1015.9,1944.9 1079.9,1844.3 1077.7,1844.0" fill="#f9ba00"/><polygon points="1015.4,1944.8 1018.1,1945.2 1081.7,1844.5 1079.5,1844.2" fill="#f8b300"/><polygon points="1017.6,1945.1 1020.3,1945.4 1083.6,1844.7 1081.3,1844.4" fill="#f28b03"/><polygon points="1019.8,1945.4 1022.5,1945.7 1085.4,1844.9 1083.1,1844.6" fill="#f8b100"/><polygon points="1022.0,1945.7 1024.7,1946.0 1087.2,1845.1 1084.9,1844.8" fill="#f8b100"/><polygon points="1024.1,1945.9 1026.9,1946.3 1089.0,1845.3 1086.7,1845.0" fill="#f7a700"/><polygon points="1026.3,1946.2 1029.1,1946.6 1090.8,1845.5 1088.5,1845.2" fill="#f8b000"/><polygon points="1028.5,1946.5 1031.3,1946.9 1092.6,1845.7 1090.3,1845.4" fill="#f69e00"/><polygon points="1030.7,1946.8 1033.5,1947.2 1094.4,1845.9 1092.1,1845.6" fill="#f38e02"/><polygon points="1032.9,1947.1 1035.7,1947.5 1096.3,1846.1 1094.0,1845.8" fill="#f49202"/><polygon points="1035.1,1947.4 1037.9,1947.8 1098.1,1846.3 1095.8,1846.0" fill="#f7aa00"/><polygon points="1037.4,1947.7 1040.1,1948.1 1099.9,1846.5 1097.6,1846.2" fill="#f7ab00"/><polygon points="1039.6,1948.0 1042.3,1948.4 1101.7,1846.7 1099.4,1846.4" fill="#f6a000"/><polygon points="1041.8,1948.3 1044.6,1948.7 1103.5,1846.9 1101.2,1846.6" fill="#f9b600"/><polygon points="1044.0,1948.6 1046.8,1948.9 1105.4,1847.1 1103.1,1846.8" fill="#f7ac00"/><polygon points="1046.2,1948.9 1049.0,1949.2 1107.2,1847.3 1104.9,1847.0" fill="#f07d05"/><polygon points="1048.4,1949.2 1051.2,1949.5 1109.0,1847.5 1106.7,1847.2" fill="#f38f02"/><polygon points="1050.6,1949.5 1053.4,1949.8 1110.8,1847.7 1108.5,1847.4" fill="#f59b01"/><polygon points="1052.9,1949.8 1055.7,1950.1 1112.7,1847.9 1110.4,1847.6" fill="#f7a900"/><polygon points="1055.1,1950.1 1057.9,1950.4 1114.5,1848.1 1112.2,1847.8" fill="#f18404"/><polygon points="1057.3,1950.3 1060.1,1950.7 1116.3,1848.3 1114.0,1848.0" fill="#f69d00"/><polygon points="1059.5,1950.6 1062.3,1951.0 1118.2,1848.5 1115.9,1848.2" fill="#ec6908"/><polygon points="1061.8,1950.9 1064.6,1951.3 1120.0,1848.7 1117.7,1848.4" fill="#f38c03"/><polygon points="1064.0,1951.2 1066.8,1951.6 1121.8,1848.9 1119.5,1848.6" fill="#f39002"/><polygon points="1066.2,1951.5 1069.0,1951.9 1123.7,1849.1 1121.4,1848.8" fill="#f9ba00"/><polygon points="1068.5,1951.8 1071.3,1952.2 1125.5,1849.3 1123.2,1849.0" fill="#f49601"/><polygon points="1070.7,1952.1 1073.5,1952.5 1127.3,1849.5 1125.0,1849.3" fill="#f59b01"/><polygon points="1072.9,1952.4 1075.8,1952.8 1129.2,1849.7 1126.9,1849.5" fill="#f39002"/><polygon points="1075.2,1952.7 1078.0,1953.1 1131.0,1849.9 1128.7,1849.7" fill="#f59c01"/><polygon points="1077.4,1953.0 1080.2,1953.4 1132.9,1850.1 1130.6,1849.9" fill="#f9bb00"/><polygon points="1079.7,1953.3 1082.5,1953.7 1134.7,1850.3 1132.4,1850.1" fill="#f9be00"/><polygon points="1081.9,1953.6 1084.7,1954.0 1136.6,1850.5 1134.2,1850.3" fill="#f7ac00"/><polygon points="1084.2,1953.9 1087.0,1954.3 1138.4,1850.7 1136.1,1850.5" fill="#f7a900"/><polygon points="1086.4,1954.2 1089.3,1954.6 1140.3,1850.9 1137.9,1850.7" fill="#f38d03"/><polygon points="1088.7,1954.5 1091.5,1954.9 1142.1,1851.1 1139.8,1850.9" fill="#f6a200"/><polygon points="1090.9,1954.8 1093.8,1955.2 1144.0,1851.3 1141.6,1851.1" fill="#f59801"/><polygon points="1093.2,1955.1 1096.0,1955.5 1145.8,1851.5 1143.5,1851.3" fill="#f49502"/><polygon points="1095.4,1955.4 1098.3,1955.8 1147.7,1851.8 1145.3,1851.5" fill="#f69e00"/></g></g><polygon points="811.9,1684.8 812.2,1682.4 811.6,1679.6 812.7,1677.4 812.3,1676.5 814.3,1673.5 817.8,1673.1 820.8,1673.4 823.5,1670.3 824.3,1668.9 827.9,1668.6 828.7,1668.4 831.3,1666.2 833.1,1664.5 836.2,1665.0 837.1,1666.9 840.7,1664.6 841.6,1665.2 845.6,1665.7 847.4,1665.2 850.2,1663.8 852.5,1659.8 852.8,1662.7 856.4,1662.9 857.7,1661.8 860.2,1660.6 863.1,1659.5 865.6,1660.1 866.4,1658.5 869.2,1657.0 871.6,1656.9 872.6,1654.3 876.0,1654.2 878.1,1651.4 879.8,1645.9 881.6,1649.4 884.8,1649.7 887.2,1646.0 887.8,1646.6 891.9,1644.4 892.3,1644.5 895.7,1644.7 897.8,1643.4 899.0,1641.0 900.9,1640.5 903.4,1638.1 904.7,1636.3 907.5,1635.9 910.1,1620.2 912.7,1625.4 914.5,1607.9 917.1,1620.2 920.6,1613.2 924.1,1618.4 927.9,1600.1 931.0,1628.9 934.5,1639.4 935.4,1641.1 937.2,1667.3 938.0,1681.3 948.5,1688.3 962.5,1702.3 973.0,1716.2 969.5,1737.2 966.0,1754.7 962.5,1763.4 959.0,1737.2 956.4,1772.1 954.6,1814.1 953.8,1789.6 950.3,1759.9 946.8,1780.9 943.3,1807.1 941.9,1833.3 940.7,1815.8 938.0,1798.3 934.5,1780.9 931.0,1772.1 924.1,1759.9 921.7,1757.1 920.3,1756.4 917.7,1755.6 913.5,1755.2 911.1,1755.9 907.5,1754.9 906.8,1755.0 903.1,1755.3 901.5,1756.8 899.6,1758.1 896.4,1759.0 894.8,1761.2 893.2,1763.5 890.8,1765.8 889.4,1766.6 887.7,1769.9 885.2,1769.0 884.8,1773.5 881.6,1773.3 879.6,1774.1 879.6,1776.1 876.6,1780.5 876.0,1779.5 874.2,1783.0 872.7,1784.1 871.0,1787.7 869.6,1789.4 868.7,1790.9 866.2,1791.9 864.2,1794.5 861.2,1797.6 859.8,1797.2 857.9,1798.0 856.2,1800.7 853.9,1801.8 852.8,1805.0 849.3,1805.8 848.1,1807.1 846.3,1798.3 843.7,1772.1 841.1,1745.9 838.5,1719.7 835.0,1705.8 826.2,1698.8 815.8,1691.8" fill="url(#gHc)" filter="url(#b1)"/><polygon points="907.5,1639.4 910.1,1620.2 912.7,1625.4 914.5,1607.9 917.1,1620.2 920.6,1613.2 924.1,1618.4 927.9,1600.1 931.0,1628.9 934.5,1639.4 935.4,1649.9 917.1,1653.4" fill="url(#gHs)" filter="url(#b1)"/><g filter="url(#b1)"><polygon points="968.8,1719.7 973.2,1719.7 971.0,1768.6" fill="#6db52c"/><polygon points="980.2,1709.3 984.6,1709.3 982.4,1754.7" fill="#6db52c"/><polygon points="995.0,1702.3 999.4,1702.3 997.2,1737.2" fill="#6db52c"/><polygon points="1002.9,1702.3 1007.3,1702.3 1005.1,1761.7" fill="#6db52c"/><polygon points="1015.1,1695.3 1019.5,1695.3 1017.3,1730.2" fill="#6db52c"/><polygon points="1026.5,1705.8 1030.9,1705.8 1028.7,1733.7" fill="#6db52c"/><polygon points="1037.8,1712.8 1042.2,1712.8 1040.0,1745.9" fill="#6db52c"/><polygon points="1046.6,1705.8 1051.0,1705.8 1048.8,1732.0" fill="#6db52c"/><polygon points="1057.1,1702.3 1061.5,1702.3 1059.3,1737.2" fill="#6db52c"/><polygon points="1078.0,1712.8 1082.4,1712.8 1080.2,1733.7" fill="#6db52c"/><polygon points="1088.5,1705.8 1092.9,1705.8 1090.7,1728.5" fill="#6db52c"/><polygon points="1107.7,1691.8 1112.1,1691.8 1109.9,1712.8" fill="#6db52c"/><polygon points="1121.7,1674.3 1126.1,1674.3 1123.9,1702.3" fill="#6db52c"/><polygon points="1130.4,1667.3 1134.8,1667.3 1132.6,1711.0" fill="#6db52c"/><polygon points="1139.2,1660.3 1143.6,1660.3 1141.4,1747.7" fill="#6db52c"/><polygon points="1146.1,1655.1 1150.5,1655.1 1148.3,1725.0" fill="#6db52c"/><polygon points="1149.6,1651.6 1154.0,1651.6 1151.8,1702.3" fill="#6db52c"/><polygon points="882.1,1732.0 882.1,1730.9 883.5,1727.0 885.2,1725.3 886.4,1724.6 887.5,1722.4 889.0,1720.6 889.1,1716.0 891.6,1713.7 892.3,1711.1 894.1,1708.3 893.9,1708.2 896.6,1706.6 897.8,1703.6 899.1,1700.5 899.9,1698.5 902.6,1697.0 902.4,1696.4 903.5,1694.5 906.1,1689.3 906.6,1690.3 908.5,1687.0 910.4,1685.2 910.0,1682.6 912.6,1682.6 913.4,1682.6 917.5,1684.1 919.7,1683.0 921.1,1683.6 924.8,1684.8 926.2,1684.4 928.4,1686.9 931.6,1685.5 933.8,1685.2 935.2,1686.6 935.2,1681.3 949.2,1681.3 949.2,1681.3 952.7,1611.4 957.9,1649.9 973.7,1646.4 974.3,1632.6 974.9,1638.2 975.5,1640.0 976.2,1641.8 976.8,1639.0 977.4,1635.0 978.0,1633.0 978.7,1630.5 979.3,1630.9 979.9,1628.3 980.5,1627.4 981.2,1629.5 981.8,1619.3 982.4,1626.1 984.1,1625.0 985.9,1618.5 987.6,1626.2 989.4,1626.7 991.1,1626.6 992.9,1620.1 994.6,1620.6 996.4,1620.2 998.1,1626.9 999.9,1627.5 1001.5,1617.7 1003.0,1625.5 1004.6,1624.8 1006.2,1622.2 1007.8,1624.9 1009.4,1619.0 1011.0,1622.0 1012.6,1619.9 1014.2,1620.5 1015.7,1616.7 1017.3,1619.0 1019.1,1605.0 1020.8,1615.7 1022.6,1615.7 1024.3,1621.1 1026.1,1618.5 1027.8,1613.1 1029.6,1611.4 1031.3,1616.8 1033.1,1620.5 1034.8,1620.7 1036.6,1618.6 1038.3,1614.2 1040.0,1613.4 1041.8,1618.0 1043.5,1604.2 1045.3,1616.5 1047.0,1616.9 1048.8,1616.2 1050.5,1618.1 1052.3,1619.6 1054.0,1618.8 1055.8,1617.6 1057.5,1614.9 1059.3,1615.1 1061.0,1605.2 1062.8,1613.5 1064.5,1613.9 1066.2,1616.2 1068.0,1617.5 1069.7,1609.5 1071.6,1617.8 1073.4,1614.2 1075.3,1614.2 1077.1,1616.8 1078.9,1614.5 1080.8,1617.3 1082.6,1607.1 1084.4,1610.1 1086.3,1612.8 1088.1,1606.9 1090.0,1613.2 1091.8,1616.4 1093.6,1616.1 1095.5,1615.6 1097.3,1613.7 1099.2,1603.9 1101.0,1614.7 1102.8,1614.9 1104.7,1615.3 1106.5,1611.5 1108.3,1605.2 1110.2,1612.0 1112.0,1606.2 1113.9,1613.0 1115.7,1605.0 1117.5,1612.9 1119.4,1613.9 1121.2,1611.6 1123.1,1614.2 1124.9,1615.2 1126.7,1617.0 1128.6,1609.7 1130.4,1607.2 1132.3,1614.5 1134.1,1612.1 1135.9,1613.7 1137.8,1614.5 1139.6,1613.6 1141.1,1615.3 1142.6,1613.8 1144.1,1619.7 1145.5,1619.5 1147.0,1617.3 1148.5,1617.6 1150.0,1621.1 1151.5,1623.0 1153.0,1616.6 1154.5,1620.2 1154.5,1658.6 1152.3,1659.2 1150.5,1660.3 1146.9,1662.0 1145.5,1665.2 1142.5,1666.1 1140.4,1667.4 1137.6,1668.5 1134.5,1671.6 1130.9,1673.1 1129.5,1675.5 1127.0,1677.7 1125.1,1680.6 1121.5,1681.7 1121.3,1683.4 1117.4,1685.5 1115.5,1687.9 1114.8,1691.6 1113.5,1692.1 1110.1,1695.2 1107.7,1698.8 1106.4,1699.2 1104.3,1703.4 1101.4,1704.4 1099.3,1705.5 1097.9,1708.9 1093.8,1711.1 1091.4,1712.1 1089.3,1715.0 1088.0,1717.7 1083.9,1718.6 1082.0,1719.9 1079.6,1718.6 1076.7,1719.8 1072.1,1721.5 1069.7,1723.2 1052.3,1705.2 1050.5,1708.7 1048.8,1710.8 1047.0,1710.4 1045.3,1710.0 1043.5,1710.8 1041.8,1714.1 1040.0,1718.0 1038.3,1717.9 1036.6,1720.9 1034.8,1721.8 1033.2,1719.9 1031.6,1718.4 1030.0,1713.3 1028.5,1713.8 1026.9,1711.7 1025.3,1709.5 1023.7,1710.8 1022.1,1707.4 1020.5,1706.9 1018.9,1705.0 1017.3,1701.6 1015.2,1703.2 1013.0,1703.1 1010.8,1703.5 1008.6,1705.0 1006.4,1704.1 1004.2,1703.0 1002.1,1706.9 999.9,1707.3 997.9,1705.0 996.0,1707.8 994.0,1709.7 992.1,1706.9 990.2,1710.6 988.2,1710.8 986.3,1712.9 984.3,1712.8 982.4,1713.9 980.7,1715.5 978.9,1717.7 977.2,1718.0 975.4,1718.2 973.7,1719.3 971.9,1723.1 970.2,1722.6 968.4,1724.3 966.7,1727.6 964.9,1726.6 963.0,1724.4 961.1,1726.2 959.1,1726.7 957.2,1725.7 955.2,1722.3 953.3,1722.0 951.3,1720.1 949.4,1723.3 947.5,1718.7 945.3,1722.8 943.2,1721.4 941.0,1723.2 938.9,1722.8 936.7,1723.0 934.5,1724.2 932.8,1724.5 931.0,1722.9 929.3,1719.0 927.6,1720.3 925.8,1715.9 924.1,1716.5 922.3,1716.3 920.6,1712.2 918.8,1712.2 917.1,1707.9 915.1,1710.0 913.2,1709.6 911.3,1714.5 909.3,1715.1 907.4,1713.6 905.4,1715.9 903.5,1714.2 901.5,1714.1 899.6,1714.6 898.0,1719.4 896.4,1720.0 894.8,1723.6 893.3,1721.2 891.7,1723.2 890.1,1728.5 888.5,1728.8 886.9,1729.9 885.3,1729.7 883.7,1732.7 882.1,1734.6" fill="url(#gHf)"/><g clip-path="url(#cHf)"><polyline points="998.1,1667.3 1021.9,1677.8 1056.8,1686.6 1091.7,1674.3 1117.9,1663.8 1144.1,1646.4" fill="none" stroke="#e8470e" stroke-width="10" stroke-opacity="0.55" filter="url(#b4)"/><polyline points="969.5,1667.3 1004.4,1655.1 1039.3,1656.9 1091.7,1646.4 1144.1,1637.6" fill="none" stroke="#f9b000" stroke-width="9" stroke-opacity="0.6" filter="url(#b4)"/><polyline points="882.1,1733.7 899.6,1718.0 917.1,1711.0 934.5,1723.2 947.5,1721.5 964.9,1728.5 982.4,1714.5 999.9,1707.5 1017.3,1704.0 1034.8,1719.7" fill="none" stroke="#ffe600" stroke-width="12" stroke-opacity="0.9" filter="url(#b4)"/><polyline points="935.2,1684.8 949.2,1684.8 962.5,1670.8 978.2,1658.6" fill="none" stroke="#ffe600" stroke-width="9" stroke-opacity="0.8" filter="url(#b4)"/><polyline points="952.0,1653.4 957.2,1670.8 966.0,1663.8" fill="none" stroke="#c4d200" stroke-width="10" stroke-opacity="0.7" filter="url(#b4)"/></g><g clip-path="url(#cHf)"><line x1="923.7" y1="1631.6" x2="923.8" y2="1658.1" stroke="#ffd500" stroke-width="1.5" stroke-opacity="0.39"/><line x1="1071.9" y1="1703.5" x2="1072.7" y2="1731.5" stroke="#ea5b0c" stroke-width="1.0" stroke-opacity="0.43"/><line x1="1106.6" y1="1665.2" x2="1105.7" y2="1692.8" stroke="#f39200" stroke-width="1.0" stroke-opacity="0.26"/><line x1="1032.4" y1="1629.2" x2="1032.0" y2="1637.9" stroke="#e8470e" stroke-width="1.5" stroke-opacity="0.47"/><line x1="999.9" y1="1716.5" x2="1000.2" y2="1740.8" stroke="#ee7203" stroke-width="0.9" stroke-opacity="0.30"/><line x1="936.7" y1="1678.2" x2="936.9" y2="1696.8" stroke="#ffd500" stroke-width="0.7" stroke-opacity="0.29"/><line x1="960.8" y1="1717.4" x2="959.8" y2="1732.9" stroke="#e8470e" stroke-width="1.8" stroke-opacity="0.34"/><line x1="1138.1" y1="1719.5" x2="1138.2" y2="1728.8" stroke="#ea5b0c" stroke-width="1.6" stroke-opacity="0.44"/><line x1="966.3" y1="1665.1" x2="965.9" y2="1686.9" stroke="#e8470e" stroke-width="1.0" stroke-opacity="0.46"/><line x1="1121.6" y1="1657.8" x2="1122.2" y2="1672.5" stroke="#e8470e" stroke-width="1.0" stroke-opacity="0.30"/><line x1="1058.3" y1="1630.5" x2="1057.4" y2="1660.0" stroke="#ffd500" stroke-width="1.4" stroke-opacity="0.31"/><line x1="944.6" y1="1704.4" x2="943.9" y2="1729.7" stroke="#e8470e" stroke-width="1.0" stroke-opacity="0.38"/><line x1="972.1" y1="1616.6" x2="971.5" y2="1641.4" stroke="#ffd500" stroke-width="0.9" stroke-opacity="0.48"/><line x1="1050.2" y1="1624.4" x2="1049.2" y2="1652.5" stroke="#ee7203" stroke-width="0.9" stroke-opacity="0.44"/><line x1="944.2" y1="1711.5" x2="943.9" y2="1732.2" stroke="#ffd500" stroke-width="0.8" stroke-opacity="0.38"/><line x1="1057.8" y1="1682.9" x2="1058.2" y2="1700.0" stroke="#ffd500" stroke-width="1.7" stroke-opacity="0.39"/><line x1="1132.9" y1="1636.1" x2="1132.7" y2="1647.5" stroke="#ffd500" stroke-width="1.4" stroke-opacity="0.38"/><line x1="1016.2" y1="1697.4" x2="1015.8" y2="1709.3" stroke="#e8470e" stroke-width="1.2" stroke-opacity="0.45"/><line x1="976.2" y1="1703.3" x2="976.7" y2="1727.1" stroke="#ea5b0c" stroke-width="1.2" stroke-opacity="0.34"/><line x1="1118.2" y1="1697.9" x2="1117.5" y2="1709.9" stroke="#f39200" stroke-width="0.8" stroke-opacity="0.40"/><line x1="1129.1" y1="1619.6" x2="1128.4" y2="1634.1" stroke="#e8470e" stroke-width="1.4" stroke-opacity="0.33"/><line x1="1032.6" y1="1648.2" x2="1032.9" y2="1675.1" stroke="#ee7203" stroke-width="1.3" stroke-opacity="0.38"/><line x1="964.2" y1="1709.9" x2="964.4" y2="1734.3" stroke="#f39200" stroke-width="1.3" stroke-opacity="0.47"/><line x1="1088.2" y1="1651.7" x2="1087.3" y2="1678.1" stroke="#ea5b0c" stroke-width="1.4" stroke-opacity="0.44"/><line x1="940.7" y1="1693.5" x2="940.4" y2="1718.2" stroke="#e8470e" stroke-width="0.8" stroke-opacity="0.38"/><line x1="998.0" y1="1639.3" x2="997.8" y2="1652.6" stroke="#ea5b0c" stroke-width="1.3" stroke-opacity="0.42"/><line x1="1003.5" y1="1713.6" x2="1004.4" y2="1735.6" stroke="#ee7203" stroke-width="1.3" stroke-opacity="0.49"/><line x1="1099.3" y1="1657.3" x2="1099.7" y2="1667.6" stroke="#ffd500" stroke-width="1.1" stroke-opacity="0.26"/><line x1="1024.8" y1="1615.2" x2="1025.3" y2="1640.4" stroke="#ee7203" stroke-width="1.4" stroke-opacity="0.50"/><line x1="886.5" y1="1638.9" x2="886.1" y2="1667.8" stroke="#e8470e" stroke-width="0.8" stroke-opacity="0.21"/><line x1="1045.7" y1="1691.6" x2="1045.9" y2="1708.8" stroke="#f39200" stroke-width="1.5" stroke-opacity="0.39"/><line x1="928.8" y1="1629.1" x2="928.2" y2="1658.9" stroke="#e8470e" stroke-width="1.2" stroke-opacity="0.43"/><line x1="982.3" y1="1672.4" x2="983.2" y2="1695.6" stroke="#f39200" stroke-width="1.2" stroke-opacity="0.25"/><line x1="1075.9" y1="1644.9" x2="1076.0" y2="1663.3" stroke="#ee7203" stroke-width="1.5" stroke-opacity="0.46"/><line x1="888.8" y1="1682.9" x2="888.5" y2="1695.2" stroke="#ffd500" stroke-width="1.7" stroke-opacity="0.45"/><line x1="1020.7" y1="1665.3" x2="1020.4" y2="1680.2" stroke="#ffd500" stroke-width="1.5" stroke-opacity="0.29"/><line x1="925.5" y1="1641.6" x2="925.4" y2="1665.5" stroke="#ea5b0c" stroke-width="1.5" stroke-opacity="0.37"/><line x1="1023.2" y1="1697.9" x2="1022.4" y2="1719.7" stroke="#ea5b0c" stroke-width="1.1" stroke-opacity="0.44"/><line x1="1122.8" y1="1664.1" x2="1123.5" y2="1672.2" stroke="#ee7203" stroke-width="0.8" stroke-opacity="0.43"/><line x1="956.5" y1="1682.6" x2="956.5" y2="1710.0" stroke="#ea5b0c" stroke-width="0.7" stroke-opacity="0.42"/><line x1="890.1" y1="1684.4" x2="891.1" y2="1692.7" stroke="#ee7203" stroke-width="1.5" stroke-opacity="0.21"/><line x1="1133.5" y1="1654.6" x2="1134.2" y2="1679.2" stroke="#e8470e" stroke-width="1.2" stroke-opacity="0.23"/><line x1="1108.7" y1="1661.2" x2="1107.9" y2="1674.4" stroke="#ffd500" stroke-width="1.0" stroke-opacity="0.25"/><line x1="1130.3" y1="1672.5" x2="1130.6" y2="1691.8" stroke="#ee7203" stroke-width="1.0" stroke-opacity="0.29"/><line x1="948.3" y1="1634.6" x2="947.8" y2="1647.5" stroke="#ea5b0c" stroke-width="1.5" stroke-opacity="0.22"/><line x1="1095.4" y1="1700.1" x2="1096.1" y2="1724.8" stroke="#ee7203" stroke-width="1.8" stroke-opacity="0.42"/><line x1="918.8" y1="1718.6" x2="918.1" y2="1730.2" stroke="#ea5b0c" stroke-width="1.2" stroke-opacity="0.43"/><line x1="1120.4" y1="1638.1" x2="1120.2" y2="1659.4" stroke="#f39200" stroke-width="1.2" stroke-opacity="0.39"/><line x1="1079.9" y1="1634.9" x2="1080.8" y2="1645.1" stroke="#ffd500" stroke-width="1.6" stroke-opacity="0.44"/><line x1="979.6" y1="1650.6" x2="978.6" y2="1676.5" stroke="#f39200" stroke-width="1.3" stroke-opacity="0.44"/><line x1="1142.6" y1="1704.4" x2="1143.4" y2="1722.4" stroke="#f39200" stroke-width="1.1" stroke-opacity="0.28"/><line x1="1033.7" y1="1694.7" x2="1033.4" y2="1723.3" stroke="#f39200" stroke-width="1.4" stroke-opacity="0.21"/><line x1="926.1" y1="1649.6" x2="925.4" y2="1676.6" stroke="#ea5b0c" stroke-width="0.7" stroke-opacity="0.36"/><line x1="1089.1" y1="1615.1" x2="1089.9" y2="1642.0" stroke="#e8470e" stroke-width="1.4" stroke-opacity="0.41"/><line x1="947.3" y1="1668.7" x2="946.4" y2="1696.2" stroke="#ffd500" stroke-width="1.6" stroke-opacity="0.45"/><line x1="1114.8" y1="1620.8" x2="1114.7" y2="1648.5" stroke="#ee7203" stroke-width="1.3" stroke-opacity="0.45"/><line x1="1069.2" y1="1614.6" x2="1070.0" y2="1635.8" stroke="#f39200" stroke-width="1.5" stroke-opacity="0.32"/><line x1="903.6" y1="1702.8" x2="903.9" y2="1712.7" stroke="#ffd500" stroke-width="1.7" stroke-opacity="0.34"/><line x1="1027.6" y1="1708.3" x2="1028.1" y2="1716.4" stroke="#ee7203" stroke-width="1.2" stroke-opacity="0.27"/><line x1="983.7" y1="1671.2" x2="983.0" y2="1685.5" stroke="#f39200" stroke-width="1.4" stroke-opacity="0.31"/><line x1="921.3" y1="1675.9" x2="921.4" y2="1687.2" stroke="#ee7203" stroke-width="1.3" stroke-opacity="0.26"/><line x1="1048.7" y1="1675.1" x2="1049.4" y2="1697.2" stroke="#ee7203" stroke-width="1.5" stroke-opacity="0.29"/><line x1="1030.7" y1="1642.6" x2="1031.3" y2="1655.5" stroke="#ffd500" stroke-width="1.5" stroke-opacity="0.40"/><line x1="951.7" y1="1640.5" x2="951.5" y2="1654.9" stroke="#f39200" stroke-width="1.7" stroke-opacity="0.22"/><line x1="946.7" y1="1708.2" x2="945.7" y2="1729.8" stroke="#e8470e" stroke-width="1.0" stroke-opacity="0.23"/><line x1="1090.4" y1="1661.0" x2="1090.2" y2="1677.0" stroke="#e8470e" stroke-width="1.6" stroke-opacity="0.42"/><line x1="1135.2" y1="1663.0" x2="1134.2" y2="1676.4" stroke="#e8470e" stroke-width="1.7" stroke-opacity="0.37"/><line x1="1085.2" y1="1671.0" x2="1084.2" y2="1697.2" stroke="#f39200" stroke-width="1.2" stroke-opacity="0.48"/><line x1="952.5" y1="1631.2" x2="952.3" y2="1659.2" stroke="#f39200" stroke-width="1.3" stroke-opacity="0.40"/><line x1="957.7" y1="1692.1" x2="958.1" y2="1704.6" stroke="#f39200" stroke-width="1.7" stroke-opacity="0.34"/><line x1="906.5" y1="1627.4" x2="906.8" y2="1640.3" stroke="#ee7203" stroke-width="1.8" stroke-opacity="0.31"/><line x1="947.9" y1="1664.6" x2="947.1" y2="1676.0" stroke="#f39200" stroke-width="0.9" stroke-opacity="0.31"/><line x1="1125.6" y1="1664.9" x2="1125.2" y2="1674.4" stroke="#ee7203" stroke-width="1.6" stroke-opacity="0.48"/><line x1="918.2" y1="1711.2" x2="917.9" y2="1738.2" stroke="#f39200" stroke-width="1.4" stroke-opacity="0.20"/><line x1="1038.1" y1="1617.7" x2="1038.3" y2="1643.3" stroke="#e8470e" stroke-width="1.1" stroke-opacity="0.36"/><line x1="1136.0" y1="1714.3" x2="1136.8" y2="1723.8" stroke="#ee7203" stroke-width="1.5" stroke-opacity="0.25"/><line x1="925.8" y1="1713.1" x2="925.0" y2="1732.5" stroke="#ea5b0c" stroke-width="1.4" stroke-opacity="0.28"/><line x1="1089.1" y1="1649.7" x2="1088.5" y2="1667.6" stroke="#ea5b0c" stroke-width="1.1" stroke-opacity="0.26"/><line x1="948.6" y1="1706.6" x2="949.6" y2="1732.4" stroke="#ffd500" stroke-width="1.7" stroke-opacity="0.27"/><line x1="1147.4" y1="1628.7" x2="1146.9" y2="1648.4" stroke="#f39200" stroke-width="0.7" stroke-opacity="0.33"/><line x1="1050.2" y1="1644.2" x2="1050.8" y2="1656.7" stroke="#ea5b0c" stroke-width="1.5" stroke-opacity="0.47"/><line x1="1132.3" y1="1684.4" x2="1132.9" y2="1708.3" stroke="#e8470e" stroke-width="1.6" stroke-opacity="0.46"/><line x1="1050.2" y1="1657.4" x2="1051.1" y2="1674.3" stroke="#e8470e" stroke-width="1.3" stroke-opacity="0.41"/><line x1="897.8" y1="1687.0" x2="897.7" y2="1707.6" stroke="#ee7203" stroke-width="1.0" stroke-opacity="0.49"/><line x1="942.2" y1="1692.7" x2="941.4" y2="1706.1" stroke="#f39200" stroke-width="1.1" stroke-opacity="0.38"/><line x1="936.8" y1="1650.8" x2="936.8" y2="1672.5" stroke="#f39200" stroke-width="1.0" stroke-opacity="0.47"/><line x1="1038.6" y1="1634.2" x2="1038.1" y2="1647.5" stroke="#f39200" stroke-width="1.5" stroke-opacity="0.32"/><line x1="908.7" y1="1622.4" x2="908.3" y2="1645.6" stroke="#ea5b0c" stroke-width="1.4" stroke-opacity="0.41"/><line x1="941.5" y1="1645.0" x2="941.9" y2="1656.2" stroke="#ffd500" stroke-width="0.9" stroke-opacity="0.24"/><line x1="1003.9" y1="1676.1" x2="1003.0" y2="1691.6" stroke="#ffd500" stroke-width="0.8" stroke-opacity="0.44"/><line x1="959.9" y1="1667.8" x2="960.0" y2="1694.5" stroke="#ffd500" stroke-width="1.3" stroke-opacity="0.23"/><line x1="941.8" y1="1701.3" x2="942.7" y2="1713.8" stroke="#ea5b0c" stroke-width="1.4" stroke-opacity="0.36"/><line x1="975.4" y1="1671.7" x2="974.5" y2="1699.0" stroke="#ffd500" stroke-width="1.4" stroke-opacity="0.35"/><line x1="1005.7" y1="1709.8" x2="1004.8" y2="1718.0" stroke="#e8470e" stroke-width="1.6" stroke-opacity="0.25"/><line x1="914.5" y1="1708.3" x2="913.9" y2="1726.5" stroke="#ea5b0c" stroke-width="1.1" stroke-opacity="0.46"/><line x1="966.3" y1="1694.4" x2="965.4" y2="1721.5" stroke="#e8470e" stroke-width="1.1" stroke-opacity="0.23"/><line x1="914.2" y1="1621.5" x2="913.5" y2="1634.0" stroke="#ffd500" stroke-width="1.4" stroke-opacity="0.39"/><line x1="1062.6" y1="1696.5" x2="1062.7" y2="1715.6" stroke="#f39200" stroke-width="1.6" stroke-opacity="0.42"/><line x1="887.6" y1="1653.1" x2="888.2" y2="1680.2" stroke="#f39200" stroke-width="1.4" stroke-opacity="0.31"/><line x1="962.0" y1="1649.7" x2="963.0" y2="1672.6" stroke="#e8470e" stroke-width="1.7" stroke-opacity="0.48"/><line x1="1054.8" y1="1684.5" x2="1053.8" y2="1694.9" stroke="#f39200" stroke-width="1.3" stroke-opacity="0.20"/><line x1="1090.5" y1="1634.9" x2="1090.0" y2="1649.0" stroke="#ffd500" stroke-width="1.0" stroke-opacity="0.37"/><line x1="1004.9" y1="1708.1" x2="1005.2" y2="1730.4" stroke="#ea5b0c" stroke-width="1.7" stroke-opacity="0.38"/><line x1="1048.8" y1="1654.2" x2="1049.2" y2="1670.9" stroke="#f39200" stroke-width="0.9" stroke-opacity="0.38"/><line x1="1148.9" y1="1669.6" x2="1149.0" y2="1694.0" stroke="#e8470e" stroke-width="1.8" stroke-opacity="0.30"/><line x1="1117.1" y1="1698.7" x2="1116.7" y2="1720.7" stroke="#ee7203" stroke-width="1.5" stroke-opacity="0.24"/><line x1="1051.1" y1="1631.1" x2="1051.9" y2="1639.7" stroke="#e8470e" stroke-width="1.8" stroke-opacity="0.21"/><line x1="972.4" y1="1663.6" x2="972.1" y2="1685.1" stroke="#f39200" stroke-width="1.6" stroke-opacity="0.34"/><line x1="1142.6" y1="1701.7" x2="1141.8" y2="1726.6" stroke="#e8470e" stroke-width="1.8" stroke-opacity="0.32"/><line x1="938.2" y1="1661.9" x2="937.8" y2="1684.6" stroke="#ffd500" stroke-width="1.0" stroke-opacity="0.46"/><line x1="1042.1" y1="1660.9" x2="1042.6" y2="1670.2" stroke="#ea5b0c" stroke-width="0.7" stroke-opacity="0.35"/><line x1="925.7" y1="1672.4" x2="926.3" y2="1686.9" stroke="#f39200" stroke-width="1.5" stroke-opacity="0.21"/><line x1="1065.5" y1="1692.2" x2="1064.8" y2="1719.6" stroke="#e8470e" stroke-width="0.8" stroke-opacity="0.36"/><line x1="1144.0" y1="1665.5" x2="1143.9" y2="1679.7" stroke="#ea5b0c" stroke-width="1.7" stroke-opacity="0.46"/><line x1="1040.7" y1="1630.5" x2="1041.4" y2="1646.5" stroke="#e8470e" stroke-width="1.3" stroke-opacity="0.22"/><line x1="927.4" y1="1701.6" x2="928.4" y2="1729.6" stroke="#ee7203" stroke-width="1.5" stroke-opacity="0.48"/><line x1="911.1" y1="1619.7" x2="911.5" y2="1636.5" stroke="#ea5b0c" stroke-width="1.0" stroke-opacity="0.34"/><line x1="1029.2" y1="1653.3" x2="1028.7" y2="1675.5" stroke="#ee7203" stroke-width="1.2" stroke-opacity="0.35"/><line x1="1138.1" y1="1674.1" x2="1137.8" y2="1693.3" stroke="#ee7203" stroke-width="1.5" stroke-opacity="0.21"/><line x1="952.9" y1="1700.5" x2="952.9" y2="1720.8" stroke="#ee7203" stroke-width="1.6" stroke-opacity="0.45"/><line x1="934.3" y1="1638.4" x2="934.3" y2="1652.4" stroke="#ea5b0c" stroke-width="1.5" stroke-opacity="0.24"/><line x1="1088.6" y1="1655.7" x2="1088.4" y2="1680.5" stroke="#ee7203" stroke-width="1.4" stroke-opacity="0.40"/><line x1="927.5" y1="1691.6" x2="928.0" y2="1718.2" stroke="#e8470e" stroke-width="1.7" stroke-opacity="0.42"/><line x1="905.5" y1="1672.8" x2="905.9" y2="1690.3" stroke="#f39200" stroke-width="1.3" stroke-opacity="0.22"/><line x1="990.0" y1="1659.2" x2="990.3" y2="1675.3" stroke="#e8470e" stroke-width="1.7" stroke-opacity="0.38"/><line x1="1063.9" y1="1673.5" x2="1064.1" y2="1689.8" stroke="#ffd500" stroke-width="1.2" stroke-opacity="0.40"/><line x1="1098.2" y1="1720.2" x2="1098.7" y2="1729.5" stroke="#e8470e" stroke-width="1.0" stroke-opacity="0.46"/><line x1="958.1" y1="1652.2" x2="957.6" y2="1663.3" stroke="#e8470e" stroke-width="1.0" stroke-opacity="0.43"/><line x1="1075.7" y1="1646.9" x2="1076.0" y2="1668.6" stroke="#f39200" stroke-width="1.6" stroke-opacity="0.24"/><line x1="954.5" y1="1632.7" x2="955.2" y2="1644.7" stroke="#ffd500" stroke-width="1.7" stroke-opacity="0.33"/><line x1="996.8" y1="1708.1" x2="997.4" y2="1720.0" stroke="#ffd500" stroke-width="1.0" stroke-opacity="0.40"/><line x1="912.9" y1="1611.9" x2="913.2" y2="1641.1" stroke="#f39200" stroke-width="1.3" stroke-opacity="0.28"/><line x1="917.7" y1="1628.2" x2="918.2" y2="1652.3" stroke="#f39200" stroke-width="1.6" stroke-opacity="0.36"/><line x1="885.7" y1="1656.7" x2="886.0" y2="1680.0" stroke="#ee7203" stroke-width="1.5" stroke-opacity="0.49"/><line x1="1134.1" y1="1650.1" x2="1135.0" y2="1664.6" stroke="#ea5b0c" stroke-width="1.2" stroke-opacity="0.33"/><line x1="1137.1" y1="1698.8" x2="1137.4" y2="1707.4" stroke="#ffd500" stroke-width="0.7" stroke-opacity="0.40"/><line x1="1008.0" y1="1629.2" x2="1008.7" y2="1639.3" stroke="#ee7203" stroke-width="1.4" stroke-opacity="0.31"/><line x1="1124.7" y1="1630.2" x2="1125.1" y2="1650.4" stroke="#e8470e" stroke-width="1.3" stroke-opacity="0.26"/><line x1="1133.9" y1="1642.1" x2="1133.0" y2="1668.9" stroke="#ea5b0c" stroke-width="1.5" stroke-opacity="0.29"/><line x1="1050.2" y1="1640.3" x2="1049.5" y2="1665.9" stroke="#ee7203" stroke-width="1.4" stroke-opacity="0.26"/><line x1="958.1" y1="1666.8" x2="957.2" y2="1696.3" stroke="#ea5b0c" stroke-width="1.5" stroke-opacity="0.41"/><line x1="966.1" y1="1631.8" x2="965.9" y2="1648.5" stroke="#ee7203" stroke-width="1.6" stroke-opacity="0.26"/><line x1="1070.9" y1="1629.0" x2="1070.0" y2="1638.2" stroke="#ee7203" stroke-width="1.2" stroke-opacity="0.22"/><line x1="1132.3" y1="1690.1" x2="1132.4" y2="1719.6" stroke="#ffd500" stroke-width="1.3" stroke-opacity="0.43"/><line x1="952.1" y1="1697.9" x2="952.1" y2="1710.9" stroke="#ea5b0c" stroke-width="1.4" stroke-opacity="0.40"/><line x1="921.8" y1="1683.2" x2="921.4" y2="1695.4" stroke="#ee7203" stroke-width="1.1" stroke-opacity="0.22"/><line x1="899.0" y1="1612.6" x2="898.8" y2="1639.7" stroke="#e8470e" stroke-width="1.1" stroke-opacity="0.26"/><line x1="894.2" y1="1617.2" x2="894.5" y2="1637.1" stroke="#ffd500" stroke-width="0.9" stroke-opacity="0.20"/><line x1="1117.3" y1="1631.9" x2="1118.2" y2="1654.6" stroke="#e8470e" stroke-width="1.4" stroke-opacity="0.46"/><line x1="926.9" y1="1700.3" x2="927.9" y2="1723.3" stroke="#e8470e" stroke-width="0.9" stroke-opacity="0.46"/><line x1="952.4" y1="1664.9" x2="952.4" y2="1694.3" stroke="#f39200" stroke-width="0.9" stroke-opacity="0.36"/><line x1="1057.5" y1="1684.1" x2="1057.9" y2="1693.0" stroke="#e8470e" stroke-width="1.3" stroke-opacity="0.28"/><line x1="1044.1" y1="1612.5" x2="1043.3" y2="1638.4" stroke="#ee7203" stroke-width="0.7" stroke-opacity="0.34"/><line x1="1025.9" y1="1681.3" x2="1025.2" y2="1689.6" stroke="#ee7203" stroke-width="1.2" stroke-opacity="0.43"/><line x1="1001.1" y1="1649.0" x2="1000.9" y2="1657.1" stroke="#ea5b0c" stroke-width="1.2" stroke-opacity="0.22"/><line x1="972.7" y1="1651.8" x2="973.0" y2="1665.3" stroke="#f39200" stroke-width="1.8" stroke-opacity="0.28"/><line x1="896.8" y1="1692.7" x2="896.3" y2="1713.1" stroke="#e8470e" stroke-width="0.7" stroke-opacity="0.38"/><line x1="921.1" y1="1658.2" x2="921.3" y2="1670.2" stroke="#f39200" stroke-width="0.9" stroke-opacity="0.34"/><line x1="990.6" y1="1657.6" x2="990.6" y2="1672.8" stroke="#f39200" stroke-width="1.6" stroke-opacity="0.38"/><line x1="1069.1" y1="1648.7" x2="1068.4" y2="1674.5" stroke="#ea5b0c" stroke-width="1.5" stroke-opacity="0.26"/><line x1="1140.7" y1="1679.3" x2="1141.1" y2="1698.6" stroke="#ffd500" stroke-width="1.2" stroke-opacity="0.25"/><line x1="958.8" y1="1673.3" x2="959.7" y2="1682.6" stroke="#f39200" stroke-width="1.3" stroke-opacity="0.39"/><line x1="886.1" y1="1702.6" x2="885.6" y2="1714.2" stroke="#e8470e" stroke-width="1.6" stroke-opacity="0.31"/><line x1="917.9" y1="1706.5" x2="917.9" y2="1717.0" stroke="#ea5b0c" stroke-width="1.6" stroke-opacity="0.43"/><line x1="1094.5" y1="1706.1" x2="1094.3" y2="1729.1" stroke="#ffd500" stroke-width="1.3" stroke-opacity="0.34"/><line x1="970.6" y1="1702.1" x2="971.4" y2="1721.8" stroke="#f39200" stroke-width="1.3" stroke-opacity="0.27"/><line x1="1058.1" y1="1722.7" x2="1057.7" y2="1737.3" stroke="#ffd500" stroke-width="1.1" stroke-opacity="0.50"/><line x1="1086.6" y1="1635.6" x2="1086.9" y2="1644.6" stroke="#ffd500" stroke-width="0.9" stroke-opacity="0.40"/><line x1="964.1" y1="1722.1" x2="964.1" y2="1735.2" stroke="#ffd500" stroke-width="0.7" stroke-opacity="0.37"/><line x1="959.8" y1="1666.5" x2="960.6" y2="1693.3" stroke="#ffd500" stroke-width="1.5" stroke-opacity="0.43"/><line x1="1125.4" y1="1638.6" x2="1125.5" y2="1649.8" stroke="#ffd500" stroke-width="1.6" stroke-opacity="0.32"/><line x1="1075.2" y1="1624.5" x2="1075.0" y2="1649.4" stroke="#ffd500" stroke-width="0.8" stroke-opacity="0.48"/><line x1="895.3" y1="1676.4" x2="895.8" y2="1702.5" stroke="#f39200" stroke-width="1.0" stroke-opacity="0.36"/><line x1="986.4" y1="1614.3" x2="985.7" y2="1641.4" stroke="#f39200" stroke-width="1.8" stroke-opacity="0.30"/><line x1="1012.5" y1="1657.9" x2="1011.9" y2="1666.4" stroke="#ee7203" stroke-width="1.6" stroke-opacity="0.49"/><line x1="927.1" y1="1653.9" x2="927.3" y2="1665.9" stroke="#ee7203" stroke-width="1.4" stroke-opacity="0.31"/><line x1="1119.2" y1="1636.2" x2="1118.9" y2="1646.9" stroke="#ea5b0c" stroke-width="1.3" stroke-opacity="0.44"/><line x1="1105.2" y1="1666.2" x2="1105.7" y2="1679.7" stroke="#ea5b0c" stroke-width="1.3" stroke-opacity="0.49"/><line x1="918.5" y1="1636.6" x2="918.6" y2="1651.5" stroke="#ea5b0c" stroke-width="0.8" stroke-opacity="0.42"/><line x1="935.5" y1="1714.0" x2="934.7" y2="1724.7" stroke="#e8470e" stroke-width="1.6" stroke-opacity="0.21"/><line x1="998.4" y1="1631.8" x2="998.1" y2="1651.0" stroke="#ffd500" stroke-width="1.0" stroke-opacity="0.47"/><line x1="1094.2" y1="1691.5" x2="1093.8" y2="1718.8" stroke="#ee7203" stroke-width="1.0" stroke-opacity="0.49"/><line x1="1091.4" y1="1622.2" x2="1091.4" y2="1646.0" stroke="#e8470e" stroke-width="0.9" stroke-opacity="0.33"/><line x1="1060.7" y1="1697.0" x2="1060.5" y2="1723.2" stroke="#ea5b0c" stroke-width="1.3" stroke-opacity="0.26"/><line x1="979.2" y1="1703.4" x2="978.9" y2="1713.2" stroke="#ee7203" stroke-width="1.6" stroke-opacity="0.29"/><line x1="949.1" y1="1700.4" x2="948.6" y2="1713.8" stroke="#f39200" stroke-width="1.4" stroke-opacity="0.45"/><line x1="974.7" y1="1679.0" x2="974.8" y2="1703.0" stroke="#f39200" stroke-width="1.0" stroke-opacity="0.45"/><line x1="919.7" y1="1711.6" x2="920.5" y2="1740.5" stroke="#e8470e" stroke-width="0.7" stroke-opacity="0.20"/><line x1="1055.5" y1="1649.8" x2="1055.7" y2="1671.3" stroke="#f39200" stroke-width="0.8" stroke-opacity="0.41"/><line x1="952.3" y1="1661.6" x2="953.1" y2="1671.9" stroke="#ffd500" stroke-width="1.1" stroke-opacity="0.49"/></g></g><g stroke="#333" stroke-width="1.1"><line x1="809.6" y1="1651.4" x2="812.6" y2="1649.9"/><line x1="810.9" y1="1684.5" x2="813.9" y2="1683.0"/><line x1="812.1" y1="1716.9" x2="815.1" y2="1715.4"/><line x1="813.3" y1="1749.2" x2="816.3" y2="1747.7"/><line x1="814.5" y1="1778.9" x2="817.5" y2="1777.4"/><line x1="815.6" y1="1807.3" x2="818.6" y2="1805.8"/><line x1="816.6" y1="1836.0" x2="819.6" y2="1834.5"/><line x1="817.9" y1="1867.9" x2="820.9" y2="1866.4"/><line x1="819.0" y1="1897.6" x2="822.0" y2="1896.1"/><line x1="820.1" y1="1918.9" x2="819.7" y2="1922.5"/><line x1="829.2" y1="1920.1" x2="829.0" y2="1922.1"/><line x1="838.2" y1="1921.3" x2="838.0" y2="1923.3"/><line x1="847.4" y1="1922.5" x2="847.2" y2="1924.5"/><line x1="856.5" y1="1923.7" x2="856.2" y2="1927.3"/><line x1="865.7" y1="1924.9" x2="865.5" y2="1926.9"/><line x1="874.9" y1="1926.2" x2="874.7" y2="1928.2"/><line x1="884.2" y1="1927.4" x2="884.0" y2="1929.4"/><line x1="893.5" y1="1928.6" x2="893.2" y2="1932.2"/><line x1="902.9" y1="1929.9" x2="902.7" y2="1931.9"/><line x1="912.2" y1="1931.1" x2="912.0" y2="1933.1"/><line x1="921.6" y1="1932.4" x2="921.4" y2="1934.4"/><line x1="931.1" y1="1933.6" x2="930.7" y2="1937.2"/><line x1="940.6" y1="1934.9" x2="940.4" y2="1936.9"/><line x1="950.1" y1="1936.1" x2="949.9" y2="1938.1"/><line x1="959.7" y1="1937.4" x2="959.5" y2="1939.4"/><line x1="969.3" y1="1938.7" x2="968.9" y2="1942.3"/><line x1="978.9" y1="1940.0" x2="978.7" y2="1942.0"/><line x1="988.6" y1="1941.2" x2="988.4" y2="1943.2"/><line x1="998.3" y1="1942.5" x2="998.1" y2="1944.5"/><line x1="1008.1" y1="1943.8" x2="1007.7" y2="1947.4"/><line x1="1017.9" y1="1945.1" x2="1017.7" y2="1947.1"/><line x1="1027.7" y1="1946.4" x2="1027.5" y2="1948.4"/><line x1="1037.6" y1="1947.7" x2="1037.4" y2="1949.7"/><line x1="1047.5" y1="1949.0" x2="1047.1" y2="1952.6"/><line x1="1057.5" y1="1950.4" x2="1057.3" y2="1952.4"/><line x1="1067.5" y1="1951.7" x2="1067.3" y2="1953.7"/><line x1="1077.5" y1="1953.0" x2="1077.3" y2="1955.0"/><line x1="1087.6" y1="1954.4" x2="1087.2" y2="1958.0"/><line x1="1097.7" y1="1955.7" x2="1097.5" y2="1957.7"/><line x1="1097.7" y1="1955.7" x2="1099.7" y2="1956.0"/><line x1="1100.2" y1="1950.4" x2="1102.2" y2="1950.7"/><line x1="1102.7" y1="1945.2" x2="1106.3" y2="1945.8"/><line x1="1105.1" y1="1940.1" x2="1107.1" y2="1940.4"/><line x1="1107.5" y1="1935.1" x2="1109.5" y2="1935.4"/><line x1="1109.8" y1="1930.2" x2="1111.8" y2="1930.5"/><line x1="1112.1" y1="1925.4" x2="1115.7" y2="1926.0"/><line x1="1114.4" y1="1920.7" x2="1116.4" y2="1921.0"/><line x1="1116.6" y1="1916.1" x2="1118.6" y2="1916.4"/><line x1="1118.7" y1="1911.5" x2="1120.7" y2="1911.8"/><line x1="1120.9" y1="1907.0" x2="1124.5" y2="1907.6"/><line x1="1123.0" y1="1902.6" x2="1125.0" y2="1902.9"/><line x1="1125.0" y1="1898.3" x2="1127.0" y2="1898.6"/><line x1="1127.0" y1="1894.1" x2="1129.0" y2="1894.4"/><line x1="1129.0" y1="1889.9" x2="1132.6" y2="1890.4"/><line x1="1131.0" y1="1885.8" x2="1133.0" y2="1886.1"/><line x1="1132.9" y1="1881.7" x2="1134.9" y2="1882.0"/><line x1="1134.8" y1="1877.8" x2="1136.8" y2="1878.1"/><line x1="1136.7" y1="1873.9" x2="1140.3" y2="1874.4"/><line x1="1138.5" y1="1870.0" x2="1140.5" y2="1870.3"/><line x1="1140.3" y1="1866.2" x2="1142.3" y2="1866.5"/><line x1="1142.1" y1="1862.5" x2="1144.1" y2="1862.8"/><line x1="1143.8" y1="1858.8" x2="1147.4" y2="1859.4"/><line x1="1145.5" y1="1855.2" x2="1147.5" y2="1855.5"/><line x1="1147.2" y1="1851.7" x2="1149.2" y2="1852.0"/></g><polyline points="820.1,1918.9 1097.7,1955.7 1147.2,1851.7" fill="none" stroke="#555" stroke-width="1.1"/><text x="804.4" y="1656.9" font-size="20.9" text-anchor="end" dominant-baseline="central" fill="#111">0.0004</text><text x="805.3" y="1690.0" font-size="20.9" text-anchor="end" dominant-baseline="central" fill="#111">0.0000</text><text x="807.0" y="1722.4" font-size="20.9" text-anchor="end" dominant-baseline="central" fill="#111">–0.0004</text><text x="807.5" y="1754.7" font-size="20.9" text-anchor="end" dominant-baseline="central" fill="#111">–0.0008</text><text x="810.5" y="1784.4" font-size="20.9" text-anchor="end" dominant-baseline="central" fill="#111">–0.0012</text><text x="811.0" y="1812.8" font-size="20.9" text-anchor="end" dominant-baseline="central" fill="#111">–0.0016</text><text x="812.3" y="1841.5" font-size="20.9" text-anchor="end" dominant-baseline="central" fill="#111">–0.0020</text><text x="814.4" y="1873.4" font-size="20.9" text-anchor="end" dominant-baseline="central" fill="#111">–0.0024</text><text x="814.6" y="1903.1" font-size="20.9" text-anchor="end" dominant-baseline="central" fill="#111">–0.0028</text><text transform="translate(719.7 1802.3) rotate(-90.0)" font-size="21.0" text-anchor="middle" dominant-baseline="central" fill="#111" >Intensity (a. u.)</text><text transform="translate(810.5 1928.5) rotate(-82.0)" font-size="21.0" text-anchor="middle" dominant-baseline="central" fill="#111" >0</text><text transform="translate(848.1 1933.7) rotate(-82.0)" font-size="21.0" text-anchor="middle" dominant-baseline="central" fill="#111" >1</text><text transform="translate(884.8 1940.7) rotate(-82.0)" font-size="21.0" text-anchor="middle" dominant-baseline="central" fill="#111" >2</text><text transform="translate(921.4 1946.8) rotate(-82.0)" font-size="21.0" text-anchor="middle" dominant-baseline="central" fill="#111" >3</text><text transform="translate(964.5 1952.3) rotate(-82.0)" font-size="21.0" text-anchor="middle" dominant-baseline="central" fill="#111" >4</text><text transform="translate(999.9 1956.7) rotate(-82.0)" font-size="21.0" text-anchor="middle" dominant-baseline="central" fill="#111" >5</text><text transform="translate(1039.8 1963.7) rotate(-82.0)" font-size="21.0" text-anchor="middle" dominant-baseline="central" fill="#111" >6</text><text transform="translate(1082.7 1968.7) rotate(-82.0)" font-size="21.0" text-anchor="middle" dominant-baseline="central" fill="#111" >7</text><text transform="translate(924.1 1967.8) rotate(9.0)" font-size="21.5" text-anchor="middle" dominant-baseline="central" fill="#111" >Time (ps)</text><text transform="translate(1134.6 1952.7) rotate(6.0)" font-size="21.0" text-anchor="middle" dominant-baseline="central" fill="#111" >1300</text><text transform="translate(1143.6 1930.7) rotate(6.0)" font-size="21.0" text-anchor="middle" dominant-baseline="central" fill="#111" >1200</text><text transform="translate(1150.6 1907.8) rotate(6.0)" font-size="21.0" text-anchor="middle" dominant-baseline="central" fill="#111" >1100</text><text transform="translate(1160.6 1889.8) rotate(6.0)" font-size="21.0" text-anchor="middle" dominant-baseline="central" fill="#111" >1000</text><text transform="translate(1165.6 1872.8) rotate(6.0)" font-size="21.0" text-anchor="middle" dominant-baseline="central" fill="#111" >900</text><text transform="translate(1172.6 1853.9) rotate(6.0)" font-size="21.0" text-anchor="middle" dominant-baseline="central" fill="#111" >800</text><text transform="translate(1206.5 1903.8) rotate(-76.0) skewX(-12.0)" font-size="21.5" text-anchor="middle" dominant-baseline="central" fill="#111" >Wavelength (nm)</text><text x="706.3" y="1633.3" font-size="43.4" font-weight="bold" fill="#000">H</text><g><g fill="none" stroke="#f5a5ae" stroke-width="1" clip-path="url(#cpD)" filter="url(#b05)"><circle cx="110.3" cy="1340.8" r="3.6"/><circle cx="111.9" cy="1328.1" r="3.6"/><circle cx="113.4" cy="1323.2" r="3.6"/><circle cx="115.0" cy="1335.2" r="3.6"/><circle cx="116.5" cy="1341.7" r="3.6"/><circle cx="118.0" cy="1331.6" r="3.6"/><circle cx="119.6" cy="1327.3" r="3.6"/><circle cx="121.1" cy="1322.4" r="3.6"/><circle cx="122.7" cy="1340.8" r="3.6"/><circle cx="124.2" cy="1341.4" r="3.6"/><circle cx="125.8" cy="1325.5" r="3.6"/><circle cx="127.3" cy="1327.3" r="3.6"/><circle cx="128.9" cy="1318.9" r="3.6"/><circle cx="130.4" cy="1323.2" r="3.6"/><circle cx="132.0" cy="1331.6" r="3.6"/><circle cx="133.5" cy="1332.6" r="3.6"/><circle cx="135.1" cy="1309.3" r="3.6"/><circle cx="136.6" cy="1330.8" r="3.6"/><circle cx="138.1" cy="1332.9" r="3.6"/><circle cx="139.7" cy="1332.8" r="3.6"/><circle cx="141.2" cy="1319.2" r="3.6"/><circle cx="142.8" cy="1314.1" r="3.6"/><circle cx="144.3" cy="1312.8" r="3.6"/><circle cx="145.9" cy="1305.8" r="3.6"/><circle cx="147.4" cy="1299.3" r="3.6"/><circle cx="149.0" cy="1294.0" r="3.6"/><circle cx="150.5" cy="1291.0" r="3.6"/><circle cx="152.1" cy="1300.4" r="3.6"/><circle cx="153.6" cy="1371.8" r="3.6"/><circle cx="155.2" cy="1352.0" r="3.6"/><circle cx="156.7" cy="1355.9" r="3.6"/><circle cx="158.3" cy="1253.8" r="3.6"/><circle cx="159.8" cy="1172.0" r="3.6"/><circle cx="161.3" cy="1187.3" r="3.6"/><circle cx="162.9" cy="1234.6" r="3.6"/><circle cx="164.4" cy="1256.7" r="3.6"/><circle cx="166.0" cy="1254.1" r="3.6"/><circle cx="167.5" cy="1296.7" r="3.6"/><circle cx="169.1" cy="1301.3" r="3.6"/><circle cx="170.6" cy="1327.1" r="3.6"/><circle cx="172.2" cy="1325.1" r="3.6"/><circle cx="173.7" cy="1322.0" r="3.6"/><circle cx="175.3" cy="1331.4" r="3.6"/><circle cx="176.8" cy="1330.1" r="3.6"/><circle cx="178.4" cy="1334.0" r="3.6"/><circle cx="179.9" cy="1344.0" r="3.6"/><circle cx="181.5" cy="1332.4" r="3.6"/><circle cx="183.0" cy="1344.0" r="3.6"/><circle cx="184.5" cy="1323.1" r="3.6"/><circle cx="186.1" cy="1342.3" r="3.6"/><circle cx="187.6" cy="1333.0" r="3.6"/><circle cx="189.2" cy="1338.6" r="3.6"/><circle cx="190.7" cy="1331.1" r="3.6"/><circle cx="192.3" cy="1343.5" r="3.6"/><circle cx="193.8" cy="1330.8" r="3.6"/><circle cx="195.4" cy="1339.7" r="3.6"/><circle cx="196.9" cy="1328.7" r="3.6"/><circle cx="198.5" cy="1333.7" r="3.6"/><circle cx="200.0" cy="1337.5" r="3.6"/><circle cx="201.6" cy="1344.8" r="3.6"/><circle cx="203.1" cy="1332.4" r="3.6"/><circle cx="204.7" cy="1334.8" r="3.6"/><circle cx="206.2" cy="1325.4" r="3.6"/><circle cx="207.7" cy="1341.4" r="3.6"/><circle cx="209.3" cy="1333.9" r="3.6"/><circle cx="210.8" cy="1334.2" r="3.6"/><circle cx="212.4" cy="1336.0" r="3.6"/><circle cx="213.9" cy="1336.5" r="3.6"/><circle cx="215.5" cy="1336.7" r="3.6"/><circle cx="217.0" cy="1342.8" r="3.6"/><circle cx="218.6" cy="1346.0" r="3.6"/><circle cx="220.1" cy="1341.1" r="3.6"/><circle cx="221.7" cy="1333.2" r="3.6"/><circle cx="223.2" cy="1325.8" r="3.6"/><circle cx="224.8" cy="1330.0" r="3.6"/><circle cx="226.3" cy="1329.3" r="3.6"/><circle cx="227.8" cy="1331.4" r="3.6"/><circle cx="229.4" cy="1332.0" r="3.6"/><circle cx="230.9" cy="1336.0" r="3.6"/><circle cx="232.5" cy="1331.3" r="3.6"/><circle cx="234.0" cy="1323.3" r="3.6"/><circle cx="235.6" cy="1339.9" r="3.6"/><circle cx="237.1" cy="1342.8" r="3.6"/><circle cx="238.7" cy="1321.6" r="3.6"/><circle cx="240.2" cy="1335.2" r="3.6"/><circle cx="241.8" cy="1329.4" r="3.6"/><circle cx="243.3" cy="1330.1" r="3.6"/><circle cx="244.9" cy="1346.0" r="3.6"/><circle cx="246.4" cy="1317.6" r="3.6"/><circle cx="248.0" cy="1322.7" r="3.6"/><circle cx="249.5" cy="1335.4" r="3.6"/><circle cx="251.0" cy="1330.7" r="3.6"/><circle cx="252.6" cy="1335.7" r="3.6"/><circle cx="254.1" cy="1343.6" r="3.6"/><circle cx="255.7" cy="1337.4" r="3.6"/><circle cx="257.2" cy="1333.5" r="3.6"/><circle cx="258.8" cy="1327.6" r="3.6"/><circle cx="260.3" cy="1330.7" r="3.6"/><circle cx="261.9" cy="1335.8" r="3.6"/><circle cx="263.4" cy="1325.5" r="3.6"/><circle cx="265.0" cy="1342.2" r="3.6"/><circle cx="266.5" cy="1329.8" r="3.6"/><circle cx="268.1" cy="1327.2" r="3.6"/><circle cx="269.6" cy="1338.3" r="3.6"/><circle cx="271.2" cy="1350.2" r="3.6"/><circle cx="272.7" cy="1343.1" r="3.6"/><circle cx="274.2" cy="1333.9" r="3.6"/><circle cx="275.8" cy="1331.6" r="3.6"/><circle cx="277.3" cy="1323.4" r="3.6"/><circle cx="278.9" cy="1343.6" r="3.6"/><circle cx="280.4" cy="1335.6" r="3.6"/><circle cx="282.0" cy="1330.4" r="3.6"/><circle cx="283.5" cy="1336.7" r="3.6"/><circle cx="285.1" cy="1354.2" r="3.6"/><circle cx="286.6" cy="1328.9" r="3.6"/><circle cx="288.2" cy="1316.9" r="3.6"/><circle cx="289.7" cy="1327.2" r="3.6"/><circle cx="291.3" cy="1342.5" r="3.6"/><circle cx="292.8" cy="1338.4" r="3.6"/><circle cx="294.3" cy="1333.3" r="3.6"/><circle cx="295.9" cy="1315.2" r="3.6"/><circle cx="297.4" cy="1330.0" r="3.6"/><circle cx="299.0" cy="1334.0" r="3.6"/><circle cx="300.5" cy="1322.4" r="3.6"/><circle cx="302.1" cy="1335.4" r="3.6"/><circle cx="303.6" cy="1319.9" r="3.6"/><circle cx="305.2" cy="1340.1" r="3.6"/><circle cx="306.7" cy="1338.3" r="3.6"/><circle cx="308.3" cy="1328.8" r="3.6"/><circle cx="309.8" cy="1323.1" r="3.6"/><circle cx="311.4" cy="1329.2" r="3.6"/><circle cx="312.9" cy="1331.9" r="3.6"/><circle cx="314.5" cy="1348.7" r="3.6"/><circle cx="316.0" cy="1339.9" r="3.6"/><circle cx="317.5" cy="1339.0" r="3.6"/><circle cx="319.1" cy="1338.3" r="3.6"/><circle cx="320.6" cy="1329.4" r="3.6"/><circle cx="322.2" cy="1336.6" r="3.6"/><circle cx="323.7" cy="1327.6" r="3.6"/><circle cx="325.3" cy="1333.2" r="3.6"/><circle cx="326.8" cy="1336.4" r="3.6"/><circle cx="328.4" cy="1332.8" r="3.6"/><circle cx="329.9" cy="1330.2" r="3.6"/><circle cx="331.5" cy="1326.8" r="3.6"/><circle cx="333.0" cy="1337.3" r="3.6"/><circle cx="334.6" cy="1335.3" r="3.6"/><circle cx="336.1" cy="1344.3" r="3.6"/><circle cx="337.7" cy="1320.6" r="3.6"/><circle cx="339.2" cy="1321.8" r="3.6"/><circle cx="340.7" cy="1334.7" r="3.6"/><circle cx="342.3" cy="1337.0" r="3.6"/><circle cx="343.8" cy="1342.9" r="3.6"/><circle cx="345.4" cy="1331.7" r="3.6"/><circle cx="346.9" cy="1331.4" r="3.6"/><circle cx="348.5" cy="1315.6" r="3.6"/><circle cx="350.0" cy="1330.9" r="3.6"/><circle cx="351.6" cy="1339.0" r="3.6"/><circle cx="353.1" cy="1352.2" r="3.6"/><circle cx="354.7" cy="1321.5" r="3.6"/><circle cx="356.2" cy="1331.1" r="3.6"/><circle cx="357.8" cy="1345.4" r="3.6"/><circle cx="359.3" cy="1331.1" r="3.6"/><circle cx="360.9" cy="1345.2" r="3.6"/><circle cx="362.4" cy="1304.7" r="3.6"/><circle cx="363.9" cy="1323.4" r="3.6"/><circle cx="365.5" cy="1327.7" r="3.6"/><circle cx="367.0" cy="1333.6" r="3.6"/><circle cx="368.6" cy="1349.2" r="3.6"/><circle cx="370.1" cy="1333.1" r="3.6"/><circle cx="371.7" cy="1344.4" r="3.6"/><circle cx="373.2" cy="1327.2" r="3.6"/><circle cx="374.8" cy="1348.9" r="3.6"/><circle cx="376.3" cy="1339.1" r="3.6"/><circle cx="377.9" cy="1322.1" r="3.6"/><circle cx="379.4" cy="1318.7" r="3.6"/><circle cx="381.0" cy="1341.1" r="3.6"/><circle cx="382.5" cy="1343.8" r="3.6"/><circle cx="384.0" cy="1324.6" r="3.6"/><circle cx="385.6" cy="1324.7" r="3.6"/><circle cx="387.1" cy="1339.3" r="3.6"/><circle cx="388.7" cy="1336.9" r="3.6"/><circle cx="390.2" cy="1336.8" r="3.6"/><circle cx="391.8" cy="1340.7" r="3.6"/><circle cx="393.3" cy="1336.6" r="3.6"/><circle cx="394.9" cy="1321.2" r="3.6"/><circle cx="396.4" cy="1325.6" r="3.6"/><circle cx="398.0" cy="1314.7" r="3.6"/><circle cx="399.5" cy="1331.6" r="3.6"/><circle cx="401.1" cy="1332.0" r="3.6"/><circle cx="402.6" cy="1338.6" r="3.6"/><circle cx="404.2" cy="1331.8" r="3.6"/><circle cx="405.7" cy="1341.2" r="3.6"/><circle cx="407.2" cy="1344.8" r="3.6"/><circle cx="408.8" cy="1325.1" r="3.6"/><circle cx="410.3" cy="1319.1" r="3.6"/><circle cx="411.9" cy="1323.8" r="3.6"/><circle cx="413.4" cy="1319.8" r="3.6"/><circle cx="415.0" cy="1328.3" r="3.6"/><circle cx="416.5" cy="1336.0" r="3.6"/><circle cx="418.1" cy="1329.5" r="3.6"/><circle cx="419.6" cy="1333.1" r="3.6"/><circle cx="421.2" cy="1339.0" r="3.6"/><circle cx="422.7" cy="1343.5" r="3.6"/><circle cx="424.3" cy="1341.8" r="3.6"/><circle cx="425.8" cy="1330.0" r="3.6"/><circle cx="427.4" cy="1328.7" r="3.6"/><circle cx="428.9" cy="1333.6" r="3.6"/><circle cx="430.4" cy="1318.4" r="3.6"/><circle cx="432.0" cy="1328.3" r="3.6"/><circle cx="433.5" cy="1325.0" r="3.6"/><circle cx="435.1" cy="1319.9" r="3.6"/><circle cx="436.6" cy="1336.0" r="3.6"/><circle cx="438.2" cy="1345.1" r="3.6"/><circle cx="439.7" cy="1323.4" r="3.6"/><circle cx="441.3" cy="1334.8" r="3.6"/><circle cx="442.8" cy="1318.9" r="3.6"/><circle cx="444.4" cy="1326.5" r="3.6"/><circle cx="445.9" cy="1321.1" r="3.6"/><circle cx="447.5" cy="1323.0" r="3.6"/><circle cx="449.0" cy="1345.6" r="3.6"/><circle cx="450.5" cy="1323.3" r="3.6"/><circle cx="452.1" cy="1334.3" r="3.6"/><circle cx="453.6" cy="1334.9" r="3.6"/><circle cx="455.2" cy="1332.3" r="3.6"/><circle cx="456.7" cy="1322.6" r="3.6"/><circle cx="458.3" cy="1321.6" r="3.6"/><circle cx="459.8" cy="1320.6" r="3.6"/><circle cx="461.4" cy="1341.7" r="3.6"/><circle cx="462.9" cy="1333.2" r="3.6"/><circle cx="464.5" cy="1347.3" r="3.6"/><circle cx="466.0" cy="1329.2" r="3.6"/><circle cx="467.6" cy="1323.5" r="3.6"/><circle cx="469.1" cy="1334.3" r="3.6"/><circle cx="470.7" cy="1326.2" r="3.6"/><circle cx="472.2" cy="1326.3" r="3.6"/><circle cx="159.4" cy="1132.3" r="3.6"/><circle cx="161.1" cy="1142.9" r="3.6"/><circle cx="158.5" cy="1172.1" r="3.6"/><circle cx="162.7" cy="1174.8" r="3.6"/><circle cx="164.3" cy="1243.6" r="3.6"/><circle cx="149.6" cy="1264.8" r="3.6"/><circle cx="156.2" cy="1381.4" r="3.6"/><circle cx="154.5" cy="1368.2" r="3.6"/><circle cx="148.0" cy="1368.2" r="3.6"/><circle cx="169.3" cy="1301.9" r="3.6"/></g><polyline points="112.3,1357.6 118.7,1357.6 125.1,1357.6 131.5,1357.6 137.9,1357.6 144.3,1357.6 150.7,1357.6 156.7,1345.8 157.1,1322.0 157.5,1298.2 157.9,1274.3 158.3,1250.5 158.7,1226.7 159.1,1202.9 159.5,1179.0 159.9,1155.2 160.3,1150.6 160.7,1165.3 161.1,1179.0 161.5,1191.5 161.9,1203.1 162.3,1213.8 162.7,1223.6 163.1,1232.7 163.5,1241.0 163.9,1248.7 164.3,1255.8 164.7,1262.4 165.1,1268.4 165.5,1274.0 165.9,1279.1 166.3,1283.8 166.7,1288.2 167.1,1292.2 167.5,1295.9 167.9,1299.3 168.3,1302.5 168.7,1305.4 169.1,1308.0 169.5,1310.5 169.9,1312.8 170.3,1314.9 170.7,1316.8 171.1,1318.6 171.5,1320.2 171.9,1321.7 172.3,1323.1 172.7,1324.4 173.1,1325.6 173.5,1326.7 173.9,1327.7 174.3,1328.6 174.7,1329.5 175.1,1330.3 175.5,1331.0 175.9,1331.7 176.3,1332.3 177.1,1333.4 177.9,1334.3 178.7,1335.1 179.5,1335.7 180.7,1336.5 182.3,1337.2 184.3,1337.9 187.9,1338.5 194.3,1338.7 200.7,1338.6 207.1,1338.4 213.5,1338.2 219.9,1337.9 226.3,1337.7 232.7,1337.4 239.1,1337.2 245.5,1336.9 251.9,1336.7 258.3,1336.4 264.7,1336.2 271.1,1335.9 277.5,1335.7 283.9,1335.4 290.3,1335.2 296.6,1335.0 303.0,1334.7 309.4,1334.5 315.8,1334.2 322.2,1334.0 328.6,1333.7 335.0,1333.5 341.4,1333.2 347.8,1333.0 354.2,1332.7 360.6,1332.5 367.0,1332.2 373.4,1332.0 379.8,1331.7 386.2,1331.5 392.6,1331.2 399.0,1331.0 405.4,1330.7 411.8,1330.5 418.2,1330.2 424.6,1330.0 431.0,1329.7 437.4,1329.5 443.8,1329.2 450.2,1329.0 456.6,1328.7 463.0,1328.5 469.4,1328.2 472.2,1328.1" fill="none" stroke="#1c1c1c" stroke-width="2.7" stroke-linejoin="round" filter="url(#b05)"/><g stroke="#404040" stroke-width="2.1" fill="none" filter="url(#b05)"><rect x="112.3" y="1092.5" width="360.0" height="331.1"/><line x1="144.7" y1="1423.6" x2="144.7" y2="1413.6" stroke-width="1.6"/><line x1="177.4" y1="1423.6" x2="177.4" y2="1418.6" stroke-width="1.6"/><line x1="210.2" y1="1423.6" x2="210.2" y2="1413.6" stroke-width="1.6"/><line x1="242.9" y1="1423.6" x2="242.9" y2="1418.6" stroke-width="1.6"/><line x1="275.7" y1="1423.6" x2="275.7" y2="1413.6" stroke-width="1.6"/><line x1="308.4" y1="1423.6" x2="308.4" y2="1418.6" stroke-width="1.6"/><line x1="341.2" y1="1423.6" x2="341.2" y2="1413.6" stroke-width="1.6"/><line x1="373.9" y1="1423.6" x2="373.9" y2="1418.6" stroke-width="1.6"/><line x1="406.7" y1="1423.6" x2="406.7" y2="1413.6" stroke-width="1.6"/><line x1="439.4" y1="1423.6" x2="439.4" y2="1418.6" stroke-width="1.6"/><line x1="472.2" y1="1423.6" x2="472.2" y2="1413.6" stroke-width="1.6"/><line x1="112.3" y1="1158.5" x2="115.8" y2="1158.5" stroke-width="1.6"/><line x1="112.3" y1="1224.8" x2="119.3" y2="1224.8" stroke-width="1.6"/><line x1="112.3" y1="1291.0" x2="115.8" y2="1291.0" stroke-width="1.6"/><line x1="112.3" y1="1357.6" x2="119.3" y2="1357.6" stroke-width="1.6"/></g><text x="146.8" y="1446.4" font-size="21" text-anchor="middle" dominant-baseline="central" fill="#111">0</text><text x="211.0" y="1446.4" font-size="21" text-anchor="middle" dominant-baseline="central" fill="#111">2</text><text x="278.6" y="1446.4" font-size="21" text-anchor="middle" dominant-baseline="central" fill="#111">4</text><text x="341.2" y="1446.4" font-size="21" text-anchor="middle" dominant-baseline="central" fill="#111">6</text><text x="406.7" y="1446.4" font-size="21" text-anchor="middle" dominant-baseline="central" fill="#111">8</text><text x="472.2" y="1446.4" font-size="21" text-anchor="middle" dominant-baseline="central" fill="#111">10</text><text x="104.8" y="1093.4" font-size="21" text-anchor="end" dominant-baseline="central" fill="#111">0.0010</text><text x="104.8" y="1226.8" font-size="21" text-anchor="end" dominant-baseline="central" fill="#111">0.0005</text><text x="104.8" y="1359.4" font-size="21" text-anchor="end" dominant-baseline="central" fill="#111">0.0000</text><text x="296.1" y="1478.6" font-size="21.2" text-anchor="middle" dominant-baseline="central" fill="#111">Time (ps)</text><text transform="translate(12.4 1226.3) rotate(-90)" font-size="21" text-anchor="middle" dominant-baseline="central" fill="#111"><tspan font-size="17.5">Δ</tspan>A (OD)</text><circle cx="201.2" cy="1217.9" r="3.8" fill="none" stroke="#f5a5ae" stroke-width="1"/><text x="226.5" y="1216.0" font-size="21" dominant-baseline="central" fill="#111">Kinetic at 532 nm</text><line x1="188.1" y1="1245.0" x2="214.3" y2="1245.0" stroke="#1c1c1c" stroke-width="3.2"/><text x="226.8" y="1245.0" font-size="21" dominant-baseline="central" fill="#111">Fit</text></g><g><g fill="none" stroke="#a5d68c" stroke-width="1" clip-path="url(#cpE)" filter="url(#b05)"><circle cx="732.2" cy="1160.2" r="3.6"/><circle cx="733.6" cy="1152.4" r="3.6"/><circle cx="735.1" cy="1154.8" r="3.6"/><circle cx="736.5" cy="1155.7" r="3.6"/><circle cx="737.9" cy="1149.0" r="3.6"/><circle cx="739.3" cy="1153.2" r="3.6"/><circle cx="740.7" cy="1154.8" r="3.6"/><circle cx="742.1" cy="1145.1" r="3.6"/><circle cx="743.5" cy="1155.8" r="3.6"/><circle cx="745.0" cy="1159.4" r="3.6"/><circle cx="746.4" cy="1159.9" r="3.6"/><circle cx="747.8" cy="1156.0" r="3.6"/><circle cx="749.2" cy="1150.4" r="3.6"/><circle cx="750.6" cy="1149.5" r="3.6"/><circle cx="752.0" cy="1148.2" r="3.6"/><circle cx="753.4" cy="1144.9" r="3.6"/><circle cx="754.9" cy="1145.5" r="3.6"/><circle cx="756.3" cy="1150.4" r="3.6"/><circle cx="757.7" cy="1147.2" r="3.6"/><circle cx="759.1" cy="1150.3" r="3.6"/><circle cx="760.5" cy="1156.0" r="3.6"/><circle cx="761.9" cy="1149.6" r="3.6"/><circle cx="763.3" cy="1158.0" r="3.6"/><circle cx="764.8" cy="1200.2" r="3.6"/><circle cx="766.2" cy="1295.2" r="3.6"/><circle cx="767.6" cy="1366.1" r="3.6"/><circle cx="769.0" cy="1370.2" r="3.6"/><circle cx="770.4" cy="1349.5" r="3.6"/><circle cx="771.8" cy="1319.8" r="3.6"/><circle cx="773.2" cy="1315.3" r="3.6"/><circle cx="774.7" cy="1295.5" r="3.6"/><circle cx="776.1" cy="1282.2" r="3.6"/><circle cx="777.5" cy="1270.2" r="3.6"/><circle cx="778.9" cy="1258.4" r="3.6"/><circle cx="780.3" cy="1253.1" r="3.6"/><circle cx="781.7" cy="1243.6" r="3.6"/><circle cx="783.1" cy="1233.6" r="3.6"/><circle cx="784.6" cy="1226.7" r="3.6"/><circle cx="786.0" cy="1214.2" r="3.6"/><circle cx="787.4" cy="1204.2" r="3.6"/><circle cx="788.8" cy="1209.9" r="3.6"/><circle cx="790.2" cy="1197.8" r="3.6"/><circle cx="791.6" cy="1200.1" r="3.6"/><circle cx="793.0" cy="1194.4" r="3.6"/><circle cx="794.5" cy="1188.2" r="3.6"/><circle cx="795.9" cy="1182.9" r="3.6"/><circle cx="797.3" cy="1182.2" r="3.6"/><circle cx="798.7" cy="1189.4" r="3.6"/><circle cx="800.1" cy="1167.8" r="3.6"/><circle cx="801.5" cy="1173.1" r="3.6"/><circle cx="802.9" cy="1172.6" r="3.6"/><circle cx="804.4" cy="1164.3" r="3.6"/><circle cx="805.8" cy="1168.4" r="3.6"/><circle cx="807.2" cy="1170.6" r="3.6"/><circle cx="808.6" cy="1160.0" r="3.6"/><circle cx="810.0" cy="1158.9" r="3.6"/><circle cx="811.4" cy="1163.5" r="3.6"/><circle cx="812.8" cy="1154.4" r="3.6"/><circle cx="814.3" cy="1155.6" r="3.6"/><circle cx="815.7" cy="1161.7" r="3.6"/><circle cx="817.1" cy="1147.2" r="3.6"/><circle cx="818.5" cy="1153.3" r="3.6"/><circle cx="819.9" cy="1159.2" r="3.6"/><circle cx="821.3" cy="1151.0" r="3.6"/><circle cx="822.7" cy="1152.0" r="3.6"/><circle cx="824.2" cy="1147.4" r="3.6"/><circle cx="825.6" cy="1157.8" r="3.6"/><circle cx="827.0" cy="1146.1" r="3.6"/><circle cx="828.4" cy="1146.1" r="3.6"/><circle cx="829.8" cy="1146.9" r="3.6"/><circle cx="831.2" cy="1146.9" r="3.6"/><circle cx="832.6" cy="1143.2" r="3.6"/><circle cx="834.1" cy="1145.8" r="3.6"/><circle cx="835.5" cy="1148.3" r="3.6"/><circle cx="836.9" cy="1152.6" r="3.6"/><circle cx="838.3" cy="1143.1" r="3.6"/><circle cx="839.7" cy="1143.5" r="3.6"/><circle cx="841.1" cy="1146.6" r="3.6"/><circle cx="842.5" cy="1147.1" r="3.6"/><circle cx="844.0" cy="1144.2" r="3.6"/><circle cx="845.4" cy="1159.4" r="3.6"/><circle cx="846.8" cy="1145.8" r="3.6"/><circle cx="848.2" cy="1159.0" r="3.6"/><circle cx="849.6" cy="1145.9" r="3.6"/><circle cx="851.0" cy="1142.0" r="3.6"/><circle cx="852.4" cy="1137.9" r="3.6"/><circle cx="853.9" cy="1149.0" r="3.6"/><circle cx="855.3" cy="1144.7" r="3.6"/><circle cx="856.7" cy="1147.0" r="3.6"/><circle cx="858.1" cy="1157.1" r="3.6"/><circle cx="859.5" cy="1143.0" r="3.6"/><circle cx="860.9" cy="1146.5" r="3.6"/><circle cx="862.3" cy="1146.1" r="3.6"/><circle cx="863.8" cy="1150.8" r="3.6"/><circle cx="865.2" cy="1146.5" r="3.6"/><circle cx="866.6" cy="1145.8" r="3.6"/><circle cx="868.0" cy="1140.1" r="3.6"/><circle cx="869.4" cy="1144.8" r="3.6"/><circle cx="870.8" cy="1129.6" r="3.6"/><circle cx="872.2" cy="1148.0" r="3.6"/><circle cx="873.7" cy="1147.3" r="3.6"/><circle cx="875.1" cy="1146.3" r="3.6"/><circle cx="876.5" cy="1149.8" r="3.6"/><circle cx="877.9" cy="1138.8" r="3.6"/><circle cx="879.3" cy="1142.9" r="3.6"/><circle cx="880.7" cy="1151.9" r="3.6"/><circle cx="882.1" cy="1145.4" r="3.6"/><circle cx="883.6" cy="1140.4" r="3.6"/><circle cx="885.0" cy="1152.6" r="3.6"/><circle cx="886.4" cy="1145.1" r="3.6"/><circle cx="887.8" cy="1146.9" r="3.6"/><circle cx="889.2" cy="1134.8" r="3.6"/><circle cx="890.6" cy="1143.8" r="3.6"/><circle cx="892.0" cy="1147.7" r="3.6"/><circle cx="893.5" cy="1148.4" r="3.6"/><circle cx="894.9" cy="1136.8" r="3.6"/><circle cx="896.3" cy="1147.9" r="3.6"/><circle cx="897.7" cy="1134.9" r="3.6"/><circle cx="899.1" cy="1153.1" r="3.6"/><circle cx="900.5" cy="1146.6" r="3.6"/><circle cx="901.9" cy="1146.8" r="3.6"/><circle cx="903.4" cy="1149.0" r="3.6"/><circle cx="904.8" cy="1146.7" r="3.6"/><circle cx="906.2" cy="1142.4" r="3.6"/><circle cx="907.6" cy="1148.8" r="3.6"/><circle cx="909.0" cy="1152.4" r="3.6"/><circle cx="910.4" cy="1139.3" r="3.6"/><circle cx="911.8" cy="1138.7" r="3.6"/><circle cx="913.3" cy="1148.9" r="3.6"/><circle cx="914.7" cy="1144.2" r="3.6"/><circle cx="916.1" cy="1157.8" r="3.6"/><circle cx="917.5" cy="1140.7" r="3.6"/><circle cx="918.9" cy="1151.9" r="3.6"/><circle cx="920.3" cy="1148.2" r="3.6"/><circle cx="921.7" cy="1135.4" r="3.6"/><circle cx="923.2" cy="1151.6" r="3.6"/><circle cx="924.6" cy="1145.5" r="3.6"/><circle cx="926.0" cy="1150.7" r="3.6"/><circle cx="927.4" cy="1154.3" r="3.6"/><circle cx="928.8" cy="1151.1" r="3.6"/><circle cx="930.2" cy="1144.3" r="3.6"/><circle cx="931.6" cy="1151.8" r="3.6"/><circle cx="933.1" cy="1148.4" r="3.6"/><circle cx="934.5" cy="1142.1" r="3.6"/><circle cx="935.9" cy="1146.3" r="3.6"/><circle cx="937.3" cy="1151.8" r="3.6"/><circle cx="938.7" cy="1138.5" r="3.6"/><circle cx="940.1" cy="1145.0" r="3.6"/><circle cx="941.5" cy="1138.9" r="3.6"/><circle cx="943.0" cy="1150.5" r="3.6"/><circle cx="944.4" cy="1137.6" r="3.6"/><circle cx="945.8" cy="1151.9" r="3.6"/><circle cx="947.2" cy="1153.8" r="3.6"/><circle cx="948.6" cy="1147.6" r="3.6"/><circle cx="950.0" cy="1147.3" r="3.6"/><circle cx="951.4" cy="1144.3" r="3.6"/><circle cx="952.9" cy="1148.2" r="3.6"/><circle cx="954.3" cy="1142.6" r="3.6"/><circle cx="955.7" cy="1139.2" r="3.6"/><circle cx="957.1" cy="1148.6" r="3.6"/><circle cx="958.5" cy="1152.0" r="3.6"/><circle cx="959.9" cy="1147.4" r="3.6"/><circle cx="961.3" cy="1141.7" r="3.6"/><circle cx="962.8" cy="1141.7" r="3.6"/><circle cx="964.2" cy="1147.2" r="3.6"/><circle cx="965.6" cy="1150.2" r="3.6"/><circle cx="967.0" cy="1145.6" r="3.6"/><circle cx="968.4" cy="1141.0" r="3.6"/><circle cx="969.8" cy="1148.9" r="3.6"/><circle cx="971.2" cy="1139.4" r="3.6"/><circle cx="972.7" cy="1144.5" r="3.6"/><circle cx="974.1" cy="1144.2" r="3.6"/><circle cx="975.5" cy="1148.5" r="3.6"/><circle cx="976.9" cy="1139.1" r="3.6"/><circle cx="978.3" cy="1145.3" r="3.6"/><circle cx="979.7" cy="1152.6" r="3.6"/><circle cx="981.1" cy="1141.7" r="3.6"/><circle cx="982.6" cy="1147.5" r="3.6"/><circle cx="984.0" cy="1140.4" r="3.6"/><circle cx="985.4" cy="1144.7" r="3.6"/><circle cx="986.8" cy="1148.5" r="3.6"/><circle cx="988.2" cy="1144.7" r="3.6"/><circle cx="989.6" cy="1147.9" r="3.6"/><circle cx="991.0" cy="1149.4" r="3.6"/><circle cx="992.5" cy="1145.4" r="3.6"/><circle cx="993.9" cy="1141.6" r="3.6"/><circle cx="995.3" cy="1145.2" r="3.6"/><circle cx="996.7" cy="1145.9" r="3.6"/><circle cx="998.1" cy="1148.2" r="3.6"/><circle cx="999.5" cy="1142.8" r="3.6"/><circle cx="1000.9" cy="1144.2" r="3.6"/><circle cx="1002.4" cy="1141.0" r="3.6"/><circle cx="1003.8" cy="1143.8" r="3.6"/><circle cx="1005.2" cy="1135.5" r="3.6"/><circle cx="1006.6" cy="1153.0" r="3.6"/><circle cx="1008.0" cy="1145.8" r="3.6"/><circle cx="1009.4" cy="1143.0" r="3.6"/><circle cx="1010.8" cy="1141.3" r="3.6"/><circle cx="1012.3" cy="1152.8" r="3.6"/><circle cx="1013.7" cy="1151.3" r="3.6"/><circle cx="1015.1" cy="1145.7" r="3.6"/><circle cx="1016.5" cy="1140.6" r="3.6"/><circle cx="1017.9" cy="1140.3" r="3.6"/><circle cx="1019.3" cy="1152.7" r="3.6"/><circle cx="1020.7" cy="1144.9" r="3.6"/><circle cx="1022.2" cy="1140.0" r="3.6"/><circle cx="1023.6" cy="1145.4" r="3.6"/><circle cx="1025.0" cy="1150.4" r="3.6"/><circle cx="1026.4" cy="1148.9" r="3.6"/><circle cx="1027.8" cy="1151.8" r="3.6"/><circle cx="1029.2" cy="1139.9" r="3.6"/><circle cx="1030.6" cy="1146.8" r="3.6"/><circle cx="1032.1" cy="1147.6" r="3.6"/><circle cx="1033.5" cy="1149.7" r="3.6"/><circle cx="1034.9" cy="1146.2" r="3.6"/><circle cx="1036.3" cy="1149.8" r="3.6"/><circle cx="1037.7" cy="1150.1" r="3.6"/><circle cx="1039.1" cy="1145.7" r="3.6"/><circle cx="1040.5" cy="1146.6" r="3.6"/><circle cx="1042.0" cy="1143.4" r="3.6"/><circle cx="1043.4" cy="1144.8" r="3.6"/><circle cx="1044.8" cy="1140.0" r="3.6"/><circle cx="1046.2" cy="1145.7" r="3.6"/><circle cx="1047.6" cy="1144.3" r="3.6"/><circle cx="1049.0" cy="1144.5" r="3.6"/><circle cx="1050.4" cy="1149.3" r="3.6"/><circle cx="1051.9" cy="1139.9" r="3.6"/><circle cx="1053.3" cy="1148.2" r="3.6"/><circle cx="1054.7" cy="1153.0" r="3.6"/><circle cx="1056.1" cy="1139.7" r="3.6"/><circle cx="769.4" cy="1377.3" r="3.6"/></g><polyline points="734.7,1153.5 740.8,1153.5 746.8,1153.5 752.9,1153.5 759.0,1153.5 762.6,1154.4 762.9,1155.5 763.3,1157.8 763.6,1162.0 764.0,1169.2 764.3,1180.3 764.7,1196.4 765.1,1217.8 765.4,1243.9 765.8,1273.3 766.1,1301.8 766.5,1326.2 766.8,1346.2 767.2,1360.6 767.6,1369.5 767.9,1373.6 768.6,1372.0 769.0,1368.4 769.3,1364.0 769.7,1359.2 770.1,1354.3 770.4,1349.4 770.8,1344.6 771.1,1340.0 771.5,1335.4 771.8,1330.9 772.2,1326.5 772.6,1322.3 772.9,1318.1 773.3,1314.1 773.6,1310.1 774.0,1306.2 774.3,1302.4 774.7,1298.8 775.1,1295.2 775.4,1291.6 775.8,1288.2 776.1,1284.9 776.5,1281.6 776.8,1278.4 777.2,1275.3 777.6,1272.2 777.9,1269.3 778.3,1266.4 778.6,1263.6 779.0,1260.8 779.3,1258.1 779.7,1255.5 780.1,1252.9 780.4,1250.4 780.8,1247.9 781.1,1245.6 781.5,1243.2 781.8,1240.9 782.2,1238.7 782.6,1236.6 782.9,1234.4 783.3,1232.4 783.6,1230.3 784.0,1228.4 784.3,1226.5 784.7,1224.6 785.1,1222.7 785.4,1220.9 785.8,1219.2 786.1,1217.5 786.5,1215.8 786.8,1214.2 787.2,1212.6 787.6,1211.1 787.9,1209.5 788.3,1208.1 788.6,1206.6 789.0,1205.2 789.3,1203.8 789.7,1202.5 790.1,1201.2 790.4,1199.9 790.8,1198.7 791.1,1197.4 791.5,1196.2 791.8,1195.1 792.2,1193.9 792.6,1192.8 792.9,1191.8 793.3,1190.7 793.6,1189.7 794.0,1188.7 794.3,1187.7 794.7,1186.7 795.1,1185.8 795.4,1184.9 795.8,1184.0 796.1,1183.1 796.5,1182.2 796.8,1181.4 797.2,1180.6 797.6,1179.8 797.9,1179.0 798.3,1178.3 798.6,1177.5 799.0,1176.8 799.3,1176.1 799.7,1175.4 800.1,1174.7 800.4,1174.1 800.8,1173.4 801.1,1172.8 801.5,1172.2 802.2,1171.0 802.9,1169.9 803.6,1168.8 804.3,1167.8 805.1,1166.8 805.8,1165.9 806.5,1165.0 807.2,1164.1 807.9,1163.3 808.6,1162.6 809.3,1161.8 810.1,1161.1 810.8,1160.4 811.5,1159.8 812.2,1159.2 813.3,1158.3 814.3,1157.5 815.4,1156.8 816.5,1156.1 817.5,1155.4 818.6,1154.8 820.0,1154.1 821.5,1153.4 822.9,1152.7 824.7,1152.0 826.5,1151.4 828.6,1150.7 831.1,1150.1 834.0,1149.4 837.2,1148.8 841.5,1148.2 846.8,1147.6 852.9,1147.1 859.0,1146.7 865.0,1146.5 871.1,1146.3 877.2,1146.2 883.3,1146.1 889.3,1146.0 895.4,1146.0 901.5,1145.9 907.5,1145.9 913.6,1145.9 919.7,1145.8 925.8,1145.8 931.8,1145.8 937.9,1145.8 944.0,1145.8 950.0,1145.8 956.1,1145.8 962.2,1145.8 968.3,1145.8 974.3,1145.8 980.4,1145.7 986.5,1145.7 992.5,1145.7 998.6,1145.7 1004.7,1145.7 1010.7,1145.7 1016.8,1145.7 1022.9,1145.7 1029.0,1145.7 1035.0,1145.7 1041.1,1145.7 1047.2,1145.7 1053.2,1145.7 1056.1,1145.7" fill="none" stroke="#1c1c1c" stroke-width="2.7" stroke-linejoin="round" filter="url(#b05)"/><g stroke="#7a7a7a" stroke-width="1.9" fill="none" filter="url(#b05)"><rect x="734.7" y="1076.2" width="321.4" height="351.1"/><line x1="763.0" y1="1427.3" x2="763.0" y2="1423.1" stroke-width="1.4"/><line x1="763.0" y1="1076.2" x2="763.0" y2="1080.4" stroke-width="1.4"/><line x1="792.3" y1="1427.3" x2="792.3" y2="1424.9" stroke-width="1.4"/><line x1="792.3" y1="1076.2" x2="792.3" y2="1078.6" stroke-width="1.4"/><line x1="821.6" y1="1427.3" x2="821.6" y2="1423.1" stroke-width="1.4"/><line x1="821.6" y1="1076.2" x2="821.6" y2="1080.4" stroke-width="1.4"/><line x1="850.9" y1="1427.3" x2="850.9" y2="1424.9" stroke-width="1.4"/><line x1="850.9" y1="1076.2" x2="850.9" y2="1078.6" stroke-width="1.4"/><line x1="880.2" y1="1427.3" x2="880.2" y2="1423.1" stroke-width="1.4"/><line x1="880.2" y1="1076.2" x2="880.2" y2="1080.4" stroke-width="1.4"/><line x1="909.5" y1="1427.3" x2="909.5" y2="1424.9" stroke-width="1.4"/><line x1="909.5" y1="1076.2" x2="909.5" y2="1078.6" stroke-width="1.4"/><line x1="938.9" y1="1427.3" x2="938.9" y2="1423.1" stroke-width="1.4"/><line x1="938.9" y1="1076.2" x2="938.9" y2="1080.4" stroke-width="1.4"/><line x1="968.2" y1="1427.3" x2="968.2" y2="1424.9" stroke-width="1.4"/><line x1="968.2" y1="1076.2" x2="968.2" y2="1078.6" stroke-width="1.4"/><line x1="997.5" y1="1427.3" x2="997.5" y2="1423.1" stroke-width="1.4"/><line x1="997.5" y1="1076.2" x2="997.5" y2="1080.4" stroke-width="1.4"/><line x1="1026.8" y1="1427.3" x2="1026.8" y2="1424.9" stroke-width="1.4"/><line x1="1026.8" y1="1076.2" x2="1026.8" y2="1078.6" stroke-width="1.4"/><line x1="1056.1" y1="1427.3" x2="1056.1" y2="1423.1" stroke-width="1.4"/><line x1="1056.1" y1="1076.2" x2="1056.1" y2="1080.4" stroke-width="1.4"/><line x1="734.7" y1="1115.5" x2="737.1" y2="1115.5" stroke-width="1.4"/><line x1="1056.1" y1="1115.5" x2="1053.7" y2="1115.5" stroke-width="1.4"/><line x1="734.7" y1="1154.8" x2="738.9" y2="1154.8" stroke-width="1.4"/><line x1="1056.1" y1="1154.8" x2="1051.9" y2="1154.8" stroke-width="1.4"/><line x1="734.7" y1="1193.6" x2="737.1" y2="1193.6" stroke-width="1.4"/><line x1="1056.1" y1="1193.6" x2="1053.7" y2="1193.6" stroke-width="1.4"/><line x1="734.7" y1="1232.4" x2="738.9" y2="1232.4" stroke-width="1.4"/><line x1="1056.1" y1="1232.4" x2="1051.9" y2="1232.4" stroke-width="1.4"/><line x1="734.7" y1="1271.3" x2="737.1" y2="1271.3" stroke-width="1.4"/><line x1="1056.1" y1="1271.3" x2="1053.7" y2="1271.3" stroke-width="1.4"/><line x1="734.7" y1="1310.3" x2="738.9" y2="1310.3" stroke-width="1.4"/><line x1="1056.1" y1="1310.3" x2="1051.9" y2="1310.3" stroke-width="1.4"/><line x1="734.7" y1="1349.2" x2="737.1" y2="1349.2" stroke-width="1.4"/><line x1="1056.1" y1="1349.2" x2="1053.7" y2="1349.2" stroke-width="1.4"/><line x1="734.7" y1="1388.2" x2="738.9" y2="1388.2" stroke-width="1.4"/><line x1="1056.1" y1="1388.2" x2="1051.9" y2="1388.2" stroke-width="1.4"/></g><text x="763.0" y="1446.5" font-size="21" text-anchor="middle" dominant-baseline="central" fill="#111">0</text><text x="821.6" y="1446.5" font-size="21" text-anchor="middle" dominant-baseline="central" fill="#111">2</text><text x="880.2" y="1446.5" font-size="21" text-anchor="middle" dominant-baseline="central" fill="#111">4</text><text x="938.9" y="1446.5" font-size="21" text-anchor="middle" dominant-baseline="central" fill="#111">6</text><text x="997.5" y="1446.5" font-size="21" text-anchor="middle" dominant-baseline="central" fill="#111">8</text><text x="1056.1" y="1446.5" font-size="21" text-anchor="middle" dominant-baseline="central" fill="#111">10</text><text x="728.8" y="1077.9" font-size="21" text-anchor="end" dominant-baseline="central" fill="#111">0.0005</text><text x="728.8" y="1154.8" font-size="21" text-anchor="end" dominant-baseline="central" fill="#111">0.0000</text><text x="728.8" y="1232.4" font-size="21" text-anchor="end" dominant-baseline="central" fill="#111">–0.0005</text><text x="728.8" y="1310.3" font-size="21" text-anchor="end" dominant-baseline="central" fill="#111">–0.0010</text><text x="728.8" y="1388.2" font-size="21" text-anchor="end" dominant-baseline="central" fill="#111">–0.0015</text><text x="902.4" y="1489.5" font-size="21.2" text-anchor="middle" dominant-baseline="central" fill="#111">Time (ps)</text><text transform="translate(622.9 1233.4) rotate(-90)" font-size="21" text-anchor="middle" dominant-baseline="central" fill="#111"><tspan font-size="17.5">Δ</tspan>A (OD)</text><circle cx="842.3" cy="1211.4" r="3.8" fill="none" stroke="#a5d68c" stroke-width="1"/><text x="865.0" y="1210.7" font-size="21" dominant-baseline="central" fill="#111">Kinetic at 532 nm</text><line x1="831.8" y1="1240.4" x2="854.5" y2="1240.4" stroke="#1c1c1c" stroke-width="3.2"/><text x="865.0" y="1240.4" font-size="21" dominant-baseline="central" fill="#111">Fit</text></g><g><g fill="none" stroke="#f2a4d6" stroke-width="1" clip-path="url(#cpF)" filter="url(#b05)"><circle cx="1296.7" cy="1116.3" r="3.6"/><circle cx="1297.7" cy="1105.0" r="3.6"/><circle cx="1298.8" cy="1121.2" r="3.6"/><circle cx="1299.9" cy="1128.2" r="3.6"/><circle cx="1301.0" cy="1113.7" r="3.6"/><circle cx="1302.0" cy="1111.0" r="3.6"/><circle cx="1303.1" cy="1112.7" r="3.6"/><circle cx="1304.2" cy="1111.7" r="3.6"/><circle cx="1305.2" cy="1116.1" r="3.6"/><circle cx="1306.3" cy="1119.4" r="3.6"/><circle cx="1307.4" cy="1120.5" r="3.6"/><circle cx="1308.5" cy="1116.7" r="3.6"/><circle cx="1309.5" cy="1117.8" r="3.6"/><circle cx="1310.6" cy="1108.5" r="3.6"/><circle cx="1311.7" cy="1110.7" r="3.6"/><circle cx="1312.8" cy="1123.9" r="3.6"/><circle cx="1313.8" cy="1110.2" r="3.6"/><circle cx="1314.9" cy="1115.5" r="3.6"/><circle cx="1316.0" cy="1108.0" r="3.6"/><circle cx="1317.0" cy="1106.7" r="3.6"/><circle cx="1318.1" cy="1116.5" r="3.6"/><circle cx="1319.2" cy="1139.1" r="3.6"/><circle cx="1320.3" cy="1132.6" r="3.6"/><circle cx="1321.3" cy="1165.6" r="3.6"/><circle cx="1322.4" cy="1168.3" r="3.6"/><circle cx="1323.5" cy="1216.4" r="3.6"/><circle cx="1324.6" cy="1251.1" r="3.6"/><circle cx="1325.6" cy="1277.0" r="3.6"/><circle cx="1326.7" cy="1326.8" r="3.6"/><circle cx="1327.8" cy="1329.1" r="3.6"/><circle cx="1328.9" cy="1343.0" r="3.6"/><circle cx="1329.9" cy="1337.6" r="3.6"/><circle cx="1331.0" cy="1332.7" r="3.6"/><circle cx="1332.1" cy="1312.1" r="3.6"/><circle cx="1333.1" cy="1307.6" r="3.6"/><circle cx="1334.2" cy="1291.2" r="3.6"/><circle cx="1335.3" cy="1277.7" r="3.6"/><circle cx="1336.4" cy="1283.6" r="3.6"/><circle cx="1337.4" cy="1251.3" r="3.6"/><circle cx="1338.5" cy="1253.6" r="3.6"/><circle cx="1339.6" cy="1254.9" r="3.6"/><circle cx="1340.7" cy="1239.7" r="3.6"/><circle cx="1341.7" cy="1221.3" r="3.6"/><circle cx="1342.8" cy="1213.4" r="3.6"/><circle cx="1343.9" cy="1219.0" r="3.6"/><circle cx="1345.0" cy="1207.3" r="3.6"/><circle cx="1346.0" cy="1200.8" r="3.6"/><circle cx="1347.1" cy="1189.9" r="3.6"/><circle cx="1348.2" cy="1193.4" r="3.6"/><circle cx="1349.2" cy="1181.0" r="3.6"/><circle cx="1350.3" cy="1190.2" r="3.6"/><circle cx="1351.4" cy="1185.1" r="3.6"/><circle cx="1352.5" cy="1171.7" r="3.6"/><circle cx="1353.5" cy="1167.9" r="3.6"/><circle cx="1354.6" cy="1170.3" r="3.6"/><circle cx="1355.7" cy="1162.8" r="3.6"/><circle cx="1356.8" cy="1162.9" r="3.6"/><circle cx="1357.8" cy="1156.4" r="3.6"/><circle cx="1358.9" cy="1151.2" r="3.6"/><circle cx="1360.0" cy="1153.7" r="3.6"/><circle cx="1361.1" cy="1149.5" r="3.6"/><circle cx="1362.1" cy="1156.3" r="3.6"/><circle cx="1363.2" cy="1155.7" r="3.6"/><circle cx="1364.3" cy="1166.9" r="3.6"/><circle cx="1365.3" cy="1145.6" r="3.6"/><circle cx="1366.4" cy="1146.9" r="3.6"/><circle cx="1367.5" cy="1141.9" r="3.6"/><circle cx="1368.6" cy="1157.9" r="3.6"/><circle cx="1369.6" cy="1146.8" r="3.6"/><circle cx="1370.7" cy="1146.2" r="3.6"/><circle cx="1371.8" cy="1154.1" r="3.6"/><circle cx="1372.9" cy="1133.7" r="3.6"/><circle cx="1373.9" cy="1130.6" r="3.6"/><circle cx="1375.0" cy="1147.6" r="3.6"/><circle cx="1376.1" cy="1134.5" r="3.6"/><circle cx="1377.2" cy="1124.5" r="3.6"/><circle cx="1378.2" cy="1144.9" r="3.6"/><circle cx="1379.3" cy="1128.4" r="3.6"/><circle cx="1380.4" cy="1123.5" r="3.6"/><circle cx="1381.4" cy="1120.9" r="3.6"/><circle cx="1382.5" cy="1143.5" r="3.6"/><circle cx="1383.6" cy="1140.8" r="3.6"/><circle cx="1384.7" cy="1131.2" r="3.6"/><circle cx="1385.7" cy="1123.6" r="3.6"/><circle cx="1386.8" cy="1140.8" r="3.6"/><circle cx="1387.9" cy="1136.7" r="3.6"/><circle cx="1389.0" cy="1138.9" r="3.6"/><circle cx="1390.0" cy="1122.6" r="3.6"/><circle cx="1391.1" cy="1134.2" r="3.6"/><circle cx="1392.2" cy="1125.7" r="3.6"/><circle cx="1393.3" cy="1124.9" r="3.6"/><circle cx="1394.3" cy="1120.8" r="3.6"/><circle cx="1395.4" cy="1125.9" r="3.6"/><circle cx="1396.5" cy="1126.1" r="3.6"/><circle cx="1397.5" cy="1120.0" r="3.6"/><circle cx="1398.6" cy="1124.6" r="3.6"/><circle cx="1399.7" cy="1136.8" r="3.6"/><circle cx="1400.8" cy="1131.4" r="3.6"/><circle cx="1401.8" cy="1120.7" r="3.6"/><circle cx="1402.9" cy="1126.0" r="3.6"/><circle cx="1404.0" cy="1129.3" r="3.6"/><circle cx="1405.1" cy="1124.8" r="3.6"/><circle cx="1406.1" cy="1102.5" r="3.6"/><circle cx="1407.2" cy="1126.6" r="3.6"/><circle cx="1408.3" cy="1122.5" r="3.6"/><circle cx="1409.4" cy="1122.5" r="3.6"/><circle cx="1410.4" cy="1127.6" r="3.6"/><circle cx="1411.5" cy="1116.9" r="3.6"/><circle cx="1412.6" cy="1119.1" r="3.6"/><circle cx="1413.6" cy="1122.2" r="3.6"/><circle cx="1414.7" cy="1134.7" r="3.6"/><circle cx="1415.8" cy="1115.7" r="3.6"/><circle cx="1416.9" cy="1119.1" r="3.6"/><circle cx="1417.9" cy="1125.1" r="3.6"/><circle cx="1419.0" cy="1143.8" r="3.6"/><circle cx="1420.1" cy="1124.6" r="3.6"/><circle cx="1421.2" cy="1132.8" r="3.6"/><circle cx="1422.2" cy="1125.6" r="3.6"/><circle cx="1423.3" cy="1127.5" r="3.6"/><circle cx="1424.4" cy="1129.6" r="3.6"/><circle cx="1425.5" cy="1116.2" r="3.6"/><circle cx="1426.5" cy="1122.6" r="3.6"/><circle cx="1427.6" cy="1114.4" r="3.6"/><circle cx="1428.7" cy="1130.1" r="3.6"/><circle cx="1429.7" cy="1124.4" r="3.6"/><circle cx="1430.8" cy="1113.1" r="3.6"/><circle cx="1431.9" cy="1120.5" r="3.6"/><circle cx="1433.0" cy="1128.0" r="3.6"/><circle cx="1434.0" cy="1129.0" r="3.6"/><circle cx="1435.1" cy="1126.8" r="3.6"/><circle cx="1436.2" cy="1123.0" r="3.6"/><circle cx="1437.3" cy="1117.3" r="3.6"/><circle cx="1438.3" cy="1121.1" r="3.6"/><circle cx="1439.4" cy="1116.7" r="3.6"/><circle cx="1440.5" cy="1115.9" r="3.6"/><circle cx="1441.6" cy="1121.0" r="3.6"/><circle cx="1442.6" cy="1112.5" r="3.6"/><circle cx="1443.7" cy="1116.4" r="3.6"/><circle cx="1444.8" cy="1123.0" r="3.6"/><circle cx="1445.8" cy="1122.7" r="3.6"/><circle cx="1446.9" cy="1121.6" r="3.6"/><circle cx="1448.0" cy="1126.7" r="3.6"/><circle cx="1449.1" cy="1131.0" r="3.6"/><circle cx="1450.1" cy="1120.9" r="3.6"/><circle cx="1451.2" cy="1124.8" r="3.6"/><circle cx="1452.3" cy="1116.8" r="3.6"/><circle cx="1453.4" cy="1125.3" r="3.6"/><circle cx="1454.4" cy="1120.2" r="3.6"/><circle cx="1455.5" cy="1119.4" r="3.6"/><circle cx="1456.6" cy="1124.1" r="3.6"/><circle cx="1457.7" cy="1119.3" r="3.6"/><circle cx="1458.7" cy="1125.8" r="3.6"/><circle cx="1459.8" cy="1123.6" r="3.6"/><circle cx="1460.9" cy="1114.6" r="3.6"/><circle cx="1461.9" cy="1117.6" r="3.6"/><circle cx="1463.0" cy="1120.3" r="3.6"/><circle cx="1464.1" cy="1125.9" r="3.6"/><circle cx="1465.2" cy="1115.1" r="3.6"/><circle cx="1466.2" cy="1105.7" r="3.6"/><circle cx="1467.3" cy="1135.7" r="3.6"/><circle cx="1468.4" cy="1112.4" r="3.6"/><circle cx="1469.5" cy="1118.3" r="3.6"/><circle cx="1470.5" cy="1111.9" r="3.6"/><circle cx="1471.6" cy="1111.3" r="3.6"/><circle cx="1472.7" cy="1127.0" r="3.6"/><circle cx="1473.8" cy="1107.1" r="3.6"/><circle cx="1474.8" cy="1123.9" r="3.6"/><circle cx="1475.9" cy="1121.3" r="3.6"/><circle cx="1477.0" cy="1114.9" r="3.6"/><circle cx="1478.0" cy="1120.0" r="3.6"/><circle cx="1479.1" cy="1117.4" r="3.6"/><circle cx="1480.2" cy="1123.0" r="3.6"/><circle cx="1481.3" cy="1126.7" r="3.6"/><circle cx="1482.3" cy="1119.1" r="3.6"/><circle cx="1483.4" cy="1127.0" r="3.6"/><circle cx="1484.5" cy="1109.4" r="3.6"/><circle cx="1485.6" cy="1117.3" r="3.6"/><circle cx="1486.6" cy="1108.8" r="3.6"/><circle cx="1487.7" cy="1127.9" r="3.6"/><circle cx="1488.8" cy="1133.9" r="3.6"/><circle cx="1489.8" cy="1135.3" r="3.6"/><circle cx="1490.9" cy="1121.5" r="3.6"/><circle cx="1492.0" cy="1128.0" r="3.6"/><circle cx="1493.1" cy="1116.1" r="3.6"/><circle cx="1494.1" cy="1129.2" r="3.6"/><circle cx="1495.2" cy="1128.6" r="3.6"/><circle cx="1496.3" cy="1116.5" r="3.6"/><circle cx="1497.4" cy="1121.3" r="3.6"/><circle cx="1498.4" cy="1113.6" r="3.6"/><circle cx="1499.5" cy="1112.6" r="3.6"/><circle cx="1500.6" cy="1115.8" r="3.6"/><circle cx="1501.7" cy="1127.1" r="3.6"/><circle cx="1502.7" cy="1124.5" r="3.6"/><circle cx="1503.8" cy="1101.9" r="3.6"/><circle cx="1504.9" cy="1119.8" r="3.6"/><circle cx="1505.9" cy="1116.0" r="3.6"/><circle cx="1507.0" cy="1117.2" r="3.6"/><circle cx="1508.1" cy="1118.3" r="3.6"/><circle cx="1509.2" cy="1119.3" r="3.6"/><circle cx="1510.2" cy="1122.1" r="3.6"/><circle cx="1511.3" cy="1121.7" r="3.6"/><circle cx="1512.4" cy="1132.4" r="3.6"/><circle cx="1513.5" cy="1105.8" r="3.6"/><circle cx="1514.5" cy="1118.6" r="3.6"/><circle cx="1515.6" cy="1127.3" r="3.6"/><circle cx="1516.7" cy="1114.0" r="3.6"/><circle cx="1517.8" cy="1112.9" r="3.6"/><circle cx="1518.8" cy="1128.1" r="3.6"/><circle cx="1519.9" cy="1121.4" r="3.6"/><circle cx="1521.0" cy="1106.8" r="3.6"/><circle cx="1522.0" cy="1113.7" r="3.6"/><circle cx="1523.1" cy="1114.5" r="3.6"/><circle cx="1524.2" cy="1110.3" r="3.6"/><circle cx="1525.3" cy="1118.4" r="3.6"/><circle cx="1526.3" cy="1119.6" r="3.6"/><circle cx="1527.4" cy="1105.9" r="3.6"/><circle cx="1528.5" cy="1118.7" r="3.6"/><circle cx="1529.6" cy="1117.9" r="3.6"/><circle cx="1530.6" cy="1112.7" r="3.6"/><circle cx="1531.7" cy="1117.1" r="3.6"/><circle cx="1532.8" cy="1126.2" r="3.6"/><circle cx="1533.9" cy="1103.6" r="3.6"/><circle cx="1534.9" cy="1117.7" r="3.6"/><circle cx="1536.0" cy="1104.2" r="3.6"/><circle cx="1537.1" cy="1113.5" r="3.6"/><circle cx="1538.1" cy="1123.7" r="3.6"/><circle cx="1539.2" cy="1106.0" r="3.6"/><circle cx="1540.3" cy="1118.3" r="3.6"/><circle cx="1541.4" cy="1123.2" r="3.6"/><circle cx="1542.4" cy="1117.2" r="3.6"/><circle cx="1543.5" cy="1132.4" r="3.6"/><circle cx="1544.6" cy="1114.0" r="3.6"/><circle cx="1545.7" cy="1122.2" r="3.6"/><circle cx="1546.7" cy="1118.7" r="3.6"/><circle cx="1547.8" cy="1123.3" r="3.6"/><circle cx="1548.9" cy="1112.0" r="3.6"/><circle cx="1550.0" cy="1114.2" r="3.6"/><circle cx="1551.0" cy="1109.0" r="3.6"/><circle cx="1552.1" cy="1104.8" r="3.6"/><circle cx="1553.2" cy="1114.7" r="3.6"/><circle cx="1554.2" cy="1116.1" r="3.6"/><circle cx="1555.3" cy="1114.5" r="3.6"/><circle cx="1556.4" cy="1122.6" r="3.6"/><circle cx="1557.5" cy="1120.6" r="3.6"/><circle cx="1558.5" cy="1111.2" r="3.6"/><circle cx="1559.6" cy="1122.8" r="3.6"/><circle cx="1560.7" cy="1130.6" r="3.6"/><circle cx="1561.8" cy="1119.1" r="3.6"/><circle cx="1562.8" cy="1114.7" r="3.6"/><circle cx="1563.9" cy="1106.0" r="3.6"/><circle cx="1565.0" cy="1121.7" r="3.6"/><circle cx="1566.1" cy="1123.2" r="3.6"/><circle cx="1567.1" cy="1115.8" r="3.6"/><circle cx="1568.2" cy="1117.6" r="3.6"/><circle cx="1569.3" cy="1114.7" r="3.6"/><circle cx="1570.3" cy="1120.2" r="3.6"/><circle cx="1571.4" cy="1115.0" r="3.6"/><circle cx="1572.5" cy="1120.6" r="3.6"/><circle cx="1573.6" cy="1109.3" r="3.6"/><circle cx="1574.6" cy="1114.4" r="3.6"/><circle cx="1332.6" cy="1376.7" r="3.6"/></g><polyline points="1296.7,1115.7 1302.9,1115.7 1309.1,1115.7 1315.2,1116.1 1316.2,1116.8 1316.8,1117.5 1317.4,1118.8 1317.7,1119.6 1318.0,1120.7 1318.3,1122.0 1318.6,1123.5 1318.9,1125.4 1319.2,1127.6 1319.6,1130.2 1319.9,1133.2 1320.2,1136.8 1320.5,1140.8 1320.8,1145.4 1321.1,1150.7 1321.4,1156.5 1321.7,1163.0 1322.0,1170.1 1322.3,1177.9 1322.6,1186.4 1322.9,1195.4 1323.3,1205.0 1323.6,1215.1 1323.9,1225.7 1324.2,1236.7 1324.5,1247.9 1324.8,1259.4 1325.1,1271.0 1325.4,1282.6 1325.7,1293.8 1326.0,1301.2 1326.3,1308.0 1326.7,1314.1 1327.0,1319.5 1327.3,1324.1 1327.6,1327.9 1327.9,1331.0 1328.2,1333.4 1328.5,1335.1 1328.8,1336.0 1329.7,1335.3 1330.1,1334.1 1330.4,1332.4 1330.7,1330.3 1331.0,1328.0 1331.3,1325.3 1331.6,1322.5 1331.9,1319.5 1332.2,1316.3 1332.5,1313.0 1332.8,1309.7 1333.1,1306.3 1333.4,1302.9 1333.8,1299.5 1334.1,1296.2 1334.4,1292.8 1334.7,1289.5 1335.0,1286.2 1335.3,1282.9 1335.6,1279.8 1335.9,1276.6 1336.2,1273.6 1336.5,1270.6 1336.8,1267.6 1337.2,1264.7 1337.5,1261.9 1337.8,1259.1 1338.1,1256.4 1338.4,1253.7 1338.7,1251.1 1339.0,1248.6 1339.3,1246.1 1339.6,1243.6 1339.9,1241.2 1340.2,1238.9 1340.6,1236.6 1340.9,1234.4 1341.2,1232.2 1341.5,1230.0 1341.8,1228.0 1342.1,1225.9 1342.4,1223.9 1342.7,1221.9 1343.0,1220.0 1343.3,1218.1 1343.6,1216.3 1343.9,1214.5 1344.3,1212.7 1344.6,1211.0 1344.9,1209.3 1345.2,1207.6 1345.5,1206.0 1345.8,1204.4 1346.1,1202.9 1346.4,1201.3 1346.7,1199.8 1347.0,1198.4 1347.3,1197.0 1347.7,1195.6 1348.0,1194.2 1348.3,1192.9 1348.6,1191.5 1348.9,1190.3 1349.2,1189.0 1349.5,1187.8 1349.8,1186.6 1350.1,1185.4 1350.4,1184.2 1350.7,1183.1 1351.1,1182.0 1351.4,1180.9 1351.7,1179.9 1352.0,1178.8 1352.3,1177.8 1352.6,1176.8 1352.9,1175.8 1353.2,1174.9 1353.5,1173.9 1353.8,1173.0 1354.1,1172.1 1354.4,1171.2 1354.8,1170.4 1355.1,1169.5 1355.4,1168.7 1355.7,1167.9 1356.0,1167.1 1356.3,1166.3 1356.6,1165.6 1356.9,1164.8 1357.2,1164.1 1357.5,1163.4 1357.8,1162.7 1358.2,1162.0 1358.5,1161.3 1358.8,1160.7 1359.1,1160.0 1359.4,1159.4 1359.7,1158.8 1360.0,1158.2 1360.6,1157.0 1361.2,1155.8 1361.9,1154.8 1362.5,1153.7 1363.1,1152.7 1363.7,1151.7 1364.3,1150.8 1364.9,1149.9 1365.6,1149.1 1366.2,1148.2 1366.8,1147.4 1367.4,1146.7 1368.0,1145.9 1368.7,1145.2 1369.3,1144.5 1369.9,1143.9 1370.5,1143.2 1371.1,1142.6 1372.1,1141.8 1373.0,1140.9 1373.9,1140.2 1374.8,1139.4 1375.8,1138.7 1376.7,1138.1 1377.6,1137.4 1378.8,1136.6 1380.1,1135.9 1381.3,1135.2 1382.6,1134.5 1383.8,1133.9 1385.3,1133.2 1386.9,1132.6 1388.4,1132.0 1390.3,1131.3 1392.1,1130.7 1394.3,1130.0 1396.4,1129.4 1398.9,1128.8 1401.7,1128.1 1404.8,1127.5 1408.2,1126.8 1411.9,1126.2 1415.9,1125.6 1420.5,1125.0 1425.5,1124.4 1431.0,1123.7 1437.2,1123.1 1443.4,1122.6 1449.6,1122.1 1455.7,1121.6 1461.9,1121.2 1468.1,1120.8 1474.3,1120.4 1480.4,1120.1 1486.6,1119.7 1492.8,1119.5 1499.0,1119.2 1505.2,1118.9 1511.3,1118.7 1517.5,1118.5 1523.7,1118.3 1529.9,1118.1 1536.0,1117.9 1542.2,1117.8 1548.4,1117.6 1554.6,1117.5 1560.7,1117.4 1566.9,1117.2 1573.1,1117.1 1574.6,1117.1" fill="none" stroke="#1c1c1c" stroke-width="2.7" stroke-linejoin="round" filter="url(#b05)"/><g stroke="#8a8a8a" stroke-width="2.0" fill="none" filter="url(#b05)"><rect x="1296.7" y="1065.7" width="305.6" height="351.8"/><line x1="1325.7" y1="1417.5" x2="1325.7" y2="1413.3" stroke-width="1.5"/><line x1="1325.7" y1="1065.7" x2="1325.7" y2="1069.9" stroke-width="1.5"/><line x1="1353.4" y1="1417.5" x2="1353.4" y2="1415.1" stroke-width="1.5"/><line x1="1353.4" y1="1065.7" x2="1353.4" y2="1068.1" stroke-width="1.5"/><line x1="1381.0" y1="1417.5" x2="1381.0" y2="1413.3" stroke-width="1.5"/><line x1="1381.0" y1="1065.7" x2="1381.0" y2="1069.9" stroke-width="1.5"/><line x1="1408.7" y1="1417.5" x2="1408.7" y2="1415.1" stroke-width="1.5"/><line x1="1408.7" y1="1065.7" x2="1408.7" y2="1068.1" stroke-width="1.5"/><line x1="1436.3" y1="1417.5" x2="1436.3" y2="1413.3" stroke-width="1.5"/><line x1="1436.3" y1="1065.7" x2="1436.3" y2="1069.9" stroke-width="1.5"/><line x1="1464.0" y1="1417.5" x2="1464.0" y2="1415.1" stroke-width="1.5"/><line x1="1464.0" y1="1065.7" x2="1464.0" y2="1068.1" stroke-width="1.5"/><line x1="1491.7" y1="1417.5" x2="1491.7" y2="1413.3" stroke-width="1.5"/><line x1="1491.7" y1="1065.7" x2="1491.7" y2="1069.9" stroke-width="1.5"/><line x1="1519.3" y1="1417.5" x2="1519.3" y2="1415.1" stroke-width="1.5"/><line x1="1519.3" y1="1065.7" x2="1519.3" y2="1068.1" stroke-width="1.5"/><line x1="1547.0" y1="1417.5" x2="1547.0" y2="1413.3" stroke-width="1.5"/><line x1="1547.0" y1="1065.7" x2="1547.0" y2="1069.9" stroke-width="1.5"/><line x1="1574.6" y1="1417.5" x2="1574.6" y2="1415.1" stroke-width="1.5"/><line x1="1574.6" y1="1065.7" x2="1574.6" y2="1068.1" stroke-width="1.5"/><line x1="1602.3" y1="1417.5" x2="1602.3" y2="1413.3" stroke-width="1.5"/><line x1="1602.3" y1="1065.7" x2="1602.3" y2="1069.9" stroke-width="1.5"/><line x1="1296.7" y1="1115.7" x2="1300.9" y2="1115.7" stroke-width="1.5"/><line x1="1602.3" y1="1115.7" x2="1598.1" y2="1115.7" stroke-width="1.5"/><line x1="1296.7" y1="1166.3" x2="1299.1" y2="1166.3" stroke-width="1.5"/><line x1="1602.3" y1="1166.3" x2="1599.9" y2="1166.3" stroke-width="1.5"/><line x1="1296.7" y1="1217.0" x2="1300.9" y2="1217.0" stroke-width="1.5"/><line x1="1602.3" y1="1217.0" x2="1598.1" y2="1217.0" stroke-width="1.5"/><line x1="1296.7" y1="1267.0" x2="1299.1" y2="1267.0" stroke-width="1.5"/><line x1="1602.3" y1="1267.0" x2="1599.9" y2="1267.0" stroke-width="1.5"/><line x1="1296.7" y1="1317.2" x2="1300.9" y2="1317.2" stroke-width="1.5"/><line x1="1602.3" y1="1317.2" x2="1598.1" y2="1317.2" stroke-width="1.5"/><line x1="1296.7" y1="1367.3" x2="1299.1" y2="1367.3" stroke-width="1.5"/><line x1="1602.3" y1="1367.3" x2="1599.9" y2="1367.3" stroke-width="1.5"/></g><text x="1325.7" y="1435.0" font-size="21" text-anchor="middle" dominant-baseline="central" fill="#111">0</text><text x="1381.0" y="1435.0" font-size="21" text-anchor="middle" dominant-baseline="central" fill="#111">2</text><text x="1436.3" y="1435.0" font-size="21" text-anchor="middle" dominant-baseline="central" fill="#111">4</text><text x="1491.7" y="1435.0" font-size="21" text-anchor="middle" dominant-baseline="central" fill="#111">6</text><text x="1547.0" y="1435.0" font-size="21" text-anchor="middle" dominant-baseline="central" fill="#111">8</text><text x="1602.3" y="1435.0" font-size="21" text-anchor="middle" dominant-baseline="central" fill="#111">10</text><text x="1287.9" y="1115.7" font-size="21" text-anchor="end" dominant-baseline="central" fill="#111">0.0000</text><text x="1287.9" y="1217.0" font-size="21" text-anchor="end" dominant-baseline="central" fill="#111">–0.0005</text><text x="1287.9" y="1317.2" font-size="21" text-anchor="end" dominant-baseline="central" fill="#111">–0.0010</text><text x="1287.9" y="1417.5" font-size="21" text-anchor="end" dominant-baseline="central" fill="#111">–0.0015</text><text x="1459.1" y="1479.0" font-size="21.2" text-anchor="middle" dominant-baseline="central" fill="#111">Time (ps)</text><text transform="translate(1187.3 1266.6) rotate(-90)" font-size="21" text-anchor="middle" dominant-baseline="central" fill="#111"><tspan font-size="17.5">Δ</tspan>A (OD)</text><circle cx="1402.2" cy="1190.8" r="3.8" fill="none" stroke="#f2a4d6" stroke-width="1"/><text x="1420.7" y="1190.4" font-size="21" dominant-baseline="central" fill="#111">Kinetic at 1103 nm</text><line x1="1391.0" y1="1220.1" x2="1413.0" y2="1220.1" stroke="#1c1c1c" stroke-width="3.2"/><text x="1420.7" y="1220.1" font-size="21" dominant-baseline="central" fill="#111">Fit</text></g><g><g fill="none" stroke="#f6b0b8" stroke-width="1" clip-path="url(#cpG)" filter="url(#b05)"><circle cx="246.8" cy="2109.1" r="3.6"/><circle cx="247.9" cy="2110.1" r="3.6"/><circle cx="248.9" cy="2118.9" r="3.6"/><circle cx="250.0" cy="2121.0" r="3.6"/><circle cx="251.0" cy="2114.1" r="3.6"/><circle cx="252.1" cy="2110.8" r="3.6"/><circle cx="253.1" cy="2114.3" r="3.6"/><circle cx="254.2" cy="2119.2" r="3.6"/><circle cx="255.2" cy="2115.6" r="3.6"/><circle cx="256.3" cy="2108.3" r="3.6"/><circle cx="257.3" cy="2118.9" r="3.6"/><circle cx="258.4" cy="2109.8" r="3.6"/><circle cx="259.4" cy="2111.7" r="3.6"/><circle cx="260.5" cy="2111.9" r="3.6"/><circle cx="261.5" cy="2110.8" r="3.6"/><circle cx="262.5" cy="2115.8" r="3.6"/><circle cx="263.6" cy="2114.2" r="3.6"/><circle cx="264.6" cy="2107.0" r="3.6"/><circle cx="265.7" cy="2115.3" r="3.6"/><circle cx="266.7" cy="2115.7" r="3.6"/><circle cx="267.8" cy="2119.9" r="3.6"/><circle cx="268.8" cy="2117.5" r="3.6"/><circle cx="269.9" cy="2114.8" r="3.6"/><circle cx="270.9" cy="2116.2" r="3.6"/><circle cx="272.0" cy="2123.8" r="3.6"/><circle cx="273.0" cy="2131.9" r="3.6"/><circle cx="274.1" cy="2143.4" r="3.6"/><circle cx="275.1" cy="2159.3" r="3.6"/><circle cx="276.2" cy="2175.1" r="3.6"/><circle cx="277.2" cy="2198.6" r="3.6"/><circle cx="278.3" cy="2212.3" r="3.6"/><circle cx="279.3" cy="2233.4" r="3.6"/><circle cx="280.4" cy="2253.4" r="3.6"/><circle cx="281.4" cy="2263.0" r="3.6"/><circle cx="282.5" cy="2266.0" r="3.6"/><circle cx="283.5" cy="2270.6" r="3.6"/><circle cx="284.6" cy="2274.0" r="3.6"/><circle cx="285.6" cy="2270.6" r="3.6"/><circle cx="286.6" cy="2263.8" r="3.6"/><circle cx="287.7" cy="2258.8" r="3.6"/><circle cx="288.7" cy="2252.4" r="3.6"/><circle cx="289.8" cy="2253.8" r="3.6"/><circle cx="290.8" cy="2244.3" r="3.6"/><circle cx="291.9" cy="2236.9" r="3.6"/><circle cx="292.9" cy="2234.7" r="3.6"/><circle cx="294.0" cy="2224.8" r="3.6"/><circle cx="295.0" cy="2228.7" r="3.6"/><circle cx="296.1" cy="2222.7" r="3.6"/><circle cx="297.1" cy="2217.8" r="3.6"/><circle cx="298.2" cy="2215.9" r="3.6"/><circle cx="299.2" cy="2210.7" r="3.6"/><circle cx="300.3" cy="2205.9" r="3.6"/><circle cx="301.3" cy="2203.2" r="3.6"/><circle cx="302.4" cy="2201.4" r="3.6"/><circle cx="303.4" cy="2197.8" r="3.6"/><circle cx="304.5" cy="2193.1" r="3.6"/><circle cx="305.5" cy="2195.4" r="3.6"/><circle cx="306.6" cy="2185.9" r="3.6"/><circle cx="307.6" cy="2187.7" r="3.6"/><circle cx="308.6" cy="2181.6" r="3.6"/><circle cx="309.7" cy="2182.0" r="3.6"/><circle cx="310.7" cy="2174.9" r="3.6"/><circle cx="311.8" cy="2174.0" r="3.6"/><circle cx="312.8" cy="2171.1" r="3.6"/><circle cx="313.9" cy="2170.4" r="3.6"/><circle cx="314.9" cy="2164.9" r="3.6"/><circle cx="316.0" cy="2157.1" r="3.6"/><circle cx="317.0" cy="2167.5" r="3.6"/><circle cx="318.1" cy="2156.8" r="3.6"/><circle cx="319.1" cy="2155.8" r="3.6"/><circle cx="320.2" cy="2156.0" r="3.6"/><circle cx="321.2" cy="2157.4" r="3.6"/><circle cx="322.3" cy="2145.0" r="3.6"/><circle cx="323.3" cy="2148.3" r="3.6"/><circle cx="324.4" cy="2143.5" r="3.6"/><circle cx="325.4" cy="2146.9" r="3.6"/><circle cx="326.5" cy="2146.7" r="3.6"/><circle cx="327.5" cy="2138.3" r="3.6"/><circle cx="328.6" cy="2138.0" r="3.6"/><circle cx="329.6" cy="2140.4" r="3.6"/><circle cx="330.6" cy="2138.6" r="3.6"/><circle cx="331.7" cy="2134.1" r="3.6"/><circle cx="332.7" cy="2138.0" r="3.6"/><circle cx="333.8" cy="2136.8" r="3.6"/><circle cx="334.8" cy="2132.7" r="3.6"/><circle cx="335.9" cy="2127.6" r="3.6"/><circle cx="336.9" cy="2126.9" r="3.6"/><circle cx="338.0" cy="2128.2" r="3.6"/><circle cx="339.0" cy="2122.9" r="3.6"/><circle cx="340.1" cy="2127.3" r="3.6"/><circle cx="341.1" cy="2127.5" r="3.6"/><circle cx="342.2" cy="2116.0" r="3.6"/><circle cx="343.2" cy="2125.5" r="3.6"/><circle cx="344.3" cy="2120.5" r="3.6"/><circle cx="345.3" cy="2119.8" r="3.6"/><circle cx="346.4" cy="2120.5" r="3.6"/><circle cx="347.4" cy="2119.2" r="3.6"/><circle cx="348.5" cy="2116.7" r="3.6"/><circle cx="349.5" cy="2116.4" r="3.6"/><circle cx="350.6" cy="2119.8" r="3.6"/><circle cx="351.6" cy="2116.8" r="3.6"/><circle cx="352.7" cy="2111.0" r="3.6"/><circle cx="353.7" cy="2112.7" r="3.6"/><circle cx="354.7" cy="2116.3" r="3.6"/><circle cx="355.8" cy="2113.8" r="3.6"/><circle cx="356.8" cy="2117.0" r="3.6"/><circle cx="357.9" cy="2117.5" r="3.6"/><circle cx="358.9" cy="2114.1" r="3.6"/><circle cx="360.0" cy="2105.6" r="3.6"/><circle cx="361.0" cy="2113.2" r="3.6"/><circle cx="362.1" cy="2117.7" r="3.6"/><circle cx="363.1" cy="2110.3" r="3.6"/><circle cx="364.2" cy="2111.8" r="3.6"/><circle cx="365.2" cy="2106.1" r="3.6"/><circle cx="366.3" cy="2103.8" r="3.6"/><circle cx="367.3" cy="2109.0" r="3.6"/><circle cx="368.4" cy="2106.9" r="3.6"/><circle cx="369.4" cy="2110.2" r="3.6"/><circle cx="370.5" cy="2102.0" r="3.6"/><circle cx="371.5" cy="2108.7" r="3.6"/><circle cx="372.6" cy="2105.5" r="3.6"/><circle cx="373.6" cy="2096.5" r="3.6"/><circle cx="374.7" cy="2108.2" r="3.6"/><circle cx="375.7" cy="2103.8" r="3.6"/><circle cx="376.7" cy="2104.3" r="3.6"/><circle cx="377.8" cy="2102.0" r="3.6"/><circle cx="378.8" cy="2101.6" r="3.6"/><circle cx="379.9" cy="2097.6" r="3.6"/><circle cx="380.9" cy="2100.9" r="3.6"/><circle cx="382.0" cy="2100.2" r="3.6"/><circle cx="383.0" cy="2106.6" r="3.6"/><circle cx="384.1" cy="2100.3" r="3.6"/><circle cx="385.1" cy="2106.3" r="3.6"/><circle cx="386.2" cy="2096.7" r="3.6"/><circle cx="387.2" cy="2101.1" r="3.6"/><circle cx="388.3" cy="2097.1" r="3.6"/><circle cx="389.3" cy="2102.2" r="3.6"/><circle cx="390.4" cy="2099.2" r="3.6"/><circle cx="391.4" cy="2099.5" r="3.6"/><circle cx="392.5" cy="2097.6" r="3.6"/><circle cx="393.5" cy="2099.7" r="3.6"/><circle cx="394.6" cy="2101.3" r="3.6"/><circle cx="395.6" cy="2100.3" r="3.6"/><circle cx="396.7" cy="2101.1" r="3.6"/><circle cx="397.7" cy="2101.8" r="3.6"/><circle cx="398.8" cy="2102.7" r="3.6"/><circle cx="399.8" cy="2103.4" r="3.6"/><circle cx="400.8" cy="2090.9" r="3.6"/><circle cx="401.9" cy="2100.4" r="3.6"/><circle cx="402.9" cy="2101.5" r="3.6"/><circle cx="404.0" cy="2093.7" r="3.6"/><circle cx="405.0" cy="2096.1" r="3.6"/><circle cx="406.1" cy="2097.4" r="3.6"/><circle cx="407.1" cy="2092.6" r="3.6"/><circle cx="408.2" cy="2089.8" r="3.6"/><circle cx="409.2" cy="2099.6" r="3.6"/><circle cx="410.3" cy="2091.1" r="3.6"/><circle cx="411.3" cy="2094.1" r="3.6"/><circle cx="412.4" cy="2091.7" r="3.6"/><circle cx="413.4" cy="2097.8" r="3.6"/><circle cx="414.5" cy="2089.6" r="3.6"/><circle cx="415.5" cy="2091.3" r="3.6"/><circle cx="416.6" cy="2105.0" r="3.6"/><circle cx="417.6" cy="2090.6" r="3.6"/><circle cx="418.7" cy="2090.3" r="3.6"/><circle cx="419.7" cy="2100.1" r="3.6"/><circle cx="420.8" cy="2093.7" r="3.6"/><circle cx="421.8" cy="2095.5" r="3.6"/><circle cx="422.8" cy="2093.9" r="3.6"/><circle cx="423.9" cy="2097.7" r="3.6"/><circle cx="424.9" cy="2092.1" r="3.6"/><circle cx="426.0" cy="2091.7" r="3.6"/><circle cx="427.0" cy="2094.6" r="3.6"/><circle cx="428.1" cy="2094.4" r="3.6"/><circle cx="429.1" cy="2100.4" r="3.6"/><circle cx="430.2" cy="2092.0" r="3.6"/><circle cx="431.2" cy="2098.5" r="3.6"/><circle cx="432.3" cy="2093.7" r="3.6"/><circle cx="433.3" cy="2096.6" r="3.6"/><circle cx="434.4" cy="2084.0" r="3.6"/><circle cx="435.4" cy="2093.5" r="3.6"/><circle cx="436.5" cy="2087.8" r="3.6"/><circle cx="437.5" cy="2093.4" r="3.6"/><circle cx="438.6" cy="2093.4" r="3.6"/><circle cx="439.6" cy="2090.4" r="3.6"/><circle cx="440.7" cy="2093.2" r="3.6"/><circle cx="441.7" cy="2084.4" r="3.6"/><circle cx="442.8" cy="2093.6" r="3.6"/><circle cx="443.8" cy="2086.9" r="3.6"/><circle cx="444.9" cy="2097.1" r="3.6"/><circle cx="445.9" cy="2096.0" r="3.6"/><circle cx="446.9" cy="2090.2" r="3.6"/><circle cx="448.0" cy="2097.6" r="3.6"/><circle cx="449.0" cy="2085.2" r="3.6"/><circle cx="450.1" cy="2090.4" r="3.6"/><circle cx="451.1" cy="2092.0" r="3.6"/><circle cx="452.2" cy="2085.8" r="3.6"/><circle cx="453.2" cy="2094.1" r="3.6"/><circle cx="454.3" cy="2094.9" r="3.6"/><circle cx="455.3" cy="2101.6" r="3.6"/><circle cx="456.4" cy="2099.2" r="3.6"/><circle cx="457.4" cy="2093.1" r="3.6"/><circle cx="458.5" cy="2099.5" r="3.6"/><circle cx="459.5" cy="2089.1" r="3.6"/><circle cx="460.6" cy="2088.2" r="3.6"/><circle cx="461.6" cy="2090.1" r="3.6"/><circle cx="462.7" cy="2097.7" r="3.6"/><circle cx="463.7" cy="2094.8" r="3.6"/><circle cx="464.8" cy="2096.7" r="3.6"/><circle cx="465.8" cy="2088.9" r="3.6"/><circle cx="466.9" cy="2087.7" r="3.6"/><circle cx="467.9" cy="2092.3" r="3.6"/><circle cx="468.9" cy="2091.2" r="3.6"/><circle cx="470.0" cy="2090.5" r="3.6"/><circle cx="471.0" cy="2088.6" r="3.6"/><circle cx="472.1" cy="2094.6" r="3.6"/><circle cx="473.1" cy="2094.7" r="3.6"/><circle cx="474.2" cy="2088.3" r="3.6"/><circle cx="475.2" cy="2089.2" r="3.6"/><circle cx="476.3" cy="2089.3" r="3.6"/><circle cx="477.3" cy="2090.8" r="3.6"/><circle cx="478.4" cy="2088.2" r="3.6"/><circle cx="479.4" cy="2089.2" r="3.6"/><circle cx="480.5" cy="2093.2" r="3.6"/><circle cx="481.5" cy="2084.6" r="3.6"/><circle cx="482.6" cy="2086.8" r="3.6"/><circle cx="483.6" cy="2091.7" r="3.6"/><circle cx="484.7" cy="2091.1" r="3.6"/><circle cx="485.7" cy="2093.4" r="3.6"/><circle cx="486.8" cy="2095.9" r="3.6"/><circle cx="487.8" cy="2094.5" r="3.6"/><circle cx="488.9" cy="2095.9" r="3.6"/><circle cx="489.9" cy="2093.0" r="3.6"/><circle cx="491.0" cy="2089.4" r="3.6"/><circle cx="492.0" cy="2090.8" r="3.6"/><circle cx="493.0" cy="2095.8" r="3.6"/><circle cx="494.1" cy="2091.2" r="3.6"/><circle cx="495.1" cy="2092.8" r="3.6"/><circle cx="496.2" cy="2094.5" r="3.6"/><circle cx="497.2" cy="2086.3" r="3.6"/><circle cx="498.3" cy="2094.2" r="3.6"/><circle cx="499.3" cy="2087.0" r="3.6"/><circle cx="500.4" cy="2096.5" r="3.6"/><circle cx="501.4" cy="2089.2" r="3.6"/><circle cx="502.5" cy="2092.8" r="3.6"/><circle cx="503.5" cy="2086.6" r="3.6"/><circle cx="504.6" cy="2088.7" r="3.6"/><circle cx="505.6" cy="2093.0" r="3.6"/><circle cx="506.7" cy="2087.7" r="3.6"/><circle cx="507.7" cy="2085.3" r="3.6"/><circle cx="508.8" cy="2085.1" r="3.6"/><circle cx="509.8" cy="2084.6" r="3.6"/><circle cx="510.9" cy="2091.3" r="3.6"/><circle cx="511.9" cy="2082.0" r="3.6"/><circle cx="513.0" cy="2092.1" r="3.6"/><circle cx="514.0" cy="2090.4" r="3.6"/><circle cx="515.0" cy="2095.6" r="3.6"/><circle cx="516.1" cy="2090.7" r="3.6"/><circle cx="517.1" cy="2095.2" r="3.6"/><circle cx="518.2" cy="2089.4" r="3.6"/><circle cx="519.2" cy="2096.3" r="3.6"/><circle cx="520.3" cy="2082.8" r="3.6"/><circle cx="521.3" cy="2086.7" r="3.6"/><circle cx="522.4" cy="2083.8" r="3.6"/><circle cx="523.4" cy="2085.3" r="3.6"/><circle cx="524.5" cy="2089.1" r="3.6"/><circle cx="525.5" cy="2087.9" r="3.6"/><circle cx="526.6" cy="2088.9" r="3.6"/><circle cx="527.6" cy="2096.6" r="3.6"/><circle cx="528.7" cy="2094.0" r="3.6"/><circle cx="529.7" cy="2091.0" r="3.6"/><circle cx="530.8" cy="2086.1" r="3.6"/><circle cx="531.8" cy="2094.7" r="3.6"/><circle cx="532.9" cy="2088.8" r="3.6"/><circle cx="533.9" cy="2091.6" r="3.6"/><circle cx="535.0" cy="2086.7" r="3.6"/><circle cx="536.0" cy="2086.6" r="3.6"/><circle cx="537.1" cy="2093.3" r="3.6"/><circle cx="538.1" cy="2093.7" r="3.6"/><circle cx="539.1" cy="2083.9" r="3.6"/><circle cx="540.2" cy="2085.4" r="3.6"/><circle cx="541.2" cy="2089.5" r="3.6"/><circle cx="542.3" cy="2086.2" r="3.6"/><circle cx="543.3" cy="2089.1" r="3.6"/><circle cx="544.4" cy="2087.5" r="3.6"/><circle cx="545.4" cy="2090.8" r="3.6"/><circle cx="546.5" cy="2087.2" r="3.6"/><circle cx="547.5" cy="2083.0" r="3.6"/><circle cx="548.6" cy="2083.8" r="3.6"/><circle cx="549.6" cy="2084.5" r="3.6"/><circle cx="550.7" cy="2088.7" r="3.6"/><circle cx="551.7" cy="2085.6" r="3.6"/><circle cx="552.8" cy="2090.8" r="3.6"/><circle cx="553.8" cy="2090.3" r="3.6"/><circle cx="554.9" cy="2088.6" r="3.6"/><circle cx="555.9" cy="2093.2" r="3.6"/><circle cx="557.0" cy="2088.4" r="3.6"/><circle cx="558.0" cy="2095.5" r="3.6"/><circle cx="559.1" cy="2083.0" r="3.6"/><circle cx="560.1" cy="2085.9" r="3.6"/><circle cx="285.1" cy="2302.0" r="3.6"/><circle cx="280.9" cy="2284.9" r="3.6"/><circle cx="290.8" cy="2281.5" r="3.6"/></g><polyline points="248.5,2113.7 254.7,2113.7 261.0,2113.7 267.2,2114.3 268.2,2115.0 268.9,2115.8 269.6,2117.0 270.0,2117.8 270.3,2118.8 270.7,2119.9 271.0,2121.2 271.4,2122.8 271.7,2124.6 272.0,2126.7 272.4,2129.1 272.7,2131.8 273.1,2134.8 273.4,2138.3 273.8,2142.1 274.1,2146.3 274.5,2150.8 274.8,2155.8 275.2,2161.2 275.5,2166.9 275.9,2173.0 276.2,2179.4 276.5,2186.1 276.9,2192.3 277.2,2198.4 277.6,2204.5 277.9,2210.6 278.3,2216.5 278.6,2222.3 279.0,2227.9 279.3,2233.2 279.7,2238.3 280.0,2243.0 280.4,2247.3 280.7,2251.3 281.0,2254.9 281.4,2258.1 281.7,2260.9 282.1,2263.2 282.4,2265.2 282.8,2266.8 283.1,2268.0 283.5,2268.8 284.2,2269.5 285.2,2268.6 285.5,2267.9 285.9,2267.0 286.2,2265.9 286.6,2264.7 286.9,2263.4 287.3,2262.0 287.6,2260.6 288.0,2259.1 288.3,2257.5 288.7,2255.9 289.0,2254.3 289.4,2252.7 289.7,2251.1 290.0,2249.4 290.4,2247.8 290.7,2246.1 291.1,2244.5 291.4,2242.9 291.8,2241.3 292.1,2239.7 292.5,2238.1 292.8,2236.6 293.2,2235.0 293.5,2233.5 293.9,2232.0 294.2,2230.5 294.5,2229.0 294.9,2227.5 295.2,2226.1 295.6,2224.7 295.9,2223.2 296.3,2221.8 296.6,2220.4 297.0,2219.1 297.3,2217.7 297.7,2216.4 298.0,2215.0 298.4,2213.7 298.7,2212.4 299.0,2211.2 299.4,2209.9 299.7,2208.6 300.1,2207.4 300.4,2206.2 300.8,2205.0 301.1,2203.8 301.5,2202.6 301.8,2201.4 302.2,2200.2 302.5,2199.1 302.9,2198.0 303.2,2196.8 303.5,2195.7 303.9,2194.6 304.2,2193.5 304.6,2192.5 304.9,2191.4 305.3,2190.4 305.6,2189.3 306.0,2188.3 306.3,2187.3 306.7,2186.3 307.0,2185.3 307.4,2184.3 307.7,2183.3 308.1,2182.4 308.4,2181.4 308.7,2180.5 309.1,2179.5 309.4,2178.6 309.8,2177.7 310.1,2176.8 310.5,2175.9 310.8,2175.0 311.2,2174.2 311.5,2173.3 311.9,2172.5 312.2,2171.6 312.6,2170.8 312.9,2170.0 313.2,2169.2 313.6,2168.3 313.9,2167.6 314.3,2166.8 314.6,2166.0 315.0,2165.2 315.3,2164.5 315.7,2163.7 316.0,2163.0 316.4,2162.2 316.7,2161.5 317.1,2160.8 317.4,2160.1 317.7,2159.3 318.1,2158.6 318.4,2158.0 318.8,2157.3 319.1,2156.6 319.5,2155.9 319.8,2155.3 320.2,2154.6 320.5,2154.0 320.9,2153.3 321.2,2152.7 321.6,2152.1 321.9,2151.4 322.2,2150.8 322.6,2150.2 323.3,2149.0 324.0,2147.9 324.7,2146.7 325.4,2145.6 326.1,2144.5 326.7,2143.4 327.4,2142.4 328.1,2141.4 328.8,2140.4 329.5,2139.4 330.2,2138.4 330.9,2137.5 331.6,2136.6 332.3,2135.7 333.0,2134.8 333.7,2133.9 334.4,2133.1 335.1,2132.3 335.7,2131.4 336.4,2130.7 337.1,2129.9 337.8,2129.1 338.5,2128.4 339.2,2127.6 339.9,2126.9 340.6,2126.2 341.3,2125.6 342.0,2124.9 342.7,2124.2 343.4,2123.6 344.1,2123.0 344.7,2122.3 345.4,2121.7 346.5,2120.9 347.5,2120.0 348.6,2119.2 349.6,2118.4 350.6,2117.6 351.7,2116.8 352.7,2116.1 353.8,2115.4 354.8,2114.7 355.8,2114.0 356.9,2113.4 357.9,2112.8 358.9,2112.2 360.3,2111.4 361.7,2110.6 363.1,2109.9 364.5,2109.2 365.9,2108.5 367.3,2107.9 368.6,2107.3 370.4,2106.5 372.1,2105.8 373.8,2105.2 375.6,2104.5 377.3,2103.9 379.4,2103.2 381.4,2102.6 383.5,2102.0 386.0,2101.3 388.4,2100.6 391.1,2100.0 393.9,2099.3 397.0,2098.7 400.1,2098.1 403.6,2097.4 407.4,2096.8 411.6,2096.2 416.1,2095.6 421.3,2094.9 427.2,2094.3 433.4,2093.7 439.6,2093.2 445.8,2092.7 452.1,2092.3 458.3,2092.0 464.5,2091.7 470.8,2091.4 477.0,2091.1 483.2,2090.9 489.5,2090.6 495.7,2090.5 501.9,2090.3 508.2,2090.1 514.4,2090.0 520.6,2089.8 526.9,2089.7 533.1,2089.6 539.3,2089.5 545.6,2089.4 551.8,2089.3 558.0,2089.2 560.1,2089.2" fill="none" stroke="#1c1c1c" stroke-width="2.7" stroke-linejoin="round" filter="url(#b05)"/><g stroke="#404040" stroke-width="2.1" fill="none" filter="url(#b05)"><rect x="248.5" y="2028.8" width="311.9" height="299.1"/><line x1="276.6" y1="2327.9" x2="276.6" y2="2317.9" stroke-width="1.6"/><line x1="305.0" y1="2327.9" x2="305.0" y2="2322.9" stroke-width="1.6"/><line x1="333.3" y1="2327.9" x2="333.3" y2="2317.9" stroke-width="1.6"/><line x1="361.7" y1="2327.9" x2="361.7" y2="2322.9" stroke-width="1.6"/><line x1="390.0" y1="2327.9" x2="390.0" y2="2317.9" stroke-width="1.6"/><line x1="418.4" y1="2327.9" x2="418.4" y2="2322.9" stroke-width="1.6"/><line x1="446.7" y1="2327.9" x2="446.7" y2="2317.9" stroke-width="1.6"/><line x1="475.1" y1="2327.9" x2="475.1" y2="2322.9" stroke-width="1.6"/><line x1="503.4" y1="2327.9" x2="503.4" y2="2317.9" stroke-width="1.6"/><line x1="531.8" y1="2327.9" x2="531.8" y2="2322.9" stroke-width="1.6"/><line x1="560.1" y1="2327.9" x2="560.1" y2="2317.9" stroke-width="1.6"/><line x1="248.5" y1="2071.2" x2="252.0" y2="2071.2" stroke-width="1.6"/><line x1="248.5" y1="2113.7" x2="255.5" y2="2113.7" stroke-width="1.6"/><line x1="248.5" y1="2156.5" x2="252.0" y2="2156.5" stroke-width="1.6"/><line x1="248.5" y1="2199.3" x2="255.5" y2="2199.3" stroke-width="1.6"/><line x1="248.5" y1="2242.1" x2="252.0" y2="2242.1" stroke-width="1.6"/><line x1="248.5" y1="2284.9" x2="255.5" y2="2284.9" stroke-width="1.6"/></g><text x="276.6" y="2347.8" font-size="21" text-anchor="middle" dominant-baseline="central" fill="#111">0</text><text x="333.3" y="2347.8" font-size="21" text-anchor="middle" dominant-baseline="central" fill="#111">2</text><text x="390.0" y="2347.8" font-size="21" text-anchor="middle" dominant-baseline="central" fill="#111">4</text><text x="446.7" y="2347.8" font-size="21" text-anchor="middle" dominant-baseline="central" fill="#111">6</text><text x="503.4" y="2347.8" font-size="21" text-anchor="middle" dominant-baseline="central" fill="#111">8</text><text x="560.1" y="2347.8" font-size="21" text-anchor="middle" dominant-baseline="central" fill="#111">10</text><text x="241.5" y="2028.8" font-size="21" text-anchor="end" dominant-baseline="central" fill="#111">0.0005</text><text x="241.5" y="2113.7" font-size="21" text-anchor="end" dominant-baseline="central" fill="#111">0.0000</text><text x="241.5" y="2199.3" font-size="21" text-anchor="end" dominant-baseline="central" fill="#111">–0.0005</text><text x="241.5" y="2284.9" font-size="21" text-anchor="end" dominant-baseline="central" fill="#111">–0.0010</text><text x="405.0" y="2386.2" font-size="21.2" text-anchor="middle" dominant-baseline="central" fill="#111">Time (ps)</text><text transform="translate(134.9 2176.6) rotate(-90)" font-size="21" text-anchor="middle" dominant-baseline="central" fill="#111"><tspan font-size="17.5">Δ</tspan>A (OD)</text><circle cx="367.2" cy="2151.4" r="3.8" fill="none" stroke="#f6b0b8" stroke-width="1"/><text x="389.3" y="2150.4" font-size="21" dominant-baseline="central" fill="#111">Kinetic at 532 nm</text><line x1="356.1" y1="2175.5" x2="377.7" y2="2175.5" stroke="#1c1c1c" stroke-width="3.2"/><text x="391.7" y="2175.5" font-size="21" dominant-baseline="central" fill="#111">Fit</text></g><g><g fill="none" stroke="#b4b4ee" stroke-width="1" clip-path="url(#cpH)" filter="url(#b05)"><circle cx="843.1" cy="2040.3" r="3.6"/><circle cx="844.2" cy="2041.2" r="3.6"/><circle cx="845.3" cy="2041.2" r="3.6"/><circle cx="846.4" cy="2043.8" r="3.6"/><circle cx="847.5" cy="2040.1" r="3.6"/><circle cx="848.6" cy="2041.1" r="3.6"/><circle cx="849.7" cy="2035.7" r="3.6"/><circle cx="850.8" cy="2046.0" r="3.6"/><circle cx="851.9" cy="2028.5" r="3.6"/><circle cx="853.0" cy="2056.7" r="3.6"/><circle cx="854.1" cy="2040.7" r="3.6"/><circle cx="855.2" cy="2036.6" r="3.6"/><circle cx="856.3" cy="2042.0" r="3.6"/><circle cx="857.4" cy="2044.8" r="3.6"/><circle cx="858.5" cy="2041.3" r="3.6"/><circle cx="859.7" cy="2037.5" r="3.6"/><circle cx="860.8" cy="2034.8" r="3.6"/><circle cx="861.9" cy="2048.7" r="3.6"/><circle cx="863.0" cy="2040.0" r="3.6"/><circle cx="864.1" cy="2044.3" r="3.6"/><circle cx="865.2" cy="2035.9" r="3.6"/><circle cx="866.3" cy="2043.7" r="3.6"/><circle cx="867.4" cy="2040.5" r="3.6"/><circle cx="868.5" cy="2036.0" r="3.6"/><circle cx="869.6" cy="2043.4" r="3.6"/><circle cx="870.7" cy="2041.6" r="3.6"/><circle cx="871.8" cy="2048.3" r="3.6"/><circle cx="872.9" cy="2048.8" r="3.6"/><circle cx="874.0" cy="2062.0" r="3.6"/><circle cx="875.1" cy="2064.5" r="3.6"/><circle cx="876.2" cy="2074.5" r="3.6"/><circle cx="877.3" cy="2091.8" r="3.6"/><circle cx="878.5" cy="2099.3" r="3.6"/><circle cx="879.6" cy="2148.3" r="3.6"/><circle cx="880.7" cy="2174.8" r="3.6"/><circle cx="881.8" cy="2187.5" r="3.6"/><circle cx="882.9" cy="2208.4" r="3.6"/><circle cx="884.0" cy="2229.8" r="3.6"/><circle cx="885.1" cy="2238.8" r="3.6"/><circle cx="886.2" cy="2242.9" r="3.6"/><circle cx="887.3" cy="2259.5" r="3.6"/><circle cx="888.4" cy="2263.3" r="3.6"/><circle cx="889.5" cy="2253.5" r="3.6"/><circle cx="890.6" cy="2240.6" r="3.6"/><circle cx="891.7" cy="2237.0" r="3.6"/><circle cx="892.8" cy="2232.0" r="3.6"/><circle cx="893.9" cy="2221.2" r="3.6"/><circle cx="895.0" cy="2213.0" r="3.6"/><circle cx="896.1" cy="2215.1" r="3.6"/><circle cx="897.3" cy="2196.6" r="3.6"/><circle cx="898.4" cy="2195.6" r="3.6"/><circle cx="899.5" cy="2185.7" r="3.6"/><circle cx="900.6" cy="2180.4" r="3.6"/><circle cx="901.7" cy="2171.1" r="3.6"/><circle cx="902.8" cy="2160.7" r="3.6"/><circle cx="903.9" cy="2160.7" r="3.6"/><circle cx="905.0" cy="2153.4" r="3.6"/><circle cx="906.1" cy="2144.5" r="3.6"/><circle cx="907.2" cy="2141.8" r="3.6"/><circle cx="908.3" cy="2142.8" r="3.6"/><circle cx="909.4" cy="2130.9" r="3.6"/><circle cx="910.5" cy="2132.7" r="3.6"/><circle cx="911.6" cy="2128.0" r="3.6"/><circle cx="912.7" cy="2121.7" r="3.6"/><circle cx="913.8" cy="2111.5" r="3.6"/><circle cx="914.9" cy="2120.0" r="3.6"/><circle cx="916.1" cy="2114.3" r="3.6"/><circle cx="917.2" cy="2108.4" r="3.6"/><circle cx="918.3" cy="2110.5" r="3.6"/><circle cx="919.4" cy="2102.7" r="3.6"/><circle cx="920.5" cy="2094.3" r="3.6"/><circle cx="921.6" cy="2107.0" r="3.6"/><circle cx="922.7" cy="2095.4" r="3.6"/><circle cx="923.8" cy="2096.9" r="3.6"/><circle cx="924.9" cy="2080.8" r="3.6"/><circle cx="926.0" cy="2085.9" r="3.6"/><circle cx="927.1" cy="2083.9" r="3.6"/><circle cx="928.2" cy="2085.6" r="3.6"/><circle cx="929.3" cy="2088.4" r="3.6"/><circle cx="930.4" cy="2081.1" r="3.6"/><circle cx="931.5" cy="2078.0" r="3.6"/><circle cx="932.6" cy="2078.1" r="3.6"/><circle cx="933.7" cy="2067.8" r="3.6"/><circle cx="934.9" cy="2071.5" r="3.6"/><circle cx="936.0" cy="2078.5" r="3.6"/><circle cx="937.1" cy="2074.7" r="3.6"/><circle cx="938.2" cy="2070.0" r="3.6"/><circle cx="939.3" cy="2076.4" r="3.6"/><circle cx="940.4" cy="2070.2" r="3.6"/><circle cx="941.5" cy="2071.3" r="3.6"/><circle cx="942.6" cy="2066.3" r="3.6"/><circle cx="943.7" cy="2065.6" r="3.6"/><circle cx="944.8" cy="2068.5" r="3.6"/><circle cx="945.9" cy="2058.1" r="3.6"/><circle cx="947.0" cy="2066.6" r="3.6"/><circle cx="948.1" cy="2059.5" r="3.6"/><circle cx="949.2" cy="2067.4" r="3.6"/><circle cx="950.3" cy="2066.3" r="3.6"/><circle cx="951.4" cy="2063.9" r="3.6"/><circle cx="952.5" cy="2062.2" r="3.6"/><circle cx="953.7" cy="2055.4" r="3.6"/><circle cx="954.8" cy="2066.5" r="3.6"/><circle cx="955.9" cy="2050.1" r="3.6"/><circle cx="957.0" cy="2063.9" r="3.6"/><circle cx="958.1" cy="2049.9" r="3.6"/><circle cx="959.2" cy="2055.9" r="3.6"/><circle cx="960.3" cy="2058.9" r="3.6"/><circle cx="961.4" cy="2051.8" r="3.6"/><circle cx="962.5" cy="2058.0" r="3.6"/><circle cx="963.6" cy="2055.3" r="3.6"/><circle cx="964.7" cy="2054.5" r="3.6"/><circle cx="965.8" cy="2040.1" r="3.6"/><circle cx="966.9" cy="2059.1" r="3.6"/><circle cx="968.0" cy="2044.3" r="3.6"/><circle cx="969.1" cy="2055.0" r="3.6"/><circle cx="970.2" cy="2056.9" r="3.6"/><circle cx="971.3" cy="2055.5" r="3.6"/><circle cx="972.5" cy="2046.5" r="3.6"/><circle cx="973.6" cy="2053.5" r="3.6"/><circle cx="974.7" cy="2056.2" r="3.6"/><circle cx="975.8" cy="2049.0" r="3.6"/><circle cx="976.9" cy="2050.5" r="3.6"/><circle cx="978.0" cy="2046.4" r="3.6"/><circle cx="979.1" cy="2057.2" r="3.6"/><circle cx="980.2" cy="2043.9" r="3.6"/><circle cx="981.3" cy="2045.0" r="3.6"/><circle cx="982.4" cy="2054.5" r="3.6"/><circle cx="983.5" cy="2052.5" r="3.6"/><circle cx="984.6" cy="2048.4" r="3.6"/><circle cx="985.7" cy="2051.8" r="3.6"/><circle cx="986.8" cy="2046.5" r="3.6"/><circle cx="987.9" cy="2047.4" r="3.6"/><circle cx="989.0" cy="2050.3" r="3.6"/><circle cx="990.1" cy="2055.8" r="3.6"/><circle cx="991.3" cy="2060.1" r="3.6"/><circle cx="992.4" cy="2048.5" r="3.6"/><circle cx="993.5" cy="2056.1" r="3.6"/><circle cx="994.6" cy="2044.0" r="3.6"/><circle cx="995.7" cy="2040.8" r="3.6"/><circle cx="996.8" cy="2048.9" r="3.6"/><circle cx="997.9" cy="2045.1" r="3.6"/><circle cx="999.0" cy="2043.1" r="3.6"/><circle cx="1000.1" cy="2045.2" r="3.6"/><circle cx="1001.2" cy="2054.8" r="3.6"/><circle cx="1002.3" cy="2054.1" r="3.6"/><circle cx="1003.4" cy="2051.6" r="3.6"/><circle cx="1004.5" cy="2048.6" r="3.6"/><circle cx="1005.6" cy="2053.2" r="3.6"/><circle cx="1006.7" cy="2047.9" r="3.6"/><circle cx="1007.8" cy="2042.3" r="3.6"/><circle cx="1008.9" cy="2050.8" r="3.6"/><circle cx="1010.0" cy="2048.7" r="3.6"/><circle cx="1011.2" cy="2053.7" r="3.6"/><circle cx="1012.3" cy="2049.3" r="3.6"/><circle cx="1013.4" cy="2044.0" r="3.6"/><circle cx="1014.5" cy="2041.9" r="3.6"/><circle cx="1015.6" cy="2047.4" r="3.6"/><circle cx="1016.7" cy="2052.5" r="3.6"/><circle cx="1017.8" cy="2038.6" r="3.6"/><circle cx="1018.9" cy="2058.8" r="3.6"/><circle cx="1020.0" cy="2050.6" r="3.6"/><circle cx="1021.1" cy="2052.2" r="3.6"/><circle cx="1022.2" cy="2048.3" r="3.6"/><circle cx="1023.3" cy="2045.4" r="3.6"/><circle cx="1024.4" cy="2050.5" r="3.6"/><circle cx="1025.5" cy="2030.3" r="3.6"/><circle cx="1026.6" cy="2037.9" r="3.6"/><circle cx="1027.7" cy="2043.9" r="3.6"/><circle cx="1028.8" cy="2050.6" r="3.6"/><circle cx="1030.0" cy="2055.8" r="3.6"/><circle cx="1031.1" cy="2042.1" r="3.6"/><circle cx="1032.2" cy="2043.7" r="3.6"/><circle cx="1033.3" cy="2045.8" r="3.6"/><circle cx="1034.4" cy="2040.8" r="3.6"/><circle cx="1035.5" cy="2045.6" r="3.6"/><circle cx="1036.6" cy="2055.2" r="3.6"/><circle cx="1037.7" cy="2057.5" r="3.6"/><circle cx="1038.8" cy="2049.9" r="3.6"/><circle cx="1039.9" cy="2047.3" r="3.6"/><circle cx="1041.0" cy="2044.9" r="3.6"/><circle cx="1042.1" cy="2046.6" r="3.6"/><circle cx="1043.2" cy="2048.9" r="3.6"/><circle cx="1044.3" cy="2052.0" r="3.6"/><circle cx="1045.4" cy="2045.2" r="3.6"/><circle cx="1046.5" cy="2044.3" r="3.6"/><circle cx="1047.6" cy="2050.9" r="3.6"/><circle cx="1048.8" cy="2052.8" r="3.6"/><circle cx="1049.9" cy="2050.0" r="3.6"/><circle cx="1051.0" cy="2053.0" r="3.6"/><circle cx="1052.1" cy="2046.9" r="3.6"/><circle cx="1053.2" cy="2054.0" r="3.6"/><circle cx="1054.3" cy="2046.3" r="3.6"/><circle cx="1055.4" cy="2052.2" r="3.6"/><circle cx="1056.5" cy="2045.5" r="3.6"/><circle cx="1057.6" cy="2035.8" r="3.6"/><circle cx="1058.7" cy="2053.6" r="3.6"/><circle cx="1059.8" cy="2047.3" r="3.6"/><circle cx="1060.9" cy="2035.8" r="3.6"/><circle cx="1062.0" cy="2043.2" r="3.6"/><circle cx="1063.1" cy="2046.9" r="3.6"/><circle cx="1064.2" cy="2045.2" r="3.6"/><circle cx="1065.3" cy="2049.3" r="3.6"/><circle cx="1066.4" cy="2055.1" r="3.6"/><circle cx="1067.6" cy="2061.1" r="3.6"/><circle cx="1068.7" cy="2051.6" r="3.6"/><circle cx="1069.8" cy="2051.0" r="3.6"/><circle cx="1070.9" cy="2042.3" r="3.6"/><circle cx="1072.0" cy="2046.5" r="3.6"/><circle cx="1073.1" cy="2055.8" r="3.6"/><circle cx="1074.2" cy="2045.6" r="3.6"/><circle cx="1075.3" cy="2054.3" r="3.6"/><circle cx="1076.4" cy="2041.9" r="3.6"/><circle cx="1077.5" cy="2053.2" r="3.6"/><circle cx="1078.6" cy="2043.6" r="3.6"/><circle cx="1079.7" cy="2047.3" r="3.6"/><circle cx="1080.8" cy="2050.4" r="3.6"/><circle cx="1081.9" cy="2042.4" r="3.6"/><circle cx="1083.0" cy="2049.0" r="3.6"/><circle cx="1084.1" cy="2060.4" r="3.6"/><circle cx="1085.2" cy="2045.8" r="3.6"/><circle cx="1086.4" cy="2052.8" r="3.6"/><circle cx="1087.5" cy="2050.0" r="3.6"/><circle cx="1088.6" cy="2046.7" r="3.6"/><circle cx="1089.7" cy="2044.2" r="3.6"/><circle cx="1090.8" cy="2047.1" r="3.6"/><circle cx="1091.9" cy="2053.2" r="3.6"/><circle cx="1093.0" cy="2051.5" r="3.6"/><circle cx="1094.1" cy="2053.7" r="3.6"/><circle cx="1095.2" cy="2049.2" r="3.6"/><circle cx="1096.3" cy="2051.4" r="3.6"/><circle cx="1097.4" cy="2044.0" r="3.6"/><circle cx="1098.5" cy="2051.5" r="3.6"/><circle cx="1099.6" cy="2043.1" r="3.6"/><circle cx="1100.7" cy="2038.8" r="3.6"/><circle cx="1101.8" cy="2045.5" r="3.6"/><circle cx="1102.9" cy="2048.9" r="3.6"/><circle cx="1104.0" cy="2041.9" r="3.6"/><circle cx="1105.2" cy="2052.4" r="3.6"/><circle cx="1106.3" cy="2048.3" r="3.6"/><circle cx="1107.4" cy="2041.2" r="3.6"/><circle cx="1108.5" cy="2045.0" r="3.6"/><circle cx="1109.6" cy="2048.8" r="3.6"/><circle cx="1110.7" cy="2049.4" r="3.6"/><circle cx="1111.8" cy="2050.5" r="3.6"/><circle cx="1112.9" cy="2040.4" r="3.6"/><circle cx="1114.0" cy="2037.9" r="3.6"/><circle cx="1115.1" cy="2040.4" r="3.6"/><circle cx="1116.2" cy="2047.7" r="3.6"/><circle cx="1117.3" cy="2046.2" r="3.6"/><circle cx="1118.4" cy="2052.1" r="3.6"/><circle cx="1119.5" cy="2053.5" r="3.6"/><circle cx="1120.6" cy="2044.6" r="3.6"/><circle cx="1121.7" cy="2044.5" r="3.6"/><circle cx="1122.8" cy="2054.4" r="3.6"/><circle cx="1124.0" cy="2054.1" r="3.6"/><circle cx="1125.1" cy="2046.2" r="3.6"/><circle cx="1126.2" cy="2054.7" r="3.6"/><circle cx="1127.3" cy="2042.4" r="3.6"/><circle cx="1128.4" cy="2041.8" r="3.6"/><circle cx="1129.5" cy="2053.6" r="3.6"/><circle cx="1130.6" cy="2049.5" r="3.6"/><circle cx="1131.7" cy="2043.2" r="3.6"/><circle cx="1132.8" cy="2042.8" r="3.6"/><circle cx="1133.9" cy="2048.1" r="3.6"/><circle cx="1135.0" cy="2048.6" r="3.6"/><circle cx="1136.1" cy="2049.3" r="3.6"/><circle cx="1137.2" cy="2045.1" r="3.6"/><circle cx="1138.3" cy="2044.9" r="3.6"/><circle cx="1139.4" cy="2049.1" r="3.6"/><circle cx="1140.5" cy="2050.5" r="3.6"/><circle cx="1141.6" cy="2048.5" r="3.6"/><circle cx="1142.8" cy="2049.0" r="3.6"/><circle cx="1143.9" cy="2050.2" r="3.6"/><circle cx="1145.0" cy="2054.5" r="3.6"/><circle cx="1146.1" cy="2047.6" r="3.6"/><circle cx="1147.2" cy="2043.9" r="3.6"/><circle cx="1148.3" cy="2047.5" r="3.6"/><circle cx="1149.4" cy="2041.8" r="3.6"/><circle cx="1150.5" cy="2046.1" r="3.6"/><circle cx="1151.6" cy="2044.2" r="3.6"/><circle cx="893.7" cy="2276.6" r="3.6"/></g><polyline points="845.6,2041.0 851.7,2041.0 857.8,2041.0 864.0,2041.0 869.7,2041.8 870.8,2042.6 871.4,2043.4 872.1,2044.7 872.5,2045.6 872.8,2046.6 873.1,2047.8 873.5,2049.1 873.8,2050.8 874.2,2052.6 874.5,2054.8 874.8,2057.3 875.2,2060.1 875.5,2063.3 875.9,2066.9 876.2,2070.9 876.5,2075.4 876.9,2080.4 877.2,2085.8 877.6,2091.7 877.9,2098.1 878.2,2105.0 878.6,2112.4 878.9,2120.3 879.3,2128.7 879.6,2137.5 879.9,2146.5 880.3,2154.3 880.6,2162.1 881.0,2169.9 881.3,2177.7 881.6,2185.3 882.0,2192.7 882.3,2199.9 882.7,2206.8 883.0,2213.4 883.3,2219.6 883.7,2225.4 884.0,2230.7 884.4,2235.5 884.7,2239.8 885.0,2243.7 885.4,2247.0 885.7,2249.8 886.1,2252.2 886.4,2254.0 886.7,2255.4 887.1,2256.3 888.8,2255.1 889.1,2253.9 889.5,2252.5 889.8,2250.8 890.1,2249.0 890.5,2247.0 890.8,2244.9 891.2,2242.6 891.5,2240.3 891.8,2237.9 892.2,2235.4 892.5,2232.9 892.9,2230.4 893.2,2227.8 893.5,2225.3 893.9,2222.7 894.2,2220.1 894.6,2217.6 894.9,2215.1 895.2,2212.6 895.6,2210.1 895.9,2207.7 896.3,2205.2 896.6,2202.9 896.9,2200.5 897.3,2198.2 897.6,2195.9 898.0,2193.6 898.3,2191.4 898.6,2189.2 899.0,2187.0 899.3,2184.9 899.7,2182.8 900.0,2180.8 900.3,2178.7 900.7,2176.7 901.0,2174.7 901.4,2172.8 901.7,2170.9 902.0,2169.0 902.4,2167.2 902.7,2165.3 903.1,2163.5 903.4,2161.8 903.7,2160.0 904.1,2158.3 904.4,2156.6 904.8,2154.9 905.1,2153.3 905.4,2151.7 905.8,2150.1 906.1,2148.5 906.5,2147.0 906.8,2145.5 907.1,2144.0 907.5,2142.5 907.8,2141.0 908.2,2139.6 908.5,2138.2 908.8,2136.8 909.2,2135.5 909.5,2134.1 909.9,2132.8 910.2,2131.5 910.5,2130.2 910.9,2128.9 911.2,2127.7 911.6,2126.5 911.9,2125.3 912.2,2124.1 912.6,2122.9 912.9,2121.8 913.3,2120.6 913.6,2119.5 913.9,2118.4 914.3,2117.3 914.6,2116.3 915.0,2115.2 915.3,2114.2 915.6,2113.2 916.0,2112.1 916.3,2111.2 916.7,2110.2 917.0,2109.2 917.3,2108.3 917.7,2107.4 918.0,2106.4 918.4,2105.5 918.7,2104.7 919.0,2103.8 919.4,2102.9 919.7,2102.1 920.1,2101.2 920.4,2100.4 920.7,2099.6 921.1,2098.8 921.4,2098.0 921.8,2097.3 922.1,2096.5 922.4,2095.8 922.8,2095.0 923.1,2094.3 923.5,2093.6 923.8,2092.9 924.1,2092.2 924.5,2091.5 924.8,2090.8 925.2,2090.2 925.5,2089.5 925.8,2088.9 926.2,2088.2 926.5,2087.6 926.9,2087.0 927.2,2086.4 927.9,2085.2 928.6,2084.1 929.2,2083.0 929.9,2081.9 930.6,2080.8 931.3,2079.8 932.0,2078.9 932.6,2077.9 933.3,2077.0 934.0,2076.1 934.7,2075.2 935.4,2074.4 936.0,2073.6 936.7,2072.8 937.4,2072.0 938.1,2071.3 938.8,2070.5 939.4,2069.8 940.1,2069.2 940.8,2068.5 941.5,2067.9 942.2,2067.2 943.2,2066.4 944.2,2065.5 945.2,2064.7 946.2,2063.9 947.3,2063.2 948.3,2062.5 949.3,2061.8 950.3,2061.1 951.3,2060.5 952.7,2059.7 954.1,2059.0 955.4,2058.3 956.8,2057.7 958.1,2057.1 959.8,2056.4 961.5,2055.7 963.2,2055.1 965.3,2054.4 967.3,2053.8 969.7,2053.1 972.4,2052.5 975.5,2051.8 978.9,2051.2 983.0,2050.6 987.7,2050.0 993.8,2049.4 1000.0,2048.9 1006.1,2048.6 1012.2,2048.3 1018.3,2048.1 1024.4,2047.9 1030.6,2047.8 1036.7,2047.7 1042.8,2047.7 1048.9,2047.6 1055.0,2047.6 1061.2,2047.5 1067.3,2047.5 1073.4,2047.5 1079.5,2047.5 1085.6,2047.5 1091.8,2047.5 1097.9,2047.5 1104.0,2047.5 1110.1,2047.5 1116.2,2047.5 1122.4,2047.5 1128.5,2047.5 1134.6,2047.5 1140.7,2047.5 1146.8,2047.5 1151.6,2047.5" fill="none" stroke="#1c1c1c" stroke-width="2.7" stroke-linejoin="round" filter="url(#b05)"/><g stroke="#8a8a8a" stroke-width="2.0" fill="none" filter="url(#b05)"><rect x="845.6" y="2000.2" width="336.8" height="323.1"/><line x1="875.3" y1="2323.3" x2="875.3" y2="2319.1" stroke-width="1.5"/><line x1="875.3" y1="2000.2" x2="875.3" y2="2004.4" stroke-width="1.5"/><line x1="906.0" y1="2323.3" x2="906.0" y2="2320.9" stroke-width="1.5"/><line x1="906.0" y1="2000.2" x2="906.0" y2="2002.6" stroke-width="1.5"/><line x1="936.7" y1="2323.3" x2="936.7" y2="2319.1" stroke-width="1.5"/><line x1="936.7" y1="2000.2" x2="936.7" y2="2004.4" stroke-width="1.5"/><line x1="967.4" y1="2323.3" x2="967.4" y2="2320.9" stroke-width="1.5"/><line x1="967.4" y1="2000.2" x2="967.4" y2="2002.6" stroke-width="1.5"/><line x1="998.1" y1="2323.3" x2="998.1" y2="2319.1" stroke-width="1.5"/><line x1="998.1" y1="2000.2" x2="998.1" y2="2004.4" stroke-width="1.5"/><line x1="1028.8" y1="2323.3" x2="1028.8" y2="2320.9" stroke-width="1.5"/><line x1="1028.8" y1="2000.2" x2="1028.8" y2="2002.6" stroke-width="1.5"/><line x1="1059.5" y1="2323.3" x2="1059.5" y2="2319.1" stroke-width="1.5"/><line x1="1059.5" y1="2000.2" x2="1059.5" y2="2004.4" stroke-width="1.5"/><line x1="1090.2" y1="2323.3" x2="1090.2" y2="2320.9" stroke-width="1.5"/><line x1="1090.2" y1="2000.2" x2="1090.2" y2="2002.6" stroke-width="1.5"/><line x1="1120.9" y1="2323.3" x2="1120.9" y2="2319.1" stroke-width="1.5"/><line x1="1120.9" y1="2000.2" x2="1120.9" y2="2004.4" stroke-width="1.5"/><line x1="1151.6" y1="2323.3" x2="1151.6" y2="2320.9" stroke-width="1.5"/><line x1="1151.6" y1="2000.2" x2="1151.6" y2="2002.6" stroke-width="1.5"/><line x1="1182.3" y1="2323.3" x2="1182.3" y2="2319.1" stroke-width="1.5"/><line x1="1182.3" y1="2000.2" x2="1182.3" y2="2004.4" stroke-width="1.5"/><line x1="845.6" y1="2041.0" x2="849.8" y2="2041.0" stroke-width="1.5"/><line x1="1182.4" y1="2041.0" x2="1178.2" y2="2041.0" stroke-width="1.5"/><line x1="845.6" y1="2080.8" x2="848.0" y2="2080.8" stroke-width="1.5"/><line x1="1182.4" y1="2080.8" x2="1180.0" y2="2080.8" stroke-width="1.5"/><line x1="845.6" y1="2120.7" x2="849.8" y2="2120.7" stroke-width="1.5"/><line x1="1182.4" y1="2120.7" x2="1178.2" y2="2120.7" stroke-width="1.5"/><line x1="845.6" y1="2161.2" x2="848.0" y2="2161.2" stroke-width="1.5"/><line x1="1182.4" y1="2161.2" x2="1180.0" y2="2161.2" stroke-width="1.5"/><line x1="845.6" y1="2201.7" x2="849.8" y2="2201.7" stroke-width="1.5"/><line x1="1182.4" y1="2201.7" x2="1178.2" y2="2201.7" stroke-width="1.5"/><line x1="845.6" y1="2242.4" x2="848.0" y2="2242.4" stroke-width="1.5"/><line x1="1182.4" y1="2242.4" x2="1180.0" y2="2242.4" stroke-width="1.5"/><line x1="845.6" y1="2283.1" x2="849.8" y2="2283.1" stroke-width="1.5"/><line x1="1182.4" y1="2283.1" x2="1178.2" y2="2283.1" stroke-width="1.5"/></g><text x="875.3" y="2339.7" font-size="21" text-anchor="middle" dominant-baseline="central" fill="#111">0</text><text x="936.7" y="2339.7" font-size="21" text-anchor="middle" dominant-baseline="central" fill="#111">2</text><text x="998.1" y="2339.7" font-size="21" text-anchor="middle" dominant-baseline="central" fill="#111">4</text><text x="1059.5" y="2339.7" font-size="21" text-anchor="middle" dominant-baseline="central" fill="#111">6</text><text x="1120.9" y="2339.7" font-size="21" text-anchor="middle" dominant-baseline="central" fill="#111">8</text><text x="1182.3" y="2339.7" font-size="21" text-anchor="middle" dominant-baseline="central" fill="#111">10</text><text x="840.0" y="2041.0" font-size="21" text-anchor="end" dominant-baseline="central" fill="#111">0.0000</text><text x="840.0" y="2120.7" font-size="21" text-anchor="end" dominant-baseline="central" fill="#111">0.0005</text><text x="840.0" y="2201.7" font-size="21" text-anchor="end" dominant-baseline="central" fill="#111">–0.0010</text><text x="840.0" y="2283.1" font-size="21" text-anchor="end" dominant-baseline="central" fill="#111">–0.0015</text><text x="1012.6" y="2378.2" font-size="21.2" text-anchor="middle" dominant-baseline="central" fill="#111">Time (ps)</text><text transform="translate(736.6 2176.6) rotate(-90)" font-size="21" text-anchor="middle" dominant-baseline="central" fill="#111"><tspan font-size="17.5">Δ</tspan>A (OD)</text><line x1="967.2" y1="2117.2" x2="990.9" y2="2117.2" stroke="#b4b4ee" stroke-width="1.2" stroke-dasharray="4 2.5"/><circle cx="979.0" cy="2117.2" r="3.6" fill="#fff" stroke="#b4b4ee" stroke-width="1"/><text x="997.9" y="2116.5" font-size="21" dominant-baseline="central" fill="#111">Kinetic at 1103 nm</text><line x1="967.2" y1="2144.1" x2="990.9" y2="2144.1" stroke="#1c1c1c" stroke-width="3.2"/><text x="997.9" y="2144.1" font-size="21" dominant-baseline="central" fill="#111">Fit</text></g>
</svg>
</body></html>
